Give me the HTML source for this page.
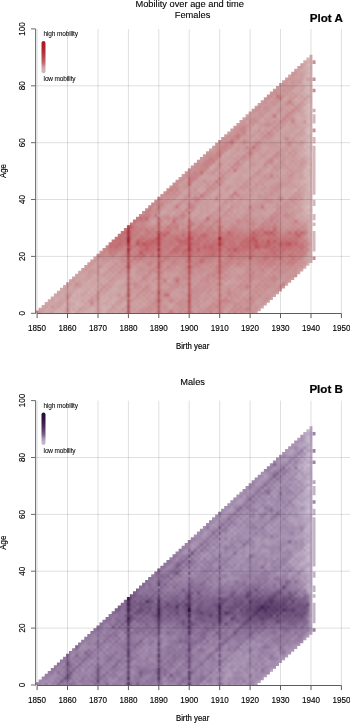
<!DOCTYPE html><html><head><meta charset="utf-8"><style>html,body{margin:0;padding:0;background:#fff;width:350px;height:723px;overflow:hidden}svg{display:block;will-change:transform}text{stroke:#000;stroke-width:0.22px;paint-order:stroke}text.tt{stroke-width:0.1px}text.lt{stroke-width:0.06px}text.tk{stroke-width:0.13px}text.ax{stroke-width:0.16px}</style></head><body><svg width="350" height="723" viewBox="0 0 350 723" font-family="Liberation Sans, sans-serif">
<defs><filter id="blr" x="-5%" y="-5%" width="110%" height="110%"><feGaussianBlur stdDeviation="0.8"/></filter></defs>
<rect width="350" height="723" fill="#fff"/>
<defs><clipPath id="clip313"><rect x="35.65" y="13.3" width="300" height="300.0"/></clipPath></defs>
<defs><clipPath id="st313"><path d="M35.65 310.60 L38.62 310.60 L38.62 307.75 L41.66 307.75 L41.66 304.91 L44.71 304.91 L44.71 302.07 L47.75 302.07 L47.75 299.22 L50.79 299.22 L50.79 296.38 L53.84 296.38 L53.84 293.53 L56.88 293.53 L56.88 290.69 L59.92 290.69 L59.92 287.85 L62.97 287.85 L62.97 285.00 L66.01 285.00 L66.01 282.16 L69.05 282.16 L69.05 279.31 L72.09 279.31 L72.09 276.47 L75.14 276.47 L75.14 273.63 L78.18 273.63 L78.18 270.78 L81.22 270.78 L81.22 267.94 L84.27 267.94 L84.27 265.09 L87.31 265.09 L87.31 262.25 L90.35 262.25 L90.35 259.41 L93.40 259.41 L93.40 256.56 L96.44 256.56 L96.44 253.72 L99.48 253.72 L99.48 250.87 L102.52 250.87 L102.52 248.03 L105.57 248.03 L105.57 245.19 L108.61 245.19 L108.61 242.34 L111.65 242.34 L111.65 239.50 L114.70 239.50 L114.70 236.65 L117.74 236.65 L117.74 233.81 L120.78 233.81 L120.78 230.97 L123.83 230.97 L123.83 228.12 L126.87 228.12 L126.87 225.28 L129.91 225.28 L129.91 222.43 L132.95 222.43 L132.95 219.59 L136.00 219.59 L136.00 216.75 L139.04 216.75 L139.04 213.90 L142.08 213.90 L142.08 211.06 L145.13 211.06 L145.13 208.21 L148.17 208.21 L148.17 205.37 L151.21 205.37 L151.21 202.53 L154.26 202.53 L154.26 199.68 L157.30 199.68 L157.30 196.84 L160.34 196.84 L160.34 193.99 L163.38 193.99 L163.38 191.15 L166.43 191.15 L166.43 188.31 L169.47 188.31 L169.47 185.46 L172.51 185.46 L172.51 182.62 L175.56 182.62 L175.56 179.77 L178.60 179.77 L178.60 176.93 L181.64 176.93 L181.64 174.09 L184.69 174.09 L184.69 171.24 L187.73 171.24 L187.73 168.40 L190.77 168.40 L190.77 165.55 L193.81 165.55 L193.81 162.71 L196.86 162.71 L196.86 159.87 L199.90 159.87 L199.90 157.02 L202.94 157.02 L202.94 154.18 L205.99 154.18 L205.99 151.33 L209.03 151.33 L209.03 148.49 L212.07 148.49 L212.07 145.65 L215.12 145.65 L215.12 142.80 L218.16 142.80 L218.16 139.96 L221.20 139.96 L221.20 137.11 L224.24 137.11 L224.24 134.27 L227.29 134.27 L227.29 131.43 L230.33 131.43 L230.33 128.58 L233.37 128.58 L233.37 125.74 L236.42 125.74 L236.42 122.89 L239.46 122.89 L239.46 120.05 L242.50 120.05 L242.50 117.21 L245.55 117.21 L245.55 114.36 L248.59 114.36 L248.59 111.52 L251.63 111.52 L251.63 108.67 L254.67 108.67 L254.67 105.83 L257.72 105.83 L257.72 102.99 L260.76 102.99 L260.76 100.14 L263.80 100.14 L263.80 97.30 L266.85 97.30 L266.85 94.45 L269.89 94.45 L269.89 91.61 L272.93 91.61 L272.93 88.77 L275.98 88.77 L275.98 85.92 L279.02 85.92 L279.02 83.08 L282.06 83.08 L282.06 80.23 L285.10 80.23 L285.10 77.39 L288.15 77.39 L288.15 74.55 L291.19 74.55 L291.19 71.70 L294.23 71.70 L294.23 68.86 L297.28 68.86 L297.28 66.01 L300.32 66.01 L300.32 63.17 L303.36 63.17 L303.36 60.33 L306.41 60.33 L306.41 57.48 L309.45 57.48 L309.45 54.64 L312.49 54.64 L312.49 262.96 L309.45 262.96 L309.45 265.81 L306.41 265.81 L306.41 268.65 L303.36 268.65 L303.36 271.49 L300.32 271.49 L300.32 274.34 L297.28 274.34 L297.28 277.18 L294.23 277.18 L294.23 280.03 L291.19 280.03 L291.19 282.87 L288.15 282.87 L288.15 285.71 L285.10 285.71 L285.10 288.56 L282.06 288.56 L282.06 291.40 L279.02 291.40 L279.02 294.25 L275.98 294.25 L275.98 297.09 L272.93 297.09 L272.93 299.93 L269.89 299.93 L269.89 302.78 L266.85 302.78 L266.85 305.62 L263.80 305.62 L263.80 308.47 L260.76 308.47 L260.76 311.31 L257.72 311.31 L257.72 313.30 L254.67 313.30 L254.67 313.30 L251.63 313.30 L251.63 313.30 L248.59 313.30 L248.59 313.30 L245.55 313.30 L245.55 313.30 L242.50 313.30 L242.50 313.30 L239.46 313.30 L239.46 313.30 L236.42 313.30 L236.42 313.30 L233.37 313.30 L233.37 313.30 L230.33 313.30 L230.33 313.30 L227.29 313.30 L227.29 313.30 L224.24 313.30 L224.24 313.30 L221.20 313.30 L221.20 313.30 L218.16 313.30 L218.16 313.30 L215.12 313.30 L215.12 313.30 L212.07 313.30 L212.07 313.30 L209.03 313.30 L209.03 313.30 L205.99 313.30 L205.99 313.30 L202.94 313.30 L202.94 313.30 L199.90 313.30 L199.90 313.30 L196.86 313.30 L196.86 313.30 L193.81 313.30 L193.81 313.30 L190.77 313.30 L190.77 313.30 L187.73 313.30 L187.73 313.30 L184.69 313.30 L184.69 313.30 L181.64 313.30 L181.64 313.30 L178.60 313.30 L178.60 313.30 L175.56 313.30 L175.56 313.30 L172.51 313.30 L172.51 313.30 L169.47 313.30 L169.47 313.30 L166.43 313.30 L166.43 313.30 L163.38 313.30 L163.38 313.30 L160.34 313.30 L160.34 313.30 L157.30 313.30 L157.30 313.30 L154.26 313.30 L154.26 313.30 L151.21 313.30 L151.21 313.30 L148.17 313.30 L148.17 313.30 L145.13 313.30 L145.13 313.30 L142.08 313.30 L142.08 313.30 L139.04 313.30 L139.04 313.30 L136.00 313.30 L136.00 313.30 L132.95 313.30 L132.95 313.30 L129.91 313.30 L129.91 313.30 L126.87 313.30 L126.87 313.30 L123.83 313.30 L123.83 313.30 L120.78 313.30 L120.78 313.30 L117.74 313.30 L117.74 313.30 L114.70 313.30 L114.70 313.30 L111.65 313.30 L111.65 313.30 L108.61 313.30 L108.61 313.30 L105.57 313.30 L105.57 313.30 L102.52 313.30 L102.52 313.30 L99.48 313.30 L99.48 313.30 L96.44 313.30 L96.44 313.30 L93.40 313.30 L93.40 313.30 L90.35 313.30 L90.35 313.30 L87.31 313.30 L87.31 313.30 L84.27 313.30 L84.27 313.30 L81.22 313.30 L81.22 313.30 L78.18 313.30 L78.18 313.30 L75.14 313.30 L75.14 313.30 L72.09 313.30 L72.09 313.30 L69.05 313.30 L69.05 313.30 L66.01 313.30 L66.01 313.30 L62.97 313.30 L62.97 313.30 L59.92 313.30 L59.92 313.30 L56.88 313.30 L56.88 313.30 L53.84 313.30 L53.84 313.30 L50.79 313.30 L50.79 313.30 L47.75 313.30 L47.75 313.30 L44.71 313.30 L44.71 313.30 L41.66 313.30 L41.66 313.30 L38.62 313.30 L38.62 313.30 L35.65 313.30Z"/></clipPath></defs><g clip-path="url(#st313)"><g filter="url(#blr)"><path fill="#dcc8c9" d="M306.41 205.37h3.34v3.56h-3.34zM306.41 131.43h3.34v3.55h-3.34zM306.41 120.05h3.34v3.56h-3.34zM306.41 102.99h3.34v3.55h-3.34z"/>
<path fill="#dac2c3" d="M306.41 165.55h3.34v3.56h-3.34zM306.41 148.49h3.34v3.56h-3.34zM306.41 85.92h3.34v3.56h-3.34zM306.41 63.17h3.34v3.56h-3.34z"/>
<path fill="#d8bdbe" d="M62.97 302.07h3.34v3.55h-3.34zM69.05 307.75h3.34v3.56h-3.34zM72.09 316.29h3.34v0.01h-3.34zM72.09 313.44h3.34v2.86h-3.34zM72.09 310.60h3.34v3.56h-3.34zM72.09 293.53h3.34v3.56h-3.34zM75.14 307.75h3.34v3.56h-3.34zM75.14 302.07h3.34v3.55h-3.34zM84.27 299.22h3.34v3.56h-3.34zM87.31 290.69h3.34v3.56h-3.34zM93.40 290.69h3.34v3.56h-3.34zM303.36 196.84h3.34v3.55h-3.34zM303.36 179.77h3.34v3.56h-3.34zM303.36 151.33h3.34v3.56h-3.34zM303.36 145.65h3.34v3.55h-3.34zM303.36 105.83h3.34v3.56h-3.34zM303.36 94.45h3.34v3.56h-3.34zM303.36 88.77h3.34v3.55h-3.34zM306.41 211.06h3.34v3.56h-3.34zM306.41 176.93h3.34v3.56h-3.34zM306.41 142.80h3.34v3.56h-3.34zM306.41 125.74h3.34v3.56h-3.34zM306.41 108.67h3.34v3.56h-3.34zM306.41 91.61h3.34v3.56h-3.34zM306.41 74.55h3.34v3.55h-3.34z"/>
<path fill="#d5b7b9" d="M50.79 302.07h3.34v3.55h-3.34zM53.84 316.29h3.34v0.01h-3.34zM53.84 313.44h3.34v2.86h-3.34zM53.84 310.60h3.34v3.56h-3.34zM53.84 299.22h3.34v3.56h-3.34zM56.88 307.75h3.34v3.56h-3.34zM75.14 290.69h3.34v3.56h-3.34zM78.18 304.91h3.34v3.56h-3.34zM78.18 287.85h3.34v3.56h-3.34zM81.22 302.07h3.34v3.55h-3.34zM87.31 296.38h3.34v3.56h-3.34zM90.35 287.85h3.34v3.56h-3.34zM108.61 304.91h3.34v3.56h-3.34zM120.78 304.91h3.34v3.56h-3.34zM123.83 302.07h3.34v3.55h-3.34zM294.23 188.31h3.34v3.56h-3.34zM300.32 182.62h3.34v3.56h-3.34zM300.32 154.18h3.34v3.56h-3.34zM300.32 137.11h3.34v3.56h-3.34zM303.36 208.21h3.34v3.56h-3.34zM303.36 202.53h3.34v3.56h-3.34zM303.36 174.09h3.34v3.55h-3.34zM303.36 168.40h3.34v3.56h-3.34zM303.36 111.52h3.34v3.56h-3.34zM303.36 80.23h3.34v3.56h-3.34zM303.36 77.39h3.34v3.56h-3.34zM306.41 267.94h3.34v3.56h-3.34zM306.41 265.09h3.34v3.56h-3.34zM306.41 262.25h3.34v3.56h-3.34zM306.41 216.75h3.34v3.56h-3.34zM306.41 199.68h3.34v3.56h-3.34zM306.41 193.99h3.34v3.56h-3.34zM306.41 188.31h3.34v3.56h-3.34zM306.41 171.24h3.34v3.56h-3.34zM306.41 159.87h3.34v3.55h-3.34zM306.41 154.18h3.34v3.56h-3.34zM306.41 137.11h3.34v3.56h-3.34zM306.41 128.58h3.34v3.56h-3.34zM306.41 114.36h3.34v3.56h-3.34zM306.41 111.52h3.34v3.56h-3.34zM306.41 97.30h3.34v3.56h-3.34zM306.41 68.86h3.34v3.56h-3.34zM306.41 57.48h3.34v3.56h-3.34zM306.41 54.64h3.34v3.55h-3.34zM306.41 51.79h3.34v3.56h-3.34zM309.45 236.65h3.34v3.56h-3.34zM309.45 230.97h3.34v3.56h-3.34zM309.45 222.43h3.34v3.55h-3.34zM309.45 219.59h3.34v3.56h-3.34zM309.45 211.06h3.34v3.56h-3.34zM309.45 196.84h3.34v3.55h-3.34zM309.45 165.55h3.34v3.56h-3.34zM309.45 154.18h3.34v3.56h-3.34zM309.45 151.33h3.34v3.56h-3.34zM309.45 142.80h3.34v3.56h-3.34zM309.45 131.43h3.34v3.55h-3.34zM309.45 128.58h3.34v3.56h-3.34zM309.45 125.74h3.34v3.56h-3.34zM309.45 108.67h3.34v3.56h-3.34zM309.45 105.83h3.34v3.56h-3.34zM309.45 80.23h3.34v3.56h-3.34zM309.45 74.55h3.34v3.55h-3.34zM309.45 68.86h3.34v3.56h-3.34zM309.45 63.17h3.34v3.56h-3.34zM312.49 236.65h3.34v3.56h-3.34zM312.49 230.97h3.34v3.56h-3.34zM312.49 222.43h3.34v3.55h-3.34zM312.49 219.59h3.34v3.56h-3.34zM312.49 211.06h3.34v3.56h-3.34zM312.49 196.84h3.34v3.55h-3.34zM312.49 165.55h3.34v3.56h-3.34zM312.49 154.18h3.34v3.56h-3.34zM312.49 151.33h3.34v3.56h-3.34zM312.49 142.80h3.34v3.56h-3.34zM312.49 131.43h3.34v3.55h-3.34zM312.49 128.58h3.34v3.56h-3.34zM312.49 125.74h3.34v3.56h-3.34zM312.49 108.67h3.34v3.56h-3.34zM312.49 105.83h3.34v3.56h-3.34zM312.49 80.23h3.34v3.56h-3.34zM312.49 74.55h3.34v3.55h-3.34zM312.49 68.86h3.34v3.56h-3.34zM312.49 63.17h3.34v3.56h-3.34zM315.53 236.65h3.34v3.56h-3.34zM315.53 230.97h3.34v3.56h-3.34zM315.53 222.43h3.34v3.55h-3.34zM315.53 219.59h3.34v3.56h-3.34zM315.53 211.06h3.34v3.56h-3.34zM315.53 196.84h3.34v3.55h-3.34zM315.53 165.55h3.34v3.56h-3.34zM315.53 154.18h3.34v3.56h-3.34zM315.53 151.33h3.34v3.56h-3.34zM315.53 142.80h3.34v3.56h-3.34zM315.53 131.43h3.34v3.55h-3.34zM315.53 128.58h3.34v3.56h-3.34zM315.53 125.74h3.34v3.56h-3.34zM315.53 108.67h3.34v3.56h-3.34zM315.53 105.83h3.34v3.56h-3.34zM315.53 80.23h3.34v3.56h-3.34zM315.53 74.55h3.34v3.55h-3.34zM315.53 68.86h3.34v3.56h-3.34zM315.53 63.17h3.34v3.56h-3.34z"/>
<path fill="#d3b2b4" d="M44.71 307.75h3.34v3.56h-3.34zM47.75 304.91h3.34v3.56h-3.34zM50.79 307.75h3.34v3.56h-3.34zM59.92 316.29h3.34v0.01h-3.34zM59.92 313.44h3.34v2.86h-3.34zM59.92 310.60h3.34v3.56h-3.34zM59.92 304.91h3.34v3.56h-3.34zM59.92 293.53h3.34v3.56h-3.34zM69.05 299.22h3.34v3.56h-3.34zM69.05 296.38h3.34v3.56h-3.34zM69.05 285.00h3.34v3.56h-3.34zM72.09 304.91h3.34v3.56h-3.34zM72.09 299.22h3.34v3.56h-3.34zM78.18 299.22h3.34v3.56h-3.34zM81.22 296.38h3.34v3.56h-3.34zM84.27 293.53h3.34v3.56h-3.34zM87.31 302.07h3.34v3.55h-3.34zM87.31 279.31h3.34v3.56h-3.34zM90.35 293.53h3.34v3.56h-3.34zM93.40 307.75h3.34v3.56h-3.34zM93.40 285.00h3.34v3.56h-3.34zM93.40 273.63h3.34v3.55h-3.34zM96.44 287.85h3.34v3.56h-3.34zM99.48 296.38h3.34v3.56h-3.34zM99.48 279.31h3.34v3.56h-3.34zM99.48 267.94h3.34v3.56h-3.34zM102.52 316.29h3.34v0.01h-3.34zM102.52 313.44h3.34v2.86h-3.34zM102.52 310.60h3.34v3.56h-3.34zM102.52 304.91h3.34v3.56h-3.34zM102.52 299.22h3.34v3.56h-3.34zM102.52 282.16h3.34v3.56h-3.34zM102.52 276.47h3.34v3.56h-3.34zM105.57 307.75h3.34v3.56h-3.34zM105.57 296.38h3.34v3.56h-3.34zM105.57 290.69h3.34v3.56h-3.34zM105.57 279.31h3.34v3.56h-3.34zM108.61 287.85h3.34v3.56h-3.34zM111.65 285.00h3.34v3.56h-3.34zM111.65 273.63h3.34v3.55h-3.34zM114.70 287.85h3.34v3.56h-3.34zM114.70 282.16h3.34v3.56h-3.34zM114.70 270.78h3.34v3.56h-3.34zM117.74 307.75h3.34v3.56h-3.34zM117.74 279.31h3.34v3.56h-3.34zM117.74 267.94h3.34v3.56h-3.34zM120.78 293.53h3.34v3.56h-3.34zM129.91 285.00h3.34v3.56h-3.34zM172.51 211.06h3.34v3.56h-3.34zM190.77 193.99h3.34v3.56h-3.34zM196.86 193.99h3.34v3.56h-3.34zM196.86 188.31h3.34v3.56h-3.34zM199.90 191.15h3.34v3.55h-3.34zM202.94 188.31h3.34v3.56h-3.34zM209.03 165.55h3.34v3.56h-3.34zM215.12 176.93h3.34v3.56h-3.34zM215.12 171.24h3.34v3.56h-3.34zM227.29 165.55h3.34v3.56h-3.34zM230.33 162.71h3.34v3.56h-3.34zM245.55 142.80h3.34v3.56h-3.34zM251.63 137.11h3.34v3.56h-3.34zM254.67 168.40h3.34v3.56h-3.34zM254.67 134.27h3.34v3.56h-3.34zM260.76 128.58h3.34v3.56h-3.34zM266.85 168.40h3.34v3.56h-3.34zM266.85 128.58h3.34v3.56h-3.34zM269.89 125.74h3.34v3.56h-3.34zM272.93 208.21h3.34v3.56h-3.34zM275.98 114.36h3.34v3.56h-3.34zM285.10 196.84h3.34v3.55h-3.34zM288.15 193.99h3.34v3.56h-3.34zM288.15 148.49h3.34v3.56h-3.34zM288.15 108.67h3.34v3.56h-3.34zM291.19 105.83h3.34v3.56h-3.34zM294.23 102.99h3.34v3.55h-3.34zM294.23 97.30h3.34v3.56h-3.34zM297.28 213.90h3.34v3.56h-3.34zM297.28 157.02h3.34v3.56h-3.34zM297.28 128.58h3.34v3.56h-3.34zM297.28 117.21h3.34v3.55h-3.34zM297.28 100.14h3.34v3.56h-3.34zM300.32 205.37h3.34v3.56h-3.34zM300.32 199.68h3.34v3.56h-3.34zM300.32 148.49h3.34v3.56h-3.34zM300.32 91.61h3.34v3.56h-3.34zM300.32 68.86h3.34v3.56h-3.34zM303.36 270.78h3.34v3.56h-3.34zM303.36 267.94h3.34v3.56h-3.34zM303.36 265.09h3.34v3.56h-3.34zM303.36 219.59h3.34v3.56h-3.34zM303.36 213.90h3.34v3.56h-3.34zM303.36 185.46h3.34v3.56h-3.34zM303.36 134.27h3.34v3.56h-3.34zM303.36 128.58h3.34v3.56h-3.34zM303.36 122.89h3.34v3.56h-3.34zM303.36 117.21h3.34v3.55h-3.34zM303.36 100.14h3.34v3.56h-3.34zM303.36 66.01h3.34v3.56h-3.34zM306.41 185.46h3.34v3.56h-3.34zM306.41 182.62h3.34v3.56h-3.34zM306.41 179.77h3.34v3.56h-3.34zM306.41 151.33h3.34v3.56h-3.34zM306.41 139.96h3.34v3.56h-3.34zM306.41 117.21h3.34v3.55h-3.34zM306.41 105.83h3.34v3.56h-3.34zM306.41 83.08h3.34v3.56h-3.34zM306.41 80.23h3.34v3.56h-3.34zM309.45 265.09h3.34v3.56h-3.34zM309.45 262.25h3.34v3.56h-3.34zM309.45 259.41h3.34v3.56h-3.34zM309.45 256.56h3.34v3.56h-3.34zM309.45 253.72h3.34v3.56h-3.34zM309.45 250.87h3.34v3.55h-3.34zM309.45 248.03h3.34v3.55h-3.34zM309.45 245.19h3.34v3.56h-3.34zM309.45 228.12h3.34v3.56h-3.34zM309.45 225.28h3.34v3.56h-3.34zM309.45 213.90h3.34v3.56h-3.34zM309.45 205.37h3.34v3.56h-3.34zM309.45 202.53h3.34v3.56h-3.34zM309.45 191.15h3.34v3.55h-3.34zM309.45 188.31h3.34v3.56h-3.34zM309.45 185.46h3.34v3.56h-3.34zM309.45 182.62h3.34v3.56h-3.34zM309.45 179.77h3.34v3.56h-3.34zM309.45 176.93h3.34v3.56h-3.34zM309.45 174.09h3.34v3.55h-3.34zM309.45 159.87h3.34v3.55h-3.34zM309.45 157.02h3.34v3.56h-3.34zM309.45 148.49h3.34v3.56h-3.34zM309.45 139.96h3.34v3.56h-3.34zM309.45 137.11h3.34v3.56h-3.34zM309.45 122.89h3.34v3.56h-3.34zM309.45 120.05h3.34v3.56h-3.34zM309.45 117.21h3.34v3.55h-3.34zM309.45 114.36h3.34v3.56h-3.34zM309.45 111.52h3.34v3.56h-3.34zM309.45 102.99h3.34v3.55h-3.34zM309.45 100.14h3.34v3.56h-3.34zM309.45 94.45h3.34v3.56h-3.34zM309.45 91.61h3.34v3.56h-3.34zM309.45 88.77h3.34v3.55h-3.34zM309.45 83.08h3.34v3.56h-3.34zM309.45 71.70h3.34v3.56h-3.34zM309.45 60.33h3.34v3.55h-3.34zM309.45 57.48h3.34v3.56h-3.34zM309.45 54.64h3.34v3.55h-3.34zM309.45 51.79h3.34v3.56h-3.34zM309.45 48.95h3.34v3.56h-3.34zM312.49 265.09h3.34v3.56h-3.34zM312.49 262.25h3.34v3.56h-3.34zM312.49 259.41h3.34v3.56h-3.34zM312.49 256.56h3.34v3.56h-3.34zM312.49 253.72h3.34v3.56h-3.34zM312.49 250.87h3.34v3.55h-3.34zM312.49 248.03h3.34v3.55h-3.34zM312.49 245.19h3.34v3.56h-3.34zM312.49 228.12h3.34v3.56h-3.34zM312.49 225.28h3.34v3.56h-3.34zM312.49 213.90h3.34v3.56h-3.34zM312.49 205.37h3.34v3.56h-3.34zM312.49 202.53h3.34v3.56h-3.34zM312.49 191.15h3.34v3.55h-3.34zM312.49 188.31h3.34v3.56h-3.34zM312.49 185.46h3.34v3.56h-3.34zM312.49 182.62h3.34v3.56h-3.34zM312.49 179.77h3.34v3.56h-3.34zM312.49 176.93h3.34v3.56h-3.34zM312.49 174.09h3.34v3.55h-3.34zM312.49 159.87h3.34v3.55h-3.34zM312.49 157.02h3.34v3.56h-3.34zM312.49 148.49h3.34v3.56h-3.34zM312.49 139.96h3.34v3.56h-3.34zM312.49 137.11h3.34v3.56h-3.34zM312.49 122.89h3.34v3.56h-3.34zM312.49 120.05h3.34v3.56h-3.34zM312.49 117.21h3.34v3.55h-3.34zM312.49 114.36h3.34v3.56h-3.34zM312.49 111.52h3.34v3.56h-3.34zM312.49 102.99h3.34v3.55h-3.34zM312.49 100.14h3.34v3.56h-3.34zM312.49 94.45h3.34v3.56h-3.34zM312.49 91.61h3.34v3.56h-3.34zM312.49 88.77h3.34v3.55h-3.34zM312.49 83.08h3.34v3.56h-3.34zM312.49 71.70h3.34v3.56h-3.34zM312.49 60.33h3.34v3.55h-3.34zM312.49 57.48h3.34v3.56h-3.34zM312.49 54.64h3.34v3.55h-3.34zM312.49 51.79h3.34v3.56h-3.34zM312.49 48.95h3.34v3.56h-3.34zM315.53 265.09h3.34v3.56h-3.34zM315.53 262.25h3.34v3.56h-3.34zM315.53 259.41h3.34v3.56h-3.34zM315.53 256.56h3.34v3.56h-3.34zM315.53 253.72h3.34v3.56h-3.34zM315.53 250.87h3.34v3.55h-3.34zM315.53 248.03h3.34v3.55h-3.34zM315.53 245.19h3.34v3.56h-3.34zM315.53 228.12h3.34v3.56h-3.34zM315.53 225.28h3.34v3.56h-3.34zM315.53 213.90h3.34v3.56h-3.34zM315.53 205.37h3.34v3.56h-3.34zM315.53 202.53h3.34v3.56h-3.34zM315.53 191.15h3.34v3.55h-3.34zM315.53 188.31h3.34v3.56h-3.34zM315.53 185.46h3.34v3.56h-3.34zM315.53 182.62h3.34v3.56h-3.34zM315.53 179.77h3.34v3.56h-3.34zM315.53 176.93h3.34v3.56h-3.34zM315.53 174.09h3.34v3.55h-3.34zM315.53 159.87h3.34v3.55h-3.34zM315.53 157.02h3.34v3.56h-3.34zM315.53 148.49h3.34v3.56h-3.34zM315.53 139.96h3.34v3.56h-3.34zM315.53 137.11h3.34v3.56h-3.34zM315.53 122.89h3.34v3.56h-3.34zM315.53 120.05h3.34v3.56h-3.34zM315.53 117.21h3.34v3.55h-3.34zM315.53 114.36h3.34v3.56h-3.34zM315.53 111.52h3.34v3.56h-3.34zM315.53 102.99h3.34v3.55h-3.34zM315.53 100.14h3.34v3.56h-3.34zM315.53 94.45h3.34v3.56h-3.34zM315.53 91.61h3.34v3.56h-3.34zM315.53 88.77h3.34v3.55h-3.34zM315.53 83.08h3.34v3.56h-3.34zM315.53 71.70h3.34v3.56h-3.34zM315.53 60.33h3.34v3.55h-3.34zM315.53 57.48h3.34v3.56h-3.34zM315.53 54.64h3.34v3.55h-3.34zM315.53 51.79h3.34v3.56h-3.34zM315.53 48.95h3.34v3.56h-3.34z"/>
<path fill="#d1adae" d="M47.75 299.22h3.34v3.56h-3.34zM47.75 296.38h3.34v3.56h-3.34zM47.75 293.53h3.34v3.56h-3.34zM53.84 304.91h3.34v3.56h-3.34zM56.88 316.29h3.34v0.01h-3.34zM56.88 313.44h3.34v2.86h-3.34zM56.88 310.60h3.34v3.56h-3.34zM56.88 296.38h3.34v3.56h-3.34zM59.92 287.85h3.34v3.56h-3.34zM59.92 285.00h3.34v3.56h-3.34zM59.92 282.16h3.34v3.56h-3.34zM62.97 307.75h3.34v3.56h-3.34zM62.97 304.91h3.34v3.56h-3.34zM62.97 296.38h3.34v3.56h-3.34zM62.97 290.69h3.34v3.56h-3.34zM62.97 285.00h3.34v3.56h-3.34zM62.97 282.16h3.34v3.56h-3.34zM62.97 279.31h3.34v3.56h-3.34zM72.09 282.16h3.34v3.56h-3.34zM75.14 279.31h3.34v3.56h-3.34zM78.18 293.53h3.34v3.56h-3.34zM81.22 290.69h3.34v3.56h-3.34zM81.22 285.00h3.34v3.56h-3.34zM81.22 273.63h3.34v3.55h-3.34zM84.27 316.29h3.34v0.01h-3.34zM84.27 313.44h3.34v2.86h-3.34zM84.27 310.60h3.34v3.56h-3.34zM84.27 304.91h3.34v3.56h-3.34zM84.27 287.85h3.34v3.56h-3.34zM84.27 282.16h3.34v3.56h-3.34zM84.27 270.78h3.34v3.56h-3.34zM87.31 307.75h3.34v3.56h-3.34zM87.31 285.00h3.34v3.56h-3.34zM87.31 267.94h3.34v3.56h-3.34zM90.35 316.29h3.34v0.01h-3.34zM90.35 313.44h3.34v2.86h-3.34zM90.35 310.60h3.34v3.56h-3.34zM90.35 307.75h3.34v3.56h-3.34zM90.35 304.91h3.34v3.56h-3.34zM90.35 276.47h3.34v3.56h-3.34zM90.35 265.09h3.34v3.56h-3.34zM93.40 302.07h3.34v3.55h-3.34zM93.40 262.25h3.34v3.56h-3.34zM96.44 282.16h3.34v3.56h-3.34zM99.48 302.07h3.34v3.55h-3.34zM99.48 285.00h3.34v3.56h-3.34zM102.52 307.75h3.34v3.56h-3.34zM102.52 287.85h3.34v3.56h-3.34zM105.57 285.00h3.34v3.56h-3.34zM105.57 273.63h3.34v3.55h-3.34zM105.57 262.25h3.34v3.56h-3.34zM108.61 299.22h3.34v3.56h-3.34zM108.61 276.47h3.34v3.56h-3.34zM108.61 270.78h3.34v3.56h-3.34zM111.65 302.07h3.34v3.55h-3.34zM111.65 299.22h3.34v3.56h-3.34zM111.65 296.38h3.34v3.56h-3.34zM111.65 290.69h3.34v3.56h-3.34zM114.70 316.29h3.34v0.01h-3.34zM114.70 313.44h3.34v2.86h-3.34zM114.70 310.60h3.34v3.56h-3.34zM114.70 304.91h3.34v3.56h-3.34zM117.74 296.38h3.34v3.56h-3.34zM120.78 316.29h3.34v0.01h-3.34zM120.78 313.44h3.34v2.86h-3.34zM120.78 310.60h3.34v3.56h-3.34zM123.83 307.75h3.34v3.56h-3.34zM129.91 302.07h3.34v3.55h-3.34zM129.91 273.63h3.34v3.55h-3.34zM129.91 267.94h3.34v3.56h-3.34zM132.95 293.53h3.34v3.56h-3.34zM136.00 307.75h3.34v3.56h-3.34zM139.04 304.91h3.34v3.56h-3.34zM139.04 276.47h3.34v3.56h-3.34zM142.08 302.07h3.34v3.55h-3.34zM142.08 285.00h3.34v3.56h-3.34zM160.34 211.06h3.34v3.56h-3.34zM166.43 279.31h3.34v3.56h-3.34zM169.47 304.91h3.34v3.56h-3.34zM169.47 213.90h3.34v3.56h-3.34zM172.51 199.68h3.34v3.56h-3.34zM175.56 208.21h3.34v3.56h-3.34zM178.60 205.37h3.34v3.56h-3.34zM178.60 193.99h3.34v3.56h-3.34zM181.64 208.21h3.34v3.56h-3.34zM184.69 205.37h3.34v3.56h-3.34zM190.77 285.00h3.34v3.56h-3.34zM190.77 199.68h3.34v3.56h-3.34zM193.81 316.29h3.34v0.01h-3.34zM193.81 313.44h3.34v2.86h-3.34zM193.81 310.60h3.34v3.56h-3.34zM193.81 179.77h3.34v3.56h-3.34zM196.86 205.37h3.34v3.56h-3.34zM196.86 176.93h3.34v3.56h-3.34zM199.90 304.91h3.34v3.56h-3.34zM199.90 185.46h3.34v3.56h-3.34zM202.94 199.68h3.34v3.56h-3.34zM202.94 182.62h3.34v3.56h-3.34zM205.99 213.90h3.34v3.56h-3.34zM205.99 196.84h3.34v3.55h-3.34zM209.03 199.68h3.34v3.56h-3.34zM209.03 193.99h3.34v3.56h-3.34zM212.07 208.21h3.34v3.56h-3.34zM212.07 191.15h3.34v3.55h-3.34zM221.20 165.55h3.34v3.56h-3.34zM221.20 154.18h3.34v3.56h-3.34zM224.24 316.29h3.34v0.01h-3.34zM224.24 313.44h3.34v2.86h-3.34zM224.24 310.60h3.34v3.56h-3.34zM224.24 282.16h3.34v3.56h-3.34zM224.24 179.77h3.34v3.56h-3.34zM224.24 168.40h3.34v3.56h-3.34zM224.24 162.71h3.34v3.56h-3.34zM224.24 151.33h3.34v3.56h-3.34zM227.29 307.75h3.34v3.56h-3.34zM227.29 279.31h3.34v3.56h-3.34zM227.29 205.37h3.34v3.56h-3.34zM227.29 159.87h3.34v3.55h-3.34zM227.29 148.49h3.34v3.56h-3.34zM230.33 191.15h3.34v3.55h-3.34zM233.37 199.68h3.34v3.56h-3.34zM233.37 159.87h3.34v3.55h-3.34zM233.37 154.18h3.34v3.56h-3.34zM233.37 142.80h3.34v3.56h-3.34zM236.42 213.90h3.34v3.56h-3.34zM236.42 196.84h3.34v3.55h-3.34zM236.42 157.02h3.34v3.56h-3.34zM236.42 151.33h3.34v3.56h-3.34zM236.42 139.96h3.34v3.56h-3.34zM239.46 205.37h3.34v3.56h-3.34zM239.46 182.62h3.34v3.56h-3.34zM239.46 148.49h3.34v3.56h-3.34zM239.46 137.11h3.34v3.56h-3.34zM242.50 293.53h3.34v3.56h-3.34zM242.50 202.53h3.34v3.56h-3.34zM242.50 162.71h3.34v3.56h-3.34zM242.50 151.33h3.34v3.56h-3.34zM245.55 290.69h3.34v3.56h-3.34zM245.55 159.87h3.34v3.55h-3.34zM245.55 148.49h3.34v3.56h-3.34zM245.55 120.05h3.34v3.56h-3.34zM248.59 185.46h3.34v3.56h-3.34zM248.59 145.65h3.34v3.55h-3.34zM251.63 285.00h3.34v3.56h-3.34zM251.63 199.68h3.34v3.56h-3.34zM251.63 182.62h3.34v3.56h-3.34zM251.63 171.24h3.34v3.56h-3.34zM251.63 125.74h3.34v3.56h-3.34zM254.67 196.84h3.34v3.55h-3.34zM254.67 179.77h3.34v3.56h-3.34zM254.67 122.89h3.34v3.56h-3.34zM254.67 111.52h3.34v3.56h-3.34zM257.72 165.55h3.34v3.56h-3.34zM257.72 137.11h3.34v3.56h-3.34zM260.76 191.15h3.34v3.55h-3.34zM260.76 185.46h3.34v3.56h-3.34zM260.76 162.71h3.34v3.56h-3.34zM260.76 117.21h3.34v3.55h-3.34zM263.80 182.62h3.34v3.56h-3.34zM263.80 171.24h3.34v3.56h-3.34zM263.80 131.43h3.34v3.55h-3.34zM263.80 114.36h3.34v3.56h-3.34zM266.85 270.78h3.34v3.56h-3.34zM266.85 208.21h3.34v3.56h-3.34zM266.85 202.53h3.34v3.56h-3.34zM266.85 139.96h3.34v3.56h-3.34zM266.85 111.52h3.34v3.56h-3.34zM269.89 267.94h3.34v3.56h-3.34zM269.89 165.55h3.34v3.56h-3.34zM269.89 154.18h3.34v3.56h-3.34zM272.93 196.84h3.34v3.55h-3.34zM272.93 122.89h3.34v3.56h-3.34zM272.93 117.21h3.34v3.55h-3.34zM272.93 94.45h3.34v3.56h-3.34zM275.98 171.24h3.34v3.56h-3.34zM275.98 159.87h3.34v3.55h-3.34zM275.98 148.49h3.34v3.56h-3.34zM275.98 131.43h3.34v3.55h-3.34zM275.98 120.05h3.34v3.56h-3.34zM279.02 202.53h3.34v3.56h-3.34zM279.02 174.09h3.34v3.55h-3.34zM279.02 168.40h3.34v3.56h-3.34zM279.02 157.02h3.34v3.56h-3.34zM279.02 128.58h3.34v3.56h-3.34zM279.02 117.21h3.34v3.55h-3.34zM282.06 188.31h3.34v3.56h-3.34zM282.06 171.24h3.34v3.56h-3.34zM282.06 142.80h3.34v3.56h-3.34zM282.06 97.30h3.34v3.56h-3.34zM285.10 287.85h3.34v3.56h-3.34zM285.10 285.00h3.34v3.56h-3.34zM285.10 282.16h3.34v3.56h-3.34zM285.10 151.33h3.34v3.56h-3.34zM285.10 122.89h3.34v3.56h-3.34zM285.10 105.83h3.34v3.56h-3.34zM288.15 120.05h3.34v3.56h-3.34zM288.15 80.23h3.34v3.56h-3.34zM291.19 191.15h3.34v3.55h-3.34zM291.19 162.71h3.34v3.56h-3.34zM291.19 134.27h3.34v3.56h-3.34zM291.19 88.77h3.34v3.55h-3.34zM294.23 216.75h3.34v3.56h-3.34zM294.23 205.37h3.34v3.56h-3.34zM294.23 114.36h3.34v3.56h-3.34zM297.28 185.46h3.34v3.56h-3.34zM297.28 179.77h3.34v3.56h-3.34zM297.28 151.33h3.34v3.56h-3.34zM297.28 145.65h3.34v3.55h-3.34zM297.28 139.96h3.34v3.56h-3.34zM297.28 94.45h3.34v3.56h-3.34zM300.32 211.06h3.34v3.56h-3.34zM300.32 188.31h3.34v3.56h-3.34zM300.32 171.24h3.34v3.56h-3.34zM300.32 125.74h3.34v3.56h-3.34zM300.32 97.30h3.34v3.56h-3.34zM303.36 205.37h3.34v3.56h-3.34zM303.36 191.15h3.34v3.55h-3.34zM303.36 171.24h3.34v3.56h-3.34zM303.36 157.02h3.34v3.56h-3.34zM303.36 142.80h3.34v3.56h-3.34zM303.36 83.08h3.34v3.56h-3.34zM303.36 71.70h3.34v3.56h-3.34zM303.36 60.33h3.34v3.55h-3.34zM303.36 57.48h3.34v3.56h-3.34zM303.36 54.64h3.34v3.55h-3.34zM306.41 233.81h3.34v3.56h-3.34zM306.41 222.43h3.34v3.55h-3.34zM306.41 208.21h3.34v3.56h-3.34zM306.41 202.53h3.34v3.56h-3.34zM306.41 174.09h3.34v3.55h-3.34zM306.41 168.40h3.34v3.56h-3.34zM306.41 162.71h3.34v3.56h-3.34zM306.41 145.65h3.34v3.55h-3.34zM306.41 88.77h3.34v3.55h-3.34zM306.41 71.70h3.34v3.56h-3.34zM306.41 66.01h3.34v3.56h-3.34zM309.45 242.34h3.34v3.55h-3.34zM309.45 239.50h3.34v3.56h-3.34zM309.45 233.81h3.34v3.56h-3.34zM309.45 216.75h3.34v3.56h-3.34zM309.45 208.21h3.34v3.56h-3.34zM309.45 199.68h3.34v3.56h-3.34zM309.45 193.99h3.34v3.56h-3.34zM309.45 171.24h3.34v3.56h-3.34zM309.45 168.40h3.34v3.56h-3.34zM309.45 162.71h3.34v3.56h-3.34zM309.45 145.65h3.34v3.55h-3.34zM309.45 134.27h3.34v3.56h-3.34zM309.45 97.30h3.34v3.56h-3.34zM309.45 85.92h3.34v3.56h-3.34zM309.45 77.39h3.34v3.56h-3.34zM309.45 66.01h3.34v3.56h-3.34zM312.49 242.34h3.34v3.55h-3.34zM312.49 239.50h3.34v3.56h-3.34zM312.49 233.81h3.34v3.56h-3.34zM312.49 216.75h3.34v3.56h-3.34zM312.49 208.21h3.34v3.56h-3.34zM312.49 199.68h3.34v3.56h-3.34zM312.49 193.99h3.34v3.56h-3.34zM312.49 171.24h3.34v3.56h-3.34zM312.49 168.40h3.34v3.56h-3.34zM312.49 162.71h3.34v3.56h-3.34zM312.49 145.65h3.34v3.55h-3.34zM312.49 134.27h3.34v3.56h-3.34zM312.49 97.30h3.34v3.56h-3.34zM312.49 85.92h3.34v3.56h-3.34zM312.49 77.39h3.34v3.56h-3.34zM312.49 66.01h3.34v3.56h-3.34zM315.53 242.34h3.34v3.55h-3.34zM315.53 239.50h3.34v3.56h-3.34zM315.53 233.81h3.34v3.56h-3.34zM315.53 216.75h3.34v3.56h-3.34zM315.53 208.21h3.34v3.56h-3.34zM315.53 199.68h3.34v3.56h-3.34zM315.53 193.99h3.34v3.56h-3.34zM315.53 171.24h3.34v3.56h-3.34zM315.53 168.40h3.34v3.56h-3.34zM315.53 162.71h3.34v3.56h-3.34zM315.53 145.65h3.34v3.55h-3.34zM315.53 134.27h3.34v3.56h-3.34zM315.53 97.30h3.34v3.56h-3.34zM315.53 85.92h3.34v3.56h-3.34zM315.53 77.39h3.34v3.56h-3.34zM315.53 66.01h3.34v3.56h-3.34z"/>
<path fill="#cfa7a9" d="M38.62 307.75h3.34v3.56h-3.34zM38.62 304.91h3.34v3.56h-3.34zM38.62 302.07h3.34v3.55h-3.34zM41.66 316.29h3.34v0.01h-3.34zM41.66 313.44h3.34v2.86h-3.34zM41.66 310.60h3.34v3.56h-3.34zM41.66 304.91h3.34v3.56h-3.34zM41.66 302.07h3.34v3.55h-3.34zM41.66 299.22h3.34v3.56h-3.34zM44.71 316.29h3.34v0.01h-3.34zM44.71 313.44h3.34v2.86h-3.34zM44.71 310.60h3.34v3.56h-3.34zM44.71 302.07h3.34v3.55h-3.34zM44.71 299.22h3.34v3.56h-3.34zM44.71 296.38h3.34v3.56h-3.34zM47.75 307.75h3.34v3.56h-3.34zM50.79 296.38h3.34v3.56h-3.34zM50.79 293.53h3.34v3.56h-3.34zM50.79 290.69h3.34v3.56h-3.34zM53.84 296.38h3.34v3.56h-3.34zM53.84 293.53h3.34v3.56h-3.34zM53.84 290.69h3.34v3.56h-3.34zM53.84 287.85h3.34v3.56h-3.34zM56.88 290.69h3.34v3.56h-3.34zM56.88 287.85h3.34v3.56h-3.34zM56.88 285.00h3.34v3.56h-3.34zM59.92 307.75h3.34v3.56h-3.34zM62.97 316.29h3.34v0.01h-3.34zM62.97 313.44h3.34v2.86h-3.34zM62.97 310.60h3.34v3.56h-3.34zM69.05 316.29h3.34v0.01h-3.34zM69.05 313.44h3.34v2.86h-3.34zM69.05 310.60h3.34v3.56h-3.34zM69.05 304.91h3.34v3.56h-3.34zM69.05 302.07h3.34v3.55h-3.34zM75.14 304.91h3.34v3.56h-3.34zM75.14 299.22h3.34v3.56h-3.34zM75.14 296.38h3.34v3.56h-3.34zM78.18 316.29h3.34v0.01h-3.34zM78.18 313.44h3.34v2.86h-3.34zM78.18 310.60h3.34v3.56h-3.34zM78.18 302.07h3.34v3.55h-3.34zM78.18 296.38h3.34v3.56h-3.34zM78.18 290.69h3.34v3.56h-3.34zM78.18 276.47h3.34v3.56h-3.34zM81.22 307.75h3.34v3.56h-3.34zM81.22 287.85h3.34v3.56h-3.34zM81.22 279.31h3.34v3.56h-3.34zM87.31 316.29h3.34v0.01h-3.34zM87.31 313.44h3.34v2.86h-3.34zM87.31 310.60h3.34v3.56h-3.34zM93.40 304.91h3.34v3.56h-3.34zM93.40 296.38h3.34v3.56h-3.34zM99.48 307.75h3.34v3.56h-3.34zM99.48 304.91h3.34v3.56h-3.34zM99.48 299.22h3.34v3.56h-3.34zM99.48 290.69h3.34v3.56h-3.34zM99.48 270.78h3.34v3.56h-3.34zM102.52 293.53h3.34v3.56h-3.34zM102.52 265.09h3.34v3.56h-3.34zM105.57 304.91h3.34v3.56h-3.34zM105.57 302.07h3.34v3.55h-3.34zM105.57 293.53h3.34v3.56h-3.34zM105.57 267.94h3.34v3.56h-3.34zM108.61 302.07h3.34v3.55h-3.34zM108.61 293.53h3.34v3.56h-3.34zM108.61 282.16h3.34v3.56h-3.34zM111.65 307.75h3.34v3.56h-3.34zM111.65 287.85h3.34v3.56h-3.34zM111.65 267.94h3.34v3.56h-3.34zM114.70 299.22h3.34v3.56h-3.34zM114.70 296.38h3.34v3.56h-3.34zM114.70 293.53h3.34v3.56h-3.34zM114.70 276.47h3.34v3.56h-3.34zM114.70 265.09h3.34v3.56h-3.34zM117.74 290.69h3.34v3.56h-3.34zM117.74 285.00h3.34v3.56h-3.34zM117.74 273.63h3.34v3.55h-3.34zM117.74 262.25h3.34v3.56h-3.34zM120.78 290.69h3.34v3.56h-3.34zM120.78 282.16h3.34v3.56h-3.34zM120.78 279.31h3.34v3.56h-3.34zM120.78 276.47h3.34v3.56h-3.34zM120.78 270.78h3.34v3.56h-3.34zM120.78 265.09h3.34v3.56h-3.34zM123.83 299.22h3.34v3.56h-3.34zM123.83 290.69h3.34v3.56h-3.34zM123.83 287.85h3.34v3.56h-3.34zM123.83 285.00h3.34v3.56h-3.34zM123.83 279.31h3.34v3.56h-3.34zM123.83 273.63h3.34v3.55h-3.34zM123.83 267.94h3.34v3.56h-3.34zM123.83 262.25h3.34v3.56h-3.34zM129.91 307.75h3.34v3.56h-3.34zM129.91 296.38h3.34v3.56h-3.34zM132.95 299.22h3.34v3.56h-3.34zM132.95 276.47h3.34v3.56h-3.34zM132.95 265.09h3.34v3.56h-3.34zM136.00 302.07h3.34v3.55h-3.34zM136.00 279.31h3.34v3.56h-3.34zM139.04 299.22h3.34v3.56h-3.34zM139.04 293.53h3.34v3.56h-3.34zM142.08 296.38h3.34v3.56h-3.34zM145.13 299.22h3.34v3.56h-3.34zM148.17 279.31h3.34v3.56h-3.34zM151.21 287.85h3.34v3.56h-3.34zM151.21 219.59h3.34v3.56h-3.34zM154.26 285.00h3.34v3.56h-3.34zM154.26 273.63h3.34v3.55h-3.34zM154.26 216.75h3.34v3.56h-3.34zM160.34 285.00h3.34v3.56h-3.34zM160.34 222.43h3.34v3.55h-3.34zM163.38 219.59h3.34v3.56h-3.34zM163.38 208.21h3.34v3.56h-3.34zM166.43 222.43h3.34v3.55h-3.34zM166.43 205.37h3.34v3.56h-3.34zM169.47 293.53h3.34v3.56h-3.34zM172.51 302.07h3.34v3.55h-3.34zM172.51 290.69h3.34v3.56h-3.34zM172.51 273.63h3.34v3.55h-3.34zM175.56 299.22h3.34v3.56h-3.34zM175.56 293.53h3.34v3.56h-3.34zM175.56 287.85h3.34v3.56h-3.34zM175.56 196.84h3.34v3.55h-3.34zM178.60 296.38h3.34v3.56h-3.34zM178.60 211.06h3.34v3.56h-3.34zM178.60 182.62h3.34v3.56h-3.34zM181.64 202.53h3.34v3.56h-3.34zM181.64 191.15h3.34v3.55h-3.34zM184.69 307.75h3.34v3.56h-3.34zM184.69 216.75h3.34v3.56h-3.34zM184.69 199.68h3.34v3.56h-3.34zM184.69 188.31h3.34v3.56h-3.34zM184.69 176.93h3.34v3.56h-3.34zM190.77 307.75h3.34v3.56h-3.34zM190.77 211.06h3.34v3.56h-3.34zM190.77 182.62h3.34v3.56h-3.34zM193.81 304.91h3.34v3.56h-3.34zM193.81 282.16h3.34v3.56h-3.34zM193.81 213.90h3.34v3.56h-3.34zM193.81 208.21h3.34v3.56h-3.34zM193.81 191.15h3.34v3.55h-3.34zM196.86 307.75h3.34v3.56h-3.34zM196.86 216.75h3.34v3.56h-3.34zM196.86 211.06h3.34v3.56h-3.34zM199.90 299.22h3.34v3.56h-3.34zM199.90 293.53h3.34v3.56h-3.34zM199.90 202.53h3.34v3.56h-3.34zM199.90 196.84h3.34v3.55h-3.34zM199.90 174.09h3.34v3.55h-3.34zM202.94 290.69h3.34v3.56h-3.34zM202.94 273.63h3.34v3.55h-3.34zM202.94 216.75h3.34v3.56h-3.34zM202.94 205.37h3.34v3.56h-3.34zM202.94 171.24h3.34v3.56h-3.34zM205.99 299.22h3.34v3.56h-3.34zM205.99 287.85h3.34v3.56h-3.34zM205.99 185.46h3.34v3.56h-3.34zM205.99 179.77h3.34v3.56h-3.34zM209.03 296.38h3.34v3.56h-3.34zM209.03 290.69h3.34v3.56h-3.34zM209.03 285.00h3.34v3.56h-3.34zM209.03 267.94h3.34v3.56h-3.34zM209.03 211.06h3.34v3.56h-3.34zM209.03 182.62h3.34v3.56h-3.34zM209.03 176.93h3.34v3.56h-3.34zM209.03 148.49h3.34v3.56h-3.34zM209.03 145.65h3.34v3.55h-3.34zM209.03 142.80h3.34v3.56h-3.34zM212.07 299.22h3.34v3.56h-3.34zM212.07 293.53h3.34v3.56h-3.34zM212.07 287.85h3.34v3.56h-3.34zM212.07 202.53h3.34v3.56h-3.34zM212.07 196.84h3.34v3.55h-3.34zM212.07 179.77h3.34v3.56h-3.34zM212.07 174.09h3.34v3.55h-3.34zM212.07 165.55h3.34v3.56h-3.34zM212.07 162.71h3.34v3.56h-3.34zM215.12 279.31h3.34v3.56h-3.34zM215.12 216.75h3.34v3.56h-3.34zM215.12 199.68h3.34v3.56h-3.34zM215.12 188.31h3.34v3.56h-3.34zM215.12 159.87h3.34v3.55h-3.34zM221.20 279.31h3.34v3.56h-3.34zM221.20 211.06h3.34v3.56h-3.34zM221.20 199.68h3.34v3.56h-3.34zM221.20 188.31h3.34v3.56h-3.34zM221.20 171.24h3.34v3.56h-3.34zM224.24 293.53h3.34v3.56h-3.34zM224.24 208.21h3.34v3.56h-3.34zM224.24 196.84h3.34v3.55h-3.34zM224.24 174.09h3.34v3.55h-3.34zM227.29 296.38h3.34v3.56h-3.34zM227.29 211.06h3.34v3.56h-3.34zM227.29 176.93h3.34v3.56h-3.34zM230.33 213.90h3.34v3.56h-3.34zM230.33 179.77h3.34v3.56h-3.34zM230.33 174.09h3.34v3.55h-3.34zM230.33 168.40h3.34v3.56h-3.34zM230.33 157.02h3.34v3.56h-3.34zM233.37 285.00h3.34v3.56h-3.34zM233.37 211.06h3.34v3.56h-3.34zM233.37 171.24h3.34v3.56h-3.34zM233.37 165.55h3.34v3.56h-3.34zM236.42 299.22h3.34v3.56h-3.34zM236.42 282.16h3.34v3.56h-3.34zM236.42 179.77h3.34v3.56h-3.34zM239.46 296.38h3.34v3.56h-3.34zM239.46 279.31h3.34v3.56h-3.34zM239.46 211.06h3.34v3.56h-3.34zM239.46 159.87h3.34v3.55h-3.34zM239.46 154.18h3.34v3.56h-3.34zM242.50 276.47h3.34v3.56h-3.34zM242.50 208.21h3.34v3.56h-3.34zM242.50 191.15h3.34v3.55h-3.34zM242.50 179.77h3.34v3.56h-3.34zM242.50 174.09h3.34v3.55h-3.34zM242.50 145.65h3.34v3.55h-3.34zM245.55 205.37h3.34v3.56h-3.34zM245.55 188.31h3.34v3.56h-3.34zM245.55 176.93h3.34v3.56h-3.34zM245.55 165.55h3.34v3.56h-3.34zM245.55 137.11h3.34v3.56h-3.34zM245.55 131.43h3.34v3.55h-3.34zM245.55 114.36h3.34v3.56h-3.34zM245.55 111.52h3.34v3.56h-3.34zM245.55 108.67h3.34v3.56h-3.34zM248.59 202.53h3.34v3.56h-3.34zM248.59 196.84h3.34v3.55h-3.34zM248.59 174.09h3.34v3.55h-3.34zM248.59 168.40h3.34v3.56h-3.34zM251.63 290.69h3.34v3.56h-3.34zM251.63 205.37h3.34v3.56h-3.34zM251.63 142.80h3.34v3.56h-3.34zM254.67 316.29h3.34v0.01h-3.34zM254.67 313.44h3.34v2.86h-3.34zM254.67 310.60h3.34v3.56h-3.34zM254.67 293.53h3.34v3.56h-3.34zM254.67 225.28h3.34v3.56h-3.34zM254.67 213.90h3.34v3.56h-3.34zM254.67 191.15h3.34v3.55h-3.34zM254.67 157.02h3.34v3.56h-3.34zM254.67 151.33h3.34v3.56h-3.34zM254.67 125.74h3.34v3.56h-3.34zM257.72 313.44h3.34v2.86h-3.34zM257.72 310.60h3.34v3.56h-3.34zM257.72 307.75h3.34v3.56h-3.34zM257.72 290.69h3.34v3.56h-3.34zM257.72 285.00h3.34v3.56h-3.34zM257.72 182.62h3.34v3.56h-3.34zM257.72 176.93h3.34v3.56h-3.34zM257.72 159.87h3.34v3.55h-3.34zM257.72 131.43h3.34v3.55h-3.34zM257.72 120.05h3.34v3.56h-3.34zM260.76 310.60h3.34v3.56h-3.34zM260.76 307.75h3.34v3.56h-3.34zM260.76 304.91h3.34v3.56h-3.34zM260.76 219.59h3.34v3.56h-3.34zM260.76 208.21h3.34v3.56h-3.34zM260.76 157.02h3.34v3.56h-3.34zM260.76 151.33h3.34v3.56h-3.34zM260.76 145.65h3.34v3.55h-3.34zM260.76 139.96h3.34v3.56h-3.34zM260.76 134.27h3.34v3.56h-3.34zM263.80 307.75h3.34v3.56h-3.34zM263.80 304.91h3.34v3.56h-3.34zM263.80 302.07h3.34v3.55h-3.34zM263.80 273.63h3.34v3.55h-3.34zM263.80 211.06h3.34v3.56h-3.34zM263.80 205.37h3.34v3.56h-3.34zM263.80 188.31h3.34v3.56h-3.34zM263.80 148.49h3.34v3.56h-3.34zM263.80 125.74h3.34v3.56h-3.34zM266.85 304.91h3.34v3.56h-3.34zM266.85 302.07h3.34v3.55h-3.34zM266.85 299.22h3.34v3.56h-3.34zM266.85 213.90h3.34v3.56h-3.34zM266.85 185.46h3.34v3.56h-3.34zM266.85 179.77h3.34v3.56h-3.34zM266.85 174.09h3.34v3.55h-3.34zM266.85 162.71h3.34v3.56h-3.34zM266.85 145.65h3.34v3.55h-3.34zM269.89 302.07h3.34v3.55h-3.34zM269.89 299.22h3.34v3.56h-3.34zM269.89 296.38h3.34v3.56h-3.34zM269.89 211.06h3.34v3.56h-3.34zM269.89 205.37h3.34v3.56h-3.34zM269.89 176.93h3.34v3.56h-3.34zM269.89 148.49h3.34v3.56h-3.34zM269.89 137.11h3.34v3.56h-3.34zM269.89 108.67h3.34v3.56h-3.34zM269.89 97.30h3.34v3.56h-3.34zM272.93 299.22h3.34v3.56h-3.34zM272.93 296.38h3.34v3.56h-3.34zM272.93 293.53h3.34v3.56h-3.34zM272.93 270.78h3.34v3.56h-3.34zM272.93 265.09h3.34v3.56h-3.34zM272.93 202.53h3.34v3.56h-3.34zM272.93 179.77h3.34v3.56h-3.34zM272.93 174.09h3.34v3.55h-3.34zM272.93 162.71h3.34v3.56h-3.34zM272.93 151.33h3.34v3.56h-3.34zM272.93 128.58h3.34v3.56h-3.34zM272.93 105.83h3.34v3.56h-3.34zM275.98 296.38h3.34v3.56h-3.34zM275.98 293.53h3.34v3.56h-3.34zM275.98 290.69h3.34v3.56h-3.34zM275.98 176.93h3.34v3.56h-3.34zM275.98 137.11h3.34v3.56h-3.34zM275.98 125.74h3.34v3.56h-3.34zM275.98 102.99h3.34v3.55h-3.34zM279.02 145.65h3.34v3.55h-3.34zM279.02 122.89h3.34v3.56h-3.34zM279.02 111.52h3.34v3.56h-3.34zM279.02 100.14h3.34v3.56h-3.34zM282.06 216.75h3.34v3.56h-3.34zM282.06 199.68h3.34v3.56h-3.34zM282.06 193.99h3.34v3.56h-3.34zM282.06 131.43h3.34v3.55h-3.34zM282.06 125.74h3.34v3.56h-3.34zM282.06 114.36h3.34v3.56h-3.34zM282.06 108.67h3.34v3.56h-3.34zM282.06 85.92h3.34v3.56h-3.34zM285.10 219.59h3.34v3.56h-3.34zM285.10 168.40h3.34v3.56h-3.34zM285.10 162.71h3.34v3.56h-3.34zM285.10 139.96h3.34v3.56h-3.34zM285.10 134.27h3.34v3.56h-3.34zM285.10 94.45h3.34v3.56h-3.34zM288.15 211.06h3.34v3.56h-3.34zM288.15 171.24h3.34v3.56h-3.34zM288.15 165.55h3.34v3.56h-3.34zM288.15 154.18h3.34v3.56h-3.34zM288.15 137.11h3.34v3.56h-3.34zM288.15 125.74h3.34v3.56h-3.34zM288.15 102.99h3.34v3.55h-3.34zM288.15 91.61h3.34v3.56h-3.34zM288.15 74.55h3.34v3.55h-3.34zM288.15 71.70h3.34v3.56h-3.34zM288.15 68.86h3.34v3.56h-3.34zM291.19 208.21h3.34v3.56h-3.34zM291.19 202.53h3.34v3.56h-3.34zM291.19 179.77h3.34v3.56h-3.34zM291.19 157.02h3.34v3.56h-3.34zM291.19 151.33h3.34v3.56h-3.34zM291.19 122.89h3.34v3.56h-3.34zM291.19 100.14h3.34v3.56h-3.34zM294.23 176.93h3.34v3.56h-3.34zM294.23 165.55h3.34v3.56h-3.34zM294.23 159.87h3.34v3.55h-3.34zM294.23 154.18h3.34v3.56h-3.34zM294.23 142.80h3.34v3.56h-3.34zM294.23 137.11h3.34v3.56h-3.34zM294.23 131.43h3.34v3.55h-3.34zM294.23 120.05h3.34v3.56h-3.34zM294.23 88.77h3.34v3.55h-3.34zM294.23 85.92h3.34v3.56h-3.34zM294.23 74.55h3.34v3.55h-3.34zM297.28 202.53h3.34v3.56h-3.34zM297.28 174.09h3.34v3.55h-3.34zM297.28 162.71h3.34v3.56h-3.34zM297.28 122.89h3.34v3.56h-3.34zM297.28 114.36h3.34v3.56h-3.34zM297.28 111.52h3.34v3.56h-3.34zM297.28 88.77h3.34v3.55h-3.34zM297.28 85.92h3.34v3.56h-3.34zM297.28 83.08h3.34v3.56h-3.34zM300.32 273.63h3.34v3.55h-3.34zM300.32 270.78h3.34v3.56h-3.34zM300.32 267.94h3.34v3.56h-3.34zM300.32 216.75h3.34v3.56h-3.34zM300.32 193.99h3.34v3.56h-3.34zM300.32 179.77h3.34v3.56h-3.34zM300.32 176.93h3.34v3.56h-3.34zM300.32 120.05h3.34v3.56h-3.34zM300.32 117.21h3.34v3.55h-3.34zM300.32 114.36h3.34v3.56h-3.34zM300.32 108.67h3.34v3.56h-3.34zM300.32 80.23h3.34v3.56h-3.34zM303.36 211.06h3.34v3.56h-3.34zM303.36 199.68h3.34v3.56h-3.34zM303.36 193.99h3.34v3.56h-3.34zM303.36 162.71h3.34v3.56h-3.34zM303.36 139.96h3.34v3.56h-3.34zM303.36 137.11h3.34v3.56h-3.34zM303.36 108.67h3.34v3.56h-3.34zM303.36 91.61h3.34v3.56h-3.34zM303.36 85.92h3.34v3.56h-3.34zM303.36 74.55h3.34v3.55h-3.34zM306.41 196.84h3.34v3.55h-3.34zM306.41 191.15h3.34v3.55h-3.34zM306.41 157.02h3.34v3.56h-3.34zM306.41 134.27h3.34v3.56h-3.34zM306.41 122.89h3.34v3.56h-3.34zM306.41 100.14h3.34v3.56h-3.34zM306.41 60.33h3.34v3.55h-3.34z"/>
<path fill="#cda2a4" d="M47.75 316.29h3.34v0.01h-3.34zM47.75 313.44h3.34v2.86h-3.34zM47.75 310.60h3.34v3.56h-3.34zM47.75 302.07h3.34v3.55h-3.34zM56.88 302.07h3.34v3.55h-3.34zM56.88 299.22h3.34v3.56h-3.34zM59.92 299.22h3.34v3.56h-3.34zM59.92 296.38h3.34v3.56h-3.34zM59.92 290.69h3.34v3.56h-3.34zM62.97 293.53h3.34v3.56h-3.34zM66.01 299.22h3.34v3.56h-3.34zM66.01 287.85h3.34v3.56h-3.34zM69.05 290.69h3.34v3.56h-3.34zM69.05 287.85h3.34v3.56h-3.34zM69.05 279.31h3.34v3.56h-3.34zM69.05 276.47h3.34v3.56h-3.34zM69.05 273.63h3.34v3.55h-3.34zM72.09 296.38h3.34v3.56h-3.34zM72.09 290.69h3.34v3.56h-3.34zM72.09 287.85h3.34v3.56h-3.34zM72.09 276.47h3.34v3.56h-3.34zM72.09 273.63h3.34v3.55h-3.34zM72.09 270.78h3.34v3.56h-3.34zM75.14 293.53h3.34v3.56h-3.34zM75.14 287.85h3.34v3.56h-3.34zM75.14 273.63h3.34v3.55h-3.34zM75.14 270.78h3.34v3.56h-3.34zM75.14 267.94h3.34v3.56h-3.34zM78.18 270.78h3.34v3.56h-3.34zM78.18 267.94h3.34v3.56h-3.34zM78.18 265.09h3.34v3.56h-3.34zM81.22 316.29h3.34v0.01h-3.34zM81.22 313.44h3.34v2.86h-3.34zM81.22 310.60h3.34v3.56h-3.34zM84.27 296.38h3.34v3.56h-3.34zM84.27 285.00h3.34v3.56h-3.34zM84.27 276.47h3.34v3.56h-3.34zM84.27 265.09h3.34v3.56h-3.34zM84.27 262.25h3.34v3.56h-3.34zM84.27 259.41h3.34v3.56h-3.34zM87.31 282.16h3.34v3.56h-3.34zM90.35 285.00h3.34v3.56h-3.34zM90.35 282.16h3.34v3.56h-3.34zM93.40 316.29h3.34v0.01h-3.34zM93.40 313.44h3.34v2.86h-3.34zM93.40 310.60h3.34v3.56h-3.34zM93.40 282.16h3.34v3.56h-3.34zM93.40 279.31h3.34v3.56h-3.34zM93.40 276.47h3.34v3.56h-3.34zM93.40 267.94h3.34v3.56h-3.34zM93.40 256.56h3.34v3.56h-3.34zM93.40 253.72h3.34v3.56h-3.34zM93.40 250.87h3.34v3.55h-3.34zM96.44 276.47h3.34v3.56h-3.34zM99.48 316.29h3.34v0.01h-3.34zM99.48 313.44h3.34v2.86h-3.34zM99.48 310.60h3.34v3.56h-3.34zM99.48 293.53h3.34v3.56h-3.34zM102.52 296.38h3.34v3.56h-3.34zM102.52 270.78h3.34v3.56h-3.34zM102.52 267.94h3.34v3.56h-3.34zM105.57 299.22h3.34v3.56h-3.34zM108.61 316.29h3.34v0.01h-3.34zM108.61 313.44h3.34v2.86h-3.34zM108.61 310.60h3.34v3.56h-3.34zM108.61 290.69h3.34v3.56h-3.34zM108.61 265.09h3.34v3.56h-3.34zM108.61 259.41h3.34v3.56h-3.34zM111.65 316.29h3.34v0.01h-3.34zM111.65 313.44h3.34v2.86h-3.34zM111.65 310.60h3.34v3.56h-3.34zM111.65 293.53h3.34v3.56h-3.34zM111.65 279.31h3.34v3.56h-3.34zM111.65 262.25h3.34v3.56h-3.34zM114.70 290.69h3.34v3.56h-3.34zM114.70 285.00h3.34v3.56h-3.34zM114.70 259.41h3.34v3.56h-3.34zM117.74 304.91h3.34v3.56h-3.34zM117.74 287.85h3.34v3.56h-3.34zM117.74 282.16h3.34v3.56h-3.34zM120.78 302.07h3.34v3.55h-3.34zM120.78 287.85h3.34v3.56h-3.34zM123.83 276.47h3.34v3.56h-3.34zM129.91 316.29h3.34v0.01h-3.34zM129.91 313.44h3.34v2.86h-3.34zM129.91 310.60h3.34v3.56h-3.34zM129.91 290.69h3.34v3.56h-3.34zM129.91 279.31h3.34v3.56h-3.34zM129.91 270.78h3.34v3.56h-3.34zM129.91 262.25h3.34v3.56h-3.34zM129.91 256.56h3.34v3.56h-3.34zM132.95 316.29h3.34v0.01h-3.34zM132.95 313.44h3.34v2.86h-3.34zM132.95 310.60h3.34v3.56h-3.34zM132.95 304.91h3.34v3.56h-3.34zM132.95 287.85h3.34v3.56h-3.34zM136.00 290.69h3.34v3.56h-3.34zM136.00 262.25h3.34v3.56h-3.34zM139.04 287.85h3.34v3.56h-3.34zM139.04 282.16h3.34v3.56h-3.34zM142.08 290.69h3.34v3.56h-3.34zM145.13 293.53h3.34v3.56h-3.34zM145.13 282.16h3.34v3.56h-3.34zM145.13 270.78h3.34v3.56h-3.34zM151.21 316.29h3.34v0.01h-3.34zM151.21 313.44h3.34v2.86h-3.34zM151.21 310.60h3.34v3.56h-3.34zM151.21 293.53h3.34v3.56h-3.34zM151.21 282.16h3.34v3.56h-3.34zM151.21 276.47h3.34v3.56h-3.34zM154.26 279.31h3.34v3.56h-3.34zM160.34 307.75h3.34v3.56h-3.34zM160.34 290.69h3.34v3.56h-3.34zM163.38 316.29h3.34v0.01h-3.34zM163.38 313.44h3.34v2.86h-3.34zM163.38 310.60h3.34v3.56h-3.34zM163.38 299.22h3.34v3.56h-3.34zM163.38 282.16h3.34v3.56h-3.34zM163.38 270.78h3.34v3.56h-3.34zM163.38 265.09h3.34v3.56h-3.34zM163.38 211.06h3.34v3.56h-3.34zM163.38 196.84h3.34v3.55h-3.34zM166.43 307.75h3.34v3.56h-3.34zM166.43 302.07h3.34v3.55h-3.34zM166.43 285.00h3.34v3.56h-3.34zM166.43 262.25h3.34v3.56h-3.34zM166.43 211.06h3.34v3.56h-3.34zM169.47 276.47h3.34v3.56h-3.34zM169.47 219.59h3.34v3.56h-3.34zM169.47 202.53h3.34v3.56h-3.34zM169.47 196.84h3.34v3.55h-3.34zM175.56 304.91h3.34v3.56h-3.34zM175.56 270.78h3.34v3.56h-3.34zM175.56 265.09h3.34v3.56h-3.34zM175.56 213.90h3.34v3.56h-3.34zM175.56 199.68h3.34v3.56h-3.34zM178.60 285.00h3.34v3.56h-3.34zM178.60 196.84h3.34v3.55h-3.34zM178.60 188.31h3.34v3.56h-3.34zM178.60 176.93h3.34v3.56h-3.34zM178.60 174.09h3.34v3.55h-3.34zM178.60 171.24h3.34v3.56h-3.34zM181.64 316.29h3.34v0.01h-3.34zM181.64 313.44h3.34v2.86h-3.34zM181.64 310.60h3.34v3.56h-3.34zM181.64 293.53h3.34v3.56h-3.34zM181.64 287.85h3.34v3.56h-3.34zM181.64 179.77h3.34v3.56h-3.34zM181.64 174.09h3.34v3.55h-3.34zM181.64 171.24h3.34v3.56h-3.34zM181.64 168.40h3.34v3.56h-3.34zM184.69 296.38h3.34v3.56h-3.34zM184.69 290.69h3.34v3.56h-3.34zM184.69 285.00h3.34v3.56h-3.34zM184.69 222.43h3.34v3.55h-3.34zM184.69 211.06h3.34v3.56h-3.34zM184.69 191.15h3.34v3.55h-3.34zM190.77 279.31h3.34v3.56h-3.34zM190.77 216.75h3.34v3.56h-3.34zM190.77 213.90h3.34v3.56h-3.34zM190.77 188.31h3.34v3.56h-3.34zM193.81 225.28h3.34v3.56h-3.34zM193.81 185.46h3.34v3.56h-3.34zM196.86 279.31h3.34v3.56h-3.34zM196.86 273.63h3.34v3.55h-3.34zM196.86 222.43h3.34v3.55h-3.34zM196.86 182.62h3.34v3.56h-3.34zM199.90 276.47h3.34v3.56h-3.34zM199.90 219.59h3.34v3.56h-3.34zM199.90 213.90h3.34v3.56h-3.34zM199.90 179.77h3.34v3.56h-3.34zM202.94 302.07h3.34v3.55h-3.34zM202.94 213.90h3.34v3.56h-3.34zM202.94 211.06h3.34v3.56h-3.34zM202.94 176.93h3.34v3.56h-3.34zM202.94 174.09h3.34v3.55h-3.34zM205.99 293.53h3.34v3.56h-3.34zM205.99 270.78h3.34v3.56h-3.34zM205.99 202.53h3.34v3.56h-3.34zM205.99 174.09h3.34v3.55h-3.34zM205.99 168.40h3.34v3.56h-3.34zM209.03 302.07h3.34v3.55h-3.34zM209.03 279.31h3.34v3.56h-3.34zM209.03 222.43h3.34v3.55h-3.34zM209.03 208.21h3.34v3.56h-3.34zM209.03 205.37h3.34v3.56h-3.34zM209.03 168.40h3.34v3.56h-3.34zM212.07 316.29h3.34v0.01h-3.34zM212.07 313.44h3.34v2.86h-3.34zM212.07 310.60h3.34v3.56h-3.34zM212.07 282.16h3.34v3.56h-3.34zM212.07 193.99h3.34v3.56h-3.34zM215.12 307.75h3.34v3.56h-3.34zM215.12 290.69h3.34v3.56h-3.34zM215.12 285.00h3.34v3.56h-3.34zM215.12 205.37h3.34v3.56h-3.34zM215.12 202.53h3.34v3.56h-3.34zM215.12 193.99h3.34v3.56h-3.34zM215.12 182.62h3.34v3.56h-3.34zM215.12 162.71h3.34v3.56h-3.34zM218.16 185.46h3.34v3.56h-3.34zM218.16 168.40h3.34v3.56h-3.34zM221.20 296.38h3.34v3.56h-3.34zM221.20 290.69h3.34v3.56h-3.34zM221.20 285.00h3.34v3.56h-3.34zM221.20 273.63h3.34v3.55h-3.34zM221.20 216.75h3.34v3.56h-3.34zM221.20 193.99h3.34v3.56h-3.34zM221.20 182.62h3.34v3.56h-3.34zM221.20 157.02h3.34v3.56h-3.34zM224.24 276.47h3.34v3.56h-3.34zM224.24 270.78h3.34v3.56h-3.34zM224.24 225.28h3.34v3.56h-3.34zM224.24 193.99h3.34v3.56h-3.34zM224.24 191.15h3.34v3.55h-3.34zM224.24 185.46h3.34v3.56h-3.34zM224.24 182.62h3.34v3.56h-3.34zM227.29 267.94h3.34v3.56h-3.34zM227.29 222.43h3.34v3.55h-3.34zM227.29 216.75h3.34v3.56h-3.34zM227.29 199.68h3.34v3.56h-3.34zM227.29 193.99h3.34v3.56h-3.34zM227.29 191.15h3.34v3.55h-3.34zM227.29 182.62h3.34v3.56h-3.34zM227.29 179.77h3.34v3.56h-3.34zM227.29 171.24h3.34v3.56h-3.34zM227.29 154.18h3.34v3.56h-3.34zM227.29 151.33h3.34v3.56h-3.34zM227.29 131.43h3.34v3.55h-3.34zM227.29 128.58h3.34v3.56h-3.34zM227.29 125.74h3.34v3.56h-3.34zM230.33 304.91h3.34v3.56h-3.34zM230.33 287.85h3.34v3.56h-3.34zM230.33 276.47h3.34v3.56h-3.34zM230.33 270.78h3.34v3.56h-3.34zM230.33 265.09h3.34v3.56h-3.34zM230.33 219.59h3.34v3.56h-3.34zM230.33 208.21h3.34v3.56h-3.34zM230.33 202.53h3.34v3.56h-3.34zM230.33 188.31h3.34v3.56h-3.34zM230.33 176.93h3.34v3.56h-3.34zM230.33 145.65h3.34v3.55h-3.34zM230.33 128.58h3.34v3.56h-3.34zM230.33 125.74h3.34v3.56h-3.34zM230.33 122.89h3.34v3.56h-3.34zM233.37 307.75h3.34v3.56h-3.34zM233.37 279.31h3.34v3.56h-3.34zM233.37 267.94h3.34v3.56h-3.34zM233.37 216.75h3.34v3.56h-3.34zM233.37 193.99h3.34v3.56h-3.34zM233.37 188.31h3.34v3.56h-3.34zM233.37 182.62h3.34v3.56h-3.34zM233.37 176.93h3.34v3.56h-3.34zM233.37 174.09h3.34v3.55h-3.34zM233.37 148.49h3.34v3.56h-3.34zM236.42 316.29h3.34v0.01h-3.34zM236.42 313.44h3.34v2.86h-3.34zM236.42 310.60h3.34v3.56h-3.34zM236.42 304.91h3.34v3.56h-3.34zM236.42 287.85h3.34v3.56h-3.34zM236.42 270.78h3.34v3.56h-3.34zM236.42 208.21h3.34v3.56h-3.34zM236.42 202.53h3.34v3.56h-3.34zM236.42 191.15h3.34v3.55h-3.34zM236.42 185.46h3.34v3.56h-3.34zM236.42 174.09h3.34v3.55h-3.34zM236.42 171.24h3.34v3.56h-3.34zM236.42 168.40h3.34v3.56h-3.34zM236.42 122.89h3.34v3.56h-3.34zM236.42 120.05h3.34v3.56h-3.34zM236.42 117.21h3.34v3.55h-3.34zM239.46 267.94h3.34v3.56h-3.34zM239.46 216.75h3.34v3.56h-3.34zM239.46 199.68h3.34v3.56h-3.34zM239.46 193.99h3.34v3.56h-3.34zM239.46 188.31h3.34v3.56h-3.34zM239.46 176.93h3.34v3.56h-3.34zM239.46 171.24h3.34v3.56h-3.34zM239.46 165.55h3.34v3.56h-3.34zM239.46 142.80h3.34v3.56h-3.34zM242.50 304.91h3.34v3.56h-3.34zM242.50 270.78h3.34v3.56h-3.34zM242.50 134.27h3.34v3.56h-3.34zM242.50 117.21h3.34v3.55h-3.34zM242.50 114.36h3.34v3.56h-3.34zM242.50 111.52h3.34v3.56h-3.34zM245.55 296.38h3.34v3.56h-3.34zM245.55 199.68h3.34v3.56h-3.34zM245.55 193.99h3.34v3.56h-3.34zM245.55 174.09h3.34v3.55h-3.34zM245.55 171.24h3.34v3.56h-3.34zM245.55 162.71h3.34v3.56h-3.34zM245.55 154.18h3.34v3.56h-3.34zM248.59 287.85h3.34v3.56h-3.34zM248.59 191.15h3.34v3.55h-3.34zM248.59 179.77h3.34v3.56h-3.34zM248.59 171.24h3.34v3.56h-3.34zM248.59 139.96h3.34v3.56h-3.34zM248.59 131.43h3.34v3.55h-3.34zM251.63 211.06h3.34v3.56h-3.34zM251.63 193.99h3.34v3.56h-3.34zM251.63 165.55h3.34v3.56h-3.34zM251.63 159.87h3.34v3.55h-3.34zM251.63 154.18h3.34v3.56h-3.34zM251.63 148.49h3.34v3.56h-3.34zM251.63 131.43h3.34v3.55h-3.34zM251.63 128.58h3.34v3.56h-3.34zM251.63 114.36h3.34v3.56h-3.34zM254.67 299.22h3.34v3.56h-3.34zM254.67 287.85h3.34v3.56h-3.34zM254.67 282.16h3.34v3.56h-3.34zM254.67 270.78h3.34v3.56h-3.34zM254.67 208.21h3.34v3.56h-3.34zM254.67 185.46h3.34v3.56h-3.34zM254.67 176.93h3.34v3.56h-3.34zM254.67 165.55h3.34v3.56h-3.34zM254.67 154.18h3.34v3.56h-3.34zM254.67 139.96h3.34v3.56h-3.34zM254.67 128.58h3.34v3.56h-3.34zM254.67 105.83h3.34v3.56h-3.34zM254.67 102.99h3.34v3.55h-3.34zM254.67 100.14h3.34v3.56h-3.34zM257.72 302.07h3.34v3.55h-3.34zM257.72 279.31h3.34v3.56h-3.34zM257.72 222.43h3.34v3.55h-3.34zM257.72 216.75h3.34v3.56h-3.34zM257.72 211.06h3.34v3.56h-3.34zM257.72 199.68h3.34v3.56h-3.34zM257.72 188.31h3.34v3.56h-3.34zM257.72 154.18h3.34v3.56h-3.34zM257.72 148.49h3.34v3.56h-3.34zM257.72 125.74h3.34v3.56h-3.34zM257.72 108.67h3.34v3.56h-3.34zM257.72 102.99h3.34v3.55h-3.34zM257.72 100.14h3.34v3.56h-3.34zM257.72 97.30h3.34v3.56h-3.34zM260.76 299.22h3.34v3.56h-3.34zM260.76 287.85h3.34v3.56h-3.34zM260.76 282.16h3.34v3.56h-3.34zM260.76 276.47h3.34v3.56h-3.34zM260.76 179.77h3.34v3.56h-3.34zM260.76 174.09h3.34v3.55h-3.34zM260.76 168.40h3.34v3.56h-3.34zM260.76 159.87h3.34v3.55h-3.34zM260.76 120.05h3.34v3.56h-3.34zM260.76 105.83h3.34v3.56h-3.34zM263.80 216.75h3.34v3.56h-3.34zM263.80 193.99h3.34v3.56h-3.34zM263.80 159.87h3.34v3.55h-3.34zM263.80 145.65h3.34v3.55h-3.34zM263.80 142.80h3.34v3.56h-3.34zM263.80 137.11h3.34v3.56h-3.34zM263.80 120.05h3.34v3.56h-3.34zM263.80 102.99h3.34v3.55h-3.34zM266.85 287.85h3.34v3.56h-3.34zM266.85 196.84h3.34v3.55h-3.34zM266.85 191.15h3.34v3.55h-3.34zM266.85 157.02h3.34v3.56h-3.34zM266.85 154.18h3.34v3.56h-3.34zM266.85 100.14h3.34v3.56h-3.34zM269.89 273.63h3.34v3.55h-3.34zM269.89 182.62h3.34v3.56h-3.34zM269.89 120.05h3.34v3.56h-3.34zM272.93 191.15h3.34v3.55h-3.34zM272.93 168.40h3.34v3.56h-3.34zM272.93 157.02h3.34v3.56h-3.34zM272.93 145.65h3.34v3.55h-3.34zM272.93 139.96h3.34v3.56h-3.34zM272.93 137.11h3.34v3.56h-3.34zM272.93 134.27h3.34v3.56h-3.34zM272.93 111.52h3.34v3.56h-3.34zM272.93 108.67h3.34v3.56h-3.34zM275.98 285.00h3.34v3.56h-3.34zM275.98 273.63h3.34v3.55h-3.34zM275.98 222.43h3.34v3.55h-3.34zM275.98 199.68h3.34v3.56h-3.34zM275.98 193.99h3.34v3.56h-3.34zM275.98 142.80h3.34v3.56h-3.34zM275.98 134.27h3.34v3.56h-3.34zM275.98 105.83h3.34v3.56h-3.34zM279.02 213.90h3.34v3.56h-3.34zM279.02 162.71h3.34v3.56h-3.34zM279.02 142.80h3.34v3.56h-3.34zM279.02 137.11h3.34v3.56h-3.34zM279.02 134.27h3.34v3.56h-3.34zM279.02 88.77h3.34v3.55h-3.34zM279.02 83.08h3.34v3.56h-3.34zM279.02 80.23h3.34v3.56h-3.34zM279.02 77.39h3.34v3.56h-3.34zM282.06 290.69h3.34v3.56h-3.34zM282.06 287.85h3.34v3.56h-3.34zM282.06 285.00h3.34v3.56h-3.34zM282.06 273.63h3.34v3.55h-3.34zM282.06 222.43h3.34v3.55h-3.34zM282.06 191.15h3.34v3.55h-3.34zM282.06 176.93h3.34v3.56h-3.34zM282.06 165.55h3.34v3.56h-3.34zM282.06 154.18h3.34v3.56h-3.34zM282.06 148.49h3.34v3.56h-3.34zM282.06 139.96h3.34v3.56h-3.34zM282.06 137.11h3.34v3.56h-3.34zM282.06 128.58h3.34v3.56h-3.34zM282.06 91.61h3.34v3.56h-3.34zM282.06 80.23h3.34v3.56h-3.34zM282.06 77.39h3.34v3.56h-3.34zM282.06 74.55h3.34v3.55h-3.34zM285.10 225.28h3.34v3.56h-3.34zM285.10 208.21h3.34v3.56h-3.34zM285.10 191.15h3.34v3.55h-3.34zM285.10 185.46h3.34v3.56h-3.34zM285.10 179.77h3.34v3.56h-3.34zM285.10 174.09h3.34v3.55h-3.34zM285.10 159.87h3.34v3.55h-3.34zM285.10 157.02h3.34v3.56h-3.34zM285.10 145.65h3.34v3.55h-3.34zM285.10 128.58h3.34v3.56h-3.34zM285.10 125.74h3.34v3.56h-3.34zM285.10 117.21h3.34v3.55h-3.34zM285.10 111.52h3.34v3.56h-3.34zM285.10 97.30h3.34v3.56h-3.34zM285.10 88.77h3.34v3.55h-3.34zM285.10 83.08h3.34v3.56h-3.34zM288.15 188.31h3.34v3.56h-3.34zM288.15 182.62h3.34v3.56h-3.34zM288.15 159.87h3.34v3.55h-3.34zM288.15 131.43h3.34v3.55h-3.34zM291.19 282.16h3.34v3.56h-3.34zM291.19 279.31h3.34v3.56h-3.34zM291.19 276.47h3.34v3.56h-3.34zM291.19 188.31h3.34v3.56h-3.34zM291.19 168.40h3.34v3.56h-3.34zM291.19 145.65h3.34v3.55h-3.34zM291.19 142.80h3.34v3.56h-3.34zM291.19 131.43h3.34v3.55h-3.34zM291.19 94.45h3.34v3.56h-3.34zM291.19 77.39h3.34v3.56h-3.34zM294.23 222.43h3.34v3.55h-3.34zM294.23 211.06h3.34v3.56h-3.34zM294.23 199.68h3.34v3.56h-3.34zM294.23 182.62h3.34v3.56h-3.34zM294.23 179.77h3.34v3.56h-3.34zM294.23 171.24h3.34v3.56h-3.34zM294.23 148.49h3.34v3.56h-3.34zM294.23 128.58h3.34v3.56h-3.34zM294.23 91.61h3.34v3.56h-3.34zM294.23 80.23h3.34v3.56h-3.34zM294.23 68.86h3.34v3.56h-3.34zM294.23 66.01h3.34v3.56h-3.34zM294.23 63.17h3.34v3.56h-3.34zM297.28 276.47h3.34v3.56h-3.34zM297.28 273.63h3.34v3.55h-3.34zM297.28 270.78h3.34v3.56h-3.34zM297.28 225.28h3.34v3.56h-3.34zM297.28 208.21h3.34v3.56h-3.34zM297.28 196.84h3.34v3.55h-3.34zM297.28 137.11h3.34v3.56h-3.34zM297.28 134.27h3.34v3.56h-3.34zM297.28 120.05h3.34v3.56h-3.34zM297.28 77.39h3.34v3.56h-3.34zM297.28 71.70h3.34v3.56h-3.34zM300.32 222.43h3.34v3.55h-3.34zM300.32 151.33h3.34v3.56h-3.34zM300.32 142.80h3.34v3.56h-3.34zM300.32 134.27h3.34v3.56h-3.34zM300.32 122.89h3.34v3.56h-3.34zM300.32 102.99h3.34v3.55h-3.34zM300.32 85.92h3.34v3.56h-3.34zM300.32 83.08h3.34v3.56h-3.34zM303.36 216.75h3.34v3.56h-3.34zM303.36 176.93h3.34v3.56h-3.34zM303.36 165.55h3.34v3.56h-3.34zM303.36 154.18h3.34v3.56h-3.34zM303.36 148.49h3.34v3.56h-3.34zM303.36 131.43h3.34v3.55h-3.34zM303.36 125.74h3.34v3.56h-3.34zM303.36 114.36h3.34v3.56h-3.34zM303.36 68.86h3.34v3.56h-3.34zM303.36 63.17h3.34v3.56h-3.34zM306.41 256.56h3.34v3.56h-3.34zM306.41 250.87h3.34v3.55h-3.34zM306.41 228.12h3.34v3.56h-3.34zM306.41 213.90h3.34v3.56h-3.34z"/>
<path fill="#cb9d9f" d="M41.66 307.75h3.34v3.56h-3.34zM50.79 316.29h3.34v0.01h-3.34zM50.79 313.44h3.34v2.86h-3.34zM50.79 310.60h3.34v3.56h-3.34zM53.84 307.75h3.34v3.56h-3.34zM53.84 302.07h3.34v3.55h-3.34zM56.88 293.53h3.34v3.56h-3.34zM62.97 299.22h3.34v3.56h-3.34zM62.97 287.85h3.34v3.56h-3.34zM66.01 316.29h3.34v0.01h-3.34zM66.01 313.44h3.34v2.86h-3.34zM66.01 310.60h3.34v3.56h-3.34zM66.01 304.91h3.34v3.56h-3.34zM66.01 290.69h3.34v3.56h-3.34zM66.01 282.16h3.34v3.56h-3.34zM66.01 279.31h3.34v3.56h-3.34zM66.01 276.47h3.34v3.56h-3.34zM72.09 307.75h3.34v3.56h-3.34zM72.09 302.07h3.34v3.55h-3.34zM75.14 285.00h3.34v3.56h-3.34zM75.14 276.47h3.34v3.56h-3.34zM78.18 282.16h3.34v3.56h-3.34zM78.18 273.63h3.34v3.55h-3.34zM81.22 282.16h3.34v3.56h-3.34zM81.22 276.47h3.34v3.56h-3.34zM81.22 267.94h3.34v3.56h-3.34zM81.22 265.09h3.34v3.56h-3.34zM81.22 262.25h3.34v3.56h-3.34zM84.27 307.75h3.34v3.56h-3.34zM87.31 304.91h3.34v3.56h-3.34zM87.31 293.53h3.34v3.56h-3.34zM87.31 287.85h3.34v3.56h-3.34zM87.31 273.63h3.34v3.55h-3.34zM87.31 262.25h3.34v3.56h-3.34zM87.31 259.41h3.34v3.56h-3.34zM87.31 256.56h3.34v3.56h-3.34zM90.35 290.69h3.34v3.56h-3.34zM90.35 279.31h3.34v3.56h-3.34zM90.35 270.78h3.34v3.56h-3.34zM90.35 259.41h3.34v3.56h-3.34zM90.35 256.56h3.34v3.56h-3.34zM90.35 253.72h3.34v3.56h-3.34zM93.40 299.22h3.34v3.56h-3.34zM93.40 287.85h3.34v3.56h-3.34zM93.40 265.09h3.34v3.56h-3.34zM96.44 259.41h3.34v3.56h-3.34zM99.48 276.47h3.34v3.56h-3.34zM99.48 273.63h3.34v3.55h-3.34zM99.48 262.25h3.34v3.56h-3.34zM99.48 256.56h3.34v3.56h-3.34zM102.52 302.07h3.34v3.55h-3.34zM102.52 279.31h3.34v3.56h-3.34zM102.52 253.72h3.34v3.56h-3.34zM105.57 316.29h3.34v0.01h-3.34zM105.57 313.44h3.34v2.86h-3.34zM105.57 310.60h3.34v3.56h-3.34zM105.57 265.09h3.34v3.56h-3.34zM108.61 296.38h3.34v3.56h-3.34zM108.61 262.25h3.34v3.56h-3.34zM114.70 307.75h3.34v3.56h-3.34zM114.70 279.31h3.34v3.56h-3.34zM114.70 253.72h3.34v3.56h-3.34zM117.74 316.29h3.34v0.01h-3.34zM117.74 313.44h3.34v2.86h-3.34zM117.74 310.60h3.34v3.56h-3.34zM117.74 302.07h3.34v3.55h-3.34zM117.74 250.87h3.34v3.55h-3.34zM120.78 299.22h3.34v3.56h-3.34zM120.78 285.00h3.34v3.56h-3.34zM123.83 316.29h3.34v0.01h-3.34zM123.83 313.44h3.34v2.86h-3.34zM123.83 310.60h3.34v3.56h-3.34zM123.83 304.91h3.34v3.56h-3.34zM123.83 296.38h3.34v3.56h-3.34zM123.83 256.56h3.34v3.56h-3.34zM129.91 304.91h3.34v3.56h-3.34zM129.91 293.53h3.34v3.56h-3.34zM129.91 250.87h3.34v3.55h-3.34zM132.95 302.07h3.34v3.55h-3.34zM132.95 273.63h3.34v3.55h-3.34zM132.95 270.78h3.34v3.56h-3.34zM132.95 267.94h3.34v3.56h-3.34zM132.95 259.41h3.34v3.56h-3.34zM136.00 304.91h3.34v3.56h-3.34zM136.00 299.22h3.34v3.56h-3.34zM136.00 296.38h3.34v3.56h-3.34zM136.00 273.63h3.34v3.55h-3.34zM136.00 267.94h3.34v3.56h-3.34zM139.04 270.78h3.34v3.56h-3.34zM142.08 279.31h3.34v3.56h-3.34zM142.08 273.63h3.34v3.55h-3.34zM142.08 262.25h3.34v3.56h-3.34zM145.13 316.29h3.34v0.01h-3.34zM145.13 313.44h3.34v2.86h-3.34zM145.13 310.60h3.34v3.56h-3.34zM145.13 304.91h3.34v3.56h-3.34zM145.13 287.85h3.34v3.56h-3.34zM148.17 302.07h3.34v3.55h-3.34zM148.17 296.38h3.34v3.56h-3.34zM148.17 290.69h3.34v3.56h-3.34zM148.17 285.00h3.34v3.56h-3.34zM148.17 222.43h3.34v3.55h-3.34zM148.17 216.75h3.34v3.56h-3.34zM151.21 299.22h3.34v3.56h-3.34zM151.21 285.00h3.34v3.56h-3.34zM151.21 270.78h3.34v3.56h-3.34zM151.21 265.09h3.34v3.56h-3.34zM151.21 222.43h3.34v3.55h-3.34zM151.21 213.90h3.34v3.56h-3.34zM154.26 307.75h3.34v3.56h-3.34zM154.26 290.69h3.34v3.56h-3.34zM154.26 262.25h3.34v3.56h-3.34zM154.26 222.43h3.34v3.55h-3.34zM154.26 205.37h3.34v3.56h-3.34zM157.30 213.90h3.34v3.56h-3.34zM160.34 302.07h3.34v3.55h-3.34zM160.34 279.31h3.34v3.56h-3.34zM160.34 273.63h3.34v3.55h-3.34zM160.34 267.94h3.34v3.56h-3.34zM160.34 228.12h3.34v3.56h-3.34zM163.38 276.47h3.34v3.56h-3.34zM163.38 225.28h3.34v3.56h-3.34zM163.38 202.53h3.34v3.56h-3.34zM166.43 296.38h3.34v3.56h-3.34zM166.43 273.63h3.34v3.55h-3.34zM166.43 193.99h3.34v3.56h-3.34zM169.47 302.07h3.34v3.55h-3.34zM169.47 270.78h3.34v3.56h-3.34zM169.47 208.21h3.34v3.56h-3.34zM169.47 205.37h3.34v3.56h-3.34zM169.47 191.15h3.34v3.55h-3.34zM172.51 307.75h3.34v3.56h-3.34zM172.51 296.38h3.34v3.56h-3.34zM172.51 267.94h3.34v3.56h-3.34zM172.51 202.53h3.34v3.56h-3.34zM172.51 193.99h3.34v3.56h-3.34zM175.56 316.29h3.34v0.01h-3.34zM175.56 313.44h3.34v2.86h-3.34zM175.56 310.60h3.34v3.56h-3.34zM175.56 219.59h3.34v3.56h-3.34zM175.56 191.15h3.34v3.55h-3.34zM178.60 307.75h3.34v3.56h-3.34zM178.60 290.69h3.34v3.56h-3.34zM178.60 273.63h3.34v3.55h-3.34zM178.60 267.94h3.34v3.56h-3.34zM181.64 282.16h3.34v3.56h-3.34zM181.64 225.28h3.34v3.56h-3.34zM181.64 219.59h3.34v3.56h-3.34zM181.64 205.37h3.34v3.56h-3.34zM181.64 196.84h3.34v3.55h-3.34zM181.64 193.99h3.34v3.56h-3.34zM184.69 287.85h3.34v3.56h-3.34zM184.69 279.31h3.34v3.56h-3.34zM184.69 219.59h3.34v3.56h-3.34zM184.69 193.99h3.34v3.56h-3.34zM184.69 182.62h3.34v3.56h-3.34zM184.69 179.77h3.34v3.56h-3.34zM184.69 171.24h3.34v3.56h-3.34zM184.69 168.40h3.34v3.56h-3.34zM184.69 165.55h3.34v3.56h-3.34zM187.73 196.84h3.34v3.55h-3.34zM190.77 302.07h3.34v3.55h-3.34zM190.77 185.46h3.34v3.56h-3.34zM193.81 299.22h3.34v3.56h-3.34zM193.81 293.53h3.34v3.56h-3.34zM193.81 276.47h3.34v3.56h-3.34zM193.81 270.78h3.34v3.56h-3.34zM193.81 219.59h3.34v3.56h-3.34zM193.81 211.06h3.34v3.56h-3.34zM193.81 202.53h3.34v3.56h-3.34zM193.81 182.62h3.34v3.56h-3.34zM196.86 302.07h3.34v3.55h-3.34zM196.86 296.38h3.34v3.56h-3.34zM196.86 290.69h3.34v3.56h-3.34zM196.86 285.00h3.34v3.56h-3.34zM196.86 267.94h3.34v3.56h-3.34zM196.86 208.21h3.34v3.56h-3.34zM199.90 316.29h3.34v0.01h-3.34zM199.90 313.44h3.34v2.86h-3.34zM199.90 310.60h3.34v3.56h-3.34zM199.90 287.85h3.34v3.56h-3.34zM199.90 282.16h3.34v3.56h-3.34zM199.90 270.78h3.34v3.56h-3.34zM199.90 216.75h3.34v3.56h-3.34zM199.90 208.21h3.34v3.56h-3.34zM199.90 188.31h3.34v3.56h-3.34zM199.90 176.93h3.34v3.56h-3.34zM199.90 157.02h3.34v3.56h-3.34zM199.90 154.18h3.34v3.56h-3.34zM199.90 151.33h3.34v3.56h-3.34zM202.94 307.75h3.34v3.56h-3.34zM202.94 296.38h3.34v3.56h-3.34zM202.94 228.12h3.34v3.56h-3.34zM202.94 222.43h3.34v3.55h-3.34zM202.94 208.21h3.34v3.56h-3.34zM202.94 193.99h3.34v3.56h-3.34zM202.94 154.18h3.34v3.56h-3.34zM202.94 151.33h3.34v3.56h-3.34zM202.94 148.49h3.34v3.56h-3.34zM205.99 316.29h3.34v0.01h-3.34zM205.99 313.44h3.34v2.86h-3.34zM205.99 310.60h3.34v3.56h-3.34zM205.99 304.91h3.34v3.56h-3.34zM205.99 302.07h3.34v3.55h-3.34zM205.99 265.09h3.34v3.56h-3.34zM205.99 208.21h3.34v3.56h-3.34zM205.99 191.15h3.34v3.55h-3.34zM205.99 176.93h3.34v3.56h-3.34zM205.99 151.33h3.34v3.56h-3.34zM205.99 148.49h3.34v3.56h-3.34zM205.99 145.65h3.34v3.55h-3.34zM209.03 307.75h3.34v3.56h-3.34zM209.03 262.25h3.34v3.56h-3.34zM209.03 216.75h3.34v3.56h-3.34zM209.03 202.53h3.34v3.56h-3.34zM209.03 188.31h3.34v3.56h-3.34zM209.03 174.09h3.34v3.55h-3.34zM212.07 304.91h3.34v3.56h-3.34zM212.07 276.47h3.34v3.56h-3.34zM212.07 265.09h3.34v3.56h-3.34zM212.07 213.90h3.34v3.56h-3.34zM212.07 205.37h3.34v3.56h-3.34zM212.07 185.46h3.34v3.56h-3.34zM212.07 176.93h3.34v3.56h-3.34zM212.07 168.40h3.34v3.56h-3.34zM212.07 151.33h3.34v3.56h-3.34zM212.07 145.65h3.34v3.55h-3.34zM212.07 142.80h3.34v3.56h-3.34zM212.07 139.96h3.34v3.56h-3.34zM215.12 302.07h3.34v3.55h-3.34zM215.12 296.38h3.34v3.56h-3.34zM215.12 293.53h3.34v3.56h-3.34zM215.12 273.63h3.34v3.55h-3.34zM215.12 262.25h3.34v3.56h-3.34zM215.12 191.15h3.34v3.55h-3.34zM215.12 148.49h3.34v3.56h-3.34zM218.16 202.53h3.34v3.56h-3.34zM218.16 196.84h3.34v3.55h-3.34zM218.16 174.09h3.34v3.55h-3.34zM218.16 157.02h3.34v3.56h-3.34zM221.20 302.07h3.34v3.55h-3.34zM221.20 256.56h3.34v3.56h-3.34zM221.20 228.12h3.34v3.56h-3.34zM221.20 222.43h3.34v3.55h-3.34zM221.20 196.84h3.34v3.55h-3.34zM221.20 191.15h3.34v3.55h-3.34zM221.20 185.46h3.34v3.56h-3.34zM221.20 176.93h3.34v3.56h-3.34zM221.20 159.87h3.34v3.55h-3.34zM224.24 287.85h3.34v3.56h-3.34zM224.24 205.37h3.34v3.56h-3.34zM224.24 202.53h3.34v3.56h-3.34zM224.24 159.87h3.34v3.55h-3.34zM224.24 157.02h3.34v3.56h-3.34zM224.24 154.18h3.34v3.56h-3.34zM224.24 134.27h3.34v3.56h-3.34zM224.24 131.43h3.34v3.55h-3.34zM224.24 128.58h3.34v3.56h-3.34zM227.29 285.00h3.34v3.56h-3.34zM227.29 273.63h3.34v3.55h-3.34zM227.29 202.53h3.34v3.56h-3.34zM227.29 188.31h3.34v3.56h-3.34zM227.29 137.11h3.34v3.56h-3.34zM230.33 316.29h3.34v0.01h-3.34zM230.33 313.44h3.34v2.86h-3.34zM230.33 310.60h3.34v3.56h-3.34zM230.33 282.16h3.34v3.56h-3.34zM230.33 185.46h3.34v3.56h-3.34zM230.33 182.62h3.34v3.56h-3.34zM230.33 151.33h3.34v3.56h-3.34zM230.33 148.49h3.34v3.56h-3.34zM233.37 296.38h3.34v3.56h-3.34zM233.37 290.69h3.34v3.56h-3.34zM233.37 273.63h3.34v3.55h-3.34zM233.37 222.43h3.34v3.55h-3.34zM233.37 208.21h3.34v3.56h-3.34zM233.37 205.37h3.34v3.56h-3.34zM233.37 185.46h3.34v3.56h-3.34zM233.37 131.43h3.34v3.55h-3.34zM236.42 145.65h3.34v3.55h-3.34zM239.46 307.75h3.34v3.56h-3.34zM239.46 302.07h3.34v3.55h-3.34zM239.46 290.69h3.34v3.56h-3.34zM239.46 273.63h3.34v3.55h-3.34zM239.46 208.21h3.34v3.56h-3.34zM239.46 168.40h3.34v3.56h-3.34zM239.46 151.33h3.34v3.56h-3.34zM239.46 120.05h3.34v3.56h-3.34zM239.46 117.21h3.34v3.55h-3.34zM239.46 114.36h3.34v3.56h-3.34zM242.50 316.29h3.34v0.01h-3.34zM242.50 313.44h3.34v2.86h-3.34zM242.50 310.60h3.34v3.56h-3.34zM242.50 299.22h3.34v3.56h-3.34zM242.50 282.16h3.34v3.56h-3.34zM242.50 265.09h3.34v3.56h-3.34zM242.50 199.68h3.34v3.56h-3.34zM242.50 196.84h3.34v3.55h-3.34zM242.50 185.46h3.34v3.56h-3.34zM242.50 176.93h3.34v3.56h-3.34zM242.50 171.24h3.34v3.56h-3.34zM242.50 168.40h3.34v3.56h-3.34zM242.50 165.55h3.34v3.56h-3.34zM242.50 122.89h3.34v3.56h-3.34zM245.55 316.29h3.34v0.01h-3.34zM245.55 313.44h3.34v2.86h-3.34zM245.55 310.60h3.34v3.56h-3.34zM245.55 279.31h3.34v3.56h-3.34zM245.55 273.63h3.34v3.55h-3.34zM245.55 262.25h3.34v3.56h-3.34zM245.55 216.75h3.34v3.56h-3.34zM245.55 211.06h3.34v3.56h-3.34zM245.55 202.53h3.34v3.56h-3.34zM245.55 182.62h3.34v3.56h-3.34zM245.55 168.40h3.34v3.56h-3.34zM245.55 125.74h3.34v3.56h-3.34zM248.59 293.53h3.34v3.56h-3.34zM248.59 270.78h3.34v3.56h-3.34zM248.59 162.71h3.34v3.56h-3.34zM248.59 157.02h3.34v3.56h-3.34zM248.59 134.27h3.34v3.56h-3.34zM248.59 128.58h3.34v3.56h-3.34zM248.59 122.89h3.34v3.56h-3.34zM248.59 117.21h3.34v3.55h-3.34zM248.59 111.52h3.34v3.56h-3.34zM248.59 108.67h3.34v3.56h-3.34zM248.59 105.83h3.34v3.56h-3.34zM251.63 307.75h3.34v3.56h-3.34zM251.63 279.31h3.34v3.56h-3.34zM251.63 267.94h3.34v3.56h-3.34zM251.63 216.75h3.34v3.56h-3.34zM251.63 196.84h3.34v3.55h-3.34zM251.63 188.31h3.34v3.56h-3.34zM251.63 176.93h3.34v3.56h-3.34zM251.63 168.40h3.34v3.56h-3.34zM254.67 302.07h3.34v3.55h-3.34zM254.67 276.47h3.34v3.56h-3.34zM254.67 265.09h3.34v3.56h-3.34zM254.67 219.59h3.34v3.56h-3.34zM254.67 202.53h3.34v3.56h-3.34zM254.67 193.99h3.34v3.56h-3.34zM254.67 174.09h3.34v3.55h-3.34zM254.67 162.71h3.34v3.56h-3.34zM254.67 159.87h3.34v3.55h-3.34zM254.67 145.65h3.34v3.55h-3.34zM257.72 299.22h3.34v3.56h-3.34zM257.72 296.38h3.34v3.56h-3.34zM257.72 205.37h3.34v3.56h-3.34zM257.72 191.15h3.34v3.55h-3.34zM257.72 185.46h3.34v3.56h-3.34zM257.72 162.71h3.34v3.56h-3.34zM257.72 142.80h3.34v3.56h-3.34zM260.76 293.53h3.34v3.56h-3.34zM260.76 265.09h3.34v3.56h-3.34zM260.76 213.90h3.34v3.56h-3.34zM260.76 211.06h3.34v3.56h-3.34zM260.76 196.84h3.34v3.55h-3.34zM260.76 171.24h3.34v3.56h-3.34zM260.76 148.49h3.34v3.56h-3.34zM260.76 125.74h3.34v3.56h-3.34zM260.76 122.89h3.34v3.56h-3.34zM260.76 100.14h3.34v3.56h-3.34zM260.76 97.30h3.34v3.56h-3.34zM260.76 94.45h3.34v3.56h-3.34zM263.80 290.69h3.34v3.56h-3.34zM263.80 285.00h3.34v3.56h-3.34zM263.80 279.31h3.34v3.56h-3.34zM263.80 267.94h3.34v3.56h-3.34zM263.80 213.90h3.34v3.56h-3.34zM263.80 202.53h3.34v3.56h-3.34zM263.80 176.93h3.34v3.56h-3.34zM263.80 168.40h3.34v3.56h-3.34zM263.80 157.02h3.34v3.56h-3.34zM263.80 154.18h3.34v3.56h-3.34zM266.85 290.69h3.34v3.56h-3.34zM266.85 282.16h3.34v3.56h-3.34zM266.85 276.47h3.34v3.56h-3.34zM266.85 211.06h3.34v3.56h-3.34zM266.85 182.62h3.34v3.56h-3.34zM266.85 165.55h3.34v3.56h-3.34zM266.85 151.33h3.34v3.56h-3.34zM266.85 134.27h3.34v3.56h-3.34zM266.85 117.21h3.34v3.55h-3.34zM266.85 114.36h3.34v3.56h-3.34zM269.89 290.69h3.34v3.56h-3.34zM269.89 285.00h3.34v3.56h-3.34zM269.89 222.43h3.34v3.55h-3.34zM269.89 208.21h3.34v3.56h-3.34zM269.89 202.53h3.34v3.56h-3.34zM269.89 193.99h3.34v3.56h-3.34zM269.89 188.31h3.34v3.56h-3.34zM269.89 179.77h3.34v3.56h-3.34zM269.89 171.24h3.34v3.56h-3.34zM269.89 151.33h3.34v3.56h-3.34zM269.89 142.80h3.34v3.56h-3.34zM269.89 117.21h3.34v3.55h-3.34zM269.89 114.36h3.34v3.56h-3.34zM269.89 111.52h3.34v3.56h-3.34zM269.89 102.99h3.34v3.55h-3.34zM269.89 91.61h3.34v3.56h-3.34zM269.89 88.77h3.34v3.55h-3.34zM269.89 85.92h3.34v3.56h-3.34zM272.93 287.85h3.34v3.56h-3.34zM272.93 219.59h3.34v3.56h-3.34zM272.93 185.46h3.34v3.56h-3.34zM272.93 171.24h3.34v3.56h-3.34zM272.93 159.87h3.34v3.55h-3.34zM272.93 148.49h3.34v3.56h-3.34zM272.93 88.77h3.34v3.55h-3.34zM272.93 85.92h3.34v3.56h-3.34zM272.93 83.08h3.34v3.56h-3.34zM275.98 279.31h3.34v3.56h-3.34zM275.98 267.94h3.34v3.56h-3.34zM275.98 216.75h3.34v3.56h-3.34zM275.98 179.77h3.34v3.56h-3.34zM275.98 165.55h3.34v3.56h-3.34zM275.98 139.96h3.34v3.56h-3.34zM275.98 91.61h3.34v3.56h-3.34zM275.98 85.92h3.34v3.56h-3.34zM275.98 83.08h3.34v3.56h-3.34zM275.98 80.23h3.34v3.56h-3.34zM279.02 293.53h3.34v3.56h-3.34zM279.02 290.69h3.34v3.56h-3.34zM279.02 287.85h3.34v3.56h-3.34zM279.02 282.16h3.34v3.56h-3.34zM279.02 279.31h3.34v3.56h-3.34zM279.02 265.09h3.34v3.56h-3.34zM279.02 219.59h3.34v3.56h-3.34zM279.02 208.21h3.34v3.56h-3.34zM279.02 191.15h3.34v3.55h-3.34zM279.02 179.77h3.34v3.56h-3.34zM279.02 171.24h3.34v3.56h-3.34zM279.02 151.33h3.34v3.56h-3.34zM279.02 139.96h3.34v3.56h-3.34zM279.02 131.43h3.34v3.55h-3.34zM279.02 102.99h3.34v3.55h-3.34zM282.06 279.31h3.34v3.56h-3.34zM282.06 267.94h3.34v3.56h-3.34zM282.06 262.25h3.34v3.56h-3.34zM282.06 228.12h3.34v3.56h-3.34zM282.06 211.06h3.34v3.56h-3.34zM282.06 205.37h3.34v3.56h-3.34zM282.06 185.46h3.34v3.56h-3.34zM282.06 168.40h3.34v3.56h-3.34zM282.06 159.87h3.34v3.55h-3.34zM282.06 120.05h3.34v3.56h-3.34zM282.06 102.99h3.34v3.55h-3.34zM282.06 100.14h3.34v3.56h-3.34zM285.10 270.78h3.34v3.56h-3.34zM285.10 265.09h3.34v3.56h-3.34zM285.10 193.99h3.34v3.56h-3.34zM285.10 188.31h3.34v3.56h-3.34zM285.10 77.39h3.34v3.56h-3.34zM285.10 74.55h3.34v3.55h-3.34zM285.10 71.70h3.34v3.56h-3.34zM288.15 285.00h3.34v3.56h-3.34zM288.15 282.16h3.34v3.56h-3.34zM288.15 279.31h3.34v3.56h-3.34zM288.15 222.43h3.34v3.55h-3.34zM288.15 216.75h3.34v3.56h-3.34zM288.15 199.68h3.34v3.56h-3.34zM288.15 191.15h3.34v3.55h-3.34zM288.15 185.46h3.34v3.56h-3.34zM288.15 176.93h3.34v3.56h-3.34zM288.15 134.27h3.34v3.56h-3.34zM288.15 128.58h3.34v3.56h-3.34zM288.15 114.36h3.34v3.56h-3.34zM288.15 97.30h3.34v3.56h-3.34zM291.19 270.78h3.34v3.56h-3.34zM291.19 219.59h3.34v3.56h-3.34zM291.19 213.90h3.34v3.56h-3.34zM291.19 185.46h3.34v3.56h-3.34zM291.19 139.96h3.34v3.56h-3.34zM291.19 128.58h3.34v3.56h-3.34zM291.19 125.74h3.34v3.56h-3.34zM291.19 111.52h3.34v3.56h-3.34zM291.19 83.08h3.34v3.56h-3.34zM294.23 262.25h3.34v3.56h-3.34zM294.23 193.99h3.34v3.56h-3.34zM294.23 174.09h3.34v3.55h-3.34zM294.23 125.74h3.34v3.56h-3.34zM294.23 117.21h3.34v3.55h-3.34zM294.23 111.52h3.34v3.56h-3.34zM294.23 108.67h3.34v3.56h-3.34zM294.23 100.14h3.34v3.56h-3.34zM297.28 265.09h3.34v3.56h-3.34zM297.28 219.59h3.34v3.56h-3.34zM297.28 216.75h3.34v3.56h-3.34zM297.28 191.15h3.34v3.55h-3.34zM297.28 182.62h3.34v3.56h-3.34zM297.28 168.40h3.34v3.56h-3.34zM297.28 154.18h3.34v3.56h-3.34zM297.28 148.49h3.34v3.56h-3.34zM297.28 125.74h3.34v3.56h-3.34zM297.28 105.83h3.34v3.56h-3.34zM297.28 97.30h3.34v3.56h-3.34zM297.28 91.61h3.34v3.56h-3.34zM297.28 74.55h3.34v3.55h-3.34zM297.28 68.86h3.34v3.56h-3.34zM297.28 66.01h3.34v3.56h-3.34zM297.28 63.17h3.34v3.56h-3.34zM297.28 60.33h3.34v3.55h-3.34zM300.32 262.25h3.34v3.56h-3.34zM300.32 228.12h3.34v3.56h-3.34zM300.32 213.90h3.34v3.56h-3.34zM300.32 202.53h3.34v3.56h-3.34zM300.32 168.40h3.34v3.56h-3.34zM300.32 165.55h3.34v3.56h-3.34zM300.32 159.87h3.34v3.55h-3.34zM300.32 145.65h3.34v3.55h-3.34zM300.32 131.43h3.34v3.55h-3.34zM300.32 111.52h3.34v3.56h-3.34zM300.32 105.83h3.34v3.56h-3.34zM300.32 74.55h3.34v3.55h-3.34zM300.32 66.01h3.34v3.56h-3.34zM300.32 63.17h3.34v3.56h-3.34zM300.32 60.33h3.34v3.55h-3.34zM300.32 57.48h3.34v3.56h-3.34zM303.36 259.41h3.34v3.56h-3.34zM303.36 256.56h3.34v3.56h-3.34zM303.36 236.65h3.34v3.56h-3.34zM303.36 225.28h3.34v3.56h-3.34zM303.36 188.31h3.34v3.56h-3.34zM303.36 182.62h3.34v3.56h-3.34zM303.36 102.99h3.34v3.55h-3.34zM306.41 259.41h3.34v3.56h-3.34zM306.41 253.72h3.34v3.56h-3.34zM306.41 245.19h3.34v3.56h-3.34zM306.41 239.50h3.34v3.56h-3.34zM306.41 225.28h3.34v3.56h-3.34z"/>
<path fill="#c99799" d="M38.62 316.29h3.34v0.01h-3.34zM38.62 313.44h3.34v2.86h-3.34zM38.62 310.60h3.34v3.56h-3.34zM44.71 304.91h3.34v3.56h-3.34zM50.79 299.22h3.34v3.56h-3.34zM56.88 304.91h3.34v3.56h-3.34zM59.92 302.07h3.34v3.55h-3.34zM69.05 293.53h3.34v3.56h-3.34zM69.05 282.16h3.34v3.56h-3.34zM72.09 285.00h3.34v3.56h-3.34zM75.14 316.29h3.34v0.01h-3.34zM75.14 313.44h3.34v2.86h-3.34zM75.14 310.60h3.34v3.56h-3.34zM78.18 285.00h3.34v3.56h-3.34zM78.18 279.31h3.34v3.56h-3.34zM81.22 304.91h3.34v3.56h-3.34zM81.22 299.22h3.34v3.56h-3.34zM81.22 293.53h3.34v3.56h-3.34zM81.22 270.78h3.34v3.56h-3.34zM84.27 302.07h3.34v3.55h-3.34zM84.27 290.69h3.34v3.56h-3.34zM84.27 279.31h3.34v3.56h-3.34zM84.27 273.63h3.34v3.55h-3.34zM87.31 276.47h3.34v3.56h-3.34zM90.35 273.63h3.34v3.55h-3.34zM93.40 293.53h3.34v3.56h-3.34zM93.40 270.78h3.34v3.56h-3.34zM96.44 316.29h3.34v0.01h-3.34zM96.44 313.44h3.34v2.86h-3.34zM96.44 310.60h3.34v3.56h-3.34zM96.44 304.91h3.34v3.56h-3.34zM96.44 299.22h3.34v3.56h-3.34zM96.44 293.53h3.34v3.56h-3.34zM96.44 285.00h3.34v3.56h-3.34zM96.44 273.63h3.34v3.55h-3.34zM96.44 267.94h3.34v3.56h-3.34zM99.48 259.41h3.34v3.56h-3.34zM99.48 250.87h3.34v3.55h-3.34zM99.48 248.03h3.34v3.55h-3.34zM99.48 245.19h3.34v3.56h-3.34zM102.52 290.69h3.34v3.56h-3.34zM102.52 262.25h3.34v3.56h-3.34zM102.52 259.41h3.34v3.56h-3.34zM105.57 276.47h3.34v3.56h-3.34zM105.57 256.56h3.34v3.56h-3.34zM105.57 250.87h3.34v3.55h-3.34zM108.61 307.75h3.34v3.56h-3.34zM108.61 273.63h3.34v3.55h-3.34zM111.65 282.16h3.34v3.56h-3.34zM111.65 259.41h3.34v3.56h-3.34zM111.65 256.56h3.34v3.56h-3.34zM114.70 302.07h3.34v3.55h-3.34zM114.70 256.56h3.34v3.56h-3.34zM117.74 299.22h3.34v3.56h-3.34zM117.74 276.47h3.34v3.56h-3.34zM117.74 259.41h3.34v3.56h-3.34zM117.74 253.72h3.34v3.56h-3.34zM120.78 273.63h3.34v3.55h-3.34zM123.83 293.53h3.34v3.56h-3.34zM123.83 282.16h3.34v3.56h-3.34zM123.83 270.78h3.34v3.56h-3.34zM129.91 287.85h3.34v3.56h-3.34zM129.91 282.16h3.34v3.56h-3.34zM129.91 276.47h3.34v3.56h-3.34zM132.95 307.75h3.34v3.56h-3.34zM132.95 290.69h3.34v3.56h-3.34zM132.95 279.31h3.34v3.56h-3.34zM132.95 248.03h3.34v3.55h-3.34zM136.00 316.29h3.34v0.01h-3.34zM136.00 313.44h3.34v2.86h-3.34zM136.00 310.60h3.34v3.56h-3.34zM136.00 287.85h3.34v3.56h-3.34zM136.00 285.00h3.34v3.56h-3.34zM136.00 276.47h3.34v3.56h-3.34zM136.00 250.87h3.34v3.55h-3.34zM136.00 222.43h3.34v3.55h-3.34zM139.04 316.29h3.34v0.01h-3.34zM139.04 313.44h3.34v2.86h-3.34zM139.04 310.60h3.34v3.56h-3.34zM139.04 302.07h3.34v3.55h-3.34zM139.04 296.38h3.34v3.56h-3.34zM139.04 273.63h3.34v3.55h-3.34zM139.04 265.09h3.34v3.56h-3.34zM139.04 262.25h3.34v3.56h-3.34zM139.04 259.41h3.34v3.56h-3.34zM139.04 230.97h3.34v3.56h-3.34zM142.08 307.75h3.34v3.56h-3.34zM142.08 304.91h3.34v3.56h-3.34zM142.08 299.22h3.34v3.56h-3.34zM142.08 282.16h3.34v3.56h-3.34zM142.08 267.94h3.34v3.56h-3.34zM145.13 302.07h3.34v3.55h-3.34zM145.13 276.47h3.34v3.56h-3.34zM145.13 265.09h3.34v3.56h-3.34zM145.13 225.28h3.34v3.56h-3.34zM148.17 293.53h3.34v3.56h-3.34zM148.17 276.47h3.34v3.56h-3.34zM148.17 273.63h3.34v3.55h-3.34zM148.17 267.94h3.34v3.56h-3.34zM151.21 304.91h3.34v3.56h-3.34zM151.21 296.38h3.34v3.56h-3.34zM151.21 273.63h3.34v3.55h-3.34zM151.21 208.21h3.34v3.56h-3.34zM154.26 287.85h3.34v3.56h-3.34zM154.26 282.16h3.34v3.56h-3.34zM154.26 233.81h3.34v3.56h-3.34zM154.26 228.12h3.34v3.56h-3.34zM154.26 219.59h3.34v3.56h-3.34zM160.34 296.38h3.34v3.56h-3.34zM160.34 216.75h3.34v3.56h-3.34zM160.34 213.90h3.34v3.56h-3.34zM160.34 208.21h3.34v3.56h-3.34zM160.34 205.37h3.34v3.56h-3.34zM160.34 199.68h3.34v3.56h-3.34zM160.34 193.99h3.34v3.56h-3.34zM160.34 191.15h3.34v3.55h-3.34zM160.34 188.31h3.34v3.56h-3.34zM163.38 302.07h3.34v3.55h-3.34zM163.38 287.85h3.34v3.56h-3.34zM163.38 285.00h3.34v3.56h-3.34zM163.38 273.63h3.34v3.55h-3.34zM163.38 213.90h3.34v3.56h-3.34zM163.38 205.37h3.34v3.56h-3.34zM166.43 304.91h3.34v3.56h-3.34zM166.43 267.94h3.34v3.56h-3.34zM166.43 208.21h3.34v3.56h-3.34zM166.43 202.53h3.34v3.56h-3.34zM166.43 199.68h3.34v3.56h-3.34zM169.47 290.69h3.34v3.56h-3.34zM169.47 282.16h3.34v3.56h-3.34zM169.47 279.31h3.34v3.56h-3.34zM169.47 273.63h3.34v3.55h-3.34zM169.47 230.97h3.34v3.56h-3.34zM169.47 211.06h3.34v3.56h-3.34zM169.47 185.46h3.34v3.56h-3.34zM169.47 182.62h3.34v3.56h-3.34zM169.47 179.77h3.34v3.56h-3.34zM172.51 293.53h3.34v3.56h-3.34zM172.51 279.31h3.34v3.56h-3.34zM172.51 205.37h3.34v3.56h-3.34zM172.51 188.31h3.34v3.56h-3.34zM175.56 290.69h3.34v3.56h-3.34zM175.56 273.63h3.34v3.55h-3.34zM175.56 202.53h3.34v3.56h-3.34zM175.56 185.46h3.34v3.56h-3.34zM175.56 179.77h3.34v3.56h-3.34zM175.56 176.93h3.34v3.56h-3.34zM175.56 174.09h3.34v3.55h-3.34zM178.60 293.53h3.34v3.56h-3.34zM178.60 287.85h3.34v3.56h-3.34zM178.60 279.31h3.34v3.56h-3.34zM178.60 228.12h3.34v3.56h-3.34zM178.60 225.28h3.34v3.56h-3.34zM178.60 222.43h3.34v3.55h-3.34zM178.60 216.75h3.34v3.56h-3.34zM178.60 199.68h3.34v3.56h-3.34zM178.60 185.46h3.34v3.56h-3.34zM181.64 304.91h3.34v3.56h-3.34zM181.64 270.78h3.34v3.56h-3.34zM181.64 265.09h3.34v3.56h-3.34zM181.64 259.41h3.34v3.56h-3.34zM181.64 188.31h3.34v3.56h-3.34zM181.64 185.46h3.34v3.56h-3.34zM181.64 182.62h3.34v3.56h-3.34zM184.69 302.07h3.34v3.55h-3.34zM184.69 273.63h3.34v3.55h-3.34zM184.69 262.25h3.34v3.56h-3.34zM184.69 228.12h3.34v3.56h-3.34zM184.69 202.53h3.34v3.56h-3.34zM187.73 213.90h3.34v3.56h-3.34zM187.73 208.21h3.34v3.56h-3.34zM187.73 185.46h3.34v3.56h-3.34zM190.77 299.22h3.34v3.56h-3.34zM190.77 296.38h3.34v3.56h-3.34zM190.77 290.69h3.34v3.56h-3.34zM190.77 276.47h3.34v3.56h-3.34zM190.77 273.63h3.34v3.55h-3.34zM190.77 267.94h3.34v3.56h-3.34zM190.77 262.25h3.34v3.56h-3.34zM190.77 256.56h3.34v3.56h-3.34zM190.77 228.12h3.34v3.56h-3.34zM190.77 225.28h3.34v3.56h-3.34zM190.77 219.59h3.34v3.56h-3.34zM190.77 191.15h3.34v3.55h-3.34zM190.77 165.55h3.34v3.56h-3.34zM190.77 162.71h3.34v3.56h-3.34zM190.77 159.87h3.34v3.55h-3.34zM193.81 307.75h3.34v3.56h-3.34zM193.81 287.85h3.34v3.56h-3.34zM193.81 168.40h3.34v3.56h-3.34zM193.81 162.71h3.34v3.56h-3.34zM193.81 159.87h3.34v3.55h-3.34zM193.81 157.02h3.34v3.56h-3.34zM196.86 276.47h3.34v3.56h-3.34zM196.86 213.90h3.34v3.56h-3.34zM196.86 202.53h3.34v3.56h-3.34zM196.86 199.68h3.34v3.56h-3.34zM196.86 185.46h3.34v3.56h-3.34zM196.86 179.77h3.34v3.56h-3.34zM196.86 171.24h3.34v3.56h-3.34zM196.86 159.87h3.34v3.55h-3.34zM196.86 157.02h3.34v3.56h-3.34zM196.86 154.18h3.34v3.56h-3.34zM199.90 302.07h3.34v3.55h-3.34zM199.90 296.38h3.34v3.56h-3.34zM199.90 265.09h3.34v3.56h-3.34zM199.90 211.06h3.34v3.56h-3.34zM199.90 205.37h3.34v3.56h-3.34zM199.90 199.68h3.34v3.56h-3.34zM199.90 182.62h3.34v3.56h-3.34zM199.90 159.87h3.34v3.55h-3.34zM202.94 304.91h3.34v3.56h-3.34zM202.94 293.53h3.34v3.56h-3.34zM202.94 285.00h3.34v3.56h-3.34zM202.94 279.31h3.34v3.56h-3.34zM202.94 267.94h3.34v3.56h-3.34zM202.94 262.25h3.34v3.56h-3.34zM202.94 202.53h3.34v3.56h-3.34zM202.94 185.46h3.34v3.56h-3.34zM205.99 282.16h3.34v3.56h-3.34zM205.99 225.28h3.34v3.56h-3.34zM205.99 211.06h3.34v3.56h-3.34zM205.99 205.37h3.34v3.56h-3.34zM205.99 199.68h3.34v3.56h-3.34zM205.99 171.24h3.34v3.56h-3.34zM205.99 157.02h3.34v3.56h-3.34zM209.03 299.22h3.34v3.56h-3.34zM209.03 219.59h3.34v3.56h-3.34zM209.03 196.84h3.34v3.55h-3.34zM209.03 179.77h3.34v3.56h-3.34zM209.03 171.24h3.34v3.56h-3.34zM212.07 290.69h3.34v3.56h-3.34zM212.07 270.78h3.34v3.56h-3.34zM212.07 225.28h3.34v3.56h-3.34zM212.07 199.68h3.34v3.56h-3.34zM212.07 148.49h3.34v3.56h-3.34zM215.12 228.12h3.34v3.56h-3.34zM215.12 222.43h3.34v3.55h-3.34zM215.12 211.06h3.34v3.56h-3.34zM215.12 208.21h3.34v3.56h-3.34zM215.12 174.09h3.34v3.55h-3.34zM215.12 165.55h3.34v3.56h-3.34zM215.12 142.80h3.34v3.56h-3.34zM215.12 139.96h3.34v3.56h-3.34zM215.12 137.11h3.34v3.56h-3.34zM218.16 213.90h3.34v3.56h-3.34zM218.16 211.06h3.34v3.56h-3.34zM218.16 199.68h3.34v3.56h-3.34zM218.16 191.15h3.34v3.55h-3.34zM218.16 188.31h3.34v3.56h-3.34zM218.16 179.77h3.34v3.56h-3.34zM218.16 159.87h3.34v3.55h-3.34zM221.20 287.85h3.34v3.56h-3.34zM221.20 267.94h3.34v3.56h-3.34zM221.20 219.59h3.34v3.56h-3.34zM221.20 208.21h3.34v3.56h-3.34zM221.20 205.37h3.34v3.56h-3.34zM221.20 162.71h3.34v3.56h-3.34zM221.20 142.80h3.34v3.56h-3.34zM221.20 137.11h3.34v3.56h-3.34zM221.20 134.27h3.34v3.56h-3.34zM221.20 131.43h3.34v3.55h-3.34zM224.24 307.75h3.34v3.56h-3.34zM224.24 304.91h3.34v3.56h-3.34zM224.24 253.72h3.34v3.56h-3.34zM224.24 219.59h3.34v3.56h-3.34zM224.24 216.75h3.34v3.56h-3.34zM224.24 213.90h3.34v3.56h-3.34zM224.24 165.55h3.34v3.56h-3.34zM224.24 139.96h3.34v3.56h-3.34zM227.29 304.91h3.34v3.56h-3.34zM227.29 302.07h3.34v3.55h-3.34zM227.29 282.16h3.34v3.56h-3.34zM227.29 174.09h3.34v3.55h-3.34zM227.29 157.02h3.34v3.56h-3.34zM227.29 142.80h3.34v3.56h-3.34zM230.33 302.07h3.34v3.55h-3.34zM230.33 293.53h3.34v3.56h-3.34zM230.33 279.31h3.34v3.56h-3.34zM230.33 196.84h3.34v3.55h-3.34zM230.33 171.24h3.34v3.56h-3.34zM230.33 159.87h3.34v3.55h-3.34zM230.33 154.18h3.34v3.56h-3.34zM230.33 134.27h3.34v3.56h-3.34zM233.37 299.22h3.34v3.56h-3.34zM233.37 276.47h3.34v3.56h-3.34zM233.37 262.25h3.34v3.56h-3.34zM233.37 196.84h3.34v3.55h-3.34zM233.37 179.77h3.34v3.56h-3.34zM233.37 151.33h3.34v3.56h-3.34zM233.37 145.65h3.34v3.55h-3.34zM233.37 125.74h3.34v3.56h-3.34zM233.37 122.89h3.34v3.56h-3.34zM233.37 120.05h3.34v3.56h-3.34zM236.42 293.53h3.34v3.56h-3.34zM236.42 276.47h3.34v3.56h-3.34zM236.42 267.94h3.34v3.56h-3.34zM236.42 265.09h3.34v3.56h-3.34zM236.42 225.28h3.34v3.56h-3.34zM236.42 182.62h3.34v3.56h-3.34zM236.42 176.93h3.34v3.56h-3.34zM236.42 142.80h3.34v3.56h-3.34zM239.46 285.00h3.34v3.56h-3.34zM239.46 270.78h3.34v3.56h-3.34zM239.46 222.43h3.34v3.55h-3.34zM239.46 213.90h3.34v3.56h-3.34zM239.46 202.53h3.34v3.56h-3.34zM239.46 191.15h3.34v3.55h-3.34zM239.46 179.77h3.34v3.56h-3.34zM239.46 174.09h3.34v3.55h-3.34zM239.46 145.65h3.34v3.55h-3.34zM239.46 139.96h3.34v3.56h-3.34zM239.46 131.43h3.34v3.55h-3.34zM242.50 290.69h3.34v3.56h-3.34zM242.50 287.85h3.34v3.56h-3.34zM242.50 267.94h3.34v3.56h-3.34zM242.50 259.41h3.34v3.56h-3.34zM242.50 225.28h3.34v3.56h-3.34zM242.50 213.90h3.34v3.56h-3.34zM242.50 211.06h3.34v3.56h-3.34zM242.50 157.02h3.34v3.56h-3.34zM242.50 137.11h3.34v3.56h-3.34zM245.55 302.07h3.34v3.55h-3.34zM245.55 267.94h3.34v3.56h-3.34zM245.55 222.43h3.34v3.55h-3.34zM245.55 208.21h3.34v3.56h-3.34zM245.55 196.84h3.34v3.55h-3.34zM245.55 191.15h3.34v3.55h-3.34zM245.55 134.27h3.34v3.56h-3.34zM245.55 128.58h3.34v3.56h-3.34zM248.59 316.29h3.34v0.01h-3.34zM248.59 313.44h3.34v2.86h-3.34zM248.59 310.60h3.34v3.56h-3.34zM248.59 299.22h3.34v3.56h-3.34zM248.59 282.16h3.34v3.56h-3.34zM248.59 225.28h3.34v3.56h-3.34zM248.59 213.90h3.34v3.56h-3.34zM248.59 208.21h3.34v3.56h-3.34zM248.59 165.55h3.34v3.56h-3.34zM248.59 159.87h3.34v3.55h-3.34zM248.59 142.80h3.34v3.56h-3.34zM248.59 137.11h3.34v3.56h-3.34zM248.59 125.74h3.34v3.56h-3.34zM248.59 114.36h3.34v3.56h-3.34zM251.63 304.91h3.34v3.56h-3.34zM251.63 302.07h3.34v3.55h-3.34zM251.63 296.38h3.34v3.56h-3.34zM251.63 273.63h3.34v3.55h-3.34zM251.63 256.56h3.34v3.56h-3.34zM251.63 228.12h3.34v3.56h-3.34zM251.63 213.90h3.34v3.56h-3.34zM251.63 202.53h3.34v3.56h-3.34zM251.63 191.15h3.34v3.55h-3.34zM251.63 185.46h3.34v3.56h-3.34zM251.63 179.77h3.34v3.56h-3.34zM251.63 157.02h3.34v3.56h-3.34zM251.63 139.96h3.34v3.56h-3.34zM251.63 120.05h3.34v3.56h-3.34zM251.63 108.67h3.34v3.56h-3.34zM251.63 105.83h3.34v3.56h-3.34zM251.63 102.99h3.34v3.55h-3.34zM254.67 304.91h3.34v3.56h-3.34zM254.67 279.31h3.34v3.56h-3.34zM254.67 211.06h3.34v3.56h-3.34zM254.67 199.68h3.34v3.56h-3.34zM254.67 188.31h3.34v3.56h-3.34zM254.67 137.11h3.34v3.56h-3.34zM254.67 131.43h3.34v3.55h-3.34zM254.67 117.21h3.34v3.55h-3.34zM254.67 114.36h3.34v3.56h-3.34zM257.72 304.91h3.34v3.56h-3.34zM257.72 273.63h3.34v3.55h-3.34zM257.72 267.94h3.34v3.56h-3.34zM257.72 219.59h3.34v3.56h-3.34zM257.72 213.90h3.34v3.56h-3.34zM257.72 208.21h3.34v3.56h-3.34zM257.72 202.53h3.34v3.56h-3.34zM257.72 196.84h3.34v3.55h-3.34zM257.72 174.09h3.34v3.55h-3.34zM257.72 171.24h3.34v3.56h-3.34zM257.72 157.02h3.34v3.56h-3.34zM257.72 151.33h3.34v3.56h-3.34zM257.72 134.27h3.34v3.56h-3.34zM257.72 122.89h3.34v3.56h-3.34zM257.72 117.21h3.34v3.55h-3.34zM257.72 114.36h3.34v3.56h-3.34zM260.76 296.38h3.34v3.56h-3.34zM260.76 270.78h3.34v3.56h-3.34zM260.76 202.53h3.34v3.56h-3.34zM260.76 199.68h3.34v3.56h-3.34zM260.76 193.99h3.34v3.56h-3.34zM260.76 176.93h3.34v3.56h-3.34zM260.76 165.55h3.34v3.56h-3.34zM260.76 142.80h3.34v3.56h-3.34zM260.76 111.52h3.34v3.56h-3.34zM260.76 108.67h3.34v3.56h-3.34zM260.76 102.99h3.34v3.55h-3.34zM263.80 296.38h3.34v3.56h-3.34zM263.80 293.53h3.34v3.56h-3.34zM263.80 262.25h3.34v3.56h-3.34zM263.80 222.43h3.34v3.55h-3.34zM263.80 199.68h3.34v3.56h-3.34zM263.80 179.77h3.34v3.56h-3.34zM263.80 165.55h3.34v3.56h-3.34zM263.80 151.33h3.34v3.56h-3.34zM263.80 139.96h3.34v3.56h-3.34zM263.80 117.21h3.34v3.55h-3.34zM263.80 111.52h3.34v3.56h-3.34zM263.80 108.67h3.34v3.56h-3.34zM263.80 97.30h3.34v3.56h-3.34zM263.80 94.45h3.34v3.56h-3.34zM263.80 91.61h3.34v3.56h-3.34zM266.85 293.53h3.34v3.56h-3.34zM266.85 219.59h3.34v3.56h-3.34zM266.85 205.37h3.34v3.56h-3.34zM266.85 188.31h3.34v3.56h-3.34zM266.85 171.24h3.34v3.56h-3.34zM266.85 148.49h3.34v3.56h-3.34zM266.85 142.80h3.34v3.56h-3.34zM266.85 125.74h3.34v3.56h-3.34zM266.85 120.05h3.34v3.56h-3.34zM266.85 105.83h3.34v3.56h-3.34zM266.85 102.99h3.34v3.55h-3.34zM266.85 94.45h3.34v3.56h-3.34zM266.85 91.61h3.34v3.56h-3.34zM266.85 88.77h3.34v3.55h-3.34zM269.89 293.53h3.34v3.56h-3.34zM269.89 287.85h3.34v3.56h-3.34zM269.89 279.31h3.34v3.56h-3.34zM269.89 228.12h3.34v3.56h-3.34zM269.89 196.84h3.34v3.55h-3.34zM269.89 168.40h3.34v3.56h-3.34zM269.89 162.71h3.34v3.56h-3.34zM269.89 145.65h3.34v3.55h-3.34zM269.89 139.96h3.34v3.56h-3.34zM269.89 131.43h3.34v3.55h-3.34zM269.89 105.83h3.34v3.56h-3.34zM272.93 282.16h3.34v3.56h-3.34zM272.93 213.90h3.34v3.56h-3.34zM272.93 205.37h3.34v3.56h-3.34zM272.93 199.68h3.34v3.56h-3.34zM272.93 193.99h3.34v3.56h-3.34zM272.93 182.62h3.34v3.56h-3.34zM272.93 176.93h3.34v3.56h-3.34zM272.93 142.80h3.34v3.56h-3.34zM272.93 131.43h3.34v3.55h-3.34zM272.93 100.14h3.34v3.56h-3.34zM275.98 282.16h3.34v3.56h-3.34zM275.98 262.25h3.34v3.56h-3.34zM275.98 228.12h3.34v3.56h-3.34zM275.98 211.06h3.34v3.56h-3.34zM275.98 205.37h3.34v3.56h-3.34zM275.98 196.84h3.34v3.55h-3.34zM275.98 191.15h3.34v3.55h-3.34zM275.98 188.31h3.34v3.56h-3.34zM275.98 182.62h3.34v3.56h-3.34zM275.98 162.71h3.34v3.56h-3.34zM275.98 157.02h3.34v3.56h-3.34zM275.98 154.18h3.34v3.56h-3.34zM275.98 145.65h3.34v3.55h-3.34zM275.98 117.21h3.34v3.55h-3.34zM275.98 111.52h3.34v3.56h-3.34zM275.98 108.67h3.34v3.56h-3.34zM275.98 97.30h3.34v3.56h-3.34zM279.02 276.47h3.34v3.56h-3.34zM279.02 259.41h3.34v3.56h-3.34zM279.02 225.28h3.34v3.56h-3.34zM279.02 199.68h3.34v3.56h-3.34zM279.02 193.99h3.34v3.56h-3.34zM279.02 188.31h3.34v3.56h-3.34zM279.02 185.46h3.34v3.56h-3.34zM279.02 176.93h3.34v3.56h-3.34zM279.02 114.36h3.34v3.56h-3.34zM279.02 105.83h3.34v3.56h-3.34zM279.02 91.61h3.34v3.56h-3.34zM279.02 85.92h3.34v3.56h-3.34zM282.06 276.47h3.34v3.56h-3.34zM282.06 196.84h3.34v3.55h-3.34zM282.06 182.62h3.34v3.56h-3.34zM282.06 179.77h3.34v3.56h-3.34zM282.06 174.09h3.34v3.55h-3.34zM282.06 151.33h3.34v3.56h-3.34zM282.06 145.65h3.34v3.55h-3.34zM282.06 134.27h3.34v3.56h-3.34zM282.06 111.52h3.34v3.56h-3.34zM282.06 105.83h3.34v3.56h-3.34zM285.10 276.47h3.34v3.56h-3.34zM285.10 259.41h3.34v3.56h-3.34zM285.10 202.53h3.34v3.56h-3.34zM285.10 176.93h3.34v3.56h-3.34zM285.10 171.24h3.34v3.56h-3.34zM285.10 154.18h3.34v3.56h-3.34zM285.10 131.43h3.34v3.55h-3.34zM285.10 100.14h3.34v3.56h-3.34zM288.15 273.63h3.34v3.55h-3.34zM288.15 267.94h3.34v3.56h-3.34zM288.15 256.56h3.34v3.56h-3.34zM288.15 228.12h3.34v3.56h-3.34zM288.15 208.21h3.34v3.56h-3.34zM288.15 205.37h3.34v3.56h-3.34zM288.15 202.53h3.34v3.56h-3.34zM288.15 162.71h3.34v3.56h-3.34zM288.15 157.02h3.34v3.56h-3.34zM288.15 145.65h3.34v3.55h-3.34zM288.15 122.89h3.34v3.56h-3.34zM288.15 105.83h3.34v3.56h-3.34zM288.15 94.45h3.34v3.56h-3.34zM288.15 85.92h3.34v3.56h-3.34zM288.15 83.08h3.34v3.56h-3.34zM291.19 265.09h3.34v3.56h-3.34zM291.19 230.97h3.34v3.56h-3.34zM291.19 225.28h3.34v3.56h-3.34zM291.19 196.84h3.34v3.55h-3.34zM291.19 182.62h3.34v3.56h-3.34zM291.19 176.93h3.34v3.56h-3.34zM291.19 174.09h3.34v3.55h-3.34zM291.19 165.55h3.34v3.56h-3.34zM291.19 114.36h3.34v3.56h-3.34zM291.19 91.61h3.34v3.56h-3.34zM291.19 71.70h3.34v3.56h-3.34zM291.19 68.86h3.34v3.56h-3.34zM291.19 66.01h3.34v3.56h-3.34zM294.23 213.90h3.34v3.56h-3.34zM294.23 208.21h3.34v3.56h-3.34zM294.23 185.46h3.34v3.56h-3.34zM294.23 168.40h3.34v3.56h-3.34zM294.23 162.71h3.34v3.56h-3.34zM294.23 157.02h3.34v3.56h-3.34zM294.23 145.65h3.34v3.55h-3.34zM294.23 139.96h3.34v3.56h-3.34zM294.23 134.27h3.34v3.56h-3.34zM294.23 122.89h3.34v3.56h-3.34zM294.23 83.08h3.34v3.56h-3.34zM294.23 77.39h3.34v3.56h-3.34zM297.28 267.94h3.34v3.56h-3.34zM297.28 259.41h3.34v3.56h-3.34zM297.28 230.97h3.34v3.56h-3.34zM297.28 211.06h3.34v3.56h-3.34zM297.28 205.37h3.34v3.56h-3.34zM297.28 199.68h3.34v3.56h-3.34zM297.28 176.93h3.34v3.56h-3.34zM297.28 171.24h3.34v3.56h-3.34zM297.28 165.55h3.34v3.56h-3.34zM297.28 159.87h3.34v3.55h-3.34zM297.28 142.80h3.34v3.56h-3.34zM297.28 131.43h3.34v3.55h-3.34zM300.32 219.59h3.34v3.56h-3.34zM300.32 208.21h3.34v3.56h-3.34zM300.32 191.15h3.34v3.55h-3.34zM300.32 185.46h3.34v3.56h-3.34zM300.32 174.09h3.34v3.55h-3.34zM300.32 157.02h3.34v3.56h-3.34zM300.32 128.58h3.34v3.56h-3.34zM300.32 94.45h3.34v3.56h-3.34zM300.32 88.77h3.34v3.55h-3.34zM300.32 77.39h3.34v3.56h-3.34zM300.32 71.70h3.34v3.56h-3.34zM303.36 248.03h3.34v3.55h-3.34zM303.36 159.87h3.34v3.55h-3.34zM306.41 219.59h3.34v3.56h-3.34zM306.41 94.45h3.34v3.56h-3.34zM306.41 77.39h3.34v3.56h-3.34z"/>
<path fill="#c89093" d="M66.01 285.00h3.34v3.56h-3.34zM72.09 279.31h3.34v3.56h-3.34zM78.18 307.75h3.34v3.56h-3.34zM84.27 267.94h3.34v3.56h-3.34zM87.31 270.78h3.34v3.56h-3.34zM87.31 265.09h3.34v3.56h-3.34zM90.35 299.22h3.34v3.56h-3.34zM90.35 267.94h3.34v3.56h-3.34zM93.40 259.41h3.34v3.56h-3.34zM96.44 307.75h3.34v3.56h-3.34zM96.44 302.07h3.34v3.55h-3.34zM96.44 279.31h3.34v3.56h-3.34zM96.44 265.09h3.34v3.56h-3.34zM96.44 262.25h3.34v3.56h-3.34zM99.48 282.16h3.34v3.56h-3.34zM99.48 265.09h3.34v3.56h-3.34zM102.52 273.63h3.34v3.55h-3.34zM105.57 287.85h3.34v3.56h-3.34zM105.57 270.78h3.34v3.56h-3.34zM105.57 259.41h3.34v3.56h-3.34zM105.57 245.19h3.34v3.56h-3.34zM105.57 242.34h3.34v3.55h-3.34zM105.57 239.50h3.34v3.56h-3.34zM108.61 285.00h3.34v3.56h-3.34zM108.61 256.56h3.34v3.56h-3.34zM108.61 253.72h3.34v3.56h-3.34zM111.65 304.91h3.34v3.56h-3.34zM111.65 276.47h3.34v3.56h-3.34zM111.65 270.78h3.34v3.56h-3.34zM111.65 265.09h3.34v3.56h-3.34zM114.70 273.63h3.34v3.55h-3.34zM114.70 267.94h3.34v3.56h-3.34zM117.74 265.09h3.34v3.56h-3.34zM117.74 256.56h3.34v3.56h-3.34zM120.78 307.75h3.34v3.56h-3.34zM120.78 296.38h3.34v3.56h-3.34zM120.78 262.25h3.34v3.56h-3.34zM123.83 250.87h3.34v3.55h-3.34zM123.83 245.19h3.34v3.56h-3.34zM129.91 299.22h3.34v3.56h-3.34zM129.91 265.09h3.34v3.56h-3.34zM132.95 296.38h3.34v3.56h-3.34zM132.95 253.72h3.34v3.56h-3.34zM136.00 270.78h3.34v3.56h-3.34zM136.00 265.09h3.34v3.56h-3.34zM136.00 256.56h3.34v3.56h-3.34zM136.00 245.19h3.34v3.56h-3.34zM136.00 228.12h3.34v3.56h-3.34zM139.04 307.75h3.34v3.56h-3.34zM139.04 285.00h3.34v3.56h-3.34zM139.04 225.28h3.34v3.56h-3.34zM139.04 213.90h3.34v3.56h-3.34zM139.04 211.06h3.34v3.56h-3.34zM139.04 208.21h3.34v3.56h-3.34zM142.08 293.53h3.34v3.56h-3.34zM142.08 270.78h3.34v3.56h-3.34zM142.08 265.09h3.34v3.56h-3.34zM142.08 256.56h3.34v3.56h-3.34zM142.08 228.12h3.34v3.56h-3.34zM142.08 211.06h3.34v3.56h-3.34zM142.08 208.21h3.34v3.56h-3.34zM142.08 205.37h3.34v3.56h-3.34zM145.13 296.38h3.34v3.56h-3.34zM145.13 290.69h3.34v3.56h-3.34zM145.13 267.94h3.34v3.56h-3.34zM145.13 259.41h3.34v3.56h-3.34zM145.13 222.43h3.34v3.55h-3.34zM145.13 219.59h3.34v3.56h-3.34zM145.13 208.21h3.34v3.56h-3.34zM145.13 205.37h3.34v3.56h-3.34zM145.13 202.53h3.34v3.56h-3.34zM148.17 307.75h3.34v3.56h-3.34zM148.17 299.22h3.34v3.56h-3.34zM148.17 287.85h3.34v3.56h-3.34zM148.17 282.16h3.34v3.56h-3.34zM148.17 265.09h3.34v3.56h-3.34zM148.17 228.12h3.34v3.56h-3.34zM148.17 219.59h3.34v3.56h-3.34zM148.17 211.06h3.34v3.56h-3.34zM151.21 307.75h3.34v3.56h-3.34zM151.21 230.97h3.34v3.56h-3.34zM151.21 225.28h3.34v3.56h-3.34zM151.21 216.75h3.34v3.56h-3.34zM154.26 316.29h3.34v0.01h-3.34zM154.26 313.44h3.34v2.86h-3.34zM154.26 310.60h3.34v3.56h-3.34zM154.26 302.07h3.34v3.55h-3.34zM154.26 296.38h3.34v3.56h-3.34zM154.26 293.53h3.34v3.56h-3.34zM154.26 267.94h3.34v3.56h-3.34zM154.26 211.06h3.34v3.56h-3.34zM154.26 199.68h3.34v3.56h-3.34zM154.26 196.84h3.34v3.55h-3.34zM154.26 193.99h3.34v3.56h-3.34zM160.34 316.29h3.34v0.01h-3.34zM160.34 313.44h3.34v2.86h-3.34zM160.34 310.60h3.34v3.56h-3.34zM160.34 304.91h3.34v3.56h-3.34zM160.34 293.53h3.34v3.56h-3.34zM160.34 262.25h3.34v3.56h-3.34zM160.34 256.56h3.34v3.56h-3.34zM163.38 296.38h3.34v3.56h-3.34zM163.38 191.15h3.34v3.55h-3.34zM163.38 188.31h3.34v3.56h-3.34zM163.38 185.46h3.34v3.56h-3.34zM166.43 299.22h3.34v3.56h-3.34zM166.43 290.69h3.34v3.56h-3.34zM166.43 287.85h3.34v3.56h-3.34zM166.43 276.47h3.34v3.56h-3.34zM166.43 270.78h3.34v3.56h-3.34zM166.43 233.81h3.34v3.56h-3.34zM166.43 228.12h3.34v3.56h-3.34zM166.43 219.59h3.34v3.56h-3.34zM166.43 188.31h3.34v3.56h-3.34zM166.43 185.46h3.34v3.56h-3.34zM166.43 182.62h3.34v3.56h-3.34zM169.47 307.75h3.34v3.56h-3.34zM169.47 296.38h3.34v3.56h-3.34zM169.47 287.85h3.34v3.56h-3.34zM169.47 265.09h3.34v3.56h-3.34zM169.47 259.41h3.34v3.56h-3.34zM169.47 216.75h3.34v3.56h-3.34zM169.47 199.68h3.34v3.56h-3.34zM172.51 316.29h3.34v0.01h-3.34zM172.51 313.44h3.34v2.86h-3.34zM172.51 310.60h3.34v3.56h-3.34zM172.51 304.91h3.34v3.56h-3.34zM172.51 299.22h3.34v3.56h-3.34zM172.51 287.85h3.34v3.56h-3.34zM172.51 285.00h3.34v3.56h-3.34zM172.51 270.78h3.34v3.56h-3.34zM172.51 256.56h3.34v3.56h-3.34zM172.51 228.12h3.34v3.56h-3.34zM172.51 222.43h3.34v3.55h-3.34zM172.51 213.90h3.34v3.56h-3.34zM172.51 208.21h3.34v3.56h-3.34zM172.51 182.62h3.34v3.56h-3.34zM172.51 179.77h3.34v3.56h-3.34zM172.51 176.93h3.34v3.56h-3.34zM175.56 307.75h3.34v3.56h-3.34zM175.56 296.38h3.34v3.56h-3.34zM175.56 282.16h3.34v3.56h-3.34zM175.56 267.94h3.34v3.56h-3.34zM175.56 259.41h3.34v3.56h-3.34zM175.56 253.72h3.34v3.56h-3.34zM175.56 230.97h3.34v3.56h-3.34zM175.56 211.06h3.34v3.56h-3.34zM178.60 302.07h3.34v3.55h-3.34zM178.60 276.47h3.34v3.56h-3.34zM178.60 265.09h3.34v3.56h-3.34zM178.60 262.25h3.34v3.56h-3.34zM178.60 256.56h3.34v3.56h-3.34zM178.60 219.59h3.34v3.56h-3.34zM178.60 208.21h3.34v3.56h-3.34zM181.64 302.07h3.34v3.55h-3.34zM181.64 299.22h3.34v3.56h-3.34zM181.64 296.38h3.34v3.56h-3.34zM181.64 290.69h3.34v3.56h-3.34zM181.64 279.31h3.34v3.56h-3.34zM181.64 276.47h3.34v3.56h-3.34zM181.64 199.68h3.34v3.56h-3.34zM184.69 304.91h3.34v3.56h-3.34zM184.69 299.22h3.34v3.56h-3.34zM184.69 293.53h3.34v3.56h-3.34zM184.69 282.16h3.34v3.56h-3.34zM184.69 270.78h3.34v3.56h-3.34zM184.69 267.94h3.34v3.56h-3.34zM184.69 256.56h3.34v3.56h-3.34zM184.69 233.81h3.34v3.56h-3.34zM184.69 213.90h3.34v3.56h-3.34zM184.69 185.46h3.34v3.56h-3.34zM187.73 199.68h3.34v3.56h-3.34zM187.73 191.15h3.34v3.55h-3.34zM187.73 188.31h3.34v3.56h-3.34zM187.73 168.40h3.34v3.56h-3.34zM187.73 165.55h3.34v3.56h-3.34zM187.73 162.71h3.34v3.56h-3.34zM190.77 304.91h3.34v3.56h-3.34zM190.77 293.53h3.34v3.56h-3.34zM190.77 282.16h3.34v3.56h-3.34zM190.77 171.24h3.34v3.56h-3.34zM190.77 168.40h3.34v3.56h-3.34zM193.81 302.07h3.34v3.55h-3.34zM193.81 279.31h3.34v3.56h-3.34zM193.81 273.63h3.34v3.55h-3.34zM193.81 267.94h3.34v3.56h-3.34zM193.81 265.09h3.34v3.56h-3.34zM193.81 259.41h3.34v3.56h-3.34zM193.81 236.65h3.34v3.56h-3.34zM193.81 222.43h3.34v3.55h-3.34zM193.81 216.75h3.34v3.56h-3.34zM193.81 205.37h3.34v3.56h-3.34zM193.81 174.09h3.34v3.55h-3.34zM196.86 299.22h3.34v3.56h-3.34zM196.86 256.56h3.34v3.56h-3.34zM196.86 219.59h3.34v3.56h-3.34zM196.86 191.15h3.34v3.55h-3.34zM196.86 165.55h3.34v3.56h-3.34zM199.90 307.75h3.34v3.56h-3.34zM199.90 285.00h3.34v3.56h-3.34zM199.90 273.63h3.34v3.55h-3.34zM199.90 230.97h3.34v3.56h-3.34zM199.90 162.71h3.34v3.56h-3.34zM202.94 299.22h3.34v3.56h-3.34zM202.94 282.16h3.34v3.56h-3.34zM202.94 270.78h3.34v3.56h-3.34zM202.94 265.09h3.34v3.56h-3.34zM202.94 196.84h3.34v3.55h-3.34zM202.94 165.55h3.34v3.56h-3.34zM202.94 159.87h3.34v3.55h-3.34zM202.94 157.02h3.34v3.56h-3.34zM205.99 296.38h3.34v3.56h-3.34zM205.99 276.47h3.34v3.56h-3.34zM205.99 259.41h3.34v3.56h-3.34zM205.99 222.43h3.34v3.55h-3.34zM205.99 219.59h3.34v3.56h-3.34zM205.99 193.99h3.34v3.56h-3.34zM205.99 162.71h3.34v3.56h-3.34zM209.03 293.53h3.34v3.56h-3.34zM209.03 276.47h3.34v3.56h-3.34zM209.03 273.63h3.34v3.55h-3.34zM209.03 233.81h3.34v3.56h-3.34zM209.03 191.15h3.34v3.55h-3.34zM209.03 154.18h3.34v3.56h-3.34zM212.07 285.00h3.34v3.56h-3.34zM212.07 259.41h3.34v3.56h-3.34zM212.07 219.59h3.34v3.56h-3.34zM212.07 216.75h3.34v3.56h-3.34zM212.07 211.06h3.34v3.56h-3.34zM215.12 316.29h3.34v0.01h-3.34zM215.12 313.44h3.34v2.86h-3.34zM215.12 310.60h3.34v3.56h-3.34zM215.12 267.94h3.34v3.56h-3.34zM215.12 256.56h3.34v3.56h-3.34zM215.12 233.81h3.34v3.56h-3.34zM215.12 213.90h3.34v3.56h-3.34zM218.16 205.37h3.34v3.56h-3.34zM218.16 193.99h3.34v3.56h-3.34zM218.16 171.24h3.34v3.56h-3.34zM218.16 165.55h3.34v3.56h-3.34zM218.16 145.65h3.34v3.55h-3.34zM218.16 142.80h3.34v3.56h-3.34zM218.16 139.96h3.34v3.56h-3.34zM218.16 137.11h3.34v3.56h-3.34zM218.16 134.27h3.34v3.56h-3.34zM221.20 316.29h3.34v0.01h-3.34zM221.20 313.44h3.34v2.86h-3.34zM221.20 310.60h3.34v3.56h-3.34zM221.20 307.75h3.34v3.56h-3.34zM221.20 293.53h3.34v3.56h-3.34zM221.20 282.16h3.34v3.56h-3.34zM221.20 202.53h3.34v3.56h-3.34zM221.20 168.40h3.34v3.56h-3.34zM221.20 148.49h3.34v3.56h-3.34zM221.20 139.96h3.34v3.56h-3.34zM224.24 285.00h3.34v3.56h-3.34zM224.24 265.09h3.34v3.56h-3.34zM224.24 222.43h3.34v3.55h-3.34zM224.24 188.31h3.34v3.56h-3.34zM224.24 176.93h3.34v3.56h-3.34zM227.29 219.59h3.34v3.56h-3.34zM227.29 213.90h3.34v3.56h-3.34zM227.29 196.84h3.34v3.55h-3.34zM227.29 185.46h3.34v3.56h-3.34zM227.29 162.71h3.34v3.56h-3.34zM230.33 299.22h3.34v3.56h-3.34zM230.33 285.00h3.34v3.56h-3.34zM230.33 273.63h3.34v3.55h-3.34zM230.33 267.94h3.34v3.56h-3.34zM230.33 225.28h3.34v3.56h-3.34zM230.33 216.75h3.34v3.56h-3.34zM230.33 211.06h3.34v3.56h-3.34zM230.33 199.68h3.34v3.56h-3.34zM230.33 131.43h3.34v3.55h-3.34zM233.37 282.16h3.34v3.56h-3.34zM233.37 270.78h3.34v3.56h-3.34zM233.37 219.59h3.34v3.56h-3.34zM233.37 213.90h3.34v3.56h-3.34zM233.37 202.53h3.34v3.56h-3.34zM233.37 157.02h3.34v3.56h-3.34zM236.42 290.69h3.34v3.56h-3.34zM236.42 279.31h3.34v3.56h-3.34zM236.42 259.41h3.34v3.56h-3.34zM236.42 216.75h3.34v3.56h-3.34zM236.42 211.06h3.34v3.56h-3.34zM236.42 205.37h3.34v3.56h-3.34zM236.42 199.68h3.34v3.56h-3.34zM236.42 188.31h3.34v3.56h-3.34zM236.42 154.18h3.34v3.56h-3.34zM236.42 128.58h3.34v3.56h-3.34zM236.42 125.74h3.34v3.56h-3.34zM239.46 293.53h3.34v3.56h-3.34zM239.46 262.25h3.34v3.56h-3.34zM239.46 162.71h3.34v3.56h-3.34zM239.46 125.74h3.34v3.56h-3.34zM239.46 122.89h3.34v3.56h-3.34zM242.50 302.07h3.34v3.55h-3.34zM242.50 230.97h3.34v3.56h-3.34zM242.50 222.43h3.34v3.55h-3.34zM242.50 219.59h3.34v3.56h-3.34zM242.50 205.37h3.34v3.56h-3.34zM242.50 193.99h3.34v3.56h-3.34zM242.50 188.31h3.34v3.56h-3.34zM242.50 159.87h3.34v3.55h-3.34zM242.50 148.49h3.34v3.56h-3.34zM242.50 142.80h3.34v3.56h-3.34zM242.50 120.05h3.34v3.56h-3.34zM245.55 304.91h3.34v3.56h-3.34zM245.55 293.53h3.34v3.56h-3.34zM245.55 287.85h3.34v3.56h-3.34zM245.55 256.56h3.34v3.56h-3.34zM245.55 250.87h3.34v3.55h-3.34zM245.55 228.12h3.34v3.56h-3.34zM245.55 185.46h3.34v3.56h-3.34zM245.55 179.77h3.34v3.56h-3.34zM245.55 157.02h3.34v3.56h-3.34zM245.55 122.89h3.34v3.56h-3.34zM245.55 117.21h3.34v3.55h-3.34zM248.59 304.91h3.34v3.56h-3.34zM248.59 276.47h3.34v3.56h-3.34zM248.59 265.09h3.34v3.56h-3.34zM248.59 259.41h3.34v3.56h-3.34zM248.59 219.59h3.34v3.56h-3.34zM248.59 199.68h3.34v3.56h-3.34zM248.59 193.99h3.34v3.56h-3.34zM248.59 182.62h3.34v3.56h-3.34zM251.63 316.29h3.34v0.01h-3.34zM251.63 313.44h3.34v2.86h-3.34zM251.63 310.60h3.34v3.56h-3.34zM251.63 282.16h3.34v3.56h-3.34zM251.63 262.25h3.34v3.56h-3.34zM251.63 208.21h3.34v3.56h-3.34zM251.63 174.09h3.34v3.55h-3.34zM251.63 162.71h3.34v3.56h-3.34zM251.63 151.33h3.34v3.56h-3.34zM251.63 134.27h3.34v3.56h-3.34zM251.63 122.89h3.34v3.56h-3.34zM251.63 111.52h3.34v3.56h-3.34zM254.67 307.75h3.34v3.56h-3.34zM254.67 296.38h3.34v3.56h-3.34zM254.67 259.41h3.34v3.56h-3.34zM254.67 222.43h3.34v3.55h-3.34zM254.67 216.75h3.34v3.56h-3.34zM254.67 205.37h3.34v3.56h-3.34zM254.67 148.49h3.34v3.56h-3.34zM257.72 270.78h3.34v3.56h-3.34zM257.72 262.25h3.34v3.56h-3.34zM257.72 193.99h3.34v3.56h-3.34zM257.72 179.77h3.34v3.56h-3.34zM257.72 145.65h3.34v3.55h-3.34zM257.72 128.58h3.34v3.56h-3.34zM257.72 111.52h3.34v3.56h-3.34zM260.76 302.07h3.34v3.55h-3.34zM260.76 290.69h3.34v3.56h-3.34zM260.76 248.03h3.34v3.55h-3.34zM260.76 216.75h3.34v3.56h-3.34zM260.76 188.31h3.34v3.56h-3.34zM260.76 182.62h3.34v3.56h-3.34zM260.76 154.18h3.34v3.56h-3.34zM260.76 131.43h3.34v3.55h-3.34zM260.76 114.36h3.34v3.56h-3.34zM263.80 228.12h3.34v3.56h-3.34zM263.80 208.21h3.34v3.56h-3.34zM263.80 191.15h3.34v3.55h-3.34zM263.80 185.46h3.34v3.56h-3.34zM263.80 128.58h3.34v3.56h-3.34zM266.85 296.38h3.34v3.56h-3.34zM266.85 267.94h3.34v3.56h-3.34zM266.85 265.09h3.34v3.56h-3.34zM266.85 259.41h3.34v3.56h-3.34zM266.85 216.75h3.34v3.56h-3.34zM266.85 193.99h3.34v3.56h-3.34zM266.85 176.93h3.34v3.56h-3.34zM266.85 137.11h3.34v3.56h-3.34zM266.85 108.67h3.34v3.56h-3.34zM266.85 97.30h3.34v3.56h-3.34zM269.89 282.16h3.34v3.56h-3.34zM269.89 199.68h3.34v3.56h-3.34zM269.89 185.46h3.34v3.56h-3.34zM269.89 122.89h3.34v3.56h-3.34zM269.89 100.14h3.34v3.56h-3.34zM272.93 290.69h3.34v3.56h-3.34zM272.93 285.00h3.34v3.56h-3.34zM272.93 236.65h3.34v3.56h-3.34zM272.93 102.99h3.34v3.55h-3.34zM272.93 97.30h3.34v3.56h-3.34zM275.98 233.81h3.34v3.56h-3.34zM275.98 202.53h3.34v3.56h-3.34zM275.98 174.09h3.34v3.55h-3.34zM275.98 168.40h3.34v3.56h-3.34zM275.98 128.58h3.34v3.56h-3.34zM275.98 100.14h3.34v3.56h-3.34zM279.02 270.78h3.34v3.56h-3.34zM279.02 216.75h3.34v3.56h-3.34zM279.02 211.06h3.34v3.56h-3.34zM279.02 165.55h3.34v3.56h-3.34zM279.02 154.18h3.34v3.56h-3.34zM279.02 148.49h3.34v3.56h-3.34zM279.02 94.45h3.34v3.56h-3.34zM282.06 256.56h3.34v3.56h-3.34zM282.06 225.28h3.34v3.56h-3.34zM282.06 219.59h3.34v3.56h-3.34zM282.06 208.21h3.34v3.56h-3.34zM282.06 202.53h3.34v3.56h-3.34zM282.06 162.71h3.34v3.56h-3.34zM282.06 157.02h3.34v3.56h-3.34zM282.06 122.89h3.34v3.56h-3.34zM282.06 94.45h3.34v3.56h-3.34zM285.10 279.31h3.34v3.56h-3.34zM285.10 273.63h3.34v3.55h-3.34zM285.10 222.43h3.34v3.55h-3.34zM285.10 216.75h3.34v3.56h-3.34zM285.10 199.68h3.34v3.56h-3.34zM285.10 182.62h3.34v3.56h-3.34zM285.10 165.55h3.34v3.56h-3.34zM285.10 148.49h3.34v3.56h-3.34zM285.10 142.80h3.34v3.56h-3.34zM285.10 120.05h3.34v3.56h-3.34zM285.10 108.67h3.34v3.56h-3.34zM285.10 91.61h3.34v3.56h-3.34zM285.10 85.92h3.34v3.56h-3.34zM285.10 80.23h3.34v3.56h-3.34zM288.15 276.47h3.34v3.56h-3.34zM288.15 270.78h3.34v3.56h-3.34zM288.15 250.87h3.34v3.55h-3.34zM288.15 233.81h3.34v3.56h-3.34zM288.15 225.28h3.34v3.56h-3.34zM288.15 219.59h3.34v3.56h-3.34zM288.15 179.77h3.34v3.56h-3.34zM288.15 168.40h3.34v3.56h-3.34zM288.15 139.96h3.34v3.56h-3.34zM288.15 117.21h3.34v3.55h-3.34zM288.15 88.77h3.34v3.55h-3.34zM288.15 77.39h3.34v3.56h-3.34zM291.19 273.63h3.34v3.55h-3.34zM291.19 267.94h3.34v3.56h-3.34zM291.19 216.75h3.34v3.56h-3.34zM291.19 205.37h3.34v3.56h-3.34zM291.19 193.99h3.34v3.56h-3.34zM291.19 159.87h3.34v3.55h-3.34zM291.19 154.18h3.34v3.56h-3.34zM291.19 148.49h3.34v3.56h-3.34zM291.19 137.11h3.34v3.56h-3.34zM291.19 117.21h3.34v3.55h-3.34zM291.19 97.30h3.34v3.56h-3.34zM291.19 74.55h3.34v3.55h-3.34zM294.23 270.78h3.34v3.56h-3.34zM294.23 267.94h3.34v3.56h-3.34zM294.23 228.12h3.34v3.56h-3.34zM294.23 202.53h3.34v3.56h-3.34zM294.23 191.15h3.34v3.55h-3.34zM294.23 151.33h3.34v3.56h-3.34zM294.23 94.45h3.34v3.56h-3.34zM294.23 71.70h3.34v3.56h-3.34zM297.28 193.99h3.34v3.56h-3.34zM297.28 188.31h3.34v3.56h-3.34zM297.28 108.67h3.34v3.56h-3.34zM297.28 80.23h3.34v3.56h-3.34zM300.32 239.50h3.34v3.56h-3.34zM300.32 233.81h3.34v3.56h-3.34zM300.32 196.84h3.34v3.55h-3.34zM300.32 162.71h3.34v3.56h-3.34zM300.32 139.96h3.34v3.56h-3.34zM300.32 100.14h3.34v3.56h-3.34zM303.36 262.25h3.34v3.56h-3.34zM303.36 253.72h3.34v3.56h-3.34zM303.36 242.34h3.34v3.55h-3.34zM303.36 97.30h3.34v3.56h-3.34zM306.41 236.65h3.34v3.56h-3.34zM306.41 230.97h3.34v3.56h-3.34z"/>
<path fill="#c78a8d" d="M29.49 316.29h3.34v0.01h-3.34zM29.49 313.44h3.34v2.86h-3.34zM29.49 310.60h3.34v3.56h-3.34zM29.49 307.75h3.34v3.56h-3.34zM29.49 304.91h3.34v3.56h-3.34zM32.54 316.29h3.34v0.01h-3.34zM32.54 313.44h3.34v2.86h-3.34zM32.54 310.60h3.34v3.56h-3.34zM32.54 307.75h3.34v3.56h-3.34zM32.54 304.91h3.34v3.56h-3.34zM35.58 316.29h3.34v0.01h-3.34zM35.58 313.44h3.34v2.86h-3.34zM35.58 310.60h3.34v3.56h-3.34zM35.58 307.75h3.34v3.56h-3.34zM35.58 304.91h3.34v3.56h-3.34zM50.79 304.91h3.34v3.56h-3.34zM66.01 302.07h3.34v3.55h-3.34zM66.01 293.53h3.34v3.56h-3.34zM87.31 299.22h3.34v3.56h-3.34zM90.35 296.38h3.34v3.56h-3.34zM90.35 262.25h3.34v3.56h-3.34zM96.44 270.78h3.34v3.56h-3.34zM96.44 253.72h3.34v3.56h-3.34zM96.44 250.87h3.34v3.55h-3.34zM96.44 248.03h3.34v3.55h-3.34zM99.48 287.85h3.34v3.56h-3.34zM102.52 256.56h3.34v3.56h-3.34zM102.52 248.03h3.34v3.55h-3.34zM102.52 245.19h3.34v3.56h-3.34zM102.52 242.34h3.34v3.55h-3.34zM105.57 282.16h3.34v3.56h-3.34zM105.57 253.72h3.34v3.56h-3.34zM108.61 279.31h3.34v3.56h-3.34zM108.61 267.94h3.34v3.56h-3.34zM108.61 248.03h3.34v3.55h-3.34zM111.65 250.87h3.34v3.55h-3.34zM114.70 262.25h3.34v3.56h-3.34zM117.74 293.53h3.34v3.56h-3.34zM120.78 259.41h3.34v3.56h-3.34zM120.78 256.56h3.34v3.56h-3.34zM120.78 253.72h3.34v3.56h-3.34zM120.78 250.87h3.34v3.55h-3.34zM120.78 248.03h3.34v3.55h-3.34zM123.83 259.41h3.34v3.56h-3.34zM123.83 248.03h3.34v3.55h-3.34zM123.83 233.81h3.34v3.56h-3.34zM129.91 239.50h3.34v3.56h-3.34zM129.91 228.12h3.34v3.56h-3.34zM129.91 222.43h3.34v3.55h-3.34zM129.91 219.59h3.34v3.56h-3.34zM129.91 216.75h3.34v3.56h-3.34zM132.95 285.00h3.34v3.56h-3.34zM132.95 282.16h3.34v3.56h-3.34zM132.95 262.25h3.34v3.56h-3.34zM132.95 236.65h3.34v3.56h-3.34zM132.95 230.97h3.34v3.56h-3.34zM132.95 225.28h3.34v3.56h-3.34zM136.00 293.53h3.34v3.56h-3.34zM136.00 282.16h3.34v3.56h-3.34zM136.00 233.81h3.34v3.56h-3.34zM139.04 290.69h3.34v3.56h-3.34zM139.04 279.31h3.34v3.56h-3.34zM139.04 267.94h3.34v3.56h-3.34zM139.04 248.03h3.34v3.55h-3.34zM139.04 219.59h3.34v3.56h-3.34zM142.08 316.29h3.34v0.01h-3.34zM142.08 313.44h3.34v2.86h-3.34zM142.08 310.60h3.34v3.56h-3.34zM142.08 239.50h3.34v3.56h-3.34zM142.08 222.43h3.34v3.55h-3.34zM145.13 307.75h3.34v3.56h-3.34zM145.13 279.31h3.34v3.56h-3.34zM145.13 262.25h3.34v3.56h-3.34zM145.13 253.72h3.34v3.56h-3.34zM145.13 213.90h3.34v3.56h-3.34zM148.17 316.29h3.34v0.01h-3.34zM148.17 313.44h3.34v2.86h-3.34zM148.17 310.60h3.34v3.56h-3.34zM148.17 304.91h3.34v3.56h-3.34zM148.17 259.41h3.34v3.56h-3.34zM148.17 256.56h3.34v3.56h-3.34zM148.17 233.81h3.34v3.56h-3.34zM148.17 225.28h3.34v3.56h-3.34zM148.17 205.37h3.34v3.56h-3.34zM148.17 202.53h3.34v3.56h-3.34zM148.17 199.68h3.34v3.56h-3.34zM151.21 290.69h3.34v3.56h-3.34zM151.21 279.31h3.34v3.56h-3.34zM151.21 262.25h3.34v3.56h-3.34zM151.21 259.41h3.34v3.56h-3.34zM151.21 256.56h3.34v3.56h-3.34zM151.21 211.06h3.34v3.56h-3.34zM151.21 205.37h3.34v3.56h-3.34zM151.21 202.53h3.34v3.56h-3.34zM151.21 199.68h3.34v3.56h-3.34zM151.21 196.84h3.34v3.55h-3.34zM154.26 304.91h3.34v3.56h-3.34zM154.26 276.47h3.34v3.56h-3.34zM154.26 270.78h3.34v3.56h-3.34zM154.26 259.41h3.34v3.56h-3.34zM154.26 256.56h3.34v3.56h-3.34zM157.30 211.06h3.34v3.56h-3.34zM160.34 299.22h3.34v3.56h-3.34zM160.34 287.85h3.34v3.56h-3.34zM160.34 282.16h3.34v3.56h-3.34zM160.34 276.47h3.34v3.56h-3.34zM160.34 219.59h3.34v3.56h-3.34zM160.34 196.84h3.34v3.55h-3.34zM163.38 307.75h3.34v3.56h-3.34zM163.38 304.91h3.34v3.56h-3.34zM163.38 290.69h3.34v3.56h-3.34zM163.38 262.25h3.34v3.56h-3.34zM163.38 259.41h3.34v3.56h-3.34zM163.38 236.65h3.34v3.56h-3.34zM163.38 222.43h3.34v3.55h-3.34zM163.38 216.75h3.34v3.56h-3.34zM163.38 199.68h3.34v3.56h-3.34zM166.43 316.29h3.34v0.01h-3.34zM166.43 313.44h3.34v2.86h-3.34zM166.43 310.60h3.34v3.56h-3.34zM166.43 282.16h3.34v3.56h-3.34zM166.43 250.87h3.34v3.55h-3.34zM166.43 213.90h3.34v3.56h-3.34zM166.43 196.84h3.34v3.55h-3.34zM169.47 285.00h3.34v3.56h-3.34zM169.47 267.94h3.34v3.56h-3.34zM169.47 248.03h3.34v3.55h-3.34zM169.47 225.28h3.34v3.56h-3.34zM169.47 193.99h3.34v3.56h-3.34zM172.51 282.16h3.34v3.56h-3.34zM172.51 276.47h3.34v3.56h-3.34zM172.51 265.09h3.34v3.56h-3.34zM172.51 262.25h3.34v3.56h-3.34zM172.51 196.84h3.34v3.55h-3.34zM175.56 242.34h3.34v3.55h-3.34zM175.56 193.99h3.34v3.56h-3.34zM175.56 182.62h3.34v3.56h-3.34zM178.60 304.91h3.34v3.56h-3.34zM178.60 299.22h3.34v3.56h-3.34zM178.60 282.16h3.34v3.56h-3.34zM178.60 270.78h3.34v3.56h-3.34zM178.60 259.41h3.34v3.56h-3.34zM178.60 250.87h3.34v3.55h-3.34zM178.60 202.53h3.34v3.56h-3.34zM178.60 191.15h3.34v3.55h-3.34zM178.60 179.77h3.34v3.56h-3.34zM181.64 307.75h3.34v3.56h-3.34zM181.64 285.00h3.34v3.56h-3.34zM181.64 273.63h3.34v3.55h-3.34zM181.64 267.94h3.34v3.56h-3.34zM181.64 262.25h3.34v3.56h-3.34zM181.64 236.65h3.34v3.56h-3.34zM181.64 222.43h3.34v3.55h-3.34zM181.64 216.75h3.34v3.56h-3.34zM181.64 176.93h3.34v3.56h-3.34zM184.69 316.29h3.34v0.01h-3.34zM184.69 313.44h3.34v2.86h-3.34zM184.69 310.60h3.34v3.56h-3.34zM184.69 276.47h3.34v3.56h-3.34zM184.69 245.19h3.34v3.56h-3.34zM184.69 225.28h3.34v3.56h-3.34zM184.69 196.84h3.34v3.55h-3.34zM184.69 174.09h3.34v3.55h-3.34zM187.73 174.09h3.34v3.55h-3.34zM187.73 171.24h3.34v3.56h-3.34zM190.77 316.29h3.34v0.01h-3.34zM190.77 313.44h3.34v2.86h-3.34zM190.77 310.60h3.34v3.56h-3.34zM190.77 287.85h3.34v3.56h-3.34zM190.77 208.21h3.34v3.56h-3.34zM190.77 202.53h3.34v3.56h-3.34zM190.77 196.84h3.34v3.55h-3.34zM190.77 179.77h3.34v3.56h-3.34zM193.81 296.38h3.34v3.56h-3.34zM193.81 290.69h3.34v3.56h-3.34zM193.81 285.00h3.34v3.56h-3.34zM193.81 253.72h3.34v3.56h-3.34zM193.81 248.03h3.34v3.55h-3.34zM193.81 196.84h3.34v3.55h-3.34zM193.81 193.99h3.34v3.56h-3.34zM193.81 188.31h3.34v3.56h-3.34zM193.81 165.55h3.34v3.56h-3.34zM196.86 316.29h3.34v0.01h-3.34zM196.86 313.44h3.34v2.86h-3.34zM196.86 310.60h3.34v3.56h-3.34zM196.86 304.91h3.34v3.56h-3.34zM196.86 293.53h3.34v3.56h-3.34zM196.86 287.85h3.34v3.56h-3.34zM196.86 282.16h3.34v3.56h-3.34zM196.86 270.78h3.34v3.56h-3.34zM196.86 262.25h3.34v3.56h-3.34zM196.86 233.81h3.34v3.56h-3.34zM196.86 228.12h3.34v3.56h-3.34zM196.86 168.40h3.34v3.56h-3.34zM196.86 162.71h3.34v3.56h-3.34zM199.90 290.69h3.34v3.56h-3.34zM199.90 253.72h3.34v3.56h-3.34zM199.90 242.34h3.34v3.55h-3.34zM199.90 225.28h3.34v3.56h-3.34zM199.90 168.40h3.34v3.56h-3.34zM199.90 165.55h3.34v3.56h-3.34zM202.94 316.29h3.34v0.01h-3.34zM202.94 313.44h3.34v2.86h-3.34zM202.94 310.60h3.34v3.56h-3.34zM202.94 287.85h3.34v3.56h-3.34zM202.94 276.47h3.34v3.56h-3.34zM202.94 239.50h3.34v3.56h-3.34zM202.94 179.77h3.34v3.56h-3.34zM205.99 290.69h3.34v3.56h-3.34zM205.99 285.00h3.34v3.56h-3.34zM205.99 267.94h3.34v3.56h-3.34zM205.99 230.97h3.34v3.56h-3.34zM205.99 182.62h3.34v3.56h-3.34zM205.99 154.18h3.34v3.56h-3.34zM209.03 282.16h3.34v3.56h-3.34zM209.03 270.78h3.34v3.56h-3.34zM209.03 256.56h3.34v3.56h-3.34zM209.03 239.50h3.34v3.56h-3.34zM209.03 228.12h3.34v3.56h-3.34zM209.03 213.90h3.34v3.56h-3.34zM209.03 151.33h3.34v3.56h-3.34zM212.07 307.75h3.34v3.56h-3.34zM212.07 296.38h3.34v3.56h-3.34zM212.07 279.31h3.34v3.56h-3.34zM212.07 267.94h3.34v3.56h-3.34zM212.07 262.25h3.34v3.56h-3.34zM212.07 228.12h3.34v3.56h-3.34zM212.07 188.31h3.34v3.56h-3.34zM212.07 171.24h3.34v3.56h-3.34zM212.07 157.02h3.34v3.56h-3.34zM212.07 154.18h3.34v3.56h-3.34zM215.12 299.22h3.34v3.56h-3.34zM215.12 287.85h3.34v3.56h-3.34zM215.12 259.41h3.34v3.56h-3.34zM215.12 225.28h3.34v3.56h-3.34zM215.12 185.46h3.34v3.56h-3.34zM215.12 168.40h3.34v3.56h-3.34zM215.12 154.18h3.34v3.56h-3.34zM215.12 145.65h3.34v3.55h-3.34zM218.16 290.69h3.34v3.56h-3.34zM218.16 285.00h3.34v3.56h-3.34zM218.16 208.21h3.34v3.56h-3.34zM218.16 162.71h3.34v3.56h-3.34zM221.20 304.91h3.34v3.56h-3.34zM221.20 262.25h3.34v3.56h-3.34zM221.20 213.90h3.34v3.56h-3.34zM221.20 179.77h3.34v3.56h-3.34zM221.20 151.33h3.34v3.56h-3.34zM224.24 302.07h3.34v3.55h-3.34zM224.24 290.69h3.34v3.56h-3.34zM224.24 279.31h3.34v3.56h-3.34zM224.24 259.41h3.34v3.56h-3.34zM224.24 171.24h3.34v3.56h-3.34zM224.24 145.65h3.34v3.55h-3.34zM224.24 137.11h3.34v3.56h-3.34zM227.29 276.47h3.34v3.56h-3.34zM227.29 270.78h3.34v3.56h-3.34zM227.29 262.25h3.34v3.56h-3.34zM227.29 256.56h3.34v3.56h-3.34zM227.29 228.12h3.34v3.56h-3.34zM227.29 225.28h3.34v3.56h-3.34zM227.29 134.27h3.34v3.56h-3.34zM230.33 296.38h3.34v3.56h-3.34zM230.33 290.69h3.34v3.56h-3.34zM230.33 259.41h3.34v3.56h-3.34zM233.37 302.07h3.34v3.55h-3.34zM233.37 293.53h3.34v3.56h-3.34zM233.37 287.85h3.34v3.56h-3.34zM233.37 265.09h3.34v3.56h-3.34zM233.37 256.56h3.34v3.56h-3.34zM233.37 139.96h3.34v3.56h-3.34zM233.37 137.11h3.34v3.56h-3.34zM233.37 128.58h3.34v3.56h-3.34zM236.42 296.38h3.34v3.56h-3.34zM236.42 273.63h3.34v3.55h-3.34zM236.42 242.34h3.34v3.55h-3.34zM236.42 165.55h3.34v3.56h-3.34zM236.42 162.71h3.34v3.56h-3.34zM236.42 148.49h3.34v3.56h-3.34zM236.42 131.43h3.34v3.55h-3.34zM239.46 299.22h3.34v3.56h-3.34zM239.46 287.85h3.34v3.56h-3.34zM239.46 276.47h3.34v3.56h-3.34zM239.46 265.09h3.34v3.56h-3.34zM239.46 256.56h3.34v3.56h-3.34zM239.46 233.81h3.34v3.56h-3.34zM239.46 228.12h3.34v3.56h-3.34zM239.46 225.28h3.34v3.56h-3.34zM239.46 219.59h3.34v3.56h-3.34zM239.46 196.84h3.34v3.55h-3.34zM239.46 185.46h3.34v3.56h-3.34zM239.46 134.27h3.34v3.56h-3.34zM242.50 307.75h3.34v3.56h-3.34zM242.50 285.00h3.34v3.56h-3.34zM242.50 228.12h3.34v3.56h-3.34zM242.50 216.75h3.34v3.56h-3.34zM242.50 182.62h3.34v3.56h-3.34zM242.50 128.58h3.34v3.56h-3.34zM245.55 282.16h3.34v3.56h-3.34zM245.55 276.47h3.34v3.56h-3.34zM245.55 265.09h3.34v3.56h-3.34zM245.55 259.41h3.34v3.56h-3.34zM245.55 233.81h3.34v3.56h-3.34zM245.55 225.28h3.34v3.56h-3.34zM245.55 213.90h3.34v3.56h-3.34zM245.55 151.33h3.34v3.56h-3.34zM245.55 139.96h3.34v3.56h-3.34zM248.59 307.75h3.34v3.56h-3.34zM248.59 230.97h3.34v3.56h-3.34zM248.59 216.75h3.34v3.56h-3.34zM248.59 211.06h3.34v3.56h-3.34zM248.59 188.31h3.34v3.56h-3.34zM248.59 176.93h3.34v3.56h-3.34zM248.59 154.18h3.34v3.56h-3.34zM248.59 120.05h3.34v3.56h-3.34zM251.63 293.53h3.34v3.56h-3.34zM251.63 287.85h3.34v3.56h-3.34zM251.63 265.09h3.34v3.56h-3.34zM251.63 225.28h3.34v3.56h-3.34zM251.63 219.59h3.34v3.56h-3.34zM251.63 117.21h3.34v3.55h-3.34zM254.67 273.63h3.34v3.55h-3.34zM254.67 267.94h3.34v3.56h-3.34zM254.67 248.03h3.34v3.55h-3.34zM254.67 182.62h3.34v3.56h-3.34zM254.67 171.24h3.34v3.56h-3.34zM254.67 120.05h3.34v3.56h-3.34zM254.67 108.67h3.34v3.56h-3.34zM257.72 287.85h3.34v3.56h-3.34zM257.72 276.47h3.34v3.56h-3.34zM257.72 168.40h3.34v3.56h-3.34zM257.72 105.83h3.34v3.56h-3.34zM260.76 285.00h3.34v3.56h-3.34zM260.76 273.63h3.34v3.55h-3.34zM260.76 259.41h3.34v3.56h-3.34zM260.76 230.97h3.34v3.56h-3.34zM260.76 225.28h3.34v3.56h-3.34zM260.76 137.11h3.34v3.56h-3.34zM263.80 299.22h3.34v3.56h-3.34zM263.80 287.85h3.34v3.56h-3.34zM263.80 276.47h3.34v3.56h-3.34zM263.80 270.78h3.34v3.56h-3.34zM263.80 233.81h3.34v3.56h-3.34zM263.80 196.84h3.34v3.55h-3.34zM263.80 174.09h3.34v3.55h-3.34zM263.80 122.89h3.34v3.56h-3.34zM263.80 105.83h3.34v3.56h-3.34zM263.80 100.14h3.34v3.56h-3.34zM266.85 279.31h3.34v3.56h-3.34zM266.85 273.63h3.34v3.55h-3.34zM266.85 225.28h3.34v3.56h-3.34zM266.85 199.68h3.34v3.56h-3.34zM266.85 122.89h3.34v3.56h-3.34zM269.89 262.25h3.34v3.56h-3.34zM269.89 256.56h3.34v3.56h-3.34zM269.89 213.90h3.34v3.56h-3.34zM269.89 191.15h3.34v3.55h-3.34zM269.89 134.27h3.34v3.56h-3.34zM269.89 128.58h3.34v3.56h-3.34zM269.89 94.45h3.34v3.56h-3.34zM272.93 259.41h3.34v3.56h-3.34zM272.93 230.97h3.34v3.56h-3.34zM272.93 211.06h3.34v3.56h-3.34zM272.93 188.31h3.34v3.56h-3.34zM272.93 165.55h3.34v3.56h-3.34zM272.93 120.05h3.34v3.56h-3.34zM272.93 91.61h3.34v3.56h-3.34zM275.98 287.85h3.34v3.56h-3.34zM275.98 276.47h3.34v3.56h-3.34zM275.98 270.78h3.34v3.56h-3.34zM275.98 259.41h3.34v3.56h-3.34zM275.98 250.87h3.34v3.55h-3.34zM275.98 208.21h3.34v3.56h-3.34zM275.98 185.46h3.34v3.56h-3.34zM275.98 122.89h3.34v3.56h-3.34zM275.98 88.77h3.34v3.55h-3.34zM279.02 273.63h3.34v3.55h-3.34zM279.02 253.72h3.34v3.56h-3.34zM279.02 230.97h3.34v3.56h-3.34zM279.02 222.43h3.34v3.55h-3.34zM279.02 205.37h3.34v3.56h-3.34zM279.02 182.62h3.34v3.56h-3.34zM279.02 159.87h3.34v3.55h-3.34zM279.02 125.74h3.34v3.56h-3.34zM279.02 108.67h3.34v3.56h-3.34zM282.06 230.97h3.34v3.56h-3.34zM282.06 213.90h3.34v3.56h-3.34zM282.06 88.77h3.34v3.55h-3.34zM282.06 83.08h3.34v3.56h-3.34zM285.10 253.72h3.34v3.56h-3.34zM285.10 211.06h3.34v3.56h-3.34zM285.10 205.37h3.34v3.56h-3.34zM285.10 102.99h3.34v3.55h-3.34zM288.15 262.25h3.34v3.56h-3.34zM288.15 213.90h3.34v3.56h-3.34zM288.15 196.84h3.34v3.55h-3.34zM288.15 174.09h3.34v3.55h-3.34zM288.15 151.33h3.34v3.56h-3.34zM291.19 259.41h3.34v3.56h-3.34zM291.19 248.03h3.34v3.55h-3.34zM291.19 222.43h3.34v3.55h-3.34zM291.19 211.06h3.34v3.56h-3.34zM291.19 199.68h3.34v3.56h-3.34zM291.19 171.24h3.34v3.56h-3.34zM291.19 102.99h3.34v3.55h-3.34zM291.19 85.92h3.34v3.56h-3.34zM291.19 80.23h3.34v3.56h-3.34zM294.23 279.31h3.34v3.56h-3.34zM294.23 276.47h3.34v3.56h-3.34zM294.23 273.63h3.34v3.55h-3.34zM294.23 265.09h3.34v3.56h-3.34zM294.23 256.56h3.34v3.56h-3.34zM294.23 250.87h3.34v3.55h-3.34zM294.23 225.28h3.34v3.56h-3.34zM294.23 196.84h3.34v3.55h-3.34zM297.28 262.25h3.34v3.56h-3.34zM297.28 253.72h3.34v3.56h-3.34zM297.28 248.03h3.34v3.55h-3.34zM297.28 222.43h3.34v3.55h-3.34zM297.28 102.99h3.34v3.55h-3.34zM300.32 265.09h3.34v3.56h-3.34zM300.32 259.41h3.34v3.56h-3.34zM300.32 256.56h3.34v3.56h-3.34zM300.32 250.87h3.34v3.55h-3.34zM303.36 222.43h3.34v3.55h-3.34zM303.36 120.05h3.34v3.56h-3.34z"/>
<path fill="#c68487" d="M96.44 256.56h3.34v3.56h-3.34zM102.52 285.00h3.34v3.56h-3.34zM114.70 248.03h3.34v3.55h-3.34zM117.74 270.78h3.34v3.56h-3.34zM117.74 245.19h3.34v3.56h-3.34zM120.78 267.94h3.34v3.56h-3.34zM123.83 265.09h3.34v3.56h-3.34zM123.83 253.72h3.34v3.56h-3.34zM123.83 239.50h3.34v3.56h-3.34zM123.83 228.12h3.34v3.56h-3.34zM123.83 225.28h3.34v3.56h-3.34zM123.83 222.43h3.34v3.55h-3.34zM129.91 242.34h3.34v3.55h-3.34zM129.91 233.81h3.34v3.56h-3.34zM132.95 239.50h3.34v3.56h-3.34zM136.00 236.65h3.34v3.56h-3.34zM136.00 216.75h3.34v3.56h-3.34zM136.00 213.90h3.34v3.56h-3.34zM136.00 211.06h3.34v3.56h-3.34zM139.04 253.72h3.34v3.56h-3.34zM139.04 222.43h3.34v3.55h-3.34zM142.08 287.85h3.34v3.56h-3.34zM142.08 259.41h3.34v3.56h-3.34zM142.08 250.87h3.34v3.55h-3.34zM142.08 245.19h3.34v3.56h-3.34zM142.08 233.81h3.34v3.56h-3.34zM142.08 230.97h3.34v3.56h-3.34zM145.13 273.63h3.34v3.55h-3.34zM145.13 256.56h3.34v3.56h-3.34zM145.13 236.65h3.34v3.56h-3.34zM151.21 302.07h3.34v3.55h-3.34zM151.21 236.65h3.34v3.56h-3.34zM154.26 299.22h3.34v3.56h-3.34zM154.26 265.09h3.34v3.56h-3.34zM154.26 253.72h3.34v3.56h-3.34zM154.26 250.87h3.34v3.55h-3.34zM154.26 225.28h3.34v3.56h-3.34zM154.26 208.21h3.34v3.56h-3.34zM154.26 202.53h3.34v3.56h-3.34zM157.30 208.21h3.34v3.56h-3.34zM157.30 202.53h3.34v3.56h-3.34zM157.30 199.68h3.34v3.56h-3.34zM157.30 196.84h3.34v3.55h-3.34zM157.30 193.99h3.34v3.56h-3.34zM157.30 191.15h3.34v3.55h-3.34zM160.34 265.09h3.34v3.56h-3.34zM160.34 225.28h3.34v3.56h-3.34zM163.38 267.94h3.34v3.56h-3.34zM163.38 253.72h3.34v3.56h-3.34zM163.38 230.97h3.34v3.56h-3.34zM163.38 193.99h3.34v3.56h-3.34zM166.43 259.41h3.34v3.56h-3.34zM166.43 216.75h3.34v3.56h-3.34zM169.47 262.25h3.34v3.56h-3.34zM169.47 256.56h3.34v3.56h-3.34zM169.47 253.72h3.34v3.56h-3.34zM172.51 245.19h3.34v3.56h-3.34zM172.51 230.97h3.34v3.56h-3.34zM172.51 216.75h3.34v3.56h-3.34zM172.51 191.15h3.34v3.55h-3.34zM172.51 185.46h3.34v3.56h-3.34zM175.56 302.07h3.34v3.55h-3.34zM175.56 285.00h3.34v3.56h-3.34zM175.56 262.25h3.34v3.56h-3.34zM175.56 222.43h3.34v3.55h-3.34zM178.60 316.29h3.34v0.01h-3.34zM178.60 313.44h3.34v2.86h-3.34zM178.60 310.60h3.34v3.56h-3.34zM178.60 233.81h3.34v3.56h-3.34zM178.60 230.97h3.34v3.56h-3.34zM178.60 213.90h3.34v3.56h-3.34zM181.64 256.56h3.34v3.56h-3.34zM181.64 211.06h3.34v3.56h-3.34zM184.69 265.09h3.34v3.56h-3.34zM184.69 230.97h3.34v3.56h-3.34zM187.73 216.75h3.34v3.56h-3.34zM187.73 202.53h3.34v3.56h-3.34zM187.73 193.99h3.34v3.56h-3.34zM190.77 270.78h3.34v3.56h-3.34zM190.77 239.50h3.34v3.56h-3.34zM190.77 233.81h3.34v3.56h-3.34zM190.77 205.37h3.34v3.56h-3.34zM190.77 176.93h3.34v3.56h-3.34zM190.77 174.09h3.34v3.55h-3.34zM193.81 199.68h3.34v3.56h-3.34zM196.86 265.09h3.34v3.56h-3.34zM196.86 250.87h3.34v3.55h-3.34zM196.86 230.97h3.34v3.56h-3.34zM196.86 174.09h3.34v3.55h-3.34zM199.90 279.31h3.34v3.56h-3.34zM199.90 267.94h3.34v3.56h-3.34zM199.90 262.25h3.34v3.56h-3.34zM199.90 248.03h3.34v3.55h-3.34zM202.94 225.28h3.34v3.56h-3.34zM202.94 219.59h3.34v3.56h-3.34zM202.94 168.40h3.34v3.56h-3.34zM205.99 307.75h3.34v3.56h-3.34zM205.99 279.31h3.34v3.56h-3.34zM205.99 273.63h3.34v3.55h-3.34zM205.99 262.25h3.34v3.56h-3.34zM205.99 236.65h3.34v3.56h-3.34zM209.03 304.91h3.34v3.56h-3.34zM209.03 287.85h3.34v3.56h-3.34zM209.03 265.09h3.34v3.56h-3.34zM209.03 185.46h3.34v3.56h-3.34zM209.03 162.71h3.34v3.56h-3.34zM209.03 159.87h3.34v3.55h-3.34zM212.07 302.07h3.34v3.55h-3.34zM212.07 256.56h3.34v3.56h-3.34zM212.07 236.65h3.34v3.56h-3.34zM212.07 222.43h3.34v3.55h-3.34zM212.07 182.62h3.34v3.56h-3.34zM215.12 282.16h3.34v3.56h-3.34zM215.12 276.47h3.34v3.56h-3.34zM215.12 157.02h3.34v3.56h-3.34zM215.12 151.33h3.34v3.56h-3.34zM218.16 296.38h3.34v3.56h-3.34zM218.16 287.85h3.34v3.56h-3.34zM218.16 279.31h3.34v3.56h-3.34zM218.16 222.43h3.34v3.55h-3.34zM218.16 182.62h3.34v3.56h-3.34zM218.16 148.49h3.34v3.56h-3.34zM221.20 276.47h3.34v3.56h-3.34zM221.20 270.78h3.34v3.56h-3.34zM221.20 259.41h3.34v3.56h-3.34zM221.20 250.87h3.34v3.55h-3.34zM221.20 233.81h3.34v3.56h-3.34zM221.20 225.28h3.34v3.56h-3.34zM221.20 174.09h3.34v3.55h-3.34zM224.24 299.22h3.34v3.56h-3.34zM224.24 273.63h3.34v3.55h-3.34zM224.24 267.94h3.34v3.56h-3.34zM224.24 248.03h3.34v3.55h-3.34zM224.24 242.34h3.34v3.55h-3.34zM224.24 230.97h3.34v3.56h-3.34zM224.24 228.12h3.34v3.56h-3.34zM224.24 211.06h3.34v3.56h-3.34zM224.24 199.68h3.34v3.56h-3.34zM224.24 148.49h3.34v3.56h-3.34zM227.29 316.29h3.34v0.01h-3.34zM227.29 313.44h3.34v2.86h-3.34zM227.29 310.60h3.34v3.56h-3.34zM227.29 299.22h3.34v3.56h-3.34zM227.29 290.69h3.34v3.56h-3.34zM227.29 287.85h3.34v3.56h-3.34zM227.29 265.09h3.34v3.56h-3.34zM227.29 250.87h3.34v3.55h-3.34zM227.29 245.19h3.34v3.56h-3.34zM227.29 208.21h3.34v3.56h-3.34zM227.29 168.40h3.34v3.56h-3.34zM227.29 145.65h3.34v3.55h-3.34zM227.29 139.96h3.34v3.56h-3.34zM230.33 307.75h3.34v3.56h-3.34zM230.33 262.25h3.34v3.56h-3.34zM230.33 222.43h3.34v3.55h-3.34zM230.33 205.37h3.34v3.56h-3.34zM230.33 137.11h3.34v3.56h-3.34zM233.37 304.91h3.34v3.56h-3.34zM233.37 259.41h3.34v3.56h-3.34zM233.37 233.81h3.34v3.56h-3.34zM233.37 228.12h3.34v3.56h-3.34zM233.37 134.27h3.34v3.56h-3.34zM236.42 307.75h3.34v3.56h-3.34zM236.42 302.07h3.34v3.55h-3.34zM236.42 285.00h3.34v3.56h-3.34zM236.42 253.72h3.34v3.56h-3.34zM236.42 230.97h3.34v3.56h-3.34zM236.42 228.12h3.34v3.56h-3.34zM236.42 222.43h3.34v3.55h-3.34zM239.46 316.29h3.34v0.01h-3.34zM239.46 313.44h3.34v2.86h-3.34zM239.46 310.60h3.34v3.56h-3.34zM239.46 304.91h3.34v3.56h-3.34zM239.46 282.16h3.34v3.56h-3.34zM239.46 250.87h3.34v3.55h-3.34zM239.46 157.02h3.34v3.56h-3.34zM239.46 128.58h3.34v3.56h-3.34zM242.50 296.38h3.34v3.56h-3.34zM242.50 279.31h3.34v3.56h-3.34zM242.50 273.63h3.34v3.55h-3.34zM242.50 262.25h3.34v3.56h-3.34zM242.50 253.72h3.34v3.56h-3.34zM242.50 236.65h3.34v3.56h-3.34zM242.50 139.96h3.34v3.56h-3.34zM245.55 299.22h3.34v3.56h-3.34zM245.55 270.78h3.34v3.56h-3.34zM245.55 219.59h3.34v3.56h-3.34zM248.59 302.07h3.34v3.55h-3.34zM248.59 290.69h3.34v3.56h-3.34zM248.59 285.00h3.34v3.56h-3.34zM248.59 222.43h3.34v3.55h-3.34zM248.59 148.49h3.34v3.56h-3.34zM251.63 299.22h3.34v3.56h-3.34zM251.63 276.47h3.34v3.56h-3.34zM251.63 259.41h3.34v3.56h-3.34zM251.63 250.87h3.34v3.55h-3.34zM251.63 245.19h3.34v3.56h-3.34zM251.63 222.43h3.34v3.55h-3.34zM254.67 290.69h3.34v3.56h-3.34zM254.67 285.00h3.34v3.56h-3.34zM254.67 262.25h3.34v3.56h-3.34zM254.67 253.72h3.34v3.56h-3.34zM257.72 293.53h3.34v3.56h-3.34zM257.72 282.16h3.34v3.56h-3.34zM257.72 265.09h3.34v3.56h-3.34zM257.72 256.56h3.34v3.56h-3.34zM257.72 250.87h3.34v3.55h-3.34zM257.72 239.50h3.34v3.56h-3.34zM257.72 228.12h3.34v3.56h-3.34zM257.72 225.28h3.34v3.56h-3.34zM257.72 139.96h3.34v3.56h-3.34zM260.76 279.31h3.34v3.56h-3.34zM260.76 253.72h3.34v3.56h-3.34zM260.76 236.65h3.34v3.56h-3.34zM263.80 282.16h3.34v3.56h-3.34zM263.80 265.09h3.34v3.56h-3.34zM263.80 225.28h3.34v3.56h-3.34zM263.80 219.59h3.34v3.56h-3.34zM263.80 162.71h3.34v3.56h-3.34zM263.80 134.27h3.34v3.56h-3.34zM266.85 285.00h3.34v3.56h-3.34zM266.85 248.03h3.34v3.55h-3.34zM266.85 236.65h3.34v3.56h-3.34zM266.85 222.43h3.34v3.55h-3.34zM266.85 159.87h3.34v3.55h-3.34zM269.89 276.47h3.34v3.56h-3.34zM269.89 270.78h3.34v3.56h-3.34zM269.89 265.09h3.34v3.56h-3.34zM269.89 239.50h3.34v3.56h-3.34zM269.89 233.81h3.34v3.56h-3.34zM269.89 225.28h3.34v3.56h-3.34zM269.89 216.75h3.34v3.56h-3.34zM269.89 159.87h3.34v3.55h-3.34zM269.89 157.02h3.34v3.56h-3.34zM272.93 279.31h3.34v3.56h-3.34zM272.93 276.47h3.34v3.56h-3.34zM272.93 273.63h3.34v3.55h-3.34zM272.93 216.75h3.34v3.56h-3.34zM272.93 154.18h3.34v3.56h-3.34zM272.93 125.74h3.34v3.56h-3.34zM275.98 265.09h3.34v3.56h-3.34zM275.98 256.56h3.34v3.56h-3.34zM275.98 245.19h3.34v3.56h-3.34zM275.98 239.50h3.34v3.56h-3.34zM275.98 225.28h3.34v3.56h-3.34zM275.98 219.59h3.34v3.56h-3.34zM275.98 213.90h3.34v3.56h-3.34zM275.98 151.33h3.34v3.56h-3.34zM279.02 267.94h3.34v3.56h-3.34zM279.02 248.03h3.34v3.55h-3.34zM279.02 236.65h3.34v3.56h-3.34zM279.02 228.12h3.34v3.56h-3.34zM282.06 270.78h3.34v3.56h-3.34zM282.06 265.09h3.34v3.56h-3.34zM282.06 250.87h3.34v3.55h-3.34zM282.06 233.81h3.34v3.56h-3.34zM285.10 267.94h3.34v3.56h-3.34zM285.10 236.65h3.34v3.56h-3.34zM285.10 230.97h3.34v3.56h-3.34zM285.10 228.12h3.34v3.56h-3.34zM285.10 213.90h3.34v3.56h-3.34zM288.15 265.09h3.34v3.56h-3.34zM288.15 142.80h3.34v3.56h-3.34zM291.19 253.72h3.34v3.56h-3.34zM291.19 228.12h3.34v3.56h-3.34zM294.23 245.19h3.34v3.56h-3.34zM294.23 105.83h3.34v3.56h-3.34zM297.28 242.34h3.34v3.55h-3.34zM297.28 236.65h3.34v3.56h-3.34zM300.32 225.28h3.34v3.56h-3.34zM303.36 233.81h3.34v3.56h-3.34zM303.36 228.12h3.34v3.56h-3.34z"/>
<path fill="#c57d81" d="M66.01 307.75h3.34v3.56h-3.34zM66.01 296.38h3.34v3.56h-3.34zM75.14 282.16h3.34v3.56h-3.34zM96.44 296.38h3.34v3.56h-3.34zM96.44 290.69h3.34v3.56h-3.34zM99.48 253.72h3.34v3.56h-3.34zM102.52 250.87h3.34v3.55h-3.34zM105.57 248.03h3.34v3.55h-3.34zM111.65 253.72h3.34v3.56h-3.34zM111.65 245.19h3.34v3.56h-3.34zM114.70 250.87h3.34v3.55h-3.34zM114.70 242.34h3.34v3.55h-3.34zM117.74 239.50h3.34v3.56h-3.34zM120.78 236.65h3.34v3.56h-3.34zM120.78 230.97h3.34v3.56h-3.34zM120.78 228.12h3.34v3.56h-3.34zM120.78 225.28h3.34v3.56h-3.34zM126.87 296.38h3.34v3.56h-3.34zM126.87 279.31h3.34v3.56h-3.34zM126.87 273.63h3.34v3.55h-3.34zM129.91 259.41h3.34v3.56h-3.34zM129.91 253.72h3.34v3.56h-3.34zM129.91 248.03h3.34v3.55h-3.34zM132.95 242.34h3.34v3.55h-3.34zM132.95 222.43h3.34v3.55h-3.34zM136.00 259.41h3.34v3.56h-3.34zM136.00 225.28h3.34v3.56h-3.34zM136.00 219.59h3.34v3.56h-3.34zM139.04 242.34h3.34v3.55h-3.34zM139.04 233.81h3.34v3.56h-3.34zM142.08 276.47h3.34v3.56h-3.34zM142.08 225.28h3.34v3.56h-3.34zM142.08 219.59h3.34v3.56h-3.34zM142.08 216.75h3.34v3.56h-3.34zM142.08 213.90h3.34v3.56h-3.34zM145.13 285.00h3.34v3.56h-3.34zM145.13 230.97h3.34v3.56h-3.34zM148.17 270.78h3.34v3.56h-3.34zM148.17 253.72h3.34v3.56h-3.34zM148.17 250.87h3.34v3.55h-3.34zM148.17 213.90h3.34v3.56h-3.34zM151.21 267.94h3.34v3.56h-3.34zM157.30 279.31h3.34v3.56h-3.34zM160.34 270.78h3.34v3.56h-3.34zM160.34 245.19h3.34v3.56h-3.34zM160.34 239.50h3.34v3.56h-3.34zM160.34 233.81h3.34v3.56h-3.34zM160.34 202.53h3.34v3.56h-3.34zM163.38 250.87h3.34v3.55h-3.34zM163.38 248.03h3.34v3.55h-3.34zM163.38 242.34h3.34v3.55h-3.34zM166.43 256.56h3.34v3.56h-3.34zM166.43 239.50h3.34v3.56h-3.34zM166.43 236.65h3.34v3.56h-3.34zM166.43 191.15h3.34v3.55h-3.34zM169.47 299.22h3.34v3.56h-3.34zM169.47 245.19h3.34v3.56h-3.34zM169.47 236.65h3.34v3.56h-3.34zM169.47 222.43h3.34v3.55h-3.34zM172.51 239.50h3.34v3.56h-3.34zM172.51 233.81h3.34v3.56h-3.34zM172.51 225.28h3.34v3.56h-3.34zM175.56 276.47h3.34v3.56h-3.34zM175.56 256.56h3.34v3.56h-3.34zM175.56 228.12h3.34v3.56h-3.34zM175.56 216.75h3.34v3.56h-3.34zM175.56 188.31h3.34v3.56h-3.34zM178.60 236.65h3.34v3.56h-3.34zM181.64 253.72h3.34v3.56h-3.34zM181.64 248.03h3.34v3.55h-3.34zM181.64 230.97h3.34v3.56h-3.34zM181.64 228.12h3.34v3.56h-3.34zM181.64 213.90h3.34v3.56h-3.34zM184.69 259.41h3.34v3.56h-3.34zM184.69 208.21h3.34v3.56h-3.34zM187.73 211.06h3.34v3.56h-3.34zM187.73 205.37h3.34v3.56h-3.34zM190.77 265.09h3.34v3.56h-3.34zM190.77 259.41h3.34v3.56h-3.34zM190.77 250.87h3.34v3.55h-3.34zM190.77 245.19h3.34v3.56h-3.34zM193.81 256.56h3.34v3.56h-3.34zM193.81 230.97h3.34v3.56h-3.34zM193.81 228.12h3.34v3.56h-3.34zM193.81 176.93h3.34v3.56h-3.34zM193.81 171.24h3.34v3.56h-3.34zM196.86 259.41h3.34v3.56h-3.34zM196.86 245.19h3.34v3.56h-3.34zM196.86 225.28h3.34v3.56h-3.34zM196.86 196.84h3.34v3.55h-3.34zM199.90 236.65h3.34v3.56h-3.34zM199.90 228.12h3.34v3.56h-3.34zM199.90 222.43h3.34v3.55h-3.34zM202.94 259.41h3.34v3.56h-3.34zM202.94 256.56h3.34v3.56h-3.34zM202.94 250.87h3.34v3.55h-3.34zM202.94 191.15h3.34v3.55h-3.34zM202.94 162.71h3.34v3.56h-3.34zM205.99 256.56h3.34v3.56h-3.34zM205.99 242.34h3.34v3.55h-3.34zM205.99 188.31h3.34v3.56h-3.34zM205.99 165.55h3.34v3.56h-3.34zM205.99 159.87h3.34v3.55h-3.34zM209.03 316.29h3.34v0.01h-3.34zM209.03 313.44h3.34v2.86h-3.34zM209.03 310.60h3.34v3.56h-3.34zM209.03 259.41h3.34v3.56h-3.34zM209.03 230.97h3.34v3.56h-3.34zM209.03 157.02h3.34v3.56h-3.34zM212.07 273.63h3.34v3.55h-3.34zM212.07 159.87h3.34v3.55h-3.34zM215.12 304.91h3.34v3.56h-3.34zM215.12 270.78h3.34v3.56h-3.34zM215.12 265.09h3.34v3.56h-3.34zM215.12 250.87h3.34v3.55h-3.34zM215.12 245.19h3.34v3.56h-3.34zM215.12 239.50h3.34v3.56h-3.34zM215.12 230.97h3.34v3.56h-3.34zM215.12 219.59h3.34v3.56h-3.34zM218.16 316.29h3.34v0.01h-3.34zM218.16 313.44h3.34v2.86h-3.34zM218.16 310.60h3.34v3.56h-3.34zM218.16 307.75h3.34v3.56h-3.34zM218.16 304.91h3.34v3.56h-3.34zM218.16 299.22h3.34v3.56h-3.34zM218.16 293.53h3.34v3.56h-3.34zM218.16 273.63h3.34v3.55h-3.34zM218.16 219.59h3.34v3.56h-3.34zM218.16 216.75h3.34v3.56h-3.34zM218.16 176.93h3.34v3.56h-3.34zM218.16 154.18h3.34v3.56h-3.34zM218.16 151.33h3.34v3.56h-3.34zM221.20 299.22h3.34v3.56h-3.34zM221.20 265.09h3.34v3.56h-3.34zM221.20 145.65h3.34v3.55h-3.34zM224.24 296.38h3.34v3.56h-3.34zM224.24 142.80h3.34v3.56h-3.34zM227.29 293.53h3.34v3.56h-3.34zM227.29 239.50h3.34v3.56h-3.34zM230.33 248.03h3.34v3.55h-3.34zM230.33 236.65h3.34v3.56h-3.34zM230.33 230.97h3.34v3.56h-3.34zM230.33 228.12h3.34v3.56h-3.34zM230.33 165.55h3.34v3.56h-3.34zM230.33 142.80h3.34v3.56h-3.34zM233.37 316.29h3.34v0.01h-3.34zM233.37 313.44h3.34v2.86h-3.34zM233.37 310.60h3.34v3.56h-3.34zM233.37 245.19h3.34v3.56h-3.34zM233.37 239.50h3.34v3.56h-3.34zM233.37 230.97h3.34v3.56h-3.34zM233.37 225.28h3.34v3.56h-3.34zM233.37 162.71h3.34v3.56h-3.34zM236.42 219.59h3.34v3.56h-3.34zM236.42 193.99h3.34v3.56h-3.34zM236.42 159.87h3.34v3.55h-3.34zM236.42 137.11h3.34v3.56h-3.34zM239.46 259.41h3.34v3.56h-3.34zM239.46 245.19h3.34v3.56h-3.34zM239.46 239.50h3.34v3.56h-3.34zM242.50 242.34h3.34v3.55h-3.34zM242.50 154.18h3.34v3.56h-3.34zM242.50 131.43h3.34v3.55h-3.34zM242.50 125.74h3.34v3.56h-3.34zM245.55 230.97h3.34v3.56h-3.34zM248.59 279.31h3.34v3.56h-3.34zM248.59 267.94h3.34v3.56h-3.34zM248.59 262.25h3.34v3.56h-3.34zM248.59 253.72h3.34v3.56h-3.34zM248.59 228.12h3.34v3.56h-3.34zM251.63 270.78h3.34v3.56h-3.34zM254.67 256.56h3.34v3.56h-3.34zM254.67 250.87h3.34v3.55h-3.34zM254.67 236.65h3.34v3.56h-3.34zM254.67 230.97h3.34v3.56h-3.34zM254.67 142.80h3.34v3.56h-3.34zM257.72 259.41h3.34v3.56h-3.34zM257.72 253.72h3.34v3.56h-3.34zM257.72 233.81h3.34v3.56h-3.34zM260.76 267.94h3.34v3.56h-3.34zM260.76 262.25h3.34v3.56h-3.34zM260.76 256.56h3.34v3.56h-3.34zM260.76 222.43h3.34v3.55h-3.34zM263.80 259.41h3.34v3.56h-3.34zM263.80 250.87h3.34v3.55h-3.34zM263.80 248.03h3.34v3.55h-3.34zM263.80 239.50h3.34v3.56h-3.34zM266.85 262.25h3.34v3.56h-3.34zM266.85 253.72h3.34v3.56h-3.34zM266.85 228.12h3.34v3.56h-3.34zM266.85 131.43h3.34v3.55h-3.34zM269.89 259.41h3.34v3.56h-3.34zM269.89 250.87h3.34v3.55h-3.34zM269.89 245.19h3.34v3.56h-3.34zM269.89 219.59h3.34v3.56h-3.34zM272.93 267.94h3.34v3.56h-3.34zM272.93 262.25h3.34v3.56h-3.34zM272.93 253.72h3.34v3.56h-3.34zM272.93 248.03h3.34v3.55h-3.34zM272.93 242.34h3.34v3.55h-3.34zM272.93 225.28h3.34v3.56h-3.34zM272.93 222.43h3.34v3.55h-3.34zM279.02 233.81h3.34v3.56h-3.34zM279.02 196.84h3.34v3.55h-3.34zM279.02 120.05h3.34v3.56h-3.34zM282.06 117.21h3.34v3.55h-3.34zM285.10 256.56h3.34v3.56h-3.34zM285.10 250.87h3.34v3.55h-3.34zM285.10 248.03h3.34v3.55h-3.34zM285.10 114.36h3.34v3.56h-3.34zM288.15 239.50h3.34v3.56h-3.34zM288.15 111.52h3.34v3.56h-3.34zM291.19 242.34h3.34v3.55h-3.34zM291.19 236.65h3.34v3.56h-3.34zM291.19 108.67h3.34v3.56h-3.34zM294.23 233.81h3.34v3.56h-3.34zM303.36 230.97h3.34v3.56h-3.34zM306.41 248.03h3.34v3.55h-3.34zM306.41 242.34h3.34v3.55h-3.34z"/>
<path fill="#c4777b" d="M90.35 302.07h3.34v3.55h-3.34zM108.61 242.34h3.34v3.55h-3.34zM108.61 239.50h3.34v3.56h-3.34zM108.61 236.65h3.34v3.56h-3.34zM111.65 248.03h3.34v3.55h-3.34zM111.65 239.50h3.34v3.56h-3.34zM111.65 236.65h3.34v3.56h-3.34zM111.65 233.81h3.34v3.56h-3.34zM114.70 236.65h3.34v3.56h-3.34zM114.70 233.81h3.34v3.56h-3.34zM114.70 230.97h3.34v3.56h-3.34zM117.74 248.03h3.34v3.55h-3.34zM117.74 233.81h3.34v3.56h-3.34zM117.74 230.97h3.34v3.56h-3.34zM117.74 228.12h3.34v3.56h-3.34zM120.78 245.19h3.34v3.56h-3.34zM120.78 242.34h3.34v3.55h-3.34zM123.83 242.34h3.34v3.55h-3.34zM126.87 285.00h3.34v3.56h-3.34zM129.91 245.19h3.34v3.56h-3.34zM129.91 236.65h3.34v3.56h-3.34zM129.91 230.97h3.34v3.56h-3.34zM132.95 250.87h3.34v3.55h-3.34zM132.95 245.19h3.34v3.56h-3.34zM132.95 233.81h3.34v3.56h-3.34zM132.95 228.12h3.34v3.56h-3.34zM136.00 248.03h3.34v3.55h-3.34zM136.00 230.97h3.34v3.56h-3.34zM139.04 236.65h3.34v3.56h-3.34zM139.04 228.12h3.34v3.56h-3.34zM145.13 233.81h3.34v3.56h-3.34zM145.13 211.06h3.34v3.56h-3.34zM148.17 262.25h3.34v3.56h-3.34zM148.17 208.21h3.34v3.56h-3.34zM151.21 248.03h3.34v3.55h-3.34zM151.21 233.81h3.34v3.56h-3.34zM151.21 228.12h3.34v3.56h-3.34zM154.26 248.03h3.34v3.55h-3.34zM154.26 245.19h3.34v3.56h-3.34zM157.30 307.75h3.34v3.56h-3.34zM157.30 302.07h3.34v3.55h-3.34zM157.30 287.85h3.34v3.56h-3.34zM157.30 285.00h3.34v3.56h-3.34zM157.30 282.16h3.34v3.56h-3.34zM157.30 267.94h3.34v3.56h-3.34zM157.30 219.59h3.34v3.56h-3.34zM157.30 205.37h3.34v3.56h-3.34zM160.34 253.72h3.34v3.56h-3.34zM160.34 250.87h3.34v3.55h-3.34zM160.34 248.03h3.34v3.55h-3.34zM160.34 242.34h3.34v3.55h-3.34zM163.38 245.19h3.34v3.56h-3.34zM163.38 228.12h3.34v3.56h-3.34zM166.43 265.09h3.34v3.56h-3.34zM166.43 248.03h3.34v3.55h-3.34zM166.43 245.19h3.34v3.56h-3.34zM166.43 242.34h3.34v3.55h-3.34zM169.47 242.34h3.34v3.55h-3.34zM169.47 233.81h3.34v3.56h-3.34zM169.47 228.12h3.34v3.56h-3.34zM169.47 188.31h3.34v3.56h-3.34zM172.51 259.41h3.34v3.56h-3.34zM172.51 253.72h3.34v3.56h-3.34zM172.51 250.87h3.34v3.55h-3.34zM172.51 242.34h3.34v3.55h-3.34zM172.51 236.65h3.34v3.56h-3.34zM175.56 233.81h3.34v3.56h-3.34zM175.56 225.28h3.34v3.56h-3.34zM178.60 253.72h3.34v3.56h-3.34zM181.64 245.19h3.34v3.56h-3.34zM184.69 253.72h3.34v3.56h-3.34zM184.69 250.87h3.34v3.55h-3.34zM187.73 279.31h3.34v3.56h-3.34zM187.73 273.63h3.34v3.55h-3.34zM187.73 222.43h3.34v3.55h-3.34zM187.73 179.77h3.34v3.56h-3.34zM187.73 176.93h3.34v3.56h-3.34zM190.77 230.97h3.34v3.56h-3.34zM190.77 222.43h3.34v3.55h-3.34zM193.81 262.25h3.34v3.56h-3.34zM196.86 239.50h3.34v3.56h-3.34zM199.90 256.56h3.34v3.56h-3.34zM199.90 250.87h3.34v3.55h-3.34zM202.94 230.97h3.34v3.56h-3.34zM205.99 253.72h3.34v3.56h-3.34zM205.99 248.03h3.34v3.55h-3.34zM205.99 228.12h3.34v3.56h-3.34zM209.03 250.87h3.34v3.55h-3.34zM209.03 236.65h3.34v3.56h-3.34zM209.03 225.28h3.34v3.56h-3.34zM212.07 233.81h3.34v3.56h-3.34zM212.07 230.97h3.34v3.56h-3.34zM215.12 253.72h3.34v3.56h-3.34zM215.12 236.65h3.34v3.56h-3.34zM215.12 196.84h3.34v3.55h-3.34zM218.16 302.07h3.34v3.55h-3.34zM218.16 282.16h3.34v3.56h-3.34zM218.16 276.47h3.34v3.56h-3.34zM221.20 253.72h3.34v3.56h-3.34zM221.20 248.03h3.34v3.55h-3.34zM221.20 245.19h3.34v3.56h-3.34zM221.20 230.97h3.34v3.56h-3.34zM224.24 262.25h3.34v3.56h-3.34zM224.24 256.56h3.34v3.56h-3.34zM227.29 259.41h3.34v3.56h-3.34zM227.29 233.81h3.34v3.56h-3.34zM230.33 242.34h3.34v3.55h-3.34zM230.33 193.99h3.34v3.56h-3.34zM233.37 253.72h3.34v3.56h-3.34zM233.37 250.87h3.34v3.55h-3.34zM236.42 262.25h3.34v3.56h-3.34zM236.42 239.50h3.34v3.56h-3.34zM236.42 236.65h3.34v3.56h-3.34zM239.46 253.72h3.34v3.56h-3.34zM239.46 236.65h3.34v3.56h-3.34zM239.46 230.97h3.34v3.56h-3.34zM242.50 256.56h3.34v3.56h-3.34zM242.50 248.03h3.34v3.55h-3.34zM245.55 307.75h3.34v3.56h-3.34zM245.55 285.00h3.34v3.56h-3.34zM245.55 253.72h3.34v3.56h-3.34zM245.55 239.50h3.34v3.56h-3.34zM245.55 145.65h3.34v3.55h-3.34zM248.59 296.38h3.34v3.56h-3.34zM248.59 273.63h3.34v3.55h-3.34zM248.59 236.65h3.34v3.56h-3.34zM248.59 151.33h3.34v3.56h-3.34zM251.63 239.50h3.34v3.56h-3.34zM251.63 233.81h3.34v3.56h-3.34zM254.67 228.12h3.34v3.56h-3.34zM260.76 250.87h3.34v3.55h-3.34zM260.76 242.34h3.34v3.55h-3.34zM263.80 253.72h3.34v3.56h-3.34zM263.80 236.65h3.34v3.56h-3.34zM266.85 256.56h3.34v3.56h-3.34zM266.85 250.87h3.34v3.55h-3.34zM269.89 253.72h3.34v3.56h-3.34zM269.89 174.09h3.34v3.55h-3.34zM275.98 230.97h3.34v3.56h-3.34zM279.02 285.00h3.34v3.56h-3.34zM279.02 262.25h3.34v3.56h-3.34zM279.02 97.30h3.34v3.56h-3.34zM282.06 259.41h3.34v3.56h-3.34zM282.06 253.72h3.34v3.56h-3.34zM282.06 245.19h3.34v3.56h-3.34zM282.06 239.50h3.34v3.56h-3.34zM285.10 262.25h3.34v3.56h-3.34zM285.10 233.81h3.34v3.56h-3.34zM285.10 137.11h3.34v3.56h-3.34zM288.15 245.19h3.34v3.56h-3.34zM291.19 262.25h3.34v3.56h-3.34zM291.19 120.05h3.34v3.56h-3.34zM294.23 259.41h3.34v3.56h-3.34zM294.23 253.72h3.34v3.56h-3.34zM294.23 239.50h3.34v3.56h-3.34zM297.28 256.56h3.34v3.56h-3.34zM297.28 239.50h3.34v3.56h-3.34zM297.28 228.12h3.34v3.56h-3.34zM300.32 253.72h3.34v3.56h-3.34zM300.32 236.65h3.34v3.56h-3.34zM303.36 250.87h3.34v3.55h-3.34zM303.36 245.19h3.34v3.56h-3.34zM303.36 239.50h3.34v3.56h-3.34z"/>
<path fill="#c37175" d="M108.61 250.87h3.34v3.55h-3.34zM111.65 242.34h3.34v3.55h-3.34zM114.70 239.50h3.34v3.56h-3.34zM126.87 307.75h3.34v3.56h-3.34zM126.87 302.07h3.34v3.55h-3.34zM126.87 290.69h3.34v3.56h-3.34zM126.87 276.47h3.34v3.56h-3.34zM126.87 270.78h3.34v3.56h-3.34zM132.95 219.59h3.34v3.56h-3.34zM132.95 216.75h3.34v3.56h-3.34zM132.95 213.90h3.34v3.56h-3.34zM136.00 253.72h3.34v3.56h-3.34zM139.04 256.56h3.34v3.56h-3.34zM145.13 250.87h3.34v3.55h-3.34zM145.13 228.12h3.34v3.56h-3.34zM148.17 245.19h3.34v3.56h-3.34zM148.17 236.65h3.34v3.56h-3.34zM148.17 230.97h3.34v3.56h-3.34zM151.21 250.87h3.34v3.55h-3.34zM151.21 242.34h3.34v3.55h-3.34zM154.26 239.50h3.34v3.56h-3.34zM154.26 230.97h3.34v3.56h-3.34zM157.30 304.91h3.34v3.56h-3.34zM157.30 296.38h3.34v3.56h-3.34zM157.30 293.53h3.34v3.56h-3.34zM157.30 276.47h3.34v3.56h-3.34zM157.30 273.63h3.34v3.55h-3.34zM157.30 225.28h3.34v3.56h-3.34zM157.30 216.75h3.34v3.56h-3.34zM160.34 259.41h3.34v3.56h-3.34zM160.34 236.65h3.34v3.56h-3.34zM163.38 293.53h3.34v3.56h-3.34zM163.38 256.56h3.34v3.56h-3.34zM163.38 239.50h3.34v3.56h-3.34zM166.43 253.72h3.34v3.56h-3.34zM169.47 316.29h3.34v0.01h-3.34zM169.47 313.44h3.34v2.86h-3.34zM169.47 310.60h3.34v3.56h-3.34zM169.47 239.50h3.34v3.56h-3.34zM175.56 248.03h3.34v3.55h-3.34zM175.56 239.50h3.34v3.56h-3.34zM175.56 205.37h3.34v3.56h-3.34zM178.60 248.03h3.34v3.55h-3.34zM178.60 245.19h3.34v3.56h-3.34zM181.64 242.34h3.34v3.55h-3.34zM187.73 307.75h3.34v3.56h-3.34zM187.73 290.69h3.34v3.56h-3.34zM187.73 287.85h3.34v3.56h-3.34zM187.73 285.00h3.34v3.56h-3.34zM187.73 276.47h3.34v3.56h-3.34zM187.73 262.25h3.34v3.56h-3.34zM187.73 228.12h3.34v3.56h-3.34zM187.73 219.59h3.34v3.56h-3.34zM187.73 182.62h3.34v3.56h-3.34zM190.77 253.72h3.34v3.56h-3.34zM193.81 250.87h3.34v3.55h-3.34zM193.81 245.19h3.34v3.56h-3.34zM193.81 242.34h3.34v3.55h-3.34zM193.81 239.50h3.34v3.56h-3.34zM193.81 233.81h3.34v3.56h-3.34zM196.86 253.72h3.34v3.56h-3.34zM199.90 245.19h3.34v3.56h-3.34zM199.90 239.50h3.34v3.56h-3.34zM202.94 253.72h3.34v3.56h-3.34zM202.94 248.03h3.34v3.55h-3.34zM202.94 236.65h3.34v3.56h-3.34zM205.99 250.87h3.34v3.55h-3.34zM205.99 233.81h3.34v3.56h-3.34zM209.03 242.34h3.34v3.55h-3.34zM212.07 248.03h3.34v3.55h-3.34zM212.07 242.34h3.34v3.55h-3.34zM218.16 267.94h3.34v3.56h-3.34zM218.16 262.25h3.34v3.56h-3.34zM218.16 256.56h3.34v3.56h-3.34zM218.16 225.28h3.34v3.56h-3.34zM221.20 239.50h3.34v3.56h-3.34zM224.24 250.87h3.34v3.55h-3.34zM224.24 239.50h3.34v3.56h-3.34zM224.24 236.65h3.34v3.56h-3.34zM224.24 233.81h3.34v3.56h-3.34zM227.29 236.65h3.34v3.56h-3.34zM230.33 256.56h3.34v3.56h-3.34zM233.37 236.65h3.34v3.56h-3.34zM236.42 256.56h3.34v3.56h-3.34zM236.42 248.03h3.34v3.55h-3.34zM236.42 233.81h3.34v3.56h-3.34zM236.42 134.27h3.34v3.56h-3.34zM242.50 250.87h3.34v3.55h-3.34zM242.50 233.81h3.34v3.56h-3.34zM245.55 248.03h3.34v3.55h-3.34zM245.55 245.19h3.34v3.56h-3.34zM248.59 248.03h3.34v3.55h-3.34zM248.59 242.34h3.34v3.55h-3.34zM248.59 205.37h3.34v3.56h-3.34zM251.63 253.72h3.34v3.56h-3.34zM257.72 248.03h3.34v3.55h-3.34zM257.72 236.65h3.34v3.56h-3.34zM257.72 230.97h3.34v3.56h-3.34zM260.76 228.12h3.34v3.56h-3.34zM260.76 205.37h3.34v3.56h-3.34zM263.80 242.34h3.34v3.55h-3.34zM272.93 256.56h3.34v3.56h-3.34zM275.98 253.72h3.34v3.56h-3.34zM275.98 242.34h3.34v3.55h-3.34zM282.06 282.16h3.34v3.56h-3.34zM282.06 236.65h3.34v3.56h-3.34zM288.15 259.41h3.34v3.56h-3.34zM288.15 100.14h3.34v3.56h-3.34zM291.19 250.87h3.34v3.55h-3.34zM291.19 233.81h3.34v3.56h-3.34zM294.23 248.03h3.34v3.55h-3.34zM294.23 219.59h3.34v3.56h-3.34zM297.28 250.87h3.34v3.55h-3.34zM300.32 245.19h3.34v3.56h-3.34z"/>
<path fill="#c26b70" d="M117.74 236.65h3.34v3.56h-3.34zM120.78 239.50h3.34v3.56h-3.34zM120.78 233.81h3.34v3.56h-3.34zM123.83 236.65h3.34v3.56h-3.34zM126.87 299.22h3.34v3.56h-3.34zM126.87 287.85h3.34v3.56h-3.34zM126.87 282.16h3.34v3.56h-3.34zM126.87 267.94h3.34v3.56h-3.34zM132.95 256.56h3.34v3.56h-3.34zM139.04 239.50h3.34v3.56h-3.34zM142.08 236.65h3.34v3.56h-3.34zM148.17 248.03h3.34v3.55h-3.34zM148.17 239.50h3.34v3.56h-3.34zM151.21 253.72h3.34v3.56h-3.34zM151.21 245.19h3.34v3.56h-3.34zM154.26 213.90h3.34v3.56h-3.34zM157.30 316.29h3.34v0.01h-3.34zM157.30 313.44h3.34v2.86h-3.34zM157.30 310.60h3.34v3.56h-3.34zM157.30 270.78h3.34v3.56h-3.34zM157.30 259.41h3.34v3.56h-3.34zM157.30 256.56h3.34v3.56h-3.34zM157.30 228.12h3.34v3.56h-3.34zM157.30 222.43h3.34v3.55h-3.34zM160.34 230.97h3.34v3.56h-3.34zM163.38 279.31h3.34v3.56h-3.34zM166.43 225.28h3.34v3.56h-3.34zM175.56 250.87h3.34v3.55h-3.34zM178.60 242.34h3.34v3.55h-3.34zM184.69 242.34h3.34v3.55h-3.34zM184.69 239.50h3.34v3.56h-3.34zM184.69 236.65h3.34v3.56h-3.34zM187.73 316.29h3.34v0.01h-3.34zM187.73 313.44h3.34v2.86h-3.34zM187.73 310.60h3.34v3.56h-3.34zM187.73 304.91h3.34v3.56h-3.34zM187.73 302.07h3.34v3.55h-3.34zM187.73 296.38h3.34v3.56h-3.34zM187.73 282.16h3.34v3.56h-3.34zM187.73 267.94h3.34v3.56h-3.34zM190.77 248.03h3.34v3.55h-3.34zM196.86 242.34h3.34v3.55h-3.34zM202.94 242.34h3.34v3.55h-3.34zM205.99 245.19h3.34v3.56h-3.34zM205.99 239.50h3.34v3.56h-3.34zM209.03 253.72h3.34v3.56h-3.34zM209.03 248.03h3.34v3.55h-3.34zM212.07 253.72h3.34v3.56h-3.34zM212.07 239.50h3.34v3.56h-3.34zM215.12 248.03h3.34v3.55h-3.34zM215.12 242.34h3.34v3.55h-3.34zM215.12 179.77h3.34v3.56h-3.34zM218.16 270.78h3.34v3.56h-3.34zM218.16 265.09h3.34v3.56h-3.34zM218.16 259.41h3.34v3.56h-3.34zM218.16 233.81h3.34v3.56h-3.34zM218.16 230.97h3.34v3.56h-3.34zM218.16 228.12h3.34v3.56h-3.34zM221.20 236.65h3.34v3.56h-3.34zM224.24 245.19h3.34v3.56h-3.34zM227.29 242.34h3.34v3.55h-3.34zM230.33 253.72h3.34v3.56h-3.34zM230.33 250.87h3.34v3.55h-3.34zM230.33 245.19h3.34v3.56h-3.34zM230.33 239.50h3.34v3.56h-3.34zM230.33 233.81h3.34v3.56h-3.34zM230.33 139.96h3.34v3.56h-3.34zM233.37 242.34h3.34v3.55h-3.34zM233.37 191.15h3.34v3.55h-3.34zM233.37 168.40h3.34v3.56h-3.34zM236.42 250.87h3.34v3.55h-3.34zM239.46 248.03h3.34v3.55h-3.34zM248.59 233.81h3.34v3.56h-3.34zM251.63 248.03h3.34v3.55h-3.34zM257.72 242.34h3.34v3.55h-3.34zM260.76 245.19h3.34v3.56h-3.34zM260.76 233.81h3.34v3.56h-3.34zM263.80 256.56h3.34v3.56h-3.34zM266.85 245.19h3.34v3.56h-3.34zM266.85 233.81h3.34v3.56h-3.34zM266.85 230.97h3.34v3.56h-3.34zM269.89 242.34h3.34v3.55h-3.34zM269.89 236.65h3.34v3.56h-3.34zM272.93 114.36h3.34v3.56h-3.34zM275.98 248.03h3.34v3.55h-3.34zM275.98 236.65h3.34v3.56h-3.34zM275.98 94.45h3.34v3.56h-3.34zM279.02 239.50h3.34v3.56h-3.34zM285.10 245.19h3.34v3.56h-3.34zM288.15 248.03h3.34v3.55h-3.34zM288.15 236.65h3.34v3.56h-3.34zM291.19 256.56h3.34v3.56h-3.34zM291.19 245.19h3.34v3.56h-3.34zM291.19 239.50h3.34v3.56h-3.34zM294.23 236.65h3.34v3.56h-3.34zM297.28 245.19h3.34v3.56h-3.34zM300.32 248.03h3.34v3.55h-3.34zM300.32 242.34h3.34v3.55h-3.34z"/>
<path fill="#c1656a" d="M108.61 245.19h3.34v3.56h-3.34zM114.70 245.19h3.34v3.56h-3.34zM117.74 242.34h3.34v3.55h-3.34zM123.83 230.97h3.34v3.56h-3.34zM126.87 316.29h3.34v0.01h-3.34zM126.87 313.44h3.34v2.86h-3.34zM126.87 310.60h3.34v3.56h-3.34zM126.87 304.91h3.34v3.56h-3.34zM126.87 259.41h3.34v3.56h-3.34zM139.04 245.19h3.34v3.56h-3.34zM139.04 216.75h3.34v3.56h-3.34zM142.08 248.03h3.34v3.55h-3.34zM145.13 248.03h3.34v3.55h-3.34zM145.13 242.34h3.34v3.55h-3.34zM145.13 239.50h3.34v3.56h-3.34zM154.26 242.34h3.34v3.55h-3.34zM157.30 250.87h3.34v3.55h-3.34zM166.43 293.53h3.34v3.56h-3.34zM169.47 250.87h3.34v3.55h-3.34zM172.51 219.59h3.34v3.56h-3.34zM175.56 279.31h3.34v3.56h-3.34zM175.56 245.19h3.34v3.56h-3.34zM175.56 236.65h3.34v3.56h-3.34zM181.64 250.87h3.34v3.55h-3.34zM181.64 239.50h3.34v3.56h-3.34zM181.64 233.81h3.34v3.56h-3.34zM184.69 248.03h3.34v3.55h-3.34zM187.73 293.53h3.34v3.56h-3.34zM187.73 270.78h3.34v3.56h-3.34zM187.73 225.28h3.34v3.56h-3.34zM190.77 242.34h3.34v3.55h-3.34zM196.86 236.65h3.34v3.56h-3.34zM199.90 259.41h3.34v3.56h-3.34zM199.90 233.81h3.34v3.56h-3.34zM199.90 193.99h3.34v3.56h-3.34zM199.90 171.24h3.34v3.56h-3.34zM202.94 245.19h3.34v3.56h-3.34zM202.94 233.81h3.34v3.56h-3.34zM212.07 250.87h3.34v3.55h-3.34zM212.07 245.19h3.34v3.56h-3.34zM218.16 253.72h3.34v3.56h-3.34zM218.16 250.87h3.34v3.55h-3.34zM221.20 242.34h3.34v3.55h-3.34zM227.29 253.72h3.34v3.56h-3.34zM236.42 245.19h3.34v3.56h-3.34zM245.55 242.34h3.34v3.55h-3.34zM245.55 236.65h3.34v3.56h-3.34zM248.59 250.87h3.34v3.55h-3.34zM251.63 242.34h3.34v3.55h-3.34zM254.67 242.34h3.34v3.55h-3.34zM254.67 233.81h3.34v3.56h-3.34zM257.72 245.19h3.34v3.56h-3.34zM260.76 239.50h3.34v3.56h-3.34zM269.89 248.03h3.34v3.55h-3.34zM272.93 250.87h3.34v3.55h-3.34zM272.93 245.19h3.34v3.56h-3.34zM279.02 256.56h3.34v3.56h-3.34zM279.02 250.87h3.34v3.55h-3.34zM279.02 245.19h3.34v3.56h-3.34zM282.06 248.03h3.34v3.55h-3.34zM282.06 242.34h3.34v3.55h-3.34zM285.10 239.50h3.34v3.56h-3.34zM288.15 253.72h3.34v3.56h-3.34z"/>
<path fill="#bf5f65" d="M126.87 293.53h3.34v3.56h-3.34zM126.87 256.56h3.34v3.56h-3.34zM129.91 225.28h3.34v3.56h-3.34zM136.00 239.50h3.34v3.56h-3.34zM142.08 253.72h3.34v3.56h-3.34zM145.13 216.75h3.34v3.56h-3.34zM148.17 242.34h3.34v3.55h-3.34zM157.30 299.22h3.34v3.56h-3.34zM157.30 290.69h3.34v3.56h-3.34zM157.30 265.09h3.34v3.56h-3.34zM157.30 262.25h3.34v3.56h-3.34zM172.51 248.03h3.34v3.55h-3.34zM178.60 239.50h3.34v3.56h-3.34zM187.73 299.22h3.34v3.56h-3.34zM187.73 259.41h3.34v3.56h-3.34zM187.73 250.87h3.34v3.55h-3.34zM205.99 216.75h3.34v3.56h-3.34zM209.03 245.19h3.34v3.56h-3.34zM218.16 245.19h3.34v3.56h-3.34zM239.46 242.34h3.34v3.55h-3.34zM242.50 245.19h3.34v3.56h-3.34zM242.50 239.50h3.34v3.56h-3.34zM248.59 245.19h3.34v3.56h-3.34zM251.63 145.65h3.34v3.55h-3.34zM263.80 245.19h3.34v3.56h-3.34zM266.85 242.34h3.34v3.55h-3.34zM272.93 233.81h3.34v3.56h-3.34zM272.93 228.12h3.34v3.56h-3.34zM285.10 242.34h3.34v3.55h-3.34zM288.15 230.97h3.34v3.56h-3.34z"/>
<path fill="#be5960" d="M126.87 262.25h3.34v3.56h-3.34zM126.87 253.72h3.34v3.56h-3.34zM126.87 245.19h3.34v3.56h-3.34zM145.13 245.19h3.34v3.56h-3.34zM151.21 239.50h3.34v3.56h-3.34zM154.26 236.65h3.34v3.56h-3.34zM157.30 245.19h3.34v3.56h-3.34zM157.30 230.97h3.34v3.56h-3.34zM166.43 230.97h3.34v3.56h-3.34zM187.73 265.09h3.34v3.56h-3.34zM187.73 256.56h3.34v3.56h-3.34zM187.73 253.72h3.34v3.56h-3.34zM187.73 230.97h3.34v3.56h-3.34zM190.77 236.65h3.34v3.56h-3.34zM218.16 248.03h3.34v3.55h-3.34zM227.29 248.03h3.34v3.55h-3.34zM227.29 230.97h3.34v3.56h-3.34zM248.59 239.50h3.34v3.56h-3.34zM251.63 230.97h3.34v3.56h-3.34zM279.02 242.34h3.34v3.55h-3.34zM294.23 242.34h3.34v3.55h-3.34zM294.23 230.97h3.34v3.56h-3.34zM300.32 230.97h3.34v3.56h-3.34z"/>
<path fill="#bd535a" d="M126.87 265.09h3.34v3.56h-3.34zM163.38 233.81h3.34v3.56h-3.34zM187.73 239.50h3.34v3.56h-3.34zM187.73 233.81h3.34v3.56h-3.34zM196.86 248.03h3.34v3.55h-3.34zM218.16 239.50h3.34v3.56h-3.34zM263.80 230.97h3.34v3.56h-3.34zM269.89 230.97h3.34v3.56h-3.34zM272.93 239.50h3.34v3.56h-3.34z"/>
<path fill="#bc4d55" d="M126.87 250.87h3.34v3.55h-3.34zM126.87 225.28h3.34v3.56h-3.34zM126.87 222.43h3.34v3.55h-3.34zM126.87 219.59h3.34v3.56h-3.34zM136.00 242.34h3.34v3.55h-3.34zM157.30 253.72h3.34v3.56h-3.34zM157.30 239.50h3.34v3.56h-3.34zM187.73 242.34h3.34v3.55h-3.34zM248.59 256.56h3.34v3.56h-3.34zM254.67 239.50h3.34v3.56h-3.34zM266.85 239.50h3.34v3.56h-3.34zM297.28 233.81h3.34v3.56h-3.34z"/>
<path fill="#ba474f" d="M139.04 250.87h3.34v3.55h-3.34zM142.08 242.34h3.34v3.55h-3.34zM157.30 242.34h3.34v3.55h-3.34zM157.30 233.81h3.34v3.56h-3.34zM187.73 245.19h3.34v3.56h-3.34zM187.73 236.65h3.34v3.56h-3.34zM233.37 248.03h3.34v3.55h-3.34zM251.63 236.65h3.34v3.56h-3.34zM254.67 245.19h3.34v3.56h-3.34zM288.15 242.34h3.34v3.55h-3.34z"/>
<path fill="#b9424a" d="M126.87 242.34h3.34v3.55h-3.34zM126.87 228.12h3.34v3.56h-3.34zM157.30 248.03h3.34v3.55h-3.34zM157.30 236.65h3.34v3.56h-3.34zM187.73 248.03h3.34v3.55h-3.34zM218.16 242.34h3.34v3.55h-3.34z"/>
<path fill="#b73c45" d="M126.87 248.03h3.34v3.55h-3.34zM126.87 233.81h3.34v3.56h-3.34zM126.87 230.97h3.34v3.56h-3.34z"/>
<path fill="#b3313b" d="M126.87 236.65h3.34v3.56h-3.34zM218.16 236.65h3.34v3.56h-3.34z"/>
<path fill="#b02530" d="M126.87 239.50h3.34v3.56h-3.34z"/></g><path fill="#cda2a4" fill-opacity="0.8" d="M218.53 185.46h2.30v3.56h-2.30zM218.53 168.40h2.30v3.56h-2.30z"/><path fill="#cb9d9f" fill-opacity="0.8" d="M157.67 213.90h2.30v3.56h-2.30zM188.10 196.84h2.30v3.55h-2.30zM218.53 202.53h2.30v3.56h-2.30zM218.53 196.84h2.30v3.55h-2.30zM218.53 174.09h2.30v3.55h-2.30zM218.53 157.02h2.30v3.56h-2.30z"/><path fill="#c99799" fill-opacity="0.8" d="M188.10 213.90h2.30v3.56h-2.30zM188.10 208.21h2.30v3.56h-2.30zM188.10 185.46h2.30v3.56h-2.30zM218.53 213.90h2.30v3.56h-2.30zM218.53 211.06h2.30v3.56h-2.30zM218.53 199.68h2.30v3.56h-2.30zM218.53 191.15h2.30v3.55h-2.30zM218.53 188.31h2.30v3.56h-2.30zM218.53 179.77h2.30v3.56h-2.30zM218.53 159.87h2.30v3.55h-2.30z"/><path fill="#c89093" fill-opacity="0.8" d="M188.10 199.68h2.30v3.56h-2.30zM188.10 191.15h2.30v3.55h-2.30zM188.10 188.31h2.30v3.56h-2.30zM188.10 168.40h2.30v3.56h-2.30zM218.53 205.37h2.30v3.56h-2.30zM218.53 193.99h2.30v3.56h-2.30zM218.53 171.24h2.30v3.56h-2.30zM218.53 165.55h2.30v3.56h-2.30zM218.53 145.65h2.30v3.55h-2.30zM218.53 142.80h2.30v3.56h-2.30zM218.53 139.96h2.30v3.56h-2.30z"/><path fill="#c78a8d" fill-opacity="0.8" d="M157.67 211.06h2.30v3.56h-2.30zM188.10 174.09h2.30v3.55h-2.30zM188.10 171.24h2.30v3.56h-2.30zM218.53 290.69h2.30v3.56h-2.30zM218.53 285.00h2.30v3.56h-2.30zM218.53 208.21h2.30v3.56h-2.30zM218.53 162.71h2.30v3.56h-2.30z"/><path fill="#c68487" fill-opacity="0.8" d="M157.67 208.21h2.30v3.56h-2.30zM157.67 202.53h2.30v3.56h-2.30zM157.67 199.68h2.30v3.56h-2.30zM157.67 196.84h2.30v3.55h-2.30zM188.10 216.75h2.30v3.56h-2.30zM188.10 202.53h2.30v3.56h-2.30zM188.10 193.99h2.30v3.56h-2.30zM218.53 296.38h2.30v3.56h-2.30zM218.53 287.85h2.30v3.56h-2.30zM218.53 279.31h2.30v3.56h-2.30zM218.53 222.43h2.30v3.55h-2.30zM218.53 182.62h2.30v3.56h-2.30zM218.53 148.49h2.30v3.56h-2.30z"/><path fill="#c57d81" fill-opacity="0.8" d="M127.24 296.38h2.30v3.56h-2.30zM127.24 279.31h2.30v3.56h-2.30zM127.24 273.63h2.30v3.55h-2.30zM157.67 279.31h2.30v3.56h-2.30zM188.10 211.06h2.30v3.56h-2.30zM188.10 205.37h2.30v3.56h-2.30zM218.53 310.60h2.30v2.70h-2.30zM218.53 307.75h2.30v3.56h-2.30zM218.53 304.91h2.30v3.56h-2.30zM218.53 299.22h2.30v3.56h-2.30zM218.53 293.53h2.30v3.56h-2.30zM218.53 273.63h2.30v3.55h-2.30zM218.53 219.59h2.30v3.56h-2.30zM218.53 216.75h2.30v3.56h-2.30zM218.53 176.93h2.30v3.56h-2.30zM218.53 154.18h2.30v3.56h-2.30zM218.53 151.33h2.30v3.56h-2.30z"/><path fill="#c4777b" fill-opacity="0.8" d="M127.24 285.00h2.30v3.56h-2.30zM157.67 307.75h2.30v3.56h-2.30zM157.67 302.07h2.30v3.55h-2.30zM157.67 287.85h2.30v3.56h-2.30zM157.67 285.00h2.30v3.56h-2.30zM157.67 282.16h2.30v3.56h-2.30zM157.67 267.94h2.30v3.56h-2.30zM157.67 219.59h2.30v3.56h-2.30zM157.67 205.37h2.30v3.56h-2.30zM188.10 279.31h2.30v3.56h-2.30zM188.10 273.63h2.30v3.55h-2.30zM188.10 222.43h2.30v3.55h-2.30zM188.10 179.77h2.30v3.56h-2.30zM188.10 176.93h2.30v3.56h-2.30zM218.53 302.07h2.30v3.55h-2.30zM218.53 282.16h2.30v3.56h-2.30zM218.53 276.47h2.30v3.56h-2.30z"/><path fill="#c37175" fill-opacity="0.8" d="M127.24 307.75h2.30v3.56h-2.30zM127.24 302.07h2.30v3.55h-2.30zM127.24 290.69h2.30v3.56h-2.30zM127.24 276.47h2.30v3.56h-2.30zM127.24 270.78h2.30v3.56h-2.30zM157.67 304.91h2.30v3.56h-2.30zM157.67 296.38h2.30v3.56h-2.30zM157.67 293.53h2.30v3.56h-2.30zM157.67 276.47h2.30v3.56h-2.30zM157.67 273.63h2.30v3.55h-2.30zM157.67 225.28h2.30v3.56h-2.30zM157.67 216.75h2.30v3.56h-2.30zM188.10 307.75h2.30v3.56h-2.30zM188.10 290.69h2.30v3.56h-2.30zM188.10 287.85h2.30v3.56h-2.30zM188.10 285.00h2.30v3.56h-2.30zM188.10 276.47h2.30v3.56h-2.30zM188.10 262.25h2.30v3.56h-2.30zM188.10 228.12h2.30v3.56h-2.30zM188.10 219.59h2.30v3.56h-2.30zM188.10 182.62h2.30v3.56h-2.30zM218.53 267.94h2.30v3.56h-2.30zM218.53 262.25h2.30v3.56h-2.30zM218.53 256.56h2.30v3.56h-2.30zM218.53 225.28h2.30v3.56h-2.30z"/><path fill="#c26b70" fill-opacity="0.8" d="M127.24 299.22h2.30v3.56h-2.30zM127.24 287.85h2.30v3.56h-2.30zM127.24 282.16h2.30v3.56h-2.30zM127.24 267.94h2.30v3.56h-2.30zM157.67 310.60h2.30v2.70h-2.30zM157.67 270.78h2.30v3.56h-2.30zM157.67 259.41h2.30v3.56h-2.30zM157.67 256.56h2.30v3.56h-2.30zM157.67 228.12h2.30v3.56h-2.30zM157.67 222.43h2.30v3.55h-2.30zM188.10 310.60h2.30v2.70h-2.30zM188.10 304.91h2.30v3.56h-2.30zM188.10 302.07h2.30v3.55h-2.30zM188.10 296.38h2.30v3.56h-2.30zM188.10 282.16h2.30v3.56h-2.30zM188.10 267.94h2.30v3.56h-2.30zM218.53 270.78h2.30v3.56h-2.30zM218.53 265.09h2.30v3.56h-2.30zM218.53 259.41h2.30v3.56h-2.30zM218.53 233.81h2.30v3.56h-2.30zM218.53 230.97h2.30v3.56h-2.30zM218.53 228.12h2.30v3.56h-2.30z"/><path fill="#c1656a" fill-opacity="0.8" d="M127.24 310.60h2.30v2.70h-2.30zM127.24 304.91h2.30v3.56h-2.30zM127.24 259.41h2.30v3.56h-2.30zM157.67 250.87h2.30v3.55h-2.30zM188.10 293.53h2.30v3.56h-2.30zM188.10 270.78h2.30v3.56h-2.30zM188.10 225.28h2.30v3.56h-2.30zM218.53 253.72h2.30v3.56h-2.30zM218.53 250.87h2.30v3.55h-2.30z"/><path fill="#bf5f65" fill-opacity="0.8" d="M127.24 293.53h2.30v3.56h-2.30zM127.24 256.56h2.30v3.56h-2.30zM157.67 299.22h2.30v3.56h-2.30zM157.67 290.69h2.30v3.56h-2.30zM157.67 265.09h2.30v3.56h-2.30zM157.67 262.25h2.30v3.56h-2.30zM188.10 299.22h2.30v3.56h-2.30zM188.10 259.41h2.30v3.56h-2.30zM188.10 250.87h2.30v3.55h-2.30zM218.53 245.19h2.30v3.56h-2.30z"/><path fill="#be5960" fill-opacity="0.8" d="M127.24 262.25h2.30v3.56h-2.30zM127.24 253.72h2.30v3.56h-2.30zM127.24 245.19h2.30v3.56h-2.30zM157.67 245.19h2.30v3.56h-2.30zM157.67 230.97h2.30v3.56h-2.30zM188.10 265.09h2.30v3.56h-2.30zM188.10 256.56h2.30v3.56h-2.30zM188.10 253.72h2.30v3.56h-2.30zM188.10 230.97h2.30v3.56h-2.30zM218.53 248.03h2.30v3.55h-2.30z"/><path fill="#bd535a" fill-opacity="0.8" d="M127.24 265.09h2.30v3.56h-2.30zM188.10 239.50h2.30v3.56h-2.30zM188.10 233.81h2.30v3.56h-2.30zM218.53 239.50h2.30v3.56h-2.30z"/><path fill="#bc4d55" fill-opacity="0.8" d="M127.24 250.87h2.30v3.55h-2.30zM127.24 225.28h2.30v3.56h-2.30zM157.67 253.72h2.30v3.56h-2.30zM157.67 239.50h2.30v3.56h-2.30zM188.10 242.34h2.30v3.55h-2.30z"/><path fill="#ba474f" fill-opacity="0.8" d="M157.67 242.34h2.30v3.55h-2.30zM157.67 233.81h2.30v3.56h-2.30zM188.10 245.19h2.30v3.56h-2.30zM188.10 236.65h2.30v3.56h-2.30z"/><path fill="#b9424a" fill-opacity="0.8" d="M127.24 242.34h2.30v3.55h-2.30zM127.24 228.12h2.30v3.56h-2.30zM157.67 248.03h2.30v3.55h-2.30zM157.67 236.65h2.30v3.56h-2.30zM188.10 248.03h2.30v3.55h-2.30zM218.53 242.34h2.30v3.55h-2.30z"/><path fill="#b73c45" fill-opacity="0.8" d="M127.24 248.03h2.30v3.55h-2.30zM127.24 233.81h2.30v3.56h-2.30zM127.24 230.97h2.30v3.56h-2.30z"/><path fill="#b3313b" fill-opacity="0.8" d="M127.24 236.65h2.30v3.56h-2.30zM218.53 236.65h2.30v3.56h-2.30z"/><path fill="#b02530" fill-opacity="0.8" d="M127.24 239.50h2.30v3.56h-2.30z"/></g><g clip-path="url(#clip313)"><path fill="#d5b7b9" d="M312.49 120.05h3.04v3.56h-3.04zM312.49 117.21h3.04v3.55h-3.04zM312.49 114.36h3.04v3.56h-3.04zM312.49 139.96h3.04v3.56h-3.04zM312.49 137.11h3.04v3.56h-3.04zM312.49 154.18h3.04v3.56h-3.04zM312.49 151.33h3.04v3.56h-3.04zM312.49 148.49h3.04v3.56h-3.04zM312.49 145.65h3.04v3.55h-3.04zM312.49 171.24h3.04v3.56h-3.04zM312.49 168.40h3.04v3.56h-3.04zM312.49 165.55h3.04v3.56h-3.04zM312.49 162.71h3.04v3.56h-3.04zM312.49 159.87h3.04v3.55h-3.04zM312.49 157.02h3.04v3.56h-3.04zM312.49 191.15h3.04v3.55h-3.04zM312.49 188.31h3.04v3.56h-3.04zM312.49 185.46h3.04v3.56h-3.04zM312.49 182.62h3.04v3.56h-3.04zM312.49 179.77h3.04v3.56h-3.04zM312.49 176.93h3.04v3.56h-3.04zM312.49 174.09h3.04v3.55h-3.04zM312.49 202.53h3.04v3.56h-3.04zM312.49 199.68h3.04v3.56h-3.04zM312.49 216.75h3.04v3.56h-3.04zM312.49 213.90h3.04v3.56h-3.04zM312.49 222.43h3.04v3.55h-3.04zM312.49 236.65h3.04v3.56h-3.04zM312.49 233.81h3.04v3.56h-3.04zM312.49 230.97h3.04v3.56h-3.04zM312.49 248.03h3.04v3.55h-3.04zM312.49 245.19h3.04v3.56h-3.04zM312.49 242.34h3.04v3.55h-3.04zM312.49 239.50h3.04v3.56h-3.04z"/><path fill="#d1adae" d="M312.49 108.67h3.04v3.56h-3.04z"/><path fill="#c89093" d="M312.49 60.33h3.04v3.55h-3.04zM312.49 77.39h3.04v3.56h-3.04zM312.49 88.77h3.04v3.55h-3.04zM312.49 128.58h3.04v3.56h-3.04z"/><path fill="#c78a8d" d="M312.49 256.56h3.04v3.56h-3.04z"/></g>
<g stroke="#000" stroke-opacity="0.125" stroke-width="1"><line x1="37.1" y1="28.9" x2="37.1" y2="313.3"/><line x1="67.5" y1="28.9" x2="67.5" y2="313.3"/><line x1="98.0" y1="28.9" x2="98.0" y2="313.3"/><line x1="128.4" y1="28.9" x2="128.4" y2="313.3"/><line x1="158.8" y1="28.9" x2="158.8" y2="313.3"/><line x1="189.2" y1="28.9" x2="189.2" y2="313.3"/><line x1="219.7" y1="28.9" x2="219.7" y2="313.3"/><line x1="250.1" y1="28.9" x2="250.1" y2="313.3"/><line x1="280.5" y1="28.9" x2="280.5" y2="313.3"/><line x1="311.0" y1="28.9" x2="311.0" y2="313.3"/><line x1="341.4" y1="28.9" x2="341.4" y2="313.3"/><line x1="36.0" y1="256.4" x2="350.0" y2="256.4"/><line x1="36.0" y1="199.5" x2="350.0" y2="199.5"/><line x1="36.0" y1="142.7" x2="350.0" y2="142.7"/><line x1="36.0" y1="85.8" x2="350.0" y2="85.8"/></g>
<g stroke="#6a6a6a" stroke-width="1"><line x1="35.6" y1="28.9" x2="35.6" y2="313.8"/><line x1="31.0" y1="313.3" x2="35.6" y2="313.3"/><line x1="31.0" y1="256.4" x2="35.6" y2="256.4"/><line x1="31.0" y1="199.5" x2="35.6" y2="199.5"/><line x1="31.0" y1="142.7" x2="35.6" y2="142.7"/><line x1="31.0" y1="85.8" x2="35.6" y2="85.8"/><line x1="31.0" y1="28.9" x2="35.6" y2="28.9"/></g><g stroke="#5c5c5c" stroke-width="1"><line x1="37.1" y1="313.5" x2="341.4" y2="313.5"/><line x1="37.1" y1="313.5" x2="37.1" y2="318.1"/><line x1="67.5" y1="313.5" x2="67.5" y2="318.1"/><line x1="98.0" y1="313.5" x2="98.0" y2="318.1"/><line x1="128.4" y1="313.5" x2="128.4" y2="318.1"/><line x1="158.8" y1="313.5" x2="158.8" y2="318.1"/><line x1="189.2" y1="313.5" x2="189.2" y2="318.1"/><line x1="219.7" y1="313.5" x2="219.7" y2="318.1"/><line x1="250.1" y1="313.5" x2="250.1" y2="318.1"/><line x1="280.5" y1="313.5" x2="280.5" y2="318.1"/><line x1="311.0" y1="313.5" x2="311.0" y2="318.1"/><line x1="341.4" y1="313.5" x2="341.4" y2="318.1"/></g><g font-size="8.1" fill="#000"><text class="tk" transform="translate(37.1 330.8) scale(1 1.08)" text-anchor="middle">1850</text><text class="tk" transform="translate(67.5 330.8) scale(1 1.08)" text-anchor="middle">1860</text><text class="tk" transform="translate(98.0 330.8) scale(1 1.08)" text-anchor="middle">1870</text><text class="tk" transform="translate(128.4 330.8) scale(1 1.08)" text-anchor="middle">1880</text><text class="tk" transform="translate(158.8 330.8) scale(1 1.08)" text-anchor="middle">1890</text><text class="tk" transform="translate(189.2 330.8) scale(1 1.08)" text-anchor="middle">1900</text><text class="tk" transform="translate(219.7 330.8) scale(1 1.08)" text-anchor="middle">1910</text><text class="tk" transform="translate(250.1 330.8) scale(1 1.08)" text-anchor="middle">1920</text><text class="tk" transform="translate(280.5 330.8) scale(1 1.08)" text-anchor="middle">1930</text><text class="tk" transform="translate(311.0 330.8) scale(1 1.08)" text-anchor="middle">1940</text><text class="tk" transform="translate(341.4 330.8) scale(1 1.08)" text-anchor="middle">1950</text><text class="tk" transform="translate(24.6 313.3) rotate(-90) scale(1 1.08)" text-anchor="middle">0</text><text class="tk" transform="translate(24.6 256.4) rotate(-90) scale(1 1.08)" text-anchor="middle">20</text><text class="tk" transform="translate(24.6 199.5) rotate(-90) scale(1 1.08)" text-anchor="middle">40</text><text class="tk" transform="translate(24.6 142.7) rotate(-90) scale(1 1.08)" text-anchor="middle">60</text><text class="tk" transform="translate(24.6 85.8) rotate(-90) scale(1 1.08)" text-anchor="middle">80</text><text class="tk" transform="translate(24.6 28.9) rotate(-90) scale(1 1.08)" text-anchor="middle">100</text></g>
<defs><linearGradient id="lga" x1="0" y1="0" x2="0" y2="1"><stop offset="0.00" stop-color="#ac1a26"/><stop offset="0.10" stop-color="#ad1c28"/><stop offset="0.20" stop-color="#ae212c"/><stop offset="0.30" stop-color="#b12a34"/><stop offset="0.40" stop-color="#b53640"/><stop offset="0.50" stop-color="#ba464e"/><stop offset="0.60" stop-color="#be5a60"/><stop offset="0.70" stop-color="#c47276"/><stop offset="0.80" stop-color="#c89ea1"/><stop offset="0.90" stop-color="#cbb6b9"/><stop offset="1.00" stop-color="#c8babe"/></linearGradient></defs><rect x="41.5" y="40.9" width="4" height="32.3" rx="2" fill="url(#lga)"/><text class="lt" transform="translate(43.6 36.0)" font-size="6.5" letter-spacing="-0.15">high mobility</text><text class="lt" transform="translate(43.6 81.4)" font-size="6.5" letter-spacing="-0.15">low mobility</text>
<text class="ax" transform="translate(6.3 171.0) rotate(-90) scale(1 1.08)" text-anchor="middle" font-size="7.8">Age</text>
<text class="ax" transform="translate(192.6 349.4) scale(1 1.08)" text-anchor="middle" font-size="7.8">Birth year</text>
<text class="tt" x="189.7" y="6.9" text-anchor="middle" font-size="9.3">Mobility over age and time</text>
<text class="tt" x="192.6" y="18.1" text-anchor="middle" font-size="9.3">Females</text>
<text x="342.9" y="21.6" text-anchor="end" font-size="11.6" font-weight="bold">Plot A</text>
<defs><clipPath id="clip685"><rect x="35.65" y="385.0" width="300" height="300.0"/></clipPath></defs>
<defs><clipPath id="st685"><path d="M35.65 682.30 L38.62 682.30 L38.62 679.45 L41.66 679.45 L41.66 676.61 L44.71 676.61 L44.71 673.77 L47.75 673.77 L47.75 670.92 L50.79 670.92 L50.79 668.08 L53.84 668.08 L53.84 665.23 L56.88 665.23 L56.88 662.39 L59.92 662.39 L59.92 659.55 L62.97 659.55 L62.97 656.70 L66.01 656.70 L66.01 653.86 L69.05 653.86 L69.05 651.01 L72.09 651.01 L72.09 648.17 L75.14 648.17 L75.14 645.33 L78.18 645.33 L78.18 642.48 L81.22 642.48 L81.22 639.64 L84.27 639.64 L84.27 636.79 L87.31 636.79 L87.31 633.95 L90.35 633.95 L90.35 631.11 L93.40 631.11 L93.40 628.26 L96.44 628.26 L96.44 625.42 L99.48 625.42 L99.48 622.57 L102.52 622.57 L102.52 619.73 L105.57 619.73 L105.57 616.89 L108.61 616.89 L108.61 614.04 L111.65 614.04 L111.65 611.20 L114.70 611.20 L114.70 608.35 L117.74 608.35 L117.74 605.51 L120.78 605.51 L120.78 602.67 L123.83 602.67 L123.83 599.82 L126.87 599.82 L126.87 596.98 L129.91 596.98 L129.91 594.13 L132.95 594.13 L132.95 591.29 L136.00 591.29 L136.00 588.45 L139.04 588.45 L139.04 585.60 L142.08 585.60 L142.08 582.76 L145.13 582.76 L145.13 579.91 L148.17 579.91 L148.17 577.07 L151.21 577.07 L151.21 574.23 L154.26 574.23 L154.26 571.38 L157.30 571.38 L157.30 568.54 L160.34 568.54 L160.34 565.69 L163.38 565.69 L163.38 562.85 L166.43 562.85 L166.43 560.01 L169.47 560.01 L169.47 557.16 L172.51 557.16 L172.51 554.32 L175.56 554.32 L175.56 551.47 L178.60 551.47 L178.60 548.63 L181.64 548.63 L181.64 545.79 L184.69 545.79 L184.69 542.94 L187.73 542.94 L187.73 540.10 L190.77 540.10 L190.77 537.25 L193.81 537.25 L193.81 534.41 L196.86 534.41 L196.86 531.57 L199.90 531.57 L199.90 528.72 L202.94 528.72 L202.94 525.88 L205.99 525.88 L205.99 523.03 L209.03 523.03 L209.03 520.19 L212.07 520.19 L212.07 517.35 L215.12 517.35 L215.12 514.50 L218.16 514.50 L218.16 511.66 L221.20 511.66 L221.20 508.81 L224.24 508.81 L224.24 505.97 L227.29 505.97 L227.29 503.13 L230.33 503.13 L230.33 500.28 L233.37 500.28 L233.37 497.44 L236.42 497.44 L236.42 494.59 L239.46 494.59 L239.46 491.75 L242.50 491.75 L242.50 488.91 L245.55 488.91 L245.55 486.06 L248.59 486.06 L248.59 483.22 L251.63 483.22 L251.63 480.37 L254.67 480.37 L254.67 477.53 L257.72 477.53 L257.72 474.69 L260.76 474.69 L260.76 471.84 L263.80 471.84 L263.80 469.00 L266.85 469.00 L266.85 466.15 L269.89 466.15 L269.89 463.31 L272.93 463.31 L272.93 460.47 L275.98 460.47 L275.98 457.62 L279.02 457.62 L279.02 454.78 L282.06 454.78 L282.06 451.93 L285.10 451.93 L285.10 449.09 L288.15 449.09 L288.15 446.25 L291.19 446.25 L291.19 443.40 L294.23 443.40 L294.23 440.56 L297.28 440.56 L297.28 437.71 L300.32 437.71 L300.32 434.87 L303.36 434.87 L303.36 432.03 L306.41 432.03 L306.41 429.18 L309.45 429.18 L309.45 426.34 L312.49 426.34 L312.49 634.66 L309.45 634.66 L309.45 637.51 L306.41 637.51 L306.41 640.35 L303.36 640.35 L303.36 643.19 L300.32 643.19 L300.32 646.04 L297.28 646.04 L297.28 648.88 L294.23 648.88 L294.23 651.73 L291.19 651.73 L291.19 654.57 L288.15 654.57 L288.15 657.41 L285.10 657.41 L285.10 660.26 L282.06 660.26 L282.06 663.10 L279.02 663.10 L279.02 665.95 L275.98 665.95 L275.98 668.79 L272.93 668.79 L272.93 671.63 L269.89 671.63 L269.89 674.48 L266.85 674.48 L266.85 677.32 L263.80 677.32 L263.80 680.17 L260.76 680.17 L260.76 683.01 L257.72 683.01 L257.72 685.00 L254.67 685.00 L254.67 685.00 L251.63 685.00 L251.63 685.00 L248.59 685.00 L248.59 685.00 L245.55 685.00 L245.55 685.00 L242.50 685.00 L242.50 685.00 L239.46 685.00 L239.46 685.00 L236.42 685.00 L236.42 685.00 L233.37 685.00 L233.37 685.00 L230.33 685.00 L230.33 685.00 L227.29 685.00 L227.29 685.00 L224.24 685.00 L224.24 685.00 L221.20 685.00 L221.20 685.00 L218.16 685.00 L218.16 685.00 L215.12 685.00 L215.12 685.00 L212.07 685.00 L212.07 685.00 L209.03 685.00 L209.03 685.00 L205.99 685.00 L205.99 685.00 L202.94 685.00 L202.94 685.00 L199.90 685.00 L199.90 685.00 L196.86 685.00 L196.86 685.00 L193.81 685.00 L193.81 685.00 L190.77 685.00 L190.77 685.00 L187.73 685.00 L187.73 685.00 L184.69 685.00 L184.69 685.00 L181.64 685.00 L181.64 685.00 L178.60 685.00 L178.60 685.00 L175.56 685.00 L175.56 685.00 L172.51 685.00 L172.51 685.00 L169.47 685.00 L169.47 685.00 L166.43 685.00 L166.43 685.00 L163.38 685.00 L163.38 685.00 L160.34 685.00 L160.34 685.00 L157.30 685.00 L157.30 685.00 L154.26 685.00 L154.26 685.00 L151.21 685.00 L151.21 685.00 L148.17 685.00 L148.17 685.00 L145.13 685.00 L145.13 685.00 L142.08 685.00 L142.08 685.00 L139.04 685.00 L139.04 685.00 L136.00 685.00 L136.00 685.00 L132.95 685.00 L132.95 685.00 L129.91 685.00 L129.91 685.00 L126.87 685.00 L126.87 685.00 L123.83 685.00 L123.83 685.00 L120.78 685.00 L120.78 685.00 L117.74 685.00 L117.74 685.00 L114.70 685.00 L114.70 685.00 L111.65 685.00 L111.65 685.00 L108.61 685.00 L108.61 685.00 L105.57 685.00 L105.57 685.00 L102.52 685.00 L102.52 685.00 L99.48 685.00 L99.48 685.00 L96.44 685.00 L96.44 685.00 L93.40 685.00 L93.40 685.00 L90.35 685.00 L90.35 685.00 L87.31 685.00 L87.31 685.00 L84.27 685.00 L84.27 685.00 L81.22 685.00 L81.22 685.00 L78.18 685.00 L78.18 685.00 L75.14 685.00 L75.14 685.00 L72.09 685.00 L72.09 685.00 L69.05 685.00 L69.05 685.00 L66.01 685.00 L66.01 685.00 L62.97 685.00 L62.97 685.00 L59.92 685.00 L59.92 685.00 L56.88 685.00 L56.88 685.00 L53.84 685.00 L53.84 685.00 L50.79 685.00 L50.79 685.00 L47.75 685.00 L47.75 685.00 L44.71 685.00 L44.71 685.00 L41.66 685.00 L41.66 685.00 L38.62 685.00 L38.62 685.00 L35.65 685.00Z"/></clipPath></defs><g clip-path="url(#st685)"><g filter="url(#blr)"><path fill="#d7cddc" d="M306.41 542.94h3.34v3.56h-3.34zM306.41 486.06h3.34v3.56h-3.34zM306.41 463.31h3.34v3.56h-3.34zM306.41 451.93h3.34v3.55h-3.34z"/>
<path fill="#d2c6d7" d="M303.36 545.79h3.34v3.55h-3.34zM303.36 466.15h3.34v3.56h-3.34zM303.36 449.09h3.34v3.56h-3.34zM306.41 548.63h3.34v3.55h-3.34zM306.41 480.37h3.34v3.56h-3.34z"/>
<path fill="#ccc0d3" d="M297.28 466.15h3.34v3.56h-3.34zM303.36 460.47h3.34v3.56h-3.34zM306.41 582.76h3.34v3.56h-3.34zM306.41 508.81h3.34v3.55h-3.34zM306.41 457.62h3.34v3.55h-3.34zM306.41 434.87h3.34v3.56h-3.34z"/>
<path fill="#c7b9ce" d="M288.15 560.01h3.34v3.55h-3.34zM297.28 471.84h3.34v3.56h-3.34zM297.28 454.78h3.34v3.56h-3.34zM300.32 503.13h3.34v3.55h-3.34zM300.32 457.62h3.34v3.55h-3.34zM303.36 551.47h3.34v3.55h-3.34zM303.36 528.72h3.34v3.56h-3.34zM303.36 500.28h3.34v3.56h-3.34zM303.36 454.78h3.34v3.56h-3.34zM306.41 568.54h3.34v3.56h-3.34zM306.41 557.16h3.34v3.56h-3.34zM306.41 554.32h3.34v3.56h-3.34zM306.41 537.25h3.34v3.56h-3.34zM306.41 511.66h3.34v3.56h-3.34zM306.41 503.13h3.34v3.55h-3.34zM306.41 497.44h3.34v3.56h-3.34zM306.41 491.75h3.34v3.56h-3.34zM306.41 474.69h3.34v3.56h-3.34zM306.41 469.00h3.34v3.56h-3.34zM306.41 446.25h3.34v3.55h-3.34zM306.41 440.56h3.34v3.56h-3.34zM306.41 437.71h3.34v3.56h-3.34zM306.41 429.18h3.34v3.56h-3.34zM306.41 426.34h3.34v3.55h-3.34zM306.41 423.49h3.34v3.56h-3.34z"/>
<path fill="#c2b3c9" d="M212.07 545.79h3.34v3.55h-3.34zM230.33 528.72h3.34v3.56h-3.34zM266.85 494.59h3.34v3.56h-3.34zM269.89 491.75h3.34v3.56h-3.34zM279.02 483.22h3.34v3.55h-3.34zM282.06 565.69h3.34v3.55h-3.34zM288.15 463.31h3.34v3.56h-3.34zM291.19 557.16h3.34v3.56h-3.34zM291.19 466.15h3.34v3.56h-3.34zM291.19 460.47h3.34v3.56h-3.34zM294.23 554.32h3.34v3.56h-3.34zM294.23 474.69h3.34v3.56h-3.34zM294.23 469.00h3.34v3.56h-3.34zM297.28 551.47h3.34v3.55h-3.34zM297.28 500.28h3.34v3.56h-3.34zM297.28 494.59h3.34v3.56h-3.34zM297.28 477.53h3.34v3.55h-3.34zM300.32 491.75h3.34v3.56h-3.34zM300.32 474.69h3.34v3.56h-3.34zM300.32 469.00h3.34v3.56h-3.34zM300.32 463.31h3.34v3.56h-3.34zM303.36 585.60h3.34v3.55h-3.34zM303.36 540.10h3.34v3.55h-3.34zM303.36 534.41h3.34v3.55h-3.34zM303.36 494.59h3.34v3.56h-3.34zM303.36 488.91h3.34v3.55h-3.34zM303.36 471.84h3.34v3.56h-3.34zM303.36 443.40h3.34v3.56h-3.34zM306.41 588.45h3.34v3.56h-3.34zM306.41 577.07h3.34v3.55h-3.34zM306.41 565.69h3.34v3.55h-3.34zM306.41 560.01h3.34v3.55h-3.34zM306.41 525.88h3.34v3.55h-3.34zM306.41 505.97h3.34v3.56h-3.34zM309.45 616.89h3.34v3.55h-3.34zM309.45 588.45h3.34v3.56h-3.34zM309.45 534.41h3.34v3.55h-3.34zM309.45 523.03h3.34v3.55h-3.34zM309.45 486.06h3.34v3.56h-3.34zM309.45 451.93h3.34v3.55h-3.34zM309.45 446.25h3.34v3.55h-3.34zM312.49 616.89h3.34v3.55h-3.34zM312.49 588.45h3.34v3.56h-3.34zM312.49 534.41h3.34v3.55h-3.34zM312.49 523.03h3.34v3.55h-3.34zM312.49 486.06h3.34v3.56h-3.34zM312.49 451.93h3.34v3.55h-3.34zM312.49 446.25h3.34v3.55h-3.34zM315.53 616.89h3.34v3.55h-3.34zM315.53 588.45h3.34v3.56h-3.34zM315.53 534.41h3.34v3.55h-3.34zM315.53 523.03h3.34v3.55h-3.34zM315.53 486.06h3.34v3.56h-3.34zM315.53 451.93h3.34v3.55h-3.34zM315.53 446.25h3.34v3.55h-3.34z"/>
<path fill="#bdacc4" d="M199.90 557.16h3.34v3.56h-3.34zM202.94 679.45h3.34v3.55h-3.34zM202.94 554.32h3.34v3.56h-3.34zM205.99 551.47h3.34v3.55h-3.34zM227.29 662.39h3.34v3.55h-3.34zM227.29 656.70h3.34v3.56h-3.34zM227.29 537.25h3.34v3.56h-3.34zM233.37 531.57h3.34v3.56h-3.34zM233.37 525.88h3.34v3.55h-3.34zM239.46 520.19h3.34v3.56h-3.34zM245.55 554.32h3.34v3.56h-3.34zM245.55 514.50h3.34v3.55h-3.34zM254.67 511.66h3.34v3.56h-3.34zM260.76 505.97h3.34v3.56h-3.34zM260.76 488.91h3.34v3.55h-3.34zM263.80 486.06h3.34v3.56h-3.34zM263.80 474.69h3.34v3.56h-3.34zM266.85 562.85h3.34v3.56h-3.34zM266.85 500.28h3.34v3.56h-3.34zM269.89 673.77h3.34v3.55h-3.34zM269.89 670.92h3.34v3.56h-3.34zM269.89 668.08h3.34v3.55h-3.34zM269.89 531.57h3.34v3.56h-3.34zM272.93 528.72h3.34v3.56h-3.34zM272.93 494.59h3.34v3.56h-3.34zM275.98 486.06h3.34v3.56h-3.34zM285.10 511.66h3.34v3.56h-3.34zM285.10 466.15h3.34v3.56h-3.34zM288.15 451.93h3.34v3.55h-3.34zM291.19 562.85h3.34v3.56h-3.34zM291.19 500.28h3.34v3.56h-3.34zM291.19 449.09h3.34v3.56h-3.34zM294.23 560.01h3.34v3.55h-3.34zM294.23 537.25h3.34v3.56h-3.34zM294.23 497.44h3.34v3.56h-3.34zM294.23 480.37h3.34v3.56h-3.34zM297.28 511.66h3.34v3.56h-3.34zM297.28 505.97h3.34v3.56h-3.34zM297.28 483.22h3.34v3.55h-3.34zM300.32 562.85h3.34v3.56h-3.34zM300.32 560.01h3.34v3.55h-3.34zM300.32 548.63h3.34v3.55h-3.34zM300.32 451.93h3.34v3.55h-3.34zM303.36 579.91h3.34v3.56h-3.34zM303.36 568.54h3.34v3.56h-3.34zM303.36 560.01h3.34v3.55h-3.34zM303.36 514.50h3.34v3.55h-3.34zM303.36 511.66h3.34v3.56h-3.34zM303.36 483.22h3.34v3.55h-3.34zM303.36 437.71h3.34v3.56h-3.34zM303.36 432.03h3.34v3.55h-3.34zM303.36 429.18h3.34v3.56h-3.34zM303.36 426.34h3.34v3.55h-3.34zM306.41 571.38h3.34v3.55h-3.34zM306.41 531.57h3.34v3.56h-3.34zM306.41 528.72h3.34v3.56h-3.34zM306.41 523.03h3.34v3.55h-3.34zM306.41 514.50h3.34v3.55h-3.34zM306.41 500.28h3.34v3.56h-3.34zM306.41 488.91h3.34v3.55h-3.34zM306.41 454.78h3.34v3.56h-3.34zM309.45 636.79h3.34v3.55h-3.34zM309.45 633.95h3.34v3.56h-3.34zM309.45 631.11h3.34v3.56h-3.34zM309.45 622.57h3.34v3.55h-3.34zM309.45 619.73h3.34v3.56h-3.34zM309.45 611.20h3.34v3.55h-3.34zM309.45 608.35h3.34v3.56h-3.34zM309.45 605.51h3.34v3.55h-3.34zM309.45 602.67h3.34v3.55h-3.34zM309.45 599.82h3.34v3.55h-3.34zM309.45 594.13h3.34v3.56h-3.34zM309.45 591.29h3.34v3.55h-3.34zM309.45 585.60h3.34v3.55h-3.34zM309.45 579.91h3.34v3.56h-3.34zM309.45 574.23h3.34v3.56h-3.34zM309.45 571.38h3.34v3.55h-3.34zM309.45 568.54h3.34v3.56h-3.34zM309.45 565.69h3.34v3.55h-3.34zM309.45 560.01h3.34v3.55h-3.34zM309.45 554.32h3.34v3.56h-3.34zM309.45 545.79h3.34v3.55h-3.34zM309.45 542.94h3.34v3.56h-3.34zM309.45 540.10h3.34v3.55h-3.34zM309.45 528.72h3.34v3.56h-3.34zM309.45 525.88h3.34v3.55h-3.34zM309.45 520.19h3.34v3.56h-3.34zM309.45 511.66h3.34v3.56h-3.34zM309.45 508.81h3.34v3.55h-3.34zM309.45 503.13h3.34v3.55h-3.34zM309.45 500.28h3.34v3.56h-3.34zM309.45 497.44h3.34v3.56h-3.34zM309.45 494.59h3.34v3.56h-3.34zM309.45 488.91h3.34v3.55h-3.34zM309.45 483.22h3.34v3.55h-3.34zM309.45 480.37h3.34v3.56h-3.34zM309.45 466.15h3.34v3.56h-3.34zM309.45 463.31h3.34v3.56h-3.34zM309.45 457.62h3.34v3.55h-3.34zM309.45 454.78h3.34v3.56h-3.34zM309.45 443.40h3.34v3.56h-3.34zM309.45 440.56h3.34v3.56h-3.34zM309.45 429.18h3.34v3.56h-3.34zM309.45 426.34h3.34v3.55h-3.34zM309.45 423.49h3.34v3.56h-3.34zM309.45 420.65h3.34v3.56h-3.34zM312.49 636.79h3.34v3.55h-3.34zM312.49 633.95h3.34v3.56h-3.34zM312.49 631.11h3.34v3.56h-3.34zM312.49 622.57h3.34v3.55h-3.34zM312.49 619.73h3.34v3.56h-3.34zM312.49 611.20h3.34v3.55h-3.34zM312.49 608.35h3.34v3.56h-3.34zM312.49 605.51h3.34v3.55h-3.34zM312.49 602.67h3.34v3.55h-3.34zM312.49 599.82h3.34v3.55h-3.34zM312.49 594.13h3.34v3.56h-3.34zM312.49 591.29h3.34v3.55h-3.34zM312.49 585.60h3.34v3.55h-3.34zM312.49 579.91h3.34v3.56h-3.34zM312.49 574.23h3.34v3.56h-3.34zM312.49 571.38h3.34v3.55h-3.34zM312.49 568.54h3.34v3.56h-3.34zM312.49 565.69h3.34v3.55h-3.34zM312.49 560.01h3.34v3.55h-3.34zM312.49 554.32h3.34v3.56h-3.34zM312.49 545.79h3.34v3.55h-3.34zM312.49 542.94h3.34v3.56h-3.34zM312.49 540.10h3.34v3.55h-3.34zM312.49 528.72h3.34v3.56h-3.34zM312.49 525.88h3.34v3.55h-3.34zM312.49 520.19h3.34v3.56h-3.34zM312.49 511.66h3.34v3.56h-3.34zM312.49 508.81h3.34v3.55h-3.34zM312.49 503.13h3.34v3.55h-3.34zM312.49 500.28h3.34v3.56h-3.34zM312.49 497.44h3.34v3.56h-3.34zM312.49 494.59h3.34v3.56h-3.34zM312.49 488.91h3.34v3.55h-3.34zM312.49 483.22h3.34v3.55h-3.34zM312.49 480.37h3.34v3.56h-3.34zM312.49 466.15h3.34v3.56h-3.34zM312.49 463.31h3.34v3.56h-3.34zM312.49 457.62h3.34v3.55h-3.34zM312.49 454.78h3.34v3.56h-3.34zM312.49 443.40h3.34v3.56h-3.34zM312.49 440.56h3.34v3.56h-3.34zM312.49 429.18h3.34v3.56h-3.34zM312.49 426.34h3.34v3.55h-3.34zM312.49 423.49h3.34v3.56h-3.34zM312.49 420.65h3.34v3.56h-3.34zM315.53 636.79h3.34v3.55h-3.34zM315.53 633.95h3.34v3.56h-3.34zM315.53 631.11h3.34v3.56h-3.34zM315.53 622.57h3.34v3.55h-3.34zM315.53 619.73h3.34v3.56h-3.34zM315.53 611.20h3.34v3.55h-3.34zM315.53 608.35h3.34v3.56h-3.34zM315.53 605.51h3.34v3.55h-3.34zM315.53 602.67h3.34v3.55h-3.34zM315.53 599.82h3.34v3.55h-3.34zM315.53 594.13h3.34v3.56h-3.34zM315.53 591.29h3.34v3.55h-3.34zM315.53 585.60h3.34v3.55h-3.34zM315.53 579.91h3.34v3.56h-3.34zM315.53 574.23h3.34v3.56h-3.34zM315.53 571.38h3.34v3.55h-3.34zM315.53 568.54h3.34v3.56h-3.34zM315.53 565.69h3.34v3.55h-3.34zM315.53 560.01h3.34v3.55h-3.34zM315.53 554.32h3.34v3.56h-3.34zM315.53 545.79h3.34v3.55h-3.34zM315.53 542.94h3.34v3.56h-3.34zM315.53 540.10h3.34v3.55h-3.34zM315.53 528.72h3.34v3.56h-3.34zM315.53 525.88h3.34v3.55h-3.34zM315.53 520.19h3.34v3.56h-3.34zM315.53 511.66h3.34v3.56h-3.34zM315.53 508.81h3.34v3.55h-3.34zM315.53 503.13h3.34v3.55h-3.34zM315.53 500.28h3.34v3.56h-3.34zM315.53 497.44h3.34v3.56h-3.34zM315.53 494.59h3.34v3.56h-3.34zM315.53 488.91h3.34v3.55h-3.34zM315.53 483.22h3.34v3.55h-3.34zM315.53 480.37h3.34v3.56h-3.34zM315.53 466.15h3.34v3.56h-3.34zM315.53 463.31h3.34v3.56h-3.34zM315.53 457.62h3.34v3.55h-3.34zM315.53 454.78h3.34v3.56h-3.34zM315.53 443.40h3.34v3.56h-3.34zM315.53 440.56h3.34v3.56h-3.34zM315.53 429.18h3.34v3.56h-3.34zM315.53 426.34h3.34v3.55h-3.34zM315.53 423.49h3.34v3.56h-3.34zM315.53 420.65h3.34v3.56h-3.34z"/>
<path fill="#b7a6c0" d="M81.22 668.08h3.34v3.55h-3.34zM90.35 659.55h3.34v3.55h-3.34zM117.74 633.95h3.34v3.56h-3.34zM184.69 571.38h3.34v3.55h-3.34zM193.81 551.47h3.34v3.55h-3.34zM196.86 560.01h3.34v3.55h-3.34zM196.86 548.63h3.34v3.55h-3.34zM199.90 687.99h3.34v0.01h-3.34zM199.90 685.14h3.34v2.86h-3.34zM199.90 682.30h3.34v3.56h-3.34zM199.90 562.85h3.34v3.56h-3.34zM199.90 551.47h3.34v3.55h-3.34zM202.94 542.94h3.34v3.56h-3.34zM202.94 531.57h3.34v3.56h-3.34zM205.99 557.16h3.34v3.56h-3.34zM209.03 673.77h3.34v3.55h-3.34zM209.03 525.88h3.34v3.55h-3.34zM212.07 534.41h3.34v3.55h-3.34zM212.07 523.03h3.34v3.55h-3.34zM215.12 668.08h3.34v3.55h-3.34zM215.12 531.57h3.34v3.56h-3.34zM221.20 531.57h3.34v3.56h-3.34zM224.24 540.10h3.34v3.55h-3.34zM227.29 673.77h3.34v3.55h-3.34zM227.29 560.01h3.34v3.55h-3.34zM227.29 531.57h3.34v3.56h-3.34zM227.29 508.81h3.34v3.55h-3.34zM230.33 534.41h3.34v3.55h-3.34zM230.33 505.97h3.34v3.56h-3.34zM233.37 668.08h3.34v3.55h-3.34zM236.42 562.85h3.34v3.56h-3.34zM236.42 551.47h3.34v3.55h-3.34zM236.42 528.72h3.34v3.56h-3.34zM236.42 517.35h3.34v3.56h-3.34zM236.42 511.66h3.34v3.56h-3.34zM239.46 651.01h3.34v3.56h-3.34zM239.46 645.33h3.34v3.56h-3.34zM239.46 560.01h3.34v3.55h-3.34zM239.46 548.63h3.34v3.55h-3.34zM239.46 542.94h3.34v3.56h-3.34zM239.46 514.50h3.34v3.55h-3.34zM242.50 523.03h3.34v3.55h-3.34zM242.50 517.35h3.34v3.56h-3.34zM242.50 494.59h3.34v3.56h-3.34zM245.55 673.77h3.34v3.55h-3.34zM245.55 508.81h3.34v3.55h-3.34zM248.59 534.41h3.34v3.55h-3.34zM248.59 511.66h3.34v3.56h-3.34zM251.63 668.08h3.34v3.55h-3.34zM251.63 651.01h3.34v3.56h-3.34zM251.63 537.25h3.34v3.56h-3.34zM251.63 497.44h3.34v3.56h-3.34zM254.67 505.97h3.34v3.56h-3.34zM254.67 494.59h3.34v3.56h-3.34zM254.67 483.22h3.34v3.55h-3.34zM257.72 685.14h3.34v2.86h-3.34zM257.72 682.30h3.34v3.56h-3.34zM257.72 679.45h3.34v3.55h-3.34zM257.72 668.08h3.34v3.55h-3.34zM257.72 542.94h3.34v3.56h-3.34zM257.72 537.25h3.34v3.56h-3.34zM257.72 508.81h3.34v3.55h-3.34zM257.72 497.44h3.34v3.56h-3.34zM260.76 568.54h3.34v3.56h-3.34zM260.76 494.59h3.34v3.56h-3.34zM263.80 679.45h3.34v3.55h-3.34zM263.80 676.61h3.34v3.56h-3.34zM263.80 673.77h3.34v3.55h-3.34zM263.80 656.70h3.34v3.56h-3.34zM263.80 565.69h3.34v3.55h-3.34zM263.80 548.63h3.34v3.55h-3.34zM263.80 525.88h3.34v3.55h-3.34zM266.85 528.72h3.34v3.56h-3.34zM266.85 523.03h3.34v3.55h-3.34zM269.89 525.88h3.34v3.55h-3.34zM269.89 503.13h3.34v3.55h-3.34zM269.89 469.00h3.34v3.56h-3.34zM272.93 648.17h3.34v3.55h-3.34zM272.93 557.16h3.34v3.56h-3.34zM272.93 523.03h3.34v3.55h-3.34zM272.93 488.91h3.34v3.55h-3.34zM272.93 483.22h3.34v3.55h-3.34zM272.93 477.53h3.34v3.55h-3.34zM272.93 466.15h3.34v3.56h-3.34zM275.98 651.01h3.34v3.56h-3.34zM275.98 571.38h3.34v3.55h-3.34zM275.98 520.19h3.34v3.56h-3.34zM275.98 491.75h3.34v3.56h-3.34zM275.98 480.37h3.34v3.56h-3.34zM275.98 474.69h3.34v3.56h-3.34zM279.02 517.35h3.34v3.56h-3.34zM279.02 505.97h3.34v3.56h-3.34zM279.02 471.84h3.34v3.56h-3.34zM282.06 548.63h3.34v3.55h-3.34zM282.06 520.19h3.34v3.56h-3.34zM282.06 491.75h3.34v3.56h-3.34zM282.06 480.37h3.34v3.56h-3.34zM282.06 457.62h3.34v3.55h-3.34zM288.15 542.94h3.34v3.56h-3.34zM288.15 514.50h3.34v3.55h-3.34zM288.15 508.81h3.34v3.55h-3.34zM288.15 486.06h3.34v3.56h-3.34zM291.19 517.35h3.34v3.56h-3.34zM291.19 511.66h3.34v3.56h-3.34zM291.19 494.59h3.34v3.56h-3.34zM291.19 471.84h3.34v3.56h-3.34zM294.23 565.69h3.34v3.55h-3.34zM294.23 503.13h3.34v3.55h-3.34zM294.23 491.75h3.34v3.56h-3.34zM294.23 457.62h3.34v3.55h-3.34zM297.28 568.54h3.34v3.56h-3.34zM297.28 562.85h3.34v3.56h-3.34zM297.28 534.41h3.34v3.55h-3.34zM297.28 488.91h3.34v3.55h-3.34zM297.28 460.47h3.34v3.56h-3.34zM297.28 443.40h3.34v3.56h-3.34zM300.32 577.07h3.34v3.55h-3.34zM300.32 571.38h3.34v3.55h-3.34zM300.32 554.32h3.34v3.56h-3.34zM300.32 531.57h3.34v3.56h-3.34zM300.32 511.66h3.34v3.56h-3.34zM300.32 497.44h3.34v3.56h-3.34zM300.32 486.06h3.34v3.56h-3.34zM300.32 443.40h3.34v3.56h-3.34zM303.36 562.85h3.34v3.56h-3.34zM303.36 557.16h3.34v3.56h-3.34zM303.36 520.19h3.34v3.56h-3.34zM303.36 517.35h3.34v3.56h-3.34zM303.36 508.81h3.34v3.55h-3.34zM303.36 503.13h3.34v3.55h-3.34zM303.36 491.75h3.34v3.56h-3.34zM303.36 480.37h3.34v3.56h-3.34zM303.36 469.00h3.34v3.56h-3.34zM303.36 463.31h3.34v3.56h-3.34zM306.41 551.47h3.34v3.55h-3.34zM306.41 545.79h3.34v3.55h-3.34zM306.41 520.19h3.34v3.56h-3.34zM306.41 517.35h3.34v3.56h-3.34zM306.41 477.53h3.34v3.55h-3.34zM306.41 432.03h3.34v3.55h-3.34zM309.45 628.26h3.34v3.55h-3.34zM309.45 625.42h3.34v3.56h-3.34zM309.45 614.04h3.34v3.56h-3.34zM309.45 596.98h3.34v3.55h-3.34zM309.45 582.76h3.34v3.56h-3.34zM309.45 577.07h3.34v3.55h-3.34zM309.45 562.85h3.34v3.56h-3.34zM309.45 557.16h3.34v3.56h-3.34zM309.45 551.47h3.34v3.55h-3.34zM309.45 548.63h3.34v3.55h-3.34zM309.45 537.25h3.34v3.56h-3.34zM309.45 531.57h3.34v3.56h-3.34zM309.45 517.35h3.34v3.56h-3.34zM309.45 514.50h3.34v3.55h-3.34zM309.45 505.97h3.34v3.56h-3.34zM309.45 491.75h3.34v3.56h-3.34zM309.45 477.53h3.34v3.55h-3.34zM309.45 474.69h3.34v3.56h-3.34zM309.45 471.84h3.34v3.56h-3.34zM309.45 469.00h3.34v3.56h-3.34zM309.45 460.47h3.34v3.56h-3.34zM309.45 449.09h3.34v3.56h-3.34zM309.45 437.71h3.34v3.56h-3.34zM309.45 434.87h3.34v3.56h-3.34zM309.45 432.03h3.34v3.55h-3.34zM312.49 628.26h3.34v3.55h-3.34zM312.49 625.42h3.34v3.56h-3.34zM312.49 614.04h3.34v3.56h-3.34zM312.49 596.98h3.34v3.55h-3.34zM312.49 582.76h3.34v3.56h-3.34zM312.49 577.07h3.34v3.55h-3.34zM312.49 562.85h3.34v3.56h-3.34zM312.49 557.16h3.34v3.56h-3.34zM312.49 551.47h3.34v3.55h-3.34zM312.49 548.63h3.34v3.55h-3.34zM312.49 537.25h3.34v3.56h-3.34zM312.49 531.57h3.34v3.56h-3.34zM312.49 517.35h3.34v3.56h-3.34zM312.49 514.50h3.34v3.55h-3.34zM312.49 505.97h3.34v3.56h-3.34zM312.49 491.75h3.34v3.56h-3.34zM312.49 477.53h3.34v3.55h-3.34zM312.49 474.69h3.34v3.56h-3.34zM312.49 471.84h3.34v3.56h-3.34zM312.49 469.00h3.34v3.56h-3.34zM312.49 460.47h3.34v3.56h-3.34zM312.49 449.09h3.34v3.56h-3.34zM312.49 437.71h3.34v3.56h-3.34zM312.49 434.87h3.34v3.56h-3.34zM312.49 432.03h3.34v3.55h-3.34zM315.53 628.26h3.34v3.55h-3.34zM315.53 625.42h3.34v3.56h-3.34zM315.53 614.04h3.34v3.56h-3.34zM315.53 596.98h3.34v3.55h-3.34zM315.53 582.76h3.34v3.56h-3.34zM315.53 577.07h3.34v3.55h-3.34zM315.53 562.85h3.34v3.56h-3.34zM315.53 557.16h3.34v3.56h-3.34zM315.53 551.47h3.34v3.55h-3.34zM315.53 548.63h3.34v3.55h-3.34zM315.53 537.25h3.34v3.56h-3.34zM315.53 531.57h3.34v3.56h-3.34zM315.53 517.35h3.34v3.56h-3.34zM315.53 514.50h3.34v3.55h-3.34zM315.53 505.97h3.34v3.56h-3.34zM315.53 491.75h3.34v3.56h-3.34zM315.53 477.53h3.34v3.55h-3.34zM315.53 474.69h3.34v3.56h-3.34zM315.53 471.84h3.34v3.56h-3.34zM315.53 469.00h3.34v3.56h-3.34zM315.53 460.47h3.34v3.56h-3.34zM315.53 449.09h3.34v3.56h-3.34zM315.53 437.71h3.34v3.56h-3.34zM315.53 434.87h3.34v3.56h-3.34zM315.53 432.03h3.34v3.55h-3.34z"/>
<path fill="#b29fbb" d="M44.71 679.45h3.34v3.55h-3.34zM47.75 687.99h3.34v0.01h-3.34zM47.75 685.14h3.34v2.86h-3.34zM47.75 682.30h3.34v3.56h-3.34zM56.88 679.45h3.34v3.55h-3.34zM69.05 679.45h3.34v3.55h-3.34zM75.14 662.39h3.34v3.55h-3.34zM87.31 662.39h3.34v3.55h-3.34zM93.40 656.70h3.34v3.56h-3.34zM99.48 651.01h3.34v3.56h-3.34zM99.48 639.64h3.34v3.56h-3.34zM102.52 648.17h3.34v3.55h-3.34zM105.57 651.01h3.34v3.56h-3.34zM105.57 645.33h3.34v3.56h-3.34zM108.61 642.48h3.34v3.55h-3.34zM111.65 679.45h3.34v3.55h-3.34zM117.74 673.77h3.34v3.55h-3.34zM120.78 636.79h3.34v3.55h-3.34zM120.78 631.11h3.34v3.56h-3.34zM123.83 633.95h3.34v3.56h-3.34zM132.95 659.55h3.34v3.55h-3.34zM160.34 633.95h3.34v3.56h-3.34zM163.38 676.61h3.34v3.56h-3.34zM166.43 673.77h3.34v3.55h-3.34zM169.47 574.23h3.34v3.56h-3.34zM178.60 662.39h3.34v3.55h-3.34zM181.64 562.85h3.34v3.56h-3.34zM181.64 551.47h3.34v3.55h-3.34zM184.69 548.63h3.34v3.55h-3.34zM190.77 571.38h3.34v3.55h-3.34zM190.77 565.69h3.34v3.55h-3.34zM190.77 542.94h3.34v3.56h-3.34zM193.81 557.16h3.34v3.56h-3.34zM196.86 645.33h3.34v3.56h-3.34zM196.86 565.69h3.34v3.55h-3.34zM199.90 545.79h3.34v3.55h-3.34zM199.90 534.41h3.34v3.55h-3.34zM202.94 565.69h3.34v3.55h-3.34zM205.99 687.99h3.34v0.01h-3.34zM205.99 685.14h3.34v2.86h-3.34zM205.99 682.30h3.34v3.56h-3.34zM205.99 676.61h3.34v3.56h-3.34zM205.99 545.79h3.34v3.55h-3.34zM205.99 528.72h3.34v3.56h-3.34zM209.03 571.38h3.34v3.55h-3.34zM209.03 554.32h3.34v3.56h-3.34zM209.03 548.63h3.34v3.55h-3.34zM209.03 542.94h3.34v3.56h-3.34zM212.07 670.92h3.34v3.56h-3.34zM212.07 540.10h3.34v3.55h-3.34zM215.12 673.77h3.34v3.55h-3.34zM215.12 571.38h3.34v3.55h-3.34zM215.12 554.32h3.34v3.56h-3.34zM215.12 548.63h3.34v3.55h-3.34zM215.12 542.94h3.34v3.56h-3.34zM215.12 525.88h3.34v3.55h-3.34zM215.12 520.19h3.34v3.56h-3.34zM218.16 534.41h3.34v3.55h-3.34zM221.20 668.08h3.34v3.55h-3.34zM221.20 662.39h3.34v3.55h-3.34zM221.20 571.38h3.34v3.55h-3.34zM221.20 565.69h3.34v3.55h-3.34zM221.20 542.94h3.34v3.56h-3.34zM221.20 537.25h3.34v3.56h-3.34zM221.20 525.88h3.34v3.55h-3.34zM221.20 514.50h3.34v3.55h-3.34zM224.24 676.61h3.34v3.56h-3.34zM224.24 665.23h3.34v3.56h-3.34zM224.24 568.54h3.34v3.56h-3.34zM224.24 534.41h3.34v3.55h-3.34zM227.29 542.94h3.34v3.56h-3.34zM227.29 525.88h3.34v3.55h-3.34zM230.33 653.86h3.34v3.55h-3.34zM230.33 562.85h3.34v3.56h-3.34zM230.33 551.47h3.34v3.55h-3.34zM233.37 656.70h3.34v3.56h-3.34zM233.37 565.69h3.34v3.55h-3.34zM233.37 537.25h3.34v3.56h-3.34zM233.37 514.50h3.34v3.55h-3.34zM236.42 665.23h3.34v3.56h-3.34zM236.42 523.03h3.34v3.55h-3.34zM236.42 500.28h3.34v3.56h-3.34zM239.46 679.45h3.34v3.55h-3.34zM239.46 668.08h3.34v3.55h-3.34zM239.46 554.32h3.34v3.56h-3.34zM239.46 497.44h3.34v3.56h-3.34zM242.50 687.99h3.34v0.01h-3.34zM242.50 685.14h3.34v2.86h-3.34zM242.50 682.30h3.34v3.56h-3.34zM242.50 670.92h3.34v3.56h-3.34zM242.50 642.48h3.34v3.55h-3.34zM242.50 511.66h3.34v3.56h-3.34zM242.50 505.97h3.34v3.56h-3.34zM245.55 639.64h3.34v3.56h-3.34zM245.55 548.63h3.34v3.55h-3.34zM245.55 542.94h3.34v3.56h-3.34zM245.55 537.25h3.34v3.56h-3.34zM245.55 520.19h3.34v3.56h-3.34zM248.59 670.92h3.34v3.56h-3.34zM248.59 642.48h3.34v3.55h-3.34zM248.59 551.47h3.34v3.55h-3.34zM248.59 517.35h3.34v3.56h-3.34zM248.59 500.28h3.34v3.56h-3.34zM248.59 488.91h3.34v3.55h-3.34zM251.63 639.64h3.34v3.56h-3.34zM254.67 687.99h3.34v0.01h-3.34zM254.67 685.14h3.34v2.86h-3.34zM254.67 682.30h3.34v3.56h-3.34zM254.67 545.79h3.34v3.55h-3.34zM254.67 540.10h3.34v3.55h-3.34zM254.67 528.72h3.34v3.56h-3.34zM254.67 517.35h3.34v3.56h-3.34zM257.72 662.39h3.34v3.55h-3.34zM257.72 531.57h3.34v3.56h-3.34zM257.72 525.88h3.34v3.55h-3.34zM257.72 503.13h3.34v3.55h-3.34zM257.72 491.75h3.34v3.56h-3.34zM260.76 665.23h3.34v3.56h-3.34zM260.76 534.41h3.34v3.55h-3.34zM260.76 500.28h3.34v3.56h-3.34zM260.76 477.53h3.34v3.55h-3.34zM263.80 537.25h3.34v3.56h-3.34zM263.80 503.13h3.34v3.55h-3.34zM263.80 497.44h3.34v3.56h-3.34zM266.85 659.55h3.34v3.55h-3.34zM266.85 568.54h3.34v3.56h-3.34zM266.85 540.10h3.34v3.55h-3.34zM266.85 517.35h3.34v3.56h-3.34zM266.85 511.66h3.34v3.56h-3.34zM266.85 483.22h3.34v3.55h-3.34zM272.93 540.10h3.34v3.55h-3.34zM272.93 511.66h3.34v3.56h-3.34zM272.93 505.97h3.34v3.56h-3.34zM275.98 645.33h3.34v3.56h-3.34zM275.98 560.01h3.34v3.55h-3.34zM275.98 537.25h3.34v3.56h-3.34zM279.02 665.23h3.34v3.56h-3.34zM279.02 662.39h3.34v3.55h-3.34zM279.02 659.55h3.34v3.55h-3.34zM279.02 568.54h3.34v3.56h-3.34zM279.02 488.91h3.34v3.55h-3.34zM279.02 460.47h3.34v3.56h-3.34zM282.06 514.50h3.34v3.55h-3.34zM282.06 508.81h3.34v3.55h-3.34zM282.06 474.69h3.34v3.56h-3.34zM285.10 659.55h3.34v3.55h-3.34zM285.10 656.70h3.34v3.56h-3.34zM285.10 653.86h3.34v3.55h-3.34zM285.10 568.54h3.34v3.56h-3.34zM285.10 562.85h3.34v3.56h-3.34zM285.10 517.35h3.34v3.56h-3.34zM285.10 500.28h3.34v3.56h-3.34zM285.10 483.22h3.34v3.55h-3.34zM285.10 477.53h3.34v3.55h-3.34zM285.10 460.47h3.34v3.56h-3.34zM288.15 571.38h3.34v3.55h-3.34zM288.15 565.69h3.34v3.55h-3.34zM288.15 520.19h3.34v3.56h-3.34zM288.15 497.44h3.34v3.56h-3.34zM288.15 480.37h3.34v3.56h-3.34zM288.15 474.69h3.34v3.56h-3.34zM291.19 551.47h3.34v3.55h-3.34zM291.19 545.79h3.34v3.55h-3.34zM291.19 540.10h3.34v3.55h-3.34zM291.19 488.91h3.34v3.55h-3.34zM294.23 531.57h3.34v3.56h-3.34zM294.23 523.03h3.34v3.55h-3.34zM294.23 520.19h3.34v3.56h-3.34zM294.23 508.81h3.34v3.55h-3.34zM294.23 463.31h3.34v3.56h-3.34zM297.28 574.23h3.34v3.56h-3.34zM297.28 565.69h3.34v3.55h-3.34zM297.28 557.16h3.34v3.56h-3.34zM297.28 517.35h3.34v3.56h-3.34zM297.28 474.69h3.34v3.56h-3.34zM297.28 437.71h3.34v3.56h-3.34zM297.28 434.87h3.34v3.56h-3.34zM297.28 432.03h3.34v3.55h-3.34zM300.32 565.69h3.34v3.55h-3.34zM300.32 551.47h3.34v3.55h-3.34zM300.32 520.19h3.34v3.56h-3.34zM300.32 514.50h3.34v3.55h-3.34zM300.32 508.81h3.34v3.55h-3.34zM300.32 480.37h3.34v3.56h-3.34zM300.32 446.25h3.34v3.55h-3.34zM303.36 642.48h3.34v3.55h-3.34zM303.36 639.64h3.34v3.56h-3.34zM303.36 636.79h3.34v3.55h-3.34zM303.36 571.38h3.34v3.55h-3.34zM303.36 554.32h3.34v3.56h-3.34zM303.36 531.57h3.34v3.56h-3.34zM303.36 525.88h3.34v3.55h-3.34zM303.36 505.97h3.34v3.56h-3.34zM303.36 477.53h3.34v3.55h-3.34zM303.36 440.56h3.34v3.56h-3.34zM303.36 434.87h3.34v3.56h-3.34zM306.41 585.60h3.34v3.55h-3.34zM306.41 574.23h3.34v3.56h-3.34zM306.41 494.59h3.34v3.56h-3.34zM306.41 466.15h3.34v3.56h-3.34zM306.41 460.47h3.34v3.56h-3.34z"/>
<path fill="#ad99b6" d="M50.79 679.45h3.34v3.55h-3.34zM53.84 670.92h3.34v3.56h-3.34zM56.88 673.77h3.34v3.55h-3.34zM59.92 676.61h3.34v3.56h-3.34zM59.92 670.92h3.34v3.56h-3.34zM75.14 679.45h3.34v3.55h-3.34zM75.14 673.77h3.34v3.55h-3.34zM75.14 668.08h3.34v3.55h-3.34zM75.14 656.70h3.34v3.56h-3.34zM78.18 676.61h3.34v3.56h-3.34zM78.18 659.55h3.34v3.55h-3.34zM78.18 653.86h3.34v3.55h-3.34zM78.18 648.17h3.34v3.55h-3.34zM81.22 651.01h3.34v3.56h-3.34zM81.22 645.33h3.34v3.56h-3.34zM84.27 648.17h3.34v3.55h-3.34zM87.31 673.77h3.34v3.55h-3.34zM87.31 668.08h3.34v3.55h-3.34zM87.31 645.33h3.34v3.56h-3.34zM93.40 662.39h3.34v3.55h-3.34zM93.40 651.01h3.34v3.56h-3.34zM93.40 645.33h3.34v3.56h-3.34zM96.44 653.86h3.34v3.55h-3.34zM99.48 679.45h3.34v3.55h-3.34zM99.48 662.39h3.34v3.55h-3.34zM102.52 670.92h3.34v3.56h-3.34zM105.57 673.77h3.34v3.55h-3.34zM108.61 676.61h3.34v3.56h-3.34zM108.61 670.92h3.34v3.56h-3.34zM111.65 639.64h3.34v3.56h-3.34zM111.65 628.26h3.34v3.55h-3.34zM114.70 676.61h3.34v3.56h-3.34zM114.70 636.79h3.34v3.55h-3.34zM117.74 662.39h3.34v3.55h-3.34zM117.74 639.64h3.34v3.56h-3.34zM120.78 670.92h3.34v3.56h-3.34zM120.78 665.23h3.34v3.56h-3.34zM123.83 662.39h3.34v3.55h-3.34zM123.83 656.70h3.34v3.56h-3.34zM123.83 651.01h3.34v3.56h-3.34zM129.91 662.39h3.34v3.55h-3.34zM129.91 628.26h3.34v3.55h-3.34zM136.00 651.01h3.34v3.56h-3.34zM139.04 648.17h3.34v3.55h-3.34zM142.08 645.33h3.34v3.56h-3.34zM142.08 639.64h3.34v3.56h-3.34zM145.13 648.17h3.34v3.55h-3.34zM145.13 636.79h3.34v3.55h-3.34zM163.38 687.99h3.34v0.01h-3.34zM163.38 685.14h3.34v2.86h-3.34zM163.38 682.30h3.34v3.56h-3.34zM166.43 565.69h3.34v3.55h-3.34zM169.47 585.60h3.34v3.55h-3.34zM169.47 579.91h3.34v3.56h-3.34zM172.51 668.08h3.34v3.55h-3.34zM175.56 665.23h3.34v3.56h-3.34zM175.56 557.16h3.34v3.56h-3.34zM178.60 577.07h3.34v3.55h-3.34zM178.60 565.69h3.34v3.55h-3.34zM181.64 659.55h3.34v3.55h-3.34zM181.64 568.54h3.34v3.56h-3.34zM184.69 565.69h3.34v3.55h-3.34zM187.73 568.54h3.34v3.56h-3.34zM190.77 554.32h3.34v3.56h-3.34zM190.77 548.63h3.34v3.55h-3.34zM190.77 545.79h3.34v3.55h-3.34zM193.81 574.23h3.34v3.56h-3.34zM193.81 568.54h3.34v3.56h-3.34zM193.81 562.85h3.34v3.56h-3.34zM193.81 540.10h3.34v3.55h-3.34zM193.81 534.41h3.34v3.55h-3.34zM193.81 531.57h3.34v3.56h-3.34zM193.81 528.72h3.34v3.56h-3.34zM196.86 554.32h3.34v3.56h-3.34zM196.86 542.94h3.34v3.56h-3.34zM199.90 540.10h3.34v3.55h-3.34zM202.94 645.33h3.34v3.56h-3.34zM202.94 639.64h3.34v3.56h-3.34zM202.94 560.01h3.34v3.55h-3.34zM202.94 537.25h3.34v3.56h-3.34zM205.99 659.55h3.34v3.55h-3.34zM205.99 579.91h3.34v3.56h-3.34zM209.03 639.64h3.34v3.56h-3.34zM209.03 582.76h3.34v3.56h-3.34zM209.03 537.25h3.34v3.56h-3.34zM212.07 687.99h3.34v0.01h-3.34zM212.07 685.14h3.34v2.86h-3.34zM212.07 682.30h3.34v3.56h-3.34zM212.07 676.61h3.34v3.56h-3.34zM212.07 631.11h3.34v3.56h-3.34zM212.07 574.23h3.34v3.56h-3.34zM212.07 562.85h3.34v3.56h-3.34zM212.07 551.47h3.34v3.55h-3.34zM215.12 582.76h3.34v3.56h-3.34zM215.12 565.69h3.34v3.55h-3.34zM218.16 540.10h3.34v3.55h-3.34zM221.20 679.45h3.34v3.55h-3.34zM221.20 554.32h3.34v3.56h-3.34zM221.20 548.63h3.34v3.55h-3.34zM224.24 687.99h3.34v0.01h-3.34zM224.24 685.14h3.34v2.86h-3.34zM224.24 682.30h3.34v3.56h-3.34zM224.24 673.77h3.34v3.55h-3.34zM224.24 659.55h3.34v3.55h-3.34zM224.24 523.03h3.34v3.55h-3.34zM224.24 511.66h3.34v3.56h-3.34zM227.29 679.45h3.34v3.55h-3.34zM227.29 670.92h3.34v3.56h-3.34zM227.29 668.08h3.34v3.55h-3.34zM227.29 651.01h3.34v3.56h-3.34zM227.29 571.38h3.34v3.55h-3.34zM227.29 554.32h3.34v3.56h-3.34zM227.29 520.19h3.34v3.56h-3.34zM230.33 687.99h3.34v0.01h-3.34zM230.33 685.14h3.34v2.86h-3.34zM230.33 682.30h3.34v3.56h-3.34zM230.33 659.55h3.34v3.55h-3.34zM230.33 568.54h3.34v3.56h-3.34zM230.33 557.16h3.34v3.56h-3.34zM230.33 523.03h3.34v3.55h-3.34zM230.33 517.35h3.34v3.56h-3.34zM230.33 508.81h3.34v3.55h-3.34zM233.37 662.39h3.34v3.55h-3.34zM233.37 651.01h3.34v3.56h-3.34zM233.37 560.01h3.34v3.55h-3.34zM233.37 554.32h3.34v3.56h-3.34zM233.37 542.94h3.34v3.56h-3.34zM233.37 520.19h3.34v3.56h-3.34zM233.37 508.81h3.34v3.55h-3.34zM236.42 653.86h3.34v3.55h-3.34zM236.42 648.17h3.34v3.55h-3.34zM236.42 557.16h3.34v3.56h-3.34zM239.46 662.39h3.34v3.55h-3.34zM239.46 656.70h3.34v3.56h-3.34zM239.46 531.57h3.34v3.56h-3.34zM239.46 525.88h3.34v3.55h-3.34zM239.46 508.81h3.34v3.55h-3.34zM239.46 500.28h3.34v3.56h-3.34zM239.46 491.75h3.34v3.56h-3.34zM239.46 488.91h3.34v3.55h-3.34zM239.46 486.06h3.34v3.56h-3.34zM242.50 665.23h3.34v3.56h-3.34zM242.50 659.55h3.34v3.55h-3.34zM242.50 648.17h3.34v3.55h-3.34zM242.50 568.54h3.34v3.56h-3.34zM242.50 557.16h3.34v3.56h-3.34zM242.50 545.79h3.34v3.55h-3.34zM242.50 540.10h3.34v3.55h-3.34zM242.50 534.41h3.34v3.55h-3.34zM245.55 679.45h3.34v3.55h-3.34zM245.55 656.70h3.34v3.56h-3.34zM245.55 653.86h3.34v3.55h-3.34zM245.55 645.33h3.34v3.56h-3.34zM248.59 653.86h3.34v3.55h-3.34zM248.59 545.79h3.34v3.55h-3.34zM248.59 528.72h3.34v3.56h-3.34zM248.59 494.59h3.34v3.56h-3.34zM251.63 673.77h3.34v3.55h-3.34zM251.63 662.39h3.34v3.55h-3.34zM251.63 656.70h3.34v3.56h-3.34zM251.63 548.63h3.34v3.55h-3.34zM251.63 531.57h3.34v3.56h-3.34zM251.63 520.19h3.34v3.56h-3.34zM251.63 491.75h3.34v3.56h-3.34zM251.63 486.06h3.34v3.56h-3.34zM254.67 670.92h3.34v3.56h-3.34zM254.67 665.23h3.34v3.56h-3.34zM254.67 653.86h3.34v3.55h-3.34zM254.67 548.63h3.34v3.55h-3.34zM254.67 534.41h3.34v3.55h-3.34zM254.67 523.03h3.34v3.55h-3.34zM257.72 633.95h3.34v3.56h-3.34zM257.72 480.37h3.34v3.56h-3.34zM260.76 682.30h3.34v3.56h-3.34zM260.76 679.45h3.34v3.55h-3.34zM260.76 676.61h3.34v3.56h-3.34zM260.76 653.86h3.34v3.55h-3.34zM260.76 642.48h3.34v3.55h-3.34zM260.76 551.47h3.34v3.55h-3.34zM260.76 548.63h3.34v3.55h-3.34zM260.76 540.10h3.34v3.55h-3.34zM260.76 528.72h3.34v3.56h-3.34zM260.76 523.03h3.34v3.55h-3.34zM260.76 471.84h3.34v3.56h-3.34zM260.76 469.00h3.34v3.56h-3.34zM260.76 466.15h3.34v3.56h-3.34zM263.80 662.39h3.34v3.55h-3.34zM263.80 639.64h3.34v3.56h-3.34zM263.80 554.32h3.34v3.56h-3.34zM263.80 540.10h3.34v3.55h-3.34zM263.80 514.50h3.34v3.55h-3.34zM263.80 508.81h3.34v3.55h-3.34zM266.85 636.79h3.34v3.55h-3.34zM266.85 551.47h3.34v3.55h-3.34zM266.85 548.63h3.34v3.55h-3.34zM266.85 542.94h3.34v3.56h-3.34zM266.85 534.41h3.34v3.55h-3.34zM269.89 651.01h3.34v3.56h-3.34zM269.89 577.07h3.34v3.55h-3.34zM269.89 542.94h3.34v3.56h-3.34zM269.89 520.19h3.34v3.56h-3.34zM269.89 497.44h3.34v3.56h-3.34zM269.89 486.06h3.34v3.56h-3.34zM269.89 480.37h3.34v3.56h-3.34zM272.93 653.86h3.34v3.55h-3.34zM272.93 574.23h3.34v3.56h-3.34zM272.93 562.85h3.34v3.56h-3.34zM272.93 500.28h3.34v3.56h-3.34zM275.98 554.32h3.34v3.56h-3.34zM275.98 542.94h3.34v3.56h-3.34zM275.98 525.88h3.34v3.55h-3.34zM275.98 514.50h3.34v3.55h-3.34zM275.98 497.44h3.34v3.56h-3.34zM279.02 656.70h3.34v3.56h-3.34zM279.02 653.86h3.34v3.55h-3.34zM279.02 551.47h3.34v3.55h-3.34zM279.02 534.41h3.34v3.55h-3.34zM279.02 523.03h3.34v3.55h-3.34zM279.02 511.66h3.34v3.56h-3.34zM279.02 500.28h3.34v3.56h-3.34zM279.02 454.78h3.34v3.56h-3.34zM279.02 451.93h3.34v3.55h-3.34zM279.02 449.09h3.34v3.56h-3.34zM282.06 662.39h3.34v3.55h-3.34zM282.06 659.55h3.34v3.55h-3.34zM282.06 656.70h3.34v3.56h-3.34zM282.06 571.38h3.34v3.55h-3.34zM282.06 554.32h3.34v3.56h-3.34zM282.06 534.41h3.34v3.55h-3.34zM282.06 528.72h3.34v3.56h-3.34zM282.06 503.13h3.34v3.55h-3.34zM282.06 497.44h3.34v3.56h-3.34zM282.06 486.06h3.34v3.56h-3.34zM282.06 451.93h3.34v3.55h-3.34zM282.06 449.09h3.34v3.56h-3.34zM282.06 446.25h3.34v3.55h-3.34zM285.10 545.79h3.34v3.55h-3.34zM285.10 523.03h3.34v3.55h-3.34zM285.10 505.97h3.34v3.56h-3.34zM285.10 471.84h3.34v3.56h-3.34zM285.10 457.62h3.34v3.55h-3.34zM285.10 449.09h3.34v3.56h-3.34zM285.10 446.25h3.34v3.55h-3.34zM285.10 443.40h3.34v3.56h-3.34zM288.15 574.23h3.34v3.56h-3.34zM288.15 537.25h3.34v3.56h-3.34zM288.15 517.35h3.34v3.56h-3.34zM288.15 503.13h3.34v3.55h-3.34zM288.15 469.00h3.34v3.56h-3.34zM288.15 449.09h3.34v3.56h-3.34zM291.19 653.86h3.34v3.55h-3.34zM291.19 651.01h3.34v3.56h-3.34zM291.19 648.17h3.34v3.55h-3.34zM291.19 636.79h3.34v3.55h-3.34zM291.19 579.91h3.34v3.56h-3.34zM291.19 534.41h3.34v3.55h-3.34zM291.19 520.19h3.34v3.56h-3.34zM291.19 505.97h3.34v3.56h-3.34zM291.19 483.22h3.34v3.55h-3.34zM291.19 454.78h3.34v3.56h-3.34zM294.23 651.01h3.34v3.56h-3.34zM294.23 648.17h3.34v3.55h-3.34zM294.23 645.33h3.34v3.56h-3.34zM294.23 633.95h3.34v3.56h-3.34zM294.23 577.07h3.34v3.55h-3.34zM294.23 571.38h3.34v3.55h-3.34zM294.23 548.63h3.34v3.55h-3.34zM294.23 517.35h3.34v3.56h-3.34zM294.23 500.28h3.34v3.56h-3.34zM294.23 451.93h3.34v3.55h-3.34zM294.23 443.40h3.34v3.56h-3.34zM297.28 648.17h3.34v3.55h-3.34zM297.28 645.33h3.34v3.56h-3.34zM297.28 642.48h3.34v3.55h-3.34zM297.28 591.29h3.34v3.55h-3.34zM297.28 554.32h3.34v3.56h-3.34zM297.28 545.79h3.34v3.55h-3.34zM297.28 540.10h3.34v3.55h-3.34zM297.28 528.72h3.34v3.56h-3.34zM297.28 508.81h3.34v3.55h-3.34zM297.28 503.13h3.34v3.55h-3.34zM297.28 463.31h3.34v3.56h-3.34zM297.28 449.09h3.34v3.56h-3.34zM297.28 446.25h3.34v3.55h-3.34zM300.32 588.45h3.34v3.56h-3.34zM300.32 537.25h3.34v3.56h-3.34zM300.32 534.41h3.34v3.55h-3.34zM300.32 523.03h3.34v3.55h-3.34zM300.32 517.35h3.34v3.56h-3.34zM300.32 494.59h3.34v3.56h-3.34zM300.32 477.53h3.34v3.55h-3.34zM300.32 440.56h3.34v3.56h-3.34zM303.36 574.23h3.34v3.56h-3.34zM303.36 565.69h3.34v3.55h-3.34zM303.36 548.63h3.34v3.55h-3.34zM303.36 537.25h3.34v3.56h-3.34zM303.36 523.03h3.34v3.55h-3.34zM303.36 497.44h3.34v3.56h-3.34zM303.36 457.62h3.34v3.55h-3.34zM306.41 639.64h3.34v3.56h-3.34zM306.41 636.79h3.34v3.55h-3.34zM306.41 633.95h3.34v3.56h-3.34zM306.41 591.29h3.34v3.55h-3.34zM306.41 562.85h3.34v3.56h-3.34zM306.41 540.10h3.34v3.55h-3.34zM306.41 534.41h3.34v3.55h-3.34zM306.41 471.84h3.34v3.56h-3.34zM306.41 443.40h3.34v3.56h-3.34z"/>
<path fill="#a892b1" d="M41.66 687.99h3.34v0.01h-3.34zM41.66 685.14h3.34v2.86h-3.34zM41.66 682.30h3.34v3.56h-3.34zM47.75 676.61h3.34v3.56h-3.34zM50.79 673.77h3.34v3.55h-3.34zM62.97 673.77h3.34v3.55h-3.34zM62.97 662.39h3.34v3.55h-3.34zM69.05 668.08h3.34v3.55h-3.34zM72.09 676.61h3.34v3.56h-3.34zM72.09 670.92h3.34v3.56h-3.34zM72.09 665.23h3.34v3.56h-3.34zM72.09 659.55h3.34v3.55h-3.34zM72.09 653.86h3.34v3.55h-3.34zM78.18 687.99h3.34v0.01h-3.34zM78.18 685.14h3.34v2.86h-3.34zM78.18 682.30h3.34v3.56h-3.34zM78.18 665.23h3.34v3.56h-3.34zM81.22 673.77h3.34v3.55h-3.34zM81.22 662.39h3.34v3.55h-3.34zM84.27 670.92h3.34v3.56h-3.34zM84.27 665.23h3.34v3.56h-3.34zM84.27 642.48h3.34v3.55h-3.34zM87.31 656.70h3.34v3.56h-3.34zM87.31 651.01h3.34v3.56h-3.34zM90.35 676.61h3.34v3.56h-3.34zM90.35 665.23h3.34v3.56h-3.34zM90.35 653.86h3.34v3.55h-3.34zM90.35 648.17h3.34v3.55h-3.34zM93.40 673.77h3.34v3.55h-3.34zM96.44 659.55h3.34v3.55h-3.34zM96.44 648.17h3.34v3.55h-3.34zM99.48 656.70h3.34v3.56h-3.34zM99.48 633.95h3.34v3.56h-3.34zM102.52 642.48h3.34v3.55h-3.34zM102.52 636.79h3.34v3.55h-3.34zM102.52 631.11h3.34v3.56h-3.34zM105.57 668.08h3.34v3.55h-3.34zM105.57 622.57h3.34v3.55h-3.34zM108.61 687.99h3.34v0.01h-3.34zM108.61 685.14h3.34v2.86h-3.34zM108.61 682.30h3.34v3.56h-3.34zM108.61 665.23h3.34v3.56h-3.34zM108.61 636.79h3.34v3.55h-3.34zM108.61 631.11h3.34v3.56h-3.34zM108.61 625.42h3.34v3.56h-3.34zM111.65 662.39h3.34v3.55h-3.34zM111.65 651.01h3.34v3.56h-3.34zM111.65 645.33h3.34v3.56h-3.34zM114.70 670.92h3.34v3.56h-3.34zM114.70 653.86h3.34v3.55h-3.34zM114.70 642.48h3.34v3.55h-3.34zM114.70 625.42h3.34v3.56h-3.34zM117.74 656.70h3.34v3.56h-3.34zM117.74 628.26h3.34v3.55h-3.34zM117.74 622.57h3.34v3.55h-3.34zM120.78 687.99h3.34v0.01h-3.34zM120.78 685.14h3.34v2.86h-3.34zM120.78 682.30h3.34v3.56h-3.34zM123.83 622.57h3.34v3.55h-3.34zM129.91 668.08h3.34v3.55h-3.34zM132.95 670.92h3.34v3.56h-3.34zM132.95 619.73h3.34v3.56h-3.34zM136.00 656.70h3.34v3.56h-3.34zM136.00 645.33h3.34v3.56h-3.34zM136.00 622.57h3.34v3.55h-3.34zM139.04 653.86h3.34v3.55h-3.34zM139.04 642.48h3.34v3.55h-3.34zM142.08 679.45h3.34v3.55h-3.34zM142.08 656.70h3.34v3.56h-3.34zM142.08 633.95h3.34v3.56h-3.34zM145.13 642.48h3.34v3.55h-3.34zM145.13 631.11h3.34v3.56h-3.34zM148.17 673.77h3.34v3.55h-3.34zM148.17 656.70h3.34v3.56h-3.34zM148.17 645.33h3.34v3.56h-3.34zM148.17 633.95h3.34v3.56h-3.34zM151.21 636.79h3.34v3.55h-3.34zM154.26 651.01h3.34v3.56h-3.34zM154.26 639.64h3.34v3.56h-3.34zM160.34 645.33h3.34v3.56h-3.34zM163.38 659.55h3.34v3.55h-3.34zM163.38 642.48h3.34v3.55h-3.34zM163.38 568.54h3.34v3.56h-3.34zM166.43 656.70h3.34v3.56h-3.34zM166.43 588.45h3.34v3.56h-3.34zM166.43 582.76h3.34v3.56h-3.34zM169.47 676.61h3.34v3.56h-3.34zM169.47 670.92h3.34v3.56h-3.34zM172.51 588.45h3.34v3.56h-3.34zM172.51 577.07h3.34v3.55h-3.34zM175.56 579.91h3.34v3.56h-3.34zM175.56 574.23h3.34v3.56h-3.34zM178.60 645.33h3.34v3.56h-3.34zM178.60 571.38h3.34v3.55h-3.34zM178.60 554.32h3.34v3.56h-3.34zM181.64 687.99h3.34v0.01h-3.34zM181.64 685.14h3.34v2.86h-3.34zM181.64 682.30h3.34v3.56h-3.34zM181.64 574.23h3.34v3.56h-3.34zM184.69 577.07h3.34v3.55h-3.34zM184.69 560.01h3.34v3.55h-3.34zM184.69 551.47h3.34v3.55h-3.34zM187.73 574.23h3.34v3.56h-3.34zM187.73 557.16h3.34v3.56h-3.34zM190.77 673.77h3.34v3.55h-3.34zM190.77 651.01h3.34v3.56h-3.34zM190.77 633.95h3.34v3.56h-3.34zM193.81 648.17h3.34v3.55h-3.34zM193.81 545.79h3.34v3.55h-3.34zM193.81 542.94h3.34v3.56h-3.34zM196.86 668.08h3.34v3.55h-3.34zM196.86 537.25h3.34v3.56h-3.34zM196.86 531.57h3.34v3.56h-3.34zM196.86 528.72h3.34v3.56h-3.34zM196.86 525.88h3.34v3.55h-3.34zM199.90 665.23h3.34v3.56h-3.34zM202.94 662.39h3.34v3.55h-3.34zM202.94 577.07h3.34v3.55h-3.34zM202.94 548.63h3.34v3.55h-3.34zM202.94 534.41h3.34v3.55h-3.34zM202.94 525.88h3.34v3.55h-3.34zM202.94 523.03h3.34v3.55h-3.34zM202.94 520.19h3.34v3.56h-3.34zM205.99 670.92h3.34v3.56h-3.34zM205.99 665.23h3.34v3.56h-3.34zM205.99 651.01h3.34v3.56h-3.34zM205.99 642.48h3.34v3.55h-3.34zM205.99 636.79h3.34v3.55h-3.34zM205.99 574.23h3.34v3.56h-3.34zM205.99 562.85h3.34v3.56h-3.34zM205.99 540.10h3.34v3.55h-3.34zM205.99 534.41h3.34v3.55h-3.34zM209.03 656.70h3.34v3.56h-3.34zM209.03 648.17h3.34v3.55h-3.34zM209.03 531.57h3.34v3.56h-3.34zM212.07 585.60h3.34v3.55h-3.34zM212.07 579.91h3.34v3.56h-3.34zM212.07 568.54h3.34v3.56h-3.34zM212.07 517.35h3.34v3.56h-3.34zM212.07 514.50h3.34v3.55h-3.34zM212.07 511.66h3.34v3.56h-3.34zM215.12 687.99h3.34v0.01h-3.34zM215.12 685.14h3.34v2.86h-3.34zM215.12 682.30h3.34v3.56h-3.34zM215.12 656.70h3.34v3.56h-3.34zM215.12 651.01h3.34v3.56h-3.34zM215.12 633.95h3.34v3.56h-3.34zM215.12 628.26h3.34v3.55h-3.34zM215.12 537.25h3.34v3.56h-3.34zM218.16 528.72h3.34v3.56h-3.34zM218.16 517.35h3.34v3.56h-3.34zM221.20 577.07h3.34v3.55h-3.34zM221.20 560.01h3.34v3.55h-3.34zM221.20 520.19h3.34v3.56h-3.34zM224.24 679.45h3.34v3.55h-3.34zM224.24 668.08h3.34v3.55h-3.34zM224.24 642.48h3.34v3.55h-3.34zM224.24 579.91h3.34v3.56h-3.34zM224.24 514.50h3.34v3.55h-3.34zM227.29 577.07h3.34v3.55h-3.34zM227.29 548.63h3.34v3.55h-3.34zM227.29 503.13h3.34v3.55h-3.34zM227.29 500.28h3.34v3.56h-3.34zM227.29 497.44h3.34v3.56h-3.34zM230.33 676.61h3.34v3.56h-3.34zM230.33 673.77h3.34v3.55h-3.34zM230.33 670.92h3.34v3.56h-3.34zM230.33 574.23h3.34v3.56h-3.34zM230.33 540.10h3.34v3.55h-3.34zM230.33 511.66h3.34v3.56h-3.34zM233.37 679.45h3.34v3.55h-3.34zM233.37 577.07h3.34v3.55h-3.34zM233.37 548.63h3.34v3.55h-3.34zM233.37 503.13h3.34v3.55h-3.34zM236.42 687.99h3.34v0.01h-3.34zM236.42 685.14h3.34v2.86h-3.34zM236.42 682.30h3.34v3.56h-3.34zM236.42 659.55h3.34v3.55h-3.34zM236.42 545.79h3.34v3.55h-3.34zM236.42 497.44h3.34v3.56h-3.34zM236.42 494.59h3.34v3.56h-3.34zM236.42 491.75h3.34v3.56h-3.34zM236.42 488.91h3.34v3.55h-3.34zM239.46 673.77h3.34v3.55h-3.34zM239.46 571.38h3.34v3.55h-3.34zM239.46 537.25h3.34v3.56h-3.34zM239.46 503.13h3.34v3.55h-3.34zM242.50 676.61h3.34v3.56h-3.34zM242.50 662.39h3.34v3.55h-3.34zM242.50 551.47h3.34v3.55h-3.34zM242.50 528.72h3.34v3.56h-3.34zM242.50 497.44h3.34v3.56h-3.34zM245.55 651.01h3.34v3.56h-3.34zM245.55 568.54h3.34v3.56h-3.34zM245.55 551.47h3.34v3.55h-3.34zM245.55 545.79h3.34v3.55h-3.34zM245.55 531.57h3.34v3.56h-3.34zM245.55 491.75h3.34v3.56h-3.34zM245.55 486.06h3.34v3.56h-3.34zM245.55 483.22h3.34v3.55h-3.34zM245.55 480.37h3.34v3.56h-3.34zM248.59 540.10h3.34v3.55h-3.34zM248.59 523.03h3.34v3.55h-3.34zM248.59 505.97h3.34v3.56h-3.34zM251.63 676.61h3.34v3.56h-3.34zM251.63 633.95h3.34v3.56h-3.34zM251.63 560.01h3.34v3.55h-3.34zM251.63 557.16h3.34v3.56h-3.34zM251.63 542.94h3.34v3.56h-3.34zM251.63 503.13h3.34v3.55h-3.34zM254.67 679.45h3.34v3.55h-3.34zM254.67 659.55h3.34v3.55h-3.34zM254.67 648.17h3.34v3.55h-3.34zM254.67 642.48h3.34v3.55h-3.34zM254.67 636.79h3.34v3.55h-3.34zM254.67 542.94h3.34v3.56h-3.34zM254.67 537.25h3.34v3.56h-3.34zM254.67 514.50h3.34v3.55h-3.34zM254.67 500.28h3.34v3.56h-3.34zM257.72 673.77h3.34v3.55h-3.34zM257.72 651.01h3.34v3.56h-3.34zM257.72 645.33h3.34v3.56h-3.34zM257.72 642.48h3.34v3.55h-3.34zM257.72 562.85h3.34v3.56h-3.34zM257.72 560.01h3.34v3.55h-3.34zM257.72 554.32h3.34v3.56h-3.34zM257.72 551.47h3.34v3.55h-3.34zM257.72 540.10h3.34v3.55h-3.34zM257.72 514.50h3.34v3.55h-3.34zM257.72 483.22h3.34v3.55h-3.34zM257.72 477.53h3.34v3.55h-3.34zM260.76 659.55h3.34v3.55h-3.34zM260.76 631.11h3.34v3.56h-3.34zM260.76 585.60h3.34v3.55h-3.34zM260.76 562.85h3.34v3.56h-3.34zM260.76 560.01h3.34v3.55h-3.34zM260.76 557.16h3.34v3.56h-3.34zM260.76 545.79h3.34v3.55h-3.34zM260.76 511.66h3.34v3.56h-3.34zM260.76 508.81h3.34v3.55h-3.34zM260.76 483.22h3.34v3.55h-3.34zM263.80 668.08h3.34v3.55h-3.34zM263.80 542.94h3.34v3.56h-3.34zM263.80 531.57h3.34v3.56h-3.34zM263.80 520.19h3.34v3.56h-3.34zM263.80 491.75h3.34v3.56h-3.34zM263.80 477.53h3.34v3.55h-3.34zM263.80 471.84h3.34v3.56h-3.34zM266.85 662.39h3.34v3.55h-3.34zM266.85 653.86h3.34v3.55h-3.34zM266.85 648.17h3.34v3.55h-3.34zM266.85 642.48h3.34v3.55h-3.34zM266.85 579.91h3.34v3.56h-3.34zM266.85 574.23h3.34v3.56h-3.34zM266.85 557.16h3.34v3.56h-3.34zM266.85 554.32h3.34v3.56h-3.34zM266.85 537.25h3.34v3.56h-3.34zM266.85 525.88h3.34v3.55h-3.34zM266.85 514.50h3.34v3.55h-3.34zM266.85 505.97h3.34v3.56h-3.34zM266.85 471.84h3.34v3.56h-3.34zM269.89 659.55h3.34v3.55h-3.34zM269.89 633.95h3.34v3.56h-3.34zM269.89 571.38h3.34v3.55h-3.34zM269.89 565.69h3.34v3.55h-3.34zM269.89 560.01h3.34v3.55h-3.34zM269.89 554.32h3.34v3.56h-3.34zM269.89 540.10h3.34v3.55h-3.34zM269.89 537.25h3.34v3.56h-3.34zM269.89 514.50h3.34v3.55h-3.34zM269.89 463.31h3.34v3.56h-3.34zM269.89 460.47h3.34v3.56h-3.34zM269.89 457.62h3.34v3.55h-3.34zM272.93 670.92h3.34v3.56h-3.34zM272.93 668.08h3.34v3.55h-3.34zM272.93 665.23h3.34v3.56h-3.34zM272.93 642.48h3.34v3.55h-3.34zM272.93 579.91h3.34v3.56h-3.34zM272.93 554.32h3.34v3.56h-3.34zM272.93 534.41h3.34v3.55h-3.34zM272.93 517.35h3.34v3.56h-3.34zM275.98 668.08h3.34v3.55h-3.34zM275.98 665.23h3.34v3.56h-3.34zM275.98 662.39h3.34v3.55h-3.34zM275.98 659.55h3.34v3.55h-3.34zM275.98 653.86h3.34v3.55h-3.34zM275.98 548.63h3.34v3.55h-3.34zM275.98 531.57h3.34v3.56h-3.34zM275.98 528.72h3.34v3.56h-3.34zM275.98 508.81h3.34v3.55h-3.34zM275.98 503.13h3.34v3.55h-3.34zM275.98 463.31h3.34v3.56h-3.34zM275.98 460.47h3.34v3.56h-3.34zM279.02 642.48h3.34v3.55h-3.34zM279.02 574.23h3.34v3.56h-3.34zM279.02 557.16h3.34v3.56h-3.34zM279.02 537.25h3.34v3.56h-3.34zM279.02 531.57h3.34v3.56h-3.34zM279.02 494.59h3.34v3.56h-3.34zM279.02 477.53h3.34v3.55h-3.34zM279.02 457.62h3.34v3.55h-3.34zM282.06 645.33h3.34v3.56h-3.34zM282.06 639.64h3.34v3.56h-3.34zM282.06 545.79h3.34v3.55h-3.34zM282.06 469.00h3.34v3.56h-3.34zM282.06 463.31h3.34v3.56h-3.34zM285.10 651.01h3.34v3.56h-3.34zM285.10 551.47h3.34v3.55h-3.34zM285.10 537.25h3.34v3.56h-3.34zM285.10 534.41h3.34v3.55h-3.34zM285.10 531.57h3.34v3.56h-3.34zM285.10 494.59h3.34v3.56h-3.34zM285.10 488.91h3.34v3.55h-3.34zM285.10 454.78h3.34v3.56h-3.34zM285.10 451.93h3.34v3.55h-3.34zM288.15 656.70h3.34v3.56h-3.34zM288.15 653.86h3.34v3.55h-3.34zM288.15 651.01h3.34v3.56h-3.34zM288.15 648.17h3.34v3.55h-3.34zM288.15 577.07h3.34v3.55h-3.34zM288.15 548.63h3.34v3.55h-3.34zM288.15 545.79h3.34v3.55h-3.34zM288.15 534.41h3.34v3.55h-3.34zM288.15 525.88h3.34v3.55h-3.34zM288.15 505.97h3.34v3.56h-3.34zM288.15 446.25h3.34v3.55h-3.34zM288.15 443.40h3.34v3.56h-3.34zM288.15 440.56h3.34v3.56h-3.34zM291.19 571.38h3.34v3.55h-3.34zM291.19 568.54h3.34v3.56h-3.34zM291.19 560.01h3.34v3.55h-3.34zM291.19 528.72h3.34v3.56h-3.34zM291.19 523.03h3.34v3.55h-3.34zM291.19 514.50h3.34v3.55h-3.34zM291.19 486.06h3.34v3.56h-3.34zM291.19 477.53h3.34v3.55h-3.34zM291.19 451.93h3.34v3.55h-3.34zM291.19 446.25h3.34v3.55h-3.34zM291.19 443.40h3.34v3.56h-3.34zM291.19 440.56h3.34v3.56h-3.34zM291.19 437.71h3.34v3.56h-3.34zM294.23 568.54h3.34v3.56h-3.34zM294.23 562.85h3.34v3.56h-3.34zM294.23 551.47h3.34v3.55h-3.34zM294.23 542.94h3.34v3.56h-3.34zM294.23 534.41h3.34v3.55h-3.34zM294.23 528.72h3.34v3.56h-3.34zM294.23 525.88h3.34v3.55h-3.34zM294.23 514.50h3.34v3.55h-3.34zM294.23 486.06h3.34v3.56h-3.34zM294.23 440.56h3.34v3.56h-3.34zM294.23 437.71h3.34v3.56h-3.34zM294.23 434.87h3.34v3.56h-3.34zM297.28 585.60h3.34v3.55h-3.34zM297.28 560.01h3.34v3.55h-3.34zM297.28 542.94h3.34v3.56h-3.34zM297.28 537.25h3.34v3.56h-3.34zM297.28 523.03h3.34v3.55h-3.34zM297.28 520.19h3.34v3.56h-3.34zM297.28 514.50h3.34v3.55h-3.34zM297.28 497.44h3.34v3.56h-3.34zM297.28 440.56h3.34v3.56h-3.34zM300.32 594.13h3.34v3.56h-3.34zM300.32 582.76h3.34v3.56h-3.34zM300.32 574.23h3.34v3.56h-3.34zM300.32 557.16h3.34v3.56h-3.34zM300.32 542.94h3.34v3.56h-3.34zM300.32 500.28h3.34v3.56h-3.34zM300.32 466.15h3.34v3.56h-3.34zM300.32 460.47h3.34v3.56h-3.34zM300.32 434.87h3.34v3.56h-3.34zM300.32 432.03h3.34v3.55h-3.34zM300.32 429.18h3.34v3.56h-3.34zM303.36 542.94h3.34v3.56h-3.34zM303.36 486.06h3.34v3.56h-3.34zM303.36 474.69h3.34v3.56h-3.34zM306.41 631.11h3.34v3.56h-3.34zM306.41 579.91h3.34v3.56h-3.34zM306.41 483.22h3.34v3.55h-3.34zM306.41 449.09h3.34v3.56h-3.34z"/>
<path fill="#a28bac" d="M38.62 679.45h3.34v3.55h-3.34zM38.62 676.61h3.34v3.56h-3.34zM38.62 673.77h3.34v3.55h-3.34zM41.66 679.45h3.34v3.55h-3.34zM50.79 676.61h3.34v3.56h-3.34zM53.84 687.99h3.34v0.01h-3.34zM53.84 685.14h3.34v2.86h-3.34zM53.84 682.30h3.34v3.56h-3.34zM53.84 676.61h3.34v3.56h-3.34zM53.84 673.77h3.34v3.55h-3.34zM56.88 668.08h3.34v3.55h-3.34zM62.97 679.45h3.34v3.55h-3.34zM62.97 668.08h3.34v3.55h-3.34zM69.05 656.70h3.34v3.56h-3.34zM75.14 651.01h3.34v3.56h-3.34zM78.18 670.92h3.34v3.56h-3.34zM84.27 676.61h3.34v3.56h-3.34zM84.27 659.55h3.34v3.55h-3.34zM84.27 653.86h3.34v3.55h-3.34zM90.35 687.99h3.34v0.01h-3.34zM90.35 685.14h3.34v2.86h-3.34zM90.35 682.30h3.34v3.56h-3.34zM90.35 670.92h3.34v3.56h-3.34zM90.35 642.48h3.34v3.55h-3.34zM93.40 679.45h3.34v3.55h-3.34zM93.40 668.08h3.34v3.55h-3.34zM93.40 639.64h3.34v3.56h-3.34zM93.40 633.95h3.34v3.56h-3.34zM96.44 636.79h3.34v3.55h-3.34zM99.48 673.77h3.34v3.55h-3.34zM99.48 645.33h3.34v3.56h-3.34zM102.52 665.23h3.34v3.56h-3.34zM102.52 659.55h3.34v3.55h-3.34zM102.52 653.86h3.34v3.55h-3.34zM102.52 625.42h3.34v3.56h-3.34zM105.57 679.45h3.34v3.55h-3.34zM105.57 639.64h3.34v3.56h-3.34zM108.61 648.17h3.34v3.55h-3.34zM111.65 616.89h3.34v3.55h-3.34zM114.70 648.17h3.34v3.55h-3.34zM114.70 614.04h3.34v3.56h-3.34zM117.74 651.01h3.34v3.56h-3.34zM117.74 645.33h3.34v3.56h-3.34zM120.78 659.55h3.34v3.55h-3.34zM120.78 648.17h3.34v3.55h-3.34zM120.78 625.42h3.34v3.56h-3.34zM120.78 619.73h3.34v3.56h-3.34zM123.83 668.08h3.34v3.55h-3.34zM123.83 639.64h3.34v3.56h-3.34zM123.83 628.26h3.34v3.55h-3.34zM129.91 676.61h3.34v3.56h-3.34zM129.91 673.77h3.34v3.55h-3.34zM129.91 670.92h3.34v3.56h-3.34zM129.91 622.57h3.34v3.55h-3.34zM132.95 653.86h3.34v3.55h-3.34zM136.00 662.39h3.34v3.55h-3.34zM136.00 639.64h3.34v3.56h-3.34zM136.00 633.95h3.34v3.56h-3.34zM139.04 631.11h3.34v3.56h-3.34zM142.08 662.39h3.34v3.55h-3.34zM142.08 651.01h3.34v3.56h-3.34zM145.13 676.61h3.34v3.56h-3.34zM145.13 653.86h3.34v3.55h-3.34zM151.21 670.92h3.34v3.56h-3.34zM151.21 659.55h3.34v3.55h-3.34zM151.21 648.17h3.34v3.55h-3.34zM151.21 642.48h3.34v3.55h-3.34zM154.26 645.33h3.34v3.56h-3.34zM154.26 588.45h3.34v3.56h-3.34zM160.34 679.45h3.34v3.55h-3.34zM160.34 628.26h3.34v3.55h-3.34zM160.34 582.76h3.34v3.56h-3.34zM163.38 665.23h3.34v3.56h-3.34zM163.38 636.79h3.34v3.55h-3.34zM163.38 625.42h3.34v3.56h-3.34zM163.38 579.91h3.34v3.56h-3.34zM166.43 577.07h3.34v3.55h-3.34zM169.47 562.85h3.34v3.56h-3.34zM172.51 687.99h3.34v0.01h-3.34zM172.51 685.14h3.34v2.86h-3.34zM172.51 682.30h3.34v3.56h-3.34zM172.51 662.39h3.34v3.55h-3.34zM172.51 633.95h3.34v3.56h-3.34zM172.51 582.76h3.34v3.56h-3.34zM175.56 676.61h3.34v3.56h-3.34zM175.56 659.55h3.34v3.55h-3.34zM175.56 585.60h3.34v3.55h-3.34zM178.60 588.45h3.34v3.56h-3.34zM178.60 582.76h3.34v3.56h-3.34zM181.64 665.23h3.34v3.56h-3.34zM181.64 653.86h3.34v3.55h-3.34zM181.64 579.91h3.34v3.56h-3.34zM181.64 557.16h3.34v3.56h-3.34zM184.69 673.77h3.34v3.55h-3.34zM184.69 656.70h3.34v3.56h-3.34zM184.69 645.33h3.34v3.56h-3.34zM184.69 582.76h3.34v3.56h-3.34zM187.73 551.47h3.34v3.55h-3.34zM187.73 545.79h3.34v3.55h-3.34zM187.73 542.94h3.34v3.56h-3.34zM190.77 588.45h3.34v3.56h-3.34zM193.81 653.86h3.34v3.55h-3.34zM193.81 636.79h3.34v3.55h-3.34zM193.81 579.91h3.34v3.56h-3.34zM196.86 673.77h3.34v3.55h-3.34zM196.86 656.70h3.34v3.56h-3.34zM196.86 628.26h3.34v3.55h-3.34zM196.86 571.38h3.34v3.55h-3.34zM196.86 568.54h3.34v3.56h-3.34zM196.86 540.10h3.34v3.55h-3.34zM199.90 653.86h3.34v3.55h-3.34zM199.90 642.48h3.34v3.55h-3.34zM199.90 579.91h3.34v3.56h-3.34zM199.90 574.23h3.34v3.56h-3.34zM199.90 568.54h3.34v3.56h-3.34zM199.90 528.72h3.34v3.56h-3.34zM199.90 525.88h3.34v3.55h-3.34zM199.90 523.03h3.34v3.55h-3.34zM202.94 670.92h3.34v3.56h-3.34zM202.94 656.70h3.34v3.56h-3.34zM202.94 528.72h3.34v3.56h-3.34zM205.99 648.17h3.34v3.55h-3.34zM205.99 531.57h3.34v3.56h-3.34zM205.99 523.03h3.34v3.55h-3.34zM205.99 520.19h3.34v3.56h-3.34zM205.99 517.35h3.34v3.56h-3.34zM209.03 668.08h3.34v3.55h-3.34zM209.03 633.95h3.34v3.56h-3.34zM209.03 588.45h3.34v3.56h-3.34zM209.03 577.07h3.34v3.55h-3.34zM209.03 565.69h3.34v3.55h-3.34zM209.03 560.01h3.34v3.55h-3.34zM209.03 523.03h3.34v3.55h-3.34zM212.07 679.45h3.34v3.55h-3.34zM212.07 665.23h3.34v3.56h-3.34zM212.07 653.86h3.34v3.55h-3.34zM212.07 648.17h3.34v3.55h-3.34zM212.07 645.33h3.34v3.56h-3.34zM212.07 636.79h3.34v3.55h-3.34zM212.07 557.16h3.34v3.56h-3.34zM212.07 528.72h3.34v3.56h-3.34zM215.12 679.45h3.34v3.55h-3.34zM215.12 662.39h3.34v3.55h-3.34zM215.12 653.86h3.34v3.55h-3.34zM215.12 577.07h3.34v3.55h-3.34zM215.12 562.85h3.34v3.56h-3.34zM215.12 560.01h3.34v3.55h-3.34zM215.12 551.47h3.34v3.55h-3.34zM215.12 523.03h3.34v3.55h-3.34zM215.12 514.50h3.34v3.55h-3.34zM215.12 511.66h3.34v3.56h-3.34zM215.12 508.81h3.34v3.55h-3.34zM218.16 673.77h3.34v3.55h-3.34zM218.16 548.63h3.34v3.55h-3.34zM218.16 545.79h3.34v3.55h-3.34zM221.20 673.77h3.34v3.55h-3.34zM221.20 656.70h3.34v3.56h-3.34zM221.20 653.86h3.34v3.55h-3.34zM221.20 651.01h3.34v3.56h-3.34zM221.20 628.26h3.34v3.55h-3.34zM221.20 582.76h3.34v3.56h-3.34zM221.20 579.91h3.34v3.56h-3.34zM221.20 511.66h3.34v3.56h-3.34zM221.20 508.81h3.34v3.55h-3.34zM221.20 505.97h3.34v3.56h-3.34zM221.20 503.13h3.34v3.55h-3.34zM224.24 670.92h3.34v3.56h-3.34zM224.24 653.86h3.34v3.55h-3.34zM224.24 645.33h3.34v3.56h-3.34zM224.24 562.85h3.34v3.56h-3.34zM224.24 557.16h3.34v3.56h-3.34zM224.24 551.47h3.34v3.55h-3.34zM224.24 542.94h3.34v3.56h-3.34zM224.24 517.35h3.34v3.56h-3.34zM224.24 508.81h3.34v3.55h-3.34zM224.24 505.97h3.34v3.56h-3.34zM224.24 503.13h3.34v3.55h-3.34zM224.24 500.28h3.34v3.56h-3.34zM227.29 665.23h3.34v3.56h-3.34zM227.29 582.76h3.34v3.56h-3.34zM227.29 574.23h3.34v3.56h-3.34zM227.29 568.54h3.34v3.56h-3.34zM227.29 565.69h3.34v3.55h-3.34zM227.29 551.47h3.34v3.55h-3.34zM227.29 534.41h3.34v3.55h-3.34zM227.29 514.50h3.34v3.55h-3.34zM230.33 668.08h3.34v3.55h-3.34zM230.33 662.39h3.34v3.55h-3.34zM230.33 648.17h3.34v3.55h-3.34zM230.33 642.48h3.34v3.55h-3.34zM230.33 579.91h3.34v3.56h-3.34zM230.33 577.07h3.34v3.55h-3.34zM230.33 545.79h3.34v3.55h-3.34zM230.33 500.28h3.34v3.56h-3.34zM230.33 497.44h3.34v3.56h-3.34zM230.33 494.59h3.34v3.56h-3.34zM233.37 673.77h3.34v3.55h-3.34zM233.37 665.23h3.34v3.56h-3.34zM233.37 659.55h3.34v3.55h-3.34zM233.37 500.28h3.34v3.56h-3.34zM236.42 662.39h3.34v3.55h-3.34zM236.42 651.01h3.34v3.56h-3.34zM236.42 642.48h3.34v3.55h-3.34zM236.42 577.07h3.34v3.55h-3.34zM236.42 574.23h3.34v3.56h-3.34zM236.42 568.54h3.34v3.56h-3.34zM236.42 565.69h3.34v3.55h-3.34zM236.42 554.32h3.34v3.56h-3.34zM236.42 542.94h3.34v3.56h-3.34zM236.42 540.10h3.34v3.55h-3.34zM236.42 534.41h3.34v3.55h-3.34zM236.42 503.13h3.34v3.55h-3.34zM239.46 659.55h3.34v3.55h-3.34zM239.46 653.86h3.34v3.55h-3.34zM239.46 588.45h3.34v3.56h-3.34zM239.46 528.72h3.34v3.56h-3.34zM242.50 673.77h3.34v3.55h-3.34zM242.50 656.70h3.34v3.56h-3.34zM242.50 653.86h3.34v3.55h-3.34zM242.50 565.69h3.34v3.55h-3.34zM242.50 562.85h3.34v3.56h-3.34zM242.50 560.01h3.34v3.55h-3.34zM242.50 525.88h3.34v3.55h-3.34zM242.50 500.28h3.34v3.56h-3.34zM245.55 676.61h3.34v3.56h-3.34zM245.55 662.39h3.34v3.55h-3.34zM245.55 659.55h3.34v3.55h-3.34zM245.55 582.76h3.34v3.56h-3.34zM245.55 565.69h3.34v3.55h-3.34zM245.55 562.85h3.34v3.56h-3.34zM245.55 560.01h3.34v3.55h-3.34zM245.55 534.41h3.34v3.55h-3.34zM245.55 528.72h3.34v3.56h-3.34zM245.55 525.88h3.34v3.55h-3.34zM245.55 503.13h3.34v3.55h-3.34zM245.55 488.91h3.34v3.55h-3.34zM248.59 676.61h3.34v3.56h-3.34zM248.59 668.08h3.34v3.55h-3.34zM248.59 665.23h3.34v3.56h-3.34zM248.59 579.91h3.34v3.56h-3.34zM248.59 562.85h3.34v3.56h-3.34zM248.59 548.63h3.34v3.55h-3.34zM248.59 491.75h3.34v3.56h-3.34zM248.59 483.22h3.34v3.55h-3.34zM248.59 480.37h3.34v3.56h-3.34zM248.59 477.53h3.34v3.55h-3.34zM251.63 687.99h3.34v0.01h-3.34zM251.63 685.14h3.34v2.86h-3.34zM251.63 682.30h3.34v3.56h-3.34zM251.63 670.92h3.34v3.56h-3.34zM251.63 659.55h3.34v3.55h-3.34zM251.63 645.33h3.34v3.56h-3.34zM251.63 642.48h3.34v3.55h-3.34zM251.63 577.07h3.34v3.55h-3.34zM251.63 551.47h3.34v3.55h-3.34zM251.63 517.35h3.34v3.56h-3.34zM251.63 488.91h3.34v3.55h-3.34zM254.67 676.61h3.34v3.56h-3.34zM254.67 651.01h3.34v3.56h-3.34zM254.67 579.91h3.34v3.56h-3.34zM254.67 565.69h3.34v3.55h-3.34zM254.67 557.16h3.34v3.56h-3.34zM254.67 554.32h3.34v3.56h-3.34zM254.67 551.47h3.34v3.55h-3.34zM254.67 503.13h3.34v3.55h-3.34zM254.67 488.91h3.34v3.55h-3.34zM254.67 480.37h3.34v3.56h-3.34zM254.67 477.53h3.34v3.55h-3.34zM254.67 474.69h3.34v3.56h-3.34zM254.67 471.84h3.34v3.56h-3.34zM257.72 670.92h3.34v3.56h-3.34zM257.72 571.38h3.34v3.55h-3.34zM257.72 568.54h3.34v3.56h-3.34zM257.72 565.69h3.34v3.55h-3.34zM257.72 548.63h3.34v3.55h-3.34zM257.72 545.79h3.34v3.55h-3.34zM257.72 534.41h3.34v3.55h-3.34zM257.72 523.03h3.34v3.55h-3.34zM257.72 520.19h3.34v3.56h-3.34zM257.72 486.06h3.34v3.56h-3.34zM257.72 474.69h3.34v3.56h-3.34zM257.72 471.84h3.34v3.56h-3.34zM257.72 469.00h3.34v3.56h-3.34zM260.76 673.77h3.34v3.55h-3.34zM260.76 636.79h3.34v3.55h-3.34zM260.76 579.91h3.34v3.56h-3.34zM260.76 520.19h3.34v3.56h-3.34zM260.76 517.35h3.34v3.56h-3.34zM260.76 480.37h3.34v3.56h-3.34zM260.76 474.69h3.34v3.56h-3.34zM263.80 651.01h3.34v3.56h-3.34zM263.80 582.76h3.34v3.56h-3.34zM263.80 560.01h3.34v3.55h-3.34zM263.80 551.47h3.34v3.55h-3.34zM263.80 517.35h3.34v3.56h-3.34zM263.80 480.37h3.34v3.56h-3.34zM266.85 668.08h3.34v3.55h-3.34zM266.85 665.23h3.34v3.56h-3.34zM266.85 565.69h3.34v3.55h-3.34zM266.85 560.01h3.34v3.55h-3.34zM266.85 545.79h3.34v3.55h-3.34zM266.85 531.57h3.34v3.56h-3.34zM266.85 477.53h3.34v3.55h-3.34zM266.85 474.69h3.34v3.56h-3.34zM269.89 665.23h3.34v3.56h-3.34zM269.89 662.39h3.34v3.55h-3.34zM269.89 645.33h3.34v3.56h-3.34zM269.89 639.64h3.34v3.56h-3.34zM269.89 582.76h3.34v3.56h-3.34zM269.89 511.66h3.34v3.56h-3.34zM269.89 474.69h3.34v3.56h-3.34zM272.93 662.39h3.34v3.55h-3.34zM272.93 659.55h3.34v3.55h-3.34zM272.93 568.54h3.34v3.56h-3.34zM272.93 551.47h3.34v3.55h-3.34zM272.93 548.63h3.34v3.55h-3.34zM272.93 545.79h3.34v3.55h-3.34zM272.93 542.94h3.34v3.56h-3.34zM272.93 537.25h3.34v3.56h-3.34zM272.93 531.57h3.34v3.56h-3.34zM272.93 520.19h3.34v3.56h-3.34zM272.93 508.81h3.34v3.55h-3.34zM272.93 491.75h3.34v3.56h-3.34zM272.93 460.47h3.34v3.56h-3.34zM272.93 457.62h3.34v3.55h-3.34zM272.93 454.78h3.34v3.56h-3.34zM275.98 633.95h3.34v3.56h-3.34zM275.98 582.76h3.34v3.56h-3.34zM275.98 565.69h3.34v3.55h-3.34zM275.98 551.47h3.34v3.55h-3.34zM275.98 540.10h3.34v3.55h-3.34zM275.98 523.03h3.34v3.55h-3.34zM275.98 517.35h3.34v3.56h-3.34zM275.98 469.00h3.34v3.56h-3.34zM275.98 466.15h3.34v3.56h-3.34zM275.98 457.62h3.34v3.55h-3.34zM275.98 454.78h3.34v3.56h-3.34zM275.98 451.93h3.34v3.55h-3.34zM279.02 631.11h3.34v3.56h-3.34zM279.02 571.38h3.34v3.55h-3.34zM279.02 562.85h3.34v3.56h-3.34zM279.02 554.32h3.34v3.56h-3.34zM279.02 540.10h3.34v3.55h-3.34zM279.02 528.72h3.34v3.56h-3.34zM279.02 466.15h3.34v3.56h-3.34zM282.06 540.10h3.34v3.55h-3.34zM282.06 537.25h3.34v3.56h-3.34zM282.06 531.57h3.34v3.56h-3.34zM282.06 525.88h3.34v3.55h-3.34zM282.06 460.47h3.34v3.56h-3.34zM285.10 648.17h3.34v3.55h-3.34zM285.10 645.33h3.34v3.56h-3.34zM285.10 642.48h3.34v3.55h-3.34zM285.10 542.94h3.34v3.56h-3.34zM285.10 540.10h3.34v3.55h-3.34zM285.10 528.72h3.34v3.56h-3.34zM285.10 474.69h3.34v3.56h-3.34zM288.15 554.32h3.34v3.56h-3.34zM288.15 528.72h3.34v3.56h-3.34zM288.15 523.03h3.34v3.55h-3.34zM288.15 494.59h3.34v3.56h-3.34zM288.15 491.75h3.34v3.56h-3.34zM288.15 457.62h3.34v3.55h-3.34zM288.15 454.78h3.34v3.56h-3.34zM291.19 645.33h3.34v3.56h-3.34zM291.19 642.48h3.34v3.55h-3.34zM291.19 631.11h3.34v3.56h-3.34zM291.19 574.23h3.34v3.56h-3.34zM291.19 554.32h3.34v3.56h-3.34zM291.19 548.63h3.34v3.55h-3.34zM291.19 542.94h3.34v3.56h-3.34zM291.19 537.25h3.34v3.56h-3.34zM291.19 508.81h3.34v3.55h-3.34zM291.19 480.37h3.34v3.56h-3.34zM291.19 469.00h3.34v3.56h-3.34zM294.23 642.48h3.34v3.55h-3.34zM294.23 594.13h3.34v3.56h-3.34zM294.23 582.76h3.34v3.56h-3.34zM294.23 557.16h3.34v3.56h-3.34zM294.23 511.66h3.34v3.56h-3.34zM294.23 505.97h3.34v3.56h-3.34zM294.23 488.91h3.34v3.55h-3.34zM294.23 483.22h3.34v3.55h-3.34zM294.23 449.09h3.34v3.56h-3.34zM297.28 631.11h3.34v3.56h-3.34zM297.28 579.91h3.34v3.56h-3.34zM297.28 548.63h3.34v3.55h-3.34zM297.28 531.57h3.34v3.56h-3.34zM297.28 525.88h3.34v3.55h-3.34zM297.28 486.06h3.34v3.56h-3.34zM300.32 645.33h3.34v3.56h-3.34zM300.32 642.48h3.34v3.55h-3.34zM300.32 639.64h3.34v3.56h-3.34zM300.32 579.91h3.34v3.56h-3.34zM300.32 483.22h3.34v3.55h-3.34zM300.32 471.84h3.34v3.56h-3.34zM300.32 454.78h3.34v3.56h-3.34zM300.32 437.71h3.34v3.56h-3.34zM303.36 633.95h3.34v3.56h-3.34zM303.36 577.07h3.34v3.55h-3.34zM303.36 451.93h3.34v3.55h-3.34z"/>
<path fill="#9c85a7" d="M29.49 687.99h3.34v0.01h-3.34zM29.49 685.14h3.34v2.86h-3.34zM29.49 682.30h3.34v3.56h-3.34zM29.49 679.45h3.34v3.55h-3.34zM29.49 676.61h3.34v3.56h-3.34zM32.54 687.99h3.34v0.01h-3.34zM32.54 685.14h3.34v2.86h-3.34zM32.54 682.30h3.34v3.56h-3.34zM32.54 679.45h3.34v3.55h-3.34zM32.54 676.61h3.34v3.56h-3.34zM35.58 687.99h3.34v0.01h-3.34zM35.58 685.14h3.34v2.86h-3.34zM35.58 682.30h3.34v3.56h-3.34zM35.58 679.45h3.34v3.55h-3.34zM35.58 676.61h3.34v3.56h-3.34zM38.62 687.99h3.34v0.01h-3.34zM38.62 685.14h3.34v2.86h-3.34zM38.62 682.30h3.34v3.56h-3.34zM41.66 676.61h3.34v3.56h-3.34zM41.66 673.77h3.34v3.55h-3.34zM41.66 670.92h3.34v3.56h-3.34zM47.75 679.45h3.34v3.55h-3.34zM56.88 665.23h3.34v3.56h-3.34zM59.92 687.99h3.34v0.01h-3.34zM59.92 685.14h3.34v2.86h-3.34zM59.92 682.30h3.34v3.56h-3.34zM59.92 665.23h3.34v3.56h-3.34zM59.92 662.39h3.34v3.55h-3.34zM66.01 687.99h3.34v0.01h-3.34zM66.01 685.14h3.34v2.86h-3.34zM66.01 682.30h3.34v3.56h-3.34zM69.05 653.86h3.34v3.55h-3.34zM72.09 651.01h3.34v3.56h-3.34zM78.18 645.33h3.34v3.56h-3.34zM81.22 656.70h3.34v3.56h-3.34zM81.22 642.48h3.34v3.55h-3.34zM84.27 645.33h3.34v3.56h-3.34zM87.31 639.64h3.34v3.56h-3.34zM90.35 636.79h3.34v3.55h-3.34zM93.40 636.79h3.34v3.55h-3.34zM96.44 631.11h3.34v3.56h-3.34zM99.48 668.08h3.34v3.55h-3.34zM102.52 687.99h3.34v0.01h-3.34zM102.52 685.14h3.34v2.86h-3.34zM102.52 682.30h3.34v3.56h-3.34zM102.52 676.61h3.34v3.56h-3.34zM105.57 662.39h3.34v3.55h-3.34zM105.57 656.70h3.34v3.56h-3.34zM105.57 633.95h3.34v3.56h-3.34zM105.57 628.26h3.34v3.55h-3.34zM108.61 679.45h3.34v3.55h-3.34zM108.61 653.86h3.34v3.55h-3.34zM111.65 673.77h3.34v3.55h-3.34zM111.65 668.08h3.34v3.55h-3.34zM111.65 656.70h3.34v3.56h-3.34zM111.65 633.95h3.34v3.56h-3.34zM111.65 622.57h3.34v3.55h-3.34zM114.70 679.45h3.34v3.55h-3.34zM114.70 665.23h3.34v3.56h-3.34zM114.70 659.55h3.34v3.55h-3.34zM117.74 679.45h3.34v3.55h-3.34zM117.74 670.92h3.34v3.56h-3.34zM117.74 668.08h3.34v3.55h-3.34zM123.83 673.77h3.34v3.55h-3.34zM129.91 679.45h3.34v3.55h-3.34zM129.91 651.01h3.34v3.56h-3.34zM129.91 645.33h3.34v3.56h-3.34zM129.91 633.95h3.34v3.56h-3.34zM132.95 687.99h3.34v0.01h-3.34zM132.95 685.14h3.34v2.86h-3.34zM132.95 682.30h3.34v3.56h-3.34zM132.95 665.23h3.34v3.56h-3.34zM132.95 648.17h3.34v3.55h-3.34zM132.95 625.42h3.34v3.56h-3.34zM136.00 673.77h3.34v3.55h-3.34zM139.04 687.99h3.34v0.01h-3.34zM139.04 685.14h3.34v2.86h-3.34zM139.04 682.30h3.34v3.56h-3.34zM139.04 659.55h3.34v3.55h-3.34zM139.04 636.79h3.34v3.55h-3.34zM139.04 625.42h3.34v3.56h-3.34zM139.04 591.29h3.34v3.55h-3.34zM142.08 653.86h3.34v3.55h-3.34zM142.08 622.57h3.34v3.55h-3.34zM142.08 616.89h3.34v3.55h-3.34zM145.13 651.01h3.34v3.56h-3.34zM145.13 645.33h3.34v3.56h-3.34zM145.13 585.60h3.34v3.55h-3.34zM148.17 659.55h3.34v3.55h-3.34zM148.17 639.64h3.34v3.56h-3.34zM148.17 628.26h3.34v3.55h-3.34zM151.21 665.23h3.34v3.56h-3.34zM151.21 656.70h3.34v3.56h-3.34zM151.21 651.01h3.34v3.56h-3.34zM151.21 625.42h3.34v3.56h-3.34zM154.26 679.45h3.34v3.55h-3.34zM154.26 673.77h3.34v3.55h-3.34zM154.26 662.39h3.34v3.55h-3.34zM154.26 659.55h3.34v3.55h-3.34zM154.26 642.48h3.34v3.55h-3.34zM154.26 628.26h3.34v3.55h-3.34zM154.26 599.82h3.34v3.55h-3.34zM154.26 582.76h3.34v3.56h-3.34zM154.26 577.07h3.34v3.55h-3.34zM157.30 585.60h3.34v3.55h-3.34zM160.34 673.77h3.34v3.55h-3.34zM160.34 662.39h3.34v3.55h-3.34zM160.34 651.01h3.34v3.56h-3.34zM160.34 642.48h3.34v3.55h-3.34zM160.34 594.13h3.34v3.56h-3.34zM160.34 588.45h3.34v3.56h-3.34zM160.34 571.38h3.34v3.55h-3.34zM163.38 639.64h3.34v3.56h-3.34zM163.38 631.11h3.34v3.56h-3.34zM163.38 596.98h3.34v3.55h-3.34zM163.38 591.29h3.34v3.55h-3.34zM163.38 585.60h3.34v3.55h-3.34zM166.43 679.45h3.34v3.55h-3.34zM166.43 642.48h3.34v3.55h-3.34zM166.43 633.95h3.34v3.56h-3.34zM166.43 628.26h3.34v3.55h-3.34zM169.47 687.99h3.34v0.01h-3.34zM169.47 685.14h3.34v2.86h-3.34zM169.47 682.30h3.34v3.56h-3.34zM169.47 659.55h3.34v3.55h-3.34zM169.47 653.86h3.34v3.55h-3.34zM169.47 636.79h3.34v3.55h-3.34zM169.47 625.42h3.34v3.56h-3.34zM169.47 557.16h3.34v3.56h-3.34zM169.47 554.32h3.34v3.56h-3.34zM169.47 551.47h3.34v3.55h-3.34zM172.51 673.77h3.34v3.55h-3.34zM172.51 651.01h3.34v3.56h-3.34zM172.51 636.79h3.34v3.55h-3.34zM172.51 628.26h3.34v3.55h-3.34zM172.51 622.57h3.34v3.55h-3.34zM172.51 560.01h3.34v3.55h-3.34zM175.56 679.45h3.34v3.55h-3.34zM175.56 648.17h3.34v3.55h-3.34zM175.56 631.11h3.34v3.56h-3.34zM175.56 568.54h3.34v3.56h-3.34zM175.56 551.47h3.34v3.55h-3.34zM175.56 548.63h3.34v3.55h-3.34zM175.56 545.79h3.34v3.55h-3.34zM178.60 668.08h3.34v3.55h-3.34zM178.60 656.70h3.34v3.56h-3.34zM178.60 651.01h3.34v3.56h-3.34zM181.64 673.77h3.34v3.55h-3.34zM181.64 670.92h3.34v3.56h-3.34zM181.64 648.17h3.34v3.55h-3.34zM181.64 642.48h3.34v3.55h-3.34zM181.64 585.60h3.34v3.55h-3.34zM181.64 548.63h3.34v3.55h-3.34zM181.64 545.79h3.34v3.55h-3.34zM181.64 542.94h3.34v3.56h-3.34zM181.64 540.10h3.34v3.55h-3.34zM184.69 670.92h3.34v3.56h-3.34zM184.69 668.08h3.34v3.55h-3.34zM184.69 662.39h3.34v3.55h-3.34zM184.69 651.01h3.34v3.56h-3.34zM184.69 588.45h3.34v3.56h-3.34zM184.69 554.32h3.34v3.56h-3.34zM184.69 542.94h3.34v3.56h-3.34zM184.69 540.10h3.34v3.55h-3.34zM184.69 537.25h3.34v3.56h-3.34zM190.77 679.45h3.34v3.55h-3.34zM190.77 676.61h3.34v3.56h-3.34zM190.77 665.23h3.34v3.56h-3.34zM190.77 662.39h3.34v3.55h-3.34zM190.77 656.70h3.34v3.56h-3.34zM190.77 577.07h3.34v3.55h-3.34zM190.77 574.23h3.34v3.56h-3.34zM190.77 540.10h3.34v3.55h-3.34zM190.77 537.25h3.34v3.56h-3.34zM190.77 534.41h3.34v3.55h-3.34zM190.77 531.57h3.34v3.56h-3.34zM193.81 687.99h3.34v0.01h-3.34zM193.81 685.14h3.34v2.86h-3.34zM193.81 682.30h3.34v3.56h-3.34zM193.81 670.92h3.34v3.56h-3.34zM193.81 662.39h3.34v3.55h-3.34zM193.81 659.55h3.34v3.55h-3.34zM193.81 591.29h3.34v3.55h-3.34zM196.86 670.92h3.34v3.56h-3.34zM196.86 662.39h3.34v3.55h-3.34zM196.86 651.01h3.34v3.56h-3.34zM196.86 577.07h3.34v3.55h-3.34zM196.86 534.41h3.34v3.55h-3.34zM199.90 659.55h3.34v3.55h-3.34zM199.90 656.70h3.34v3.56h-3.34zM199.90 625.42h3.34v3.56h-3.34zM199.90 591.29h3.34v3.55h-3.34zM199.90 585.60h3.34v3.55h-3.34zM199.90 554.32h3.34v3.56h-3.34zM199.90 537.25h3.34v3.56h-3.34zM202.94 687.99h3.34v0.01h-3.34zM202.94 685.14h3.34v2.86h-3.34zM202.94 682.30h3.34v3.56h-3.34zM202.94 673.77h3.34v3.55h-3.34zM202.94 668.08h3.34v3.55h-3.34zM202.94 653.86h3.34v3.55h-3.34zM202.94 651.01h3.34v3.56h-3.34zM202.94 582.76h3.34v3.56h-3.34zM202.94 571.38h3.34v3.55h-3.34zM202.94 551.47h3.34v3.55h-3.34zM205.99 662.39h3.34v3.55h-3.34zM205.99 585.60h3.34v3.55h-3.34zM205.99 568.54h3.34v3.56h-3.34zM205.99 554.32h3.34v3.56h-3.34zM209.03 687.99h3.34v0.01h-3.34zM209.03 685.14h3.34v2.86h-3.34zM209.03 682.30h3.34v3.56h-3.34zM209.03 662.39h3.34v3.55h-3.34zM209.03 645.33h3.34v3.56h-3.34zM209.03 557.16h3.34v3.56h-3.34zM209.03 528.72h3.34v3.56h-3.34zM209.03 520.19h3.34v3.56h-3.34zM209.03 517.35h3.34v3.56h-3.34zM209.03 514.50h3.34v3.55h-3.34zM212.07 673.77h3.34v3.55h-3.34zM212.07 525.88h3.34v3.55h-3.34zM212.07 520.19h3.34v3.56h-3.34zM215.12 642.48h3.34v3.55h-3.34zM215.12 639.64h3.34v3.56h-3.34zM215.12 517.35h3.34v3.56h-3.34zM218.16 670.92h3.34v3.56h-3.34zM218.16 665.23h3.34v3.56h-3.34zM218.16 656.70h3.34v3.56h-3.34zM218.16 651.01h3.34v3.56h-3.34zM218.16 639.64h3.34v3.56h-3.34zM218.16 574.23h3.34v3.56h-3.34zM218.16 568.54h3.34v3.56h-3.34zM218.16 562.85h3.34v3.56h-3.34zM218.16 557.16h3.34v3.56h-3.34zM218.16 551.47h3.34v3.55h-3.34zM218.16 523.03h3.34v3.55h-3.34zM218.16 520.19h3.34v3.56h-3.34zM218.16 514.50h3.34v3.55h-3.34zM221.20 676.61h3.34v3.56h-3.34zM221.20 670.92h3.34v3.56h-3.34zM221.20 648.17h3.34v3.55h-3.34zM221.20 645.33h3.34v3.56h-3.34zM221.20 551.47h3.34v3.55h-3.34zM221.20 545.79h3.34v3.55h-3.34zM221.20 540.10h3.34v3.55h-3.34zM221.20 534.41h3.34v3.55h-3.34zM221.20 517.35h3.34v3.56h-3.34zM224.24 651.01h3.34v3.56h-3.34zM224.24 648.17h3.34v3.55h-3.34zM224.24 625.42h3.34v3.56h-3.34zM224.24 577.07h3.34v3.55h-3.34zM224.24 571.38h3.34v3.55h-3.34zM224.24 554.32h3.34v3.56h-3.34zM227.29 676.61h3.34v3.56h-3.34zM227.29 639.64h3.34v3.56h-3.34zM227.29 633.95h3.34v3.56h-3.34zM227.29 540.10h3.34v3.55h-3.34zM227.29 528.72h3.34v3.56h-3.34zM227.29 511.66h3.34v3.56h-3.34zM227.29 505.97h3.34v3.56h-3.34zM230.33 679.45h3.34v3.55h-3.34zM230.33 665.23h3.34v3.56h-3.34zM230.33 636.79h3.34v3.55h-3.34zM230.33 631.11h3.34v3.56h-3.34zM230.33 582.76h3.34v3.56h-3.34zM230.33 560.01h3.34v3.55h-3.34zM230.33 548.63h3.34v3.55h-3.34zM230.33 531.57h3.34v3.56h-3.34zM230.33 525.88h3.34v3.55h-3.34zM230.33 503.13h3.34v3.55h-3.34zM233.37 653.86h3.34v3.55h-3.34zM233.37 645.33h3.34v3.56h-3.34zM233.37 639.64h3.34v3.56h-3.34zM233.37 571.38h3.34v3.55h-3.34zM233.37 568.54h3.34v3.56h-3.34zM233.37 557.16h3.34v3.56h-3.34zM233.37 534.41h3.34v3.55h-3.34zM233.37 528.72h3.34v3.56h-3.34zM233.37 497.44h3.34v3.56h-3.34zM233.37 494.59h3.34v3.56h-3.34zM233.37 491.75h3.34v3.56h-3.34zM236.42 676.61h3.34v3.56h-3.34zM236.42 673.77h3.34v3.55h-3.34zM236.42 670.92h3.34v3.56h-3.34zM236.42 668.08h3.34v3.55h-3.34zM236.42 656.70h3.34v3.56h-3.34zM236.42 591.29h3.34v3.55h-3.34zM236.42 560.01h3.34v3.55h-3.34zM236.42 531.57h3.34v3.56h-3.34zM236.42 520.19h3.34v3.56h-3.34zM236.42 505.97h3.34v3.56h-3.34zM239.46 687.99h3.34v0.01h-3.34zM239.46 685.14h3.34v2.86h-3.34zM239.46 682.30h3.34v3.56h-3.34zM239.46 670.92h3.34v3.56h-3.34zM239.46 628.26h3.34v3.55h-3.34zM239.46 579.91h3.34v3.56h-3.34zM239.46 577.07h3.34v3.55h-3.34zM239.46 565.69h3.34v3.55h-3.34zM239.46 557.16h3.34v3.56h-3.34zM239.46 551.47h3.34v3.55h-3.34zM239.46 534.41h3.34v3.55h-3.34zM242.50 668.08h3.34v3.55h-3.34zM242.50 645.33h3.34v3.56h-3.34zM242.50 585.60h3.34v3.55h-3.34zM242.50 577.07h3.34v3.55h-3.34zM242.50 554.32h3.34v3.56h-3.34zM242.50 548.63h3.34v3.55h-3.34zM242.50 537.25h3.34v3.56h-3.34zM242.50 531.57h3.34v3.56h-3.34zM242.50 514.50h3.34v3.55h-3.34zM242.50 491.75h3.34v3.56h-3.34zM242.50 488.91h3.34v3.55h-3.34zM242.50 486.06h3.34v3.56h-3.34zM242.50 483.22h3.34v3.55h-3.34zM245.55 687.99h3.34v0.01h-3.34zM245.55 685.14h3.34v2.86h-3.34zM245.55 682.30h3.34v3.56h-3.34zM245.55 670.92h3.34v3.56h-3.34zM245.55 668.08h3.34v3.55h-3.34zM245.55 665.23h3.34v3.56h-3.34zM245.55 648.17h3.34v3.55h-3.34zM245.55 577.07h3.34v3.55h-3.34zM245.55 571.38h3.34v3.55h-3.34zM245.55 497.44h3.34v3.56h-3.34zM248.59 679.45h3.34v3.55h-3.34zM248.59 659.55h3.34v3.55h-3.34zM248.59 645.33h3.34v3.56h-3.34zM248.59 636.79h3.34v3.55h-3.34zM248.59 571.38h3.34v3.55h-3.34zM248.59 557.16h3.34v3.56h-3.34zM251.63 679.45h3.34v3.55h-3.34zM251.63 648.17h3.34v3.55h-3.34zM251.63 571.38h3.34v3.55h-3.34zM251.63 568.54h3.34v3.56h-3.34zM251.63 565.69h3.34v3.55h-3.34zM251.63 562.85h3.34v3.56h-3.34zM251.63 528.72h3.34v3.56h-3.34zM251.63 505.97h3.34v3.56h-3.34zM251.63 480.37h3.34v3.56h-3.34zM251.63 477.53h3.34v3.55h-3.34zM251.63 474.69h3.34v3.56h-3.34zM254.67 673.77h3.34v3.55h-3.34zM254.67 656.70h3.34v3.56h-3.34zM254.67 645.33h3.34v3.56h-3.34zM254.67 631.11h3.34v3.56h-3.34zM254.67 574.23h3.34v3.56h-3.34zM254.67 571.38h3.34v3.55h-3.34zM254.67 568.54h3.34v3.56h-3.34zM254.67 562.85h3.34v3.56h-3.34zM254.67 560.01h3.34v3.55h-3.34zM254.67 520.19h3.34v3.56h-3.34zM254.67 486.06h3.34v3.56h-3.34zM257.72 676.61h3.34v3.56h-3.34zM257.72 665.23h3.34v3.56h-3.34zM257.72 659.55h3.34v3.55h-3.34zM257.72 656.70h3.34v3.56h-3.34zM257.72 639.64h3.34v3.56h-3.34zM257.72 636.79h3.34v3.55h-3.34zM257.72 628.26h3.34v3.55h-3.34zM257.72 588.45h3.34v3.56h-3.34zM257.72 557.16h3.34v3.56h-3.34zM257.72 517.35h3.34v3.56h-3.34zM257.72 511.66h3.34v3.56h-3.34zM257.72 505.97h3.34v3.56h-3.34zM257.72 500.28h3.34v3.56h-3.34zM260.76 670.92h3.34v3.56h-3.34zM260.76 648.17h3.34v3.55h-3.34zM260.76 574.23h3.34v3.56h-3.34zM260.76 554.32h3.34v3.56h-3.34zM260.76 542.94h3.34v3.56h-3.34zM260.76 537.25h3.34v3.56h-3.34zM263.80 670.92h3.34v3.56h-3.34zM263.80 659.55h3.34v3.55h-3.34zM263.80 648.17h3.34v3.55h-3.34zM263.80 628.26h3.34v3.55h-3.34zM263.80 571.38h3.34v3.55h-3.34zM263.80 545.79h3.34v3.55h-3.34zM263.80 528.72h3.34v3.56h-3.34zM263.80 494.59h3.34v3.56h-3.34zM263.80 469.00h3.34v3.56h-3.34zM263.80 466.15h3.34v3.56h-3.34zM263.80 463.31h3.34v3.56h-3.34zM266.85 676.61h3.34v3.56h-3.34zM266.85 673.77h3.34v3.55h-3.34zM266.85 670.92h3.34v3.56h-3.34zM266.85 656.70h3.34v3.56h-3.34zM266.85 503.13h3.34v3.55h-3.34zM266.85 497.44h3.34v3.56h-3.34zM266.85 466.15h3.34v3.56h-3.34zM266.85 463.31h3.34v3.56h-3.34zM266.85 460.47h3.34v3.56h-3.34zM269.89 648.17h3.34v3.55h-3.34zM269.89 574.23h3.34v3.56h-3.34zM269.89 568.54h3.34v3.56h-3.34zM269.89 557.16h3.34v3.56h-3.34zM269.89 551.47h3.34v3.55h-3.34zM269.89 548.63h3.34v3.55h-3.34zM269.89 545.79h3.34v3.55h-3.34zM269.89 528.72h3.34v3.56h-3.34zM269.89 523.03h3.34v3.55h-3.34zM269.89 500.28h3.34v3.56h-3.34zM272.93 645.33h3.34v3.56h-3.34zM272.93 525.88h3.34v3.55h-3.34zM272.93 503.13h3.34v3.55h-3.34zM272.93 497.44h3.34v3.56h-3.34zM272.93 469.00h3.34v3.56h-3.34zM275.98 656.70h3.34v3.56h-3.34zM275.98 648.17h3.34v3.55h-3.34zM275.98 639.64h3.34v3.56h-3.34zM275.98 585.60h3.34v3.55h-3.34zM275.98 579.91h3.34v3.56h-3.34zM275.98 574.23h3.34v3.56h-3.34zM275.98 562.85h3.34v3.56h-3.34zM275.98 545.79h3.34v3.55h-3.34zM275.98 534.41h3.34v3.55h-3.34zM275.98 505.97h3.34v3.56h-3.34zM275.98 494.59h3.34v3.56h-3.34zM275.98 488.91h3.34v3.55h-3.34zM275.98 483.22h3.34v3.55h-3.34zM279.02 636.79h3.34v3.55h-3.34zM279.02 585.60h3.34v3.55h-3.34zM279.02 545.79h3.34v3.55h-3.34zM279.02 542.94h3.34v3.56h-3.34zM279.02 525.88h3.34v3.55h-3.34zM279.02 520.19h3.34v3.56h-3.34zM279.02 514.50h3.34v3.55h-3.34zM279.02 503.13h3.34v3.55h-3.34zM279.02 463.31h3.34v3.56h-3.34zM282.06 653.86h3.34v3.55h-3.34zM282.06 582.76h3.34v3.56h-3.34zM282.06 577.07h3.34v3.55h-3.34zM282.06 560.01h3.34v3.55h-3.34zM282.06 542.94h3.34v3.56h-3.34zM282.06 523.03h3.34v3.55h-3.34zM282.06 494.59h3.34v3.56h-3.34zM282.06 488.91h3.34v3.55h-3.34zM282.06 477.53h3.34v3.55h-3.34zM285.10 636.79h3.34v3.55h-3.34zM285.10 577.07h3.34v3.55h-3.34zM285.10 574.23h3.34v3.56h-3.34zM285.10 557.16h3.34v3.56h-3.34zM285.10 554.32h3.34v3.56h-3.34zM285.10 525.88h3.34v3.55h-3.34zM285.10 520.19h3.34v3.56h-3.34zM285.10 514.50h3.34v3.55h-3.34zM285.10 508.81h3.34v3.55h-3.34zM285.10 497.44h3.34v3.56h-3.34zM285.10 480.37h3.34v3.56h-3.34zM288.15 645.33h3.34v3.56h-3.34zM288.15 639.64h3.34v3.56h-3.34zM288.15 633.95h3.34v3.56h-3.34zM288.15 582.76h3.34v3.56h-3.34zM288.15 562.85h3.34v3.56h-3.34zM288.15 557.16h3.34v3.56h-3.34zM288.15 531.57h3.34v3.56h-3.34zM288.15 471.84h3.34v3.56h-3.34zM291.19 565.69h3.34v3.55h-3.34zM291.19 525.88h3.34v3.55h-3.34zM291.19 474.69h3.34v3.56h-3.34zM294.23 628.26h3.34v3.55h-3.34zM294.23 588.45h3.34v3.56h-3.34zM294.23 574.23h3.34v3.56h-3.34zM294.23 545.79h3.34v3.55h-3.34zM294.23 477.53h3.34v3.55h-3.34zM297.28 625.42h3.34v3.56h-3.34zM297.28 582.76h3.34v3.56h-3.34zM297.28 577.07h3.34v3.55h-3.34zM297.28 491.75h3.34v3.56h-3.34zM297.28 480.37h3.34v3.56h-3.34zM297.28 469.00h3.34v3.56h-3.34zM297.28 457.62h3.34v3.55h-3.34zM300.32 568.54h3.34v3.56h-3.34zM300.32 545.79h3.34v3.55h-3.34zM300.32 540.10h3.34v3.55h-3.34zM300.32 528.72h3.34v3.56h-3.34zM300.32 505.97h3.34v3.56h-3.34zM303.36 582.76h3.34v3.56h-3.34zM303.36 446.25h3.34v3.55h-3.34zM306.41 622.57h3.34v3.55h-3.34zM306.41 616.89h3.34v3.55h-3.34z"/>
<path fill="#977ea2" d="M44.71 676.61h3.34v3.56h-3.34zM44.71 673.77h3.34v3.55h-3.34zM44.71 670.92h3.34v3.56h-3.34zM44.71 668.08h3.34v3.55h-3.34zM47.75 673.77h3.34v3.55h-3.34zM47.75 670.92h3.34v3.56h-3.34zM47.75 668.08h3.34v3.55h-3.34zM47.75 665.23h3.34v3.56h-3.34zM50.79 687.99h3.34v0.01h-3.34zM50.79 685.14h3.34v2.86h-3.34zM50.79 682.30h3.34v3.56h-3.34zM50.79 668.08h3.34v3.55h-3.34zM50.79 665.23h3.34v3.56h-3.34zM50.79 662.39h3.34v3.55h-3.34zM59.92 668.08h3.34v3.55h-3.34zM62.97 656.70h3.34v3.56h-3.34zM62.97 653.86h3.34v3.55h-3.34zM62.97 651.01h3.34v3.56h-3.34zM66.01 670.92h3.34v3.56h-3.34zM69.05 651.01h3.34v3.56h-3.34zM69.05 648.17h3.34v3.55h-3.34zM69.05 645.33h3.34v3.56h-3.34zM72.09 673.77h3.34v3.55h-3.34zM75.14 687.99h3.34v0.01h-3.34zM75.14 685.14h3.34v2.86h-3.34zM75.14 682.30h3.34v3.56h-3.34zM81.22 679.45h3.34v3.55h-3.34zM81.22 670.92h3.34v3.56h-3.34zM81.22 648.17h3.34v3.55h-3.34zM84.27 687.99h3.34v0.01h-3.34zM84.27 685.14h3.34v2.86h-3.34zM84.27 682.30h3.34v3.56h-3.34zM84.27 679.45h3.34v3.55h-3.34zM84.27 639.64h3.34v3.56h-3.34zM87.31 687.99h3.34v0.01h-3.34zM87.31 685.14h3.34v2.86h-3.34zM87.31 682.30h3.34v3.56h-3.34zM87.31 679.45h3.34v3.55h-3.34zM87.31 670.92h3.34v3.56h-3.34zM90.35 668.08h3.34v3.55h-3.34zM90.35 645.33h3.34v3.56h-3.34zM90.35 639.64h3.34v3.56h-3.34zM90.35 633.95h3.34v3.56h-3.34zM96.44 687.99h3.34v0.01h-3.34zM96.44 685.14h3.34v2.86h-3.34zM96.44 682.30h3.34v3.56h-3.34zM96.44 642.48h3.34v3.55h-3.34zM99.48 670.92h3.34v3.56h-3.34zM99.48 659.55h3.34v3.55h-3.34zM99.48 653.86h3.34v3.55h-3.34zM99.48 628.26h3.34v3.55h-3.34zM102.52 628.26h3.34v3.55h-3.34zM105.57 642.48h3.34v3.55h-3.34zM108.61 662.39h3.34v3.55h-3.34zM108.61 659.55h3.34v3.55h-3.34zM108.61 619.73h3.34v3.56h-3.34zM111.65 659.55h3.34v3.55h-3.34zM111.65 648.17h3.34v3.55h-3.34zM111.65 619.73h3.34v3.56h-3.34zM114.70 687.99h3.34v0.01h-3.34zM114.70 685.14h3.34v2.86h-3.34zM114.70 682.30h3.34v3.56h-3.34zM114.70 631.11h3.34v3.56h-3.34zM114.70 619.73h3.34v3.56h-3.34zM117.74 687.99h3.34v0.01h-3.34zM117.74 685.14h3.34v2.86h-3.34zM117.74 682.30h3.34v3.56h-3.34zM117.74 653.86h3.34v3.55h-3.34zM117.74 648.17h3.34v3.55h-3.34zM117.74 616.89h3.34v3.55h-3.34zM120.78 679.45h3.34v3.55h-3.34zM120.78 676.61h3.34v3.56h-3.34zM120.78 673.77h3.34v3.55h-3.34zM120.78 653.86h3.34v3.55h-3.34zM120.78 642.48h3.34v3.55h-3.34zM120.78 614.04h3.34v3.56h-3.34zM120.78 608.35h3.34v3.56h-3.34zM123.83 679.45h3.34v3.55h-3.34zM123.83 676.61h3.34v3.56h-3.34zM123.83 670.92h3.34v3.56h-3.34zM123.83 645.33h3.34v3.56h-3.34zM123.83 616.89h3.34v3.55h-3.34zM123.83 611.20h3.34v3.55h-3.34zM129.91 653.86h3.34v3.55h-3.34zM129.91 639.64h3.34v3.56h-3.34zM129.91 611.20h3.34v3.55h-3.34zM132.95 679.45h3.34v3.55h-3.34zM132.95 668.08h3.34v3.55h-3.34zM132.95 662.39h3.34v3.55h-3.34zM132.95 636.79h3.34v3.55h-3.34zM136.00 679.45h3.34v3.55h-3.34zM136.00 668.08h3.34v3.55h-3.34zM136.00 636.79h3.34v3.55h-3.34zM136.00 605.51h3.34v3.55h-3.34zM139.04 676.61h3.34v3.56h-3.34zM139.04 665.23h3.34v3.56h-3.34zM139.04 662.39h3.34v3.55h-3.34zM139.04 656.70h3.34v3.56h-3.34zM139.04 651.01h3.34v3.56h-3.34zM139.04 619.73h3.34v3.56h-3.34zM139.04 614.04h3.34v3.56h-3.34zM142.08 676.61h3.34v3.56h-3.34zM142.08 673.77h3.34v3.55h-3.34zM142.08 665.23h3.34v3.56h-3.34zM142.08 659.55h3.34v3.55h-3.34zM142.08 648.17h3.34v3.55h-3.34zM142.08 588.45h3.34v3.56h-3.34zM145.13 687.99h3.34v0.01h-3.34zM145.13 685.14h3.34v2.86h-3.34zM145.13 682.30h3.34v3.56h-3.34zM145.13 673.77h3.34v3.55h-3.34zM145.13 662.39h3.34v3.55h-3.34zM145.13 659.55h3.34v3.55h-3.34zM145.13 639.64h3.34v3.56h-3.34zM145.13 619.73h3.34v3.56h-3.34zM145.13 614.04h3.34v3.56h-3.34zM145.13 596.98h3.34v3.55h-3.34zM148.17 679.45h3.34v3.55h-3.34zM148.17 665.23h3.34v3.56h-3.34zM148.17 651.01h3.34v3.56h-3.34zM148.17 594.13h3.34v3.56h-3.34zM151.21 687.99h3.34v0.01h-3.34zM151.21 685.14h3.34v2.86h-3.34zM151.21 682.30h3.34v3.56h-3.34zM151.21 653.86h3.34v3.55h-3.34zM151.21 645.33h3.34v3.56h-3.34zM151.21 631.11h3.34v3.56h-3.34zM151.21 579.91h3.34v3.56h-3.34zM151.21 574.23h3.34v3.56h-3.34zM151.21 571.38h3.34v3.55h-3.34zM151.21 568.54h3.34v3.56h-3.34zM154.26 687.99h3.34v0.01h-3.34zM154.26 685.14h3.34v2.86h-3.34zM154.26 682.30h3.34v3.56h-3.34zM154.26 665.23h3.34v3.56h-3.34zM154.26 656.70h3.34v3.56h-3.34zM154.26 653.86h3.34v3.55h-3.34zM154.26 648.17h3.34v3.55h-3.34zM154.26 636.79h3.34v3.55h-3.34zM154.26 594.13h3.34v3.56h-3.34zM160.34 656.70h3.34v3.56h-3.34zM160.34 653.86h3.34v3.55h-3.34zM160.34 639.64h3.34v3.56h-3.34zM160.34 622.57h3.34v3.55h-3.34zM160.34 568.54h3.34v3.56h-3.34zM163.38 679.45h3.34v3.55h-3.34zM163.38 648.17h3.34v3.55h-3.34zM163.38 619.73h3.34v3.56h-3.34zM166.43 687.99h3.34v0.01h-3.34zM166.43 685.14h3.34v2.86h-3.34zM166.43 682.30h3.34v3.56h-3.34zM166.43 668.08h3.34v3.55h-3.34zM166.43 662.39h3.34v3.55h-3.34zM166.43 636.79h3.34v3.55h-3.34zM166.43 622.57h3.34v3.55h-3.34zM169.47 668.08h3.34v3.55h-3.34zM169.47 648.17h3.34v3.55h-3.34zM169.47 591.29h3.34v3.55h-3.34zM169.47 565.69h3.34v3.55h-3.34zM172.51 645.33h3.34v3.56h-3.34zM172.51 562.85h3.34v3.56h-3.34zM175.56 653.86h3.34v3.55h-3.34zM175.56 636.79h3.34v3.55h-3.34zM175.56 591.29h3.34v3.55h-3.34zM175.56 560.01h3.34v3.55h-3.34zM178.60 679.45h3.34v3.55h-3.34zM178.60 676.61h3.34v3.56h-3.34zM178.60 642.48h3.34v3.55h-3.34zM178.60 628.26h3.34v3.55h-3.34zM178.60 560.01h3.34v3.55h-3.34zM178.60 551.47h3.34v3.55h-3.34zM181.64 633.95h3.34v3.56h-3.34zM181.64 596.98h3.34v3.55h-3.34zM181.64 591.29h3.34v3.55h-3.34zM181.64 577.07h3.34v3.55h-3.34zM181.64 571.38h3.34v3.55h-3.34zM184.69 687.99h3.34v0.01h-3.34zM184.69 685.14h3.34v2.86h-3.34zM184.69 682.30h3.34v3.56h-3.34zM184.69 679.45h3.34v3.55h-3.34zM184.69 579.91h3.34v3.56h-3.34zM184.69 574.23h3.34v3.56h-3.34zM184.69 568.54h3.34v3.56h-3.34zM184.69 545.79h3.34v3.55h-3.34zM187.73 562.85h3.34v3.56h-3.34zM187.73 540.10h3.34v3.55h-3.34zM187.73 537.25h3.34v3.56h-3.34zM187.73 534.41h3.34v3.55h-3.34zM190.77 687.99h3.34v0.01h-3.34zM190.77 685.14h3.34v2.86h-3.34zM190.77 682.30h3.34v3.56h-3.34zM190.77 668.08h3.34v3.55h-3.34zM190.77 648.17h3.34v3.55h-3.34zM190.77 582.76h3.34v3.56h-3.34zM190.77 560.01h3.34v3.55h-3.34zM193.81 676.61h3.34v3.56h-3.34zM193.81 673.77h3.34v3.55h-3.34zM193.81 665.23h3.34v3.56h-3.34zM193.81 651.01h3.34v3.56h-3.34zM193.81 631.11h3.34v3.56h-3.34zM193.81 596.98h3.34v3.55h-3.34zM193.81 585.60h3.34v3.55h-3.34zM193.81 537.25h3.34v3.56h-3.34zM196.86 679.45h3.34v3.55h-3.34zM196.86 633.95h3.34v3.56h-3.34zM196.86 588.45h3.34v3.56h-3.34zM196.86 582.76h3.34v3.56h-3.34zM199.90 670.92h3.34v3.56h-3.34zM199.90 651.01h3.34v3.56h-3.34zM199.90 531.57h3.34v3.56h-3.34zM202.94 665.23h3.34v3.56h-3.34zM202.94 588.45h3.34v3.56h-3.34zM205.99 668.08h3.34v3.55h-3.34zM205.99 653.86h3.34v3.55h-3.34zM205.99 645.33h3.34v3.56h-3.34zM205.99 631.11h3.34v3.56h-3.34zM205.99 582.76h3.34v3.56h-3.34zM209.03 679.45h3.34v3.55h-3.34zM209.03 665.23h3.34v3.56h-3.34zM209.03 659.55h3.34v3.55h-3.34zM209.03 651.01h3.34v3.56h-3.34zM209.03 642.48h3.34v3.55h-3.34zM209.03 594.13h3.34v3.56h-3.34zM209.03 551.47h3.34v3.55h-3.34zM209.03 545.79h3.34v3.55h-3.34zM209.03 540.10h3.34v3.55h-3.34zM212.07 662.39h3.34v3.55h-3.34zM212.07 659.55h3.34v3.55h-3.34zM212.07 591.29h3.34v3.55h-3.34zM212.07 577.07h3.34v3.55h-3.34zM212.07 565.69h3.34v3.55h-3.34zM215.12 676.61h3.34v3.56h-3.34zM215.12 670.92h3.34v3.56h-3.34zM215.12 665.23h3.34v3.56h-3.34zM215.12 659.55h3.34v3.55h-3.34zM215.12 645.33h3.34v3.56h-3.34zM215.12 579.91h3.34v3.56h-3.34zM215.12 540.10h3.34v3.55h-3.34zM218.16 679.45h3.34v3.55h-3.34zM218.16 579.91h3.34v3.56h-3.34zM218.16 542.94h3.34v3.56h-3.34zM221.20 687.99h3.34v0.01h-3.34zM221.20 685.14h3.34v2.86h-3.34zM221.20 682.30h3.34v3.56h-3.34zM221.20 665.23h3.34v3.56h-3.34zM221.20 622.57h3.34v3.55h-3.34zM224.24 662.39h3.34v3.55h-3.34zM224.24 585.60h3.34v3.55h-3.34zM224.24 531.57h3.34v3.56h-3.34zM224.24 528.72h3.34v3.56h-3.34zM227.29 645.33h3.34v3.56h-3.34zM227.29 628.26h3.34v3.55h-3.34zM227.29 616.89h3.34v3.55h-3.34zM227.29 562.85h3.34v3.56h-3.34zM230.33 656.70h3.34v3.56h-3.34zM230.33 639.64h3.34v3.56h-3.34zM233.37 687.99h3.34v0.01h-3.34zM233.37 685.14h3.34v2.86h-3.34zM233.37 682.30h3.34v3.56h-3.34zM233.37 670.92h3.34v3.56h-3.34zM233.37 642.48h3.34v3.55h-3.34zM233.37 633.95h3.34v3.56h-3.34zM233.37 574.23h3.34v3.56h-3.34zM233.37 540.10h3.34v3.55h-3.34zM233.37 505.97h3.34v3.56h-3.34zM236.42 679.45h3.34v3.55h-3.34zM236.42 631.11h3.34v3.56h-3.34zM236.42 571.38h3.34v3.55h-3.34zM236.42 548.63h3.34v3.55h-3.34zM236.42 537.25h3.34v3.56h-3.34zM236.42 525.88h3.34v3.55h-3.34zM239.46 676.61h3.34v3.56h-3.34zM239.46 665.23h3.34v3.56h-3.34zM239.46 639.64h3.34v3.56h-3.34zM239.46 633.95h3.34v3.56h-3.34zM239.46 568.54h3.34v3.56h-3.34zM239.46 562.85h3.34v3.56h-3.34zM239.46 523.03h3.34v3.55h-3.34zM239.46 517.35h3.34v3.56h-3.34zM239.46 494.59h3.34v3.56h-3.34zM242.50 651.01h3.34v3.56h-3.34zM242.50 633.95h3.34v3.56h-3.34zM242.50 574.23h3.34v3.56h-3.34zM242.50 571.38h3.34v3.55h-3.34zM242.50 508.81h3.34v3.55h-3.34zM245.55 579.91h3.34v3.56h-3.34zM245.55 557.16h3.34v3.56h-3.34zM245.55 523.03h3.34v3.55h-3.34zM245.55 517.35h3.34v3.56h-3.34zM245.55 494.59h3.34v3.56h-3.34zM248.59 687.99h3.34v0.01h-3.34zM248.59 685.14h3.34v2.86h-3.34zM248.59 682.30h3.34v3.56h-3.34zM248.59 656.70h3.34v3.56h-3.34zM248.59 568.54h3.34v3.56h-3.34zM248.59 542.94h3.34v3.56h-3.34zM248.59 531.57h3.34v3.56h-3.34zM248.59 525.88h3.34v3.55h-3.34zM248.59 520.19h3.34v3.56h-3.34zM248.59 514.50h3.34v3.55h-3.34zM251.63 665.23h3.34v3.56h-3.34zM251.63 653.86h3.34v3.55h-3.34zM251.63 574.23h3.34v3.56h-3.34zM251.63 545.79h3.34v3.55h-3.34zM251.63 540.10h3.34v3.55h-3.34zM251.63 534.41h3.34v3.55h-3.34zM251.63 525.88h3.34v3.55h-3.34zM251.63 514.50h3.34v3.55h-3.34zM251.63 511.66h3.34v3.56h-3.34zM251.63 508.81h3.34v3.55h-3.34zM251.63 483.22h3.34v3.55h-3.34zM254.67 662.39h3.34v3.55h-3.34zM254.67 639.64h3.34v3.56h-3.34zM257.72 648.17h3.34v3.55h-3.34zM257.72 577.07h3.34v3.55h-3.34zM257.72 574.23h3.34v3.56h-3.34zM257.72 528.72h3.34v3.56h-3.34zM260.76 656.70h3.34v3.56h-3.34zM260.76 625.42h3.34v3.56h-3.34zM260.76 591.29h3.34v3.55h-3.34zM260.76 531.57h3.34v3.56h-3.34zM263.80 665.23h3.34v3.56h-3.34zM263.80 653.86h3.34v3.55h-3.34zM263.80 636.79h3.34v3.55h-3.34zM263.80 633.95h3.34v3.56h-3.34zM263.80 577.07h3.34v3.55h-3.34zM263.80 562.85h3.34v3.56h-3.34zM263.80 557.16h3.34v3.56h-3.34zM263.80 534.41h3.34v3.55h-3.34zM263.80 500.28h3.34v3.56h-3.34zM266.85 651.01h3.34v3.56h-3.34zM266.85 639.64h3.34v3.56h-3.34zM266.85 631.11h3.34v3.56h-3.34zM266.85 625.42h3.34v3.56h-3.34zM266.85 585.60h3.34v3.55h-3.34zM266.85 520.19h3.34v3.56h-3.34zM266.85 508.81h3.34v3.55h-3.34zM266.85 469.00h3.34v3.56h-3.34zM269.89 642.48h3.34v3.55h-3.34zM269.89 628.26h3.34v3.55h-3.34zM269.89 579.91h3.34v3.56h-3.34zM269.89 562.85h3.34v3.56h-3.34zM269.89 494.59h3.34v3.56h-3.34zM269.89 488.91h3.34v3.55h-3.34zM269.89 471.84h3.34v3.56h-3.34zM269.89 466.15h3.34v3.56h-3.34zM272.93 656.70h3.34v3.56h-3.34zM272.93 651.01h3.34v3.56h-3.34zM272.93 636.79h3.34v3.55h-3.34zM272.93 633.95h3.34v3.56h-3.34zM272.93 588.45h3.34v3.56h-3.34zM272.93 571.38h3.34v3.55h-3.34zM272.93 486.06h3.34v3.56h-3.34zM275.98 631.11h3.34v3.56h-3.34zM275.98 628.26h3.34v3.55h-3.34zM275.98 568.54h3.34v3.56h-3.34zM275.98 557.16h3.34v3.56h-3.34zM275.98 500.28h3.34v3.56h-3.34zM279.02 651.01h3.34v3.56h-3.34zM279.02 648.17h3.34v3.55h-3.34zM279.02 577.07h3.34v3.55h-3.34zM279.02 560.01h3.34v3.55h-3.34zM279.02 548.63h3.34v3.55h-3.34zM279.02 508.81h3.34v3.55h-3.34zM282.06 648.17h3.34v3.55h-3.34zM282.06 588.45h3.34v3.56h-3.34zM282.06 579.91h3.34v3.56h-3.34zM282.06 551.47h3.34v3.55h-3.34zM282.06 511.66h3.34v3.56h-3.34zM282.06 505.97h3.34v3.56h-3.34zM282.06 483.22h3.34v3.55h-3.34zM282.06 454.78h3.34v3.56h-3.34zM285.10 633.95h3.34v3.56h-3.34zM285.10 571.38h3.34v3.55h-3.34zM285.10 565.69h3.34v3.55h-3.34zM285.10 560.01h3.34v3.55h-3.34zM285.10 548.63h3.34v3.55h-3.34zM285.10 491.75h3.34v3.56h-3.34zM288.15 642.48h3.34v3.55h-3.34zM288.15 588.45h3.34v3.56h-3.34zM288.15 511.66h3.34v3.56h-3.34zM288.15 483.22h3.34v3.55h-3.34zM288.15 477.53h3.34v3.55h-3.34zM291.19 639.64h3.34v3.56h-3.34zM291.19 585.60h3.34v3.55h-3.34zM291.19 582.76h3.34v3.56h-3.34zM291.19 503.13h3.34v3.55h-3.34zM291.19 497.44h3.34v3.56h-3.34zM291.19 491.75h3.34v3.56h-3.34zM291.19 463.31h3.34v3.56h-3.34zM294.23 639.64h3.34v3.56h-3.34zM294.23 636.79h3.34v3.55h-3.34zM294.23 540.10h3.34v3.55h-3.34zM294.23 494.59h3.34v3.56h-3.34zM294.23 471.84h3.34v3.56h-3.34zM294.23 446.25h3.34v3.55h-3.34zM297.28 639.64h3.34v3.56h-3.34zM297.28 636.79h3.34v3.55h-3.34zM300.32 636.79h3.34v3.55h-3.34zM300.32 628.26h3.34v3.55h-3.34zM300.32 622.57h3.34v3.55h-3.34zM300.32 585.60h3.34v3.55h-3.34zM300.32 525.88h3.34v3.55h-3.34zM300.32 488.91h3.34v3.55h-3.34zM303.36 628.26h3.34v3.55h-3.34zM303.36 625.42h3.34v3.56h-3.34zM303.36 591.29h3.34v3.55h-3.34z"/>
<path fill="#91789d" d="M44.71 687.99h3.34v0.01h-3.34zM44.71 685.14h3.34v2.86h-3.34zM44.71 682.30h3.34v3.56h-3.34zM53.84 679.45h3.34v3.55h-3.34zM53.84 668.08h3.34v3.55h-3.34zM53.84 665.23h3.34v3.56h-3.34zM53.84 662.39h3.34v3.55h-3.34zM53.84 659.55h3.34v3.55h-3.34zM56.88 676.61h3.34v3.56h-3.34zM59.92 659.55h3.34v3.55h-3.34zM59.92 656.70h3.34v3.56h-3.34zM59.92 653.86h3.34v3.55h-3.34zM62.97 687.99h3.34v0.01h-3.34zM62.97 685.14h3.34v2.86h-3.34zM62.97 682.30h3.34v3.56h-3.34zM62.97 659.55h3.34v3.55h-3.34zM66.01 665.23h3.34v3.56h-3.34zM69.05 673.77h3.34v3.55h-3.34zM69.05 662.39h3.34v3.55h-3.34zM69.05 659.55h3.34v3.55h-3.34zM72.09 648.17h3.34v3.55h-3.34zM72.09 645.33h3.34v3.56h-3.34zM72.09 642.48h3.34v3.55h-3.34zM75.14 676.61h3.34v3.56h-3.34zM75.14 670.92h3.34v3.56h-3.34zM75.14 648.17h3.34v3.55h-3.34zM78.18 673.77h3.34v3.55h-3.34zM78.18 651.01h3.34v3.56h-3.34zM81.22 687.99h3.34v0.01h-3.34zM81.22 685.14h3.34v2.86h-3.34zM81.22 682.30h3.34v3.56h-3.34zM81.22 665.23h3.34v3.56h-3.34zM81.22 653.86h3.34v3.55h-3.34zM81.22 639.64h3.34v3.56h-3.34zM81.22 636.79h3.34v3.55h-3.34zM81.22 633.95h3.34v3.56h-3.34zM84.27 662.39h3.34v3.55h-3.34zM84.27 636.79h3.34v3.55h-3.34zM84.27 633.95h3.34v3.56h-3.34zM84.27 631.11h3.34v3.56h-3.34zM87.31 676.61h3.34v3.56h-3.34zM87.31 659.55h3.34v3.55h-3.34zM87.31 636.79h3.34v3.55h-3.34zM87.31 633.95h3.34v3.56h-3.34zM87.31 631.11h3.34v3.56h-3.34zM87.31 628.26h3.34v3.55h-3.34zM93.40 659.55h3.34v3.55h-3.34zM93.40 631.11h3.34v3.56h-3.34zM96.44 665.23h3.34v3.56h-3.34zM99.48 687.99h3.34v0.01h-3.34zM99.48 685.14h3.34v2.86h-3.34zM99.48 682.30h3.34v3.56h-3.34zM99.48 636.79h3.34v3.55h-3.34zM102.52 668.08h3.34v3.55h-3.34zM102.52 656.70h3.34v3.56h-3.34zM102.52 645.33h3.34v3.56h-3.34zM102.52 622.57h3.34v3.55h-3.34zM105.57 676.61h3.34v3.56h-3.34zM105.57 665.23h3.34v3.56h-3.34zM105.57 625.42h3.34v3.56h-3.34zM108.61 651.01h3.34v3.56h-3.34zM108.61 614.04h3.34v3.56h-3.34zM108.61 611.20h3.34v3.55h-3.34zM108.61 608.35h3.34v3.56h-3.34zM111.65 687.99h3.34v0.01h-3.34zM111.65 685.14h3.34v2.86h-3.34zM111.65 682.30h3.34v3.56h-3.34zM111.65 676.61h3.34v3.56h-3.34zM114.70 656.70h3.34v3.56h-3.34zM114.70 645.33h3.34v3.56h-3.34zM117.74 665.23h3.34v3.56h-3.34zM117.74 631.11h3.34v3.56h-3.34zM117.74 611.20h3.34v3.55h-3.34zM120.78 668.08h3.34v3.55h-3.34zM120.78 651.01h3.34v3.56h-3.34zM120.78 639.64h3.34v3.56h-3.34zM120.78 633.95h3.34v3.56h-3.34zM123.83 687.99h3.34v0.01h-3.34zM123.83 685.14h3.34v2.86h-3.34zM123.83 682.30h3.34v3.56h-3.34zM123.83 665.23h3.34v3.56h-3.34zM129.91 665.23h3.34v3.56h-3.34zM129.91 659.55h3.34v3.55h-3.34zM129.91 636.79h3.34v3.55h-3.34zM132.95 676.61h3.34v3.56h-3.34zM132.95 673.77h3.34v3.55h-3.34zM132.95 651.01h3.34v3.56h-3.34zM132.95 642.48h3.34v3.55h-3.34zM132.95 639.64h3.34v3.56h-3.34zM132.95 633.95h3.34v3.56h-3.34zM132.95 631.11h3.34v3.56h-3.34zM132.95 614.04h3.34v3.56h-3.34zM132.95 608.35h3.34v3.56h-3.34zM132.95 596.98h3.34v3.55h-3.34zM136.00 670.92h3.34v3.56h-3.34zM136.00 659.55h3.34v3.55h-3.34zM136.00 648.17h3.34v3.55h-3.34zM136.00 628.26h3.34v3.55h-3.34zM136.00 616.89h3.34v3.55h-3.34zM139.04 679.45h3.34v3.55h-3.34zM139.04 633.95h3.34v3.56h-3.34zM142.08 628.26h3.34v3.55h-3.34zM142.08 599.82h3.34v3.55h-3.34zM142.08 594.13h3.34v3.56h-3.34zM145.13 665.23h3.34v3.56h-3.34zM145.13 591.29h3.34v3.55h-3.34zM145.13 582.76h3.34v3.56h-3.34zM148.17 676.61h3.34v3.56h-3.34zM148.17 668.08h3.34v3.55h-3.34zM148.17 662.39h3.34v3.55h-3.34zM148.17 653.86h3.34v3.55h-3.34zM148.17 648.17h3.34v3.55h-3.34zM148.17 622.57h3.34v3.55h-3.34zM148.17 616.89h3.34v3.55h-3.34zM148.17 579.91h3.34v3.56h-3.34zM151.21 676.61h3.34v3.56h-3.34zM151.21 619.73h3.34v3.56h-3.34zM151.21 596.98h3.34v3.55h-3.34zM151.21 591.29h3.34v3.55h-3.34zM151.21 585.60h3.34v3.55h-3.34zM151.21 582.76h3.34v3.56h-3.34zM154.26 622.57h3.34v3.55h-3.34zM160.34 676.61h3.34v3.56h-3.34zM160.34 670.92h3.34v3.56h-3.34zM160.34 668.08h3.34v3.55h-3.34zM160.34 648.17h3.34v3.55h-3.34zM160.34 636.79h3.34v3.55h-3.34zM160.34 631.11h3.34v3.56h-3.34zM160.34 577.07h3.34v3.55h-3.34zM163.38 653.86h3.34v3.55h-3.34zM163.38 651.01h3.34v3.56h-3.34zM163.38 645.33h3.34v3.56h-3.34zM163.38 633.95h3.34v3.56h-3.34zM163.38 628.26h3.34v3.55h-3.34zM163.38 574.23h3.34v3.56h-3.34zM163.38 562.85h3.34v3.56h-3.34zM163.38 560.01h3.34v3.55h-3.34zM163.38 557.16h3.34v3.56h-3.34zM166.43 665.23h3.34v3.56h-3.34zM166.43 639.64h3.34v3.56h-3.34zM166.43 594.13h3.34v3.56h-3.34zM166.43 571.38h3.34v3.55h-3.34zM166.43 568.54h3.34v3.56h-3.34zM169.47 665.23h3.34v3.56h-3.34zM169.47 642.48h3.34v3.55h-3.34zM169.47 639.64h3.34v3.56h-3.34zM169.47 631.11h3.34v3.56h-3.34zM169.47 568.54h3.34v3.56h-3.34zM172.51 679.45h3.34v3.55h-3.34zM172.51 670.92h3.34v3.56h-3.34zM172.51 656.70h3.34v3.56h-3.34zM172.51 642.48h3.34v3.55h-3.34zM172.51 616.89h3.34v3.55h-3.34zM172.51 565.69h3.34v3.55h-3.34zM172.51 557.16h3.34v3.56h-3.34zM175.56 687.99h3.34v0.01h-3.34zM175.56 685.14h3.34v2.86h-3.34zM175.56 682.30h3.34v3.56h-3.34zM175.56 662.39h3.34v3.55h-3.34zM175.56 645.33h3.34v3.56h-3.34zM175.56 633.95h3.34v3.56h-3.34zM175.56 619.73h3.34v3.56h-3.34zM175.56 577.07h3.34v3.55h-3.34zM175.56 554.32h3.34v3.56h-3.34zM178.60 673.77h3.34v3.55h-3.34zM178.60 659.55h3.34v3.55h-3.34zM178.60 633.95h3.34v3.56h-3.34zM178.60 605.51h3.34v3.55h-3.34zM178.60 599.82h3.34v3.55h-3.34zM178.60 548.63h3.34v3.55h-3.34zM178.60 545.79h3.34v3.55h-3.34zM178.60 542.94h3.34v3.56h-3.34zM181.64 668.08h3.34v3.55h-3.34zM181.64 636.79h3.34v3.55h-3.34zM181.64 582.76h3.34v3.56h-3.34zM181.64 554.32h3.34v3.56h-3.34zM184.69 631.11h3.34v3.56h-3.34zM184.69 628.26h3.34v3.55h-3.34zM184.69 599.82h3.34v3.55h-3.34zM184.69 585.60h3.34v3.55h-3.34zM187.73 668.08h3.34v3.55h-3.34zM187.73 579.91h3.34v3.56h-3.34zM187.73 548.63h3.34v3.55h-3.34zM190.77 659.55h3.34v3.55h-3.34zM190.77 645.33h3.34v3.56h-3.34zM190.77 639.64h3.34v3.56h-3.34zM190.77 616.89h3.34v3.55h-3.34zM190.77 605.51h3.34v3.55h-3.34zM190.77 594.13h3.34v3.56h-3.34zM190.77 568.54h3.34v3.56h-3.34zM193.81 679.45h3.34v3.55h-3.34zM193.81 656.70h3.34v3.56h-3.34zM193.81 645.33h3.34v3.56h-3.34zM193.81 642.48h3.34v3.55h-3.34zM193.81 625.42h3.34v3.56h-3.34zM193.81 602.67h3.34v3.55h-3.34zM193.81 577.07h3.34v3.55h-3.34zM193.81 571.38h3.34v3.55h-3.34zM193.81 554.32h3.34v3.56h-3.34zM196.86 676.61h3.34v3.56h-3.34zM196.86 659.55h3.34v3.55h-3.34zM196.86 653.86h3.34v3.55h-3.34zM196.86 642.48h3.34v3.55h-3.34zM196.86 599.82h3.34v3.55h-3.34zM196.86 594.13h3.34v3.56h-3.34zM196.86 579.91h3.34v3.56h-3.34zM196.86 574.23h3.34v3.56h-3.34zM196.86 562.85h3.34v3.56h-3.34zM196.86 557.16h3.34v3.56h-3.34zM199.90 668.08h3.34v3.55h-3.34zM199.90 645.33h3.34v3.56h-3.34zM199.90 596.98h3.34v3.55h-3.34zM199.90 577.07h3.34v3.55h-3.34zM199.90 571.38h3.34v3.55h-3.34zM199.90 565.69h3.34v3.55h-3.34zM199.90 560.01h3.34v3.55h-3.34zM202.94 648.17h3.34v3.55h-3.34zM202.94 628.26h3.34v3.55h-3.34zM202.94 622.57h3.34v3.55h-3.34zM202.94 594.13h3.34v3.56h-3.34zM202.94 574.23h3.34v3.56h-3.34zM202.94 562.85h3.34v3.56h-3.34zM205.99 679.45h3.34v3.55h-3.34zM205.99 673.77h3.34v3.55h-3.34zM205.99 633.95h3.34v3.56h-3.34zM205.99 591.29h3.34v3.55h-3.34zM205.99 571.38h3.34v3.55h-3.34zM205.99 565.69h3.34v3.55h-3.34zM205.99 560.01h3.34v3.55h-3.34zM205.99 548.63h3.34v3.55h-3.34zM209.03 676.61h3.34v3.56h-3.34zM209.03 636.79h3.34v3.55h-3.34zM209.03 631.11h3.34v3.56h-3.34zM209.03 622.57h3.34v3.55h-3.34zM212.07 668.08h3.34v3.55h-3.34zM212.07 642.48h3.34v3.55h-3.34zM212.07 639.64h3.34v3.56h-3.34zM212.07 588.45h3.34v3.56h-3.34zM212.07 582.76h3.34v3.56h-3.34zM212.07 560.01h3.34v3.55h-3.34zM212.07 554.32h3.34v3.56h-3.34zM212.07 548.63h3.34v3.55h-3.34zM212.07 542.94h3.34v3.56h-3.34zM212.07 537.25h3.34v3.56h-3.34zM215.12 636.79h3.34v3.55h-3.34zM215.12 594.13h3.34v3.56h-3.34zM215.12 588.45h3.34v3.56h-3.34zM215.12 585.60h3.34v3.55h-3.34zM215.12 574.23h3.34v3.56h-3.34zM215.12 545.79h3.34v3.55h-3.34zM218.16 571.38h3.34v3.55h-3.34zM218.16 560.01h3.34v3.55h-3.34zM218.16 537.25h3.34v3.56h-3.34zM218.16 511.66h3.34v3.56h-3.34zM218.16 508.81h3.34v3.55h-3.34zM218.16 505.97h3.34v3.56h-3.34zM221.20 639.64h3.34v3.56h-3.34zM221.20 636.79h3.34v3.55h-3.34zM221.20 633.95h3.34v3.56h-3.34zM221.20 594.13h3.34v3.56h-3.34zM221.20 588.45h3.34v3.56h-3.34zM221.20 574.23h3.34v3.56h-3.34zM221.20 568.54h3.34v3.56h-3.34zM221.20 562.85h3.34v3.56h-3.34zM221.20 557.16h3.34v3.56h-3.34zM224.24 619.73h3.34v3.56h-3.34zM224.24 588.45h3.34v3.56h-3.34zM224.24 574.23h3.34v3.56h-3.34zM224.24 565.69h3.34v3.55h-3.34zM224.24 548.63h3.34v3.55h-3.34zM227.29 687.99h3.34v0.01h-3.34zM227.29 685.14h3.34v2.86h-3.34zM227.29 682.30h3.34v3.56h-3.34zM227.29 659.55h3.34v3.55h-3.34zM227.29 653.86h3.34v3.55h-3.34zM227.29 642.48h3.34v3.55h-3.34zM227.29 631.11h3.34v3.56h-3.34zM227.29 588.45h3.34v3.56h-3.34zM227.29 585.60h3.34v3.55h-3.34zM227.29 579.91h3.34v3.56h-3.34zM227.29 545.79h3.34v3.55h-3.34zM230.33 651.01h3.34v3.56h-3.34zM230.33 645.33h3.34v3.56h-3.34zM230.33 628.26h3.34v3.55h-3.34zM230.33 625.42h3.34v3.56h-3.34zM230.33 571.38h3.34v3.55h-3.34zM230.33 565.69h3.34v3.55h-3.34zM230.33 554.32h3.34v3.56h-3.34zM230.33 537.25h3.34v3.56h-3.34zM233.37 676.61h3.34v3.56h-3.34zM233.37 628.26h3.34v3.55h-3.34zM233.37 585.60h3.34v3.55h-3.34zM233.37 582.76h3.34v3.56h-3.34zM233.37 562.85h3.34v3.56h-3.34zM233.37 545.79h3.34v3.55h-3.34zM233.37 517.35h3.34v3.56h-3.34zM236.42 636.79h3.34v3.55h-3.34zM236.42 625.42h3.34v3.56h-3.34zM236.42 622.57h3.34v3.55h-3.34zM236.42 608.35h3.34v3.56h-3.34zM239.46 648.17h3.34v3.55h-3.34zM239.46 636.79h3.34v3.55h-3.34zM239.46 582.76h3.34v3.56h-3.34zM239.46 574.23h3.34v3.56h-3.34zM239.46 545.79h3.34v3.55h-3.34zM239.46 540.10h3.34v3.55h-3.34zM239.46 511.66h3.34v3.56h-3.34zM242.50 636.79h3.34v3.55h-3.34zM242.50 591.29h3.34v3.55h-3.34zM242.50 520.19h3.34v3.56h-3.34zM245.55 642.48h3.34v3.55h-3.34zM245.55 574.23h3.34v3.56h-3.34zM245.55 511.66h3.34v3.56h-3.34zM248.59 662.39h3.34v3.55h-3.34zM248.59 651.01h3.34v3.56h-3.34zM248.59 639.64h3.34v3.56h-3.34zM248.59 577.07h3.34v3.55h-3.34zM248.59 574.23h3.34v3.56h-3.34zM248.59 565.69h3.34v3.55h-3.34zM248.59 560.01h3.34v3.55h-3.34zM248.59 508.81h3.34v3.55h-3.34zM248.59 503.13h3.34v3.55h-3.34zM248.59 486.06h3.34v3.56h-3.34zM251.63 628.26h3.34v3.55h-3.34zM251.63 582.76h3.34v3.56h-3.34zM251.63 579.91h3.34v3.56h-3.34zM251.63 554.32h3.34v3.56h-3.34zM251.63 523.03h3.34v3.55h-3.34zM254.67 668.08h3.34v3.55h-3.34zM254.67 633.95h3.34v3.56h-3.34zM254.67 591.29h3.34v3.55h-3.34zM254.67 585.60h3.34v3.55h-3.34zM254.67 531.57h3.34v3.56h-3.34zM254.67 525.88h3.34v3.55h-3.34zM254.67 508.81h3.34v3.55h-3.34zM254.67 497.44h3.34v3.56h-3.34zM257.72 653.86h3.34v3.55h-3.34zM257.72 594.13h3.34v3.56h-3.34zM260.76 662.39h3.34v3.55h-3.34zM260.76 651.01h3.34v3.56h-3.34zM260.76 645.33h3.34v3.56h-3.34zM260.76 639.64h3.34v3.56h-3.34zM260.76 633.95h3.34v3.56h-3.34zM260.76 577.07h3.34v3.55h-3.34zM260.76 503.13h3.34v3.55h-3.34zM260.76 497.44h3.34v3.56h-3.34zM263.80 642.48h3.34v3.55h-3.34zM263.80 631.11h3.34v3.56h-3.34zM263.80 588.45h3.34v3.56h-3.34zM263.80 574.23h3.34v3.56h-3.34zM263.80 568.54h3.34v3.56h-3.34zM263.80 523.03h3.34v3.55h-3.34zM266.85 633.95h3.34v3.56h-3.34zM266.85 628.26h3.34v3.55h-3.34zM266.85 619.73h3.34v3.56h-3.34zM266.85 582.76h3.34v3.56h-3.34zM266.85 577.07h3.34v3.55h-3.34zM266.85 488.91h3.34v3.55h-3.34zM266.85 486.06h3.34v3.56h-3.34zM269.89 656.70h3.34v3.56h-3.34zM269.89 636.79h3.34v3.55h-3.34zM269.89 622.57h3.34v3.55h-3.34zM269.89 588.45h3.34v3.56h-3.34zM269.89 585.60h3.34v3.55h-3.34zM269.89 505.97h3.34v3.56h-3.34zM269.89 483.22h3.34v3.55h-3.34zM272.93 565.69h3.34v3.55h-3.34zM272.93 560.01h3.34v3.55h-3.34zM272.93 480.37h3.34v3.56h-3.34zM272.93 471.84h3.34v3.56h-3.34zM275.98 642.48h3.34v3.55h-3.34zM275.98 625.42h3.34v3.56h-3.34zM279.02 565.69h3.34v3.55h-3.34zM279.02 497.44h3.34v3.56h-3.34zM279.02 480.37h3.34v3.56h-3.34zM282.06 636.79h3.34v3.55h-3.34zM282.06 633.95h3.34v3.56h-3.34zM282.06 622.57h3.34v3.55h-3.34zM282.06 574.23h3.34v3.56h-3.34zM282.06 568.54h3.34v3.56h-3.34zM282.06 562.85h3.34v3.56h-3.34zM282.06 557.16h3.34v3.56h-3.34zM282.06 517.35h3.34v3.56h-3.34zM282.06 500.28h3.34v3.56h-3.34zM285.10 631.11h3.34v3.56h-3.34zM285.10 585.60h3.34v3.55h-3.34zM285.10 503.13h3.34v3.55h-3.34zM285.10 486.06h3.34v3.56h-3.34zM288.15 636.79h3.34v3.55h-3.34zM288.15 631.11h3.34v3.56h-3.34zM288.15 599.82h3.34v3.55h-3.34zM288.15 585.60h3.34v3.55h-3.34zM288.15 551.47h3.34v3.55h-3.34zM288.15 488.91h3.34v3.55h-3.34zM288.15 466.15h3.34v3.56h-3.34zM291.19 628.26h3.34v3.55h-3.34zM291.19 591.29h3.34v3.55h-3.34zM291.19 588.45h3.34v3.56h-3.34zM291.19 577.07h3.34v3.55h-3.34zM291.19 531.57h3.34v3.56h-3.34zM291.19 457.62h3.34v3.55h-3.34zM294.23 585.60h3.34v3.55h-3.34zM294.23 454.78h3.34v3.56h-3.34zM300.32 633.95h3.34v3.56h-3.34zM303.36 631.11h3.34v3.56h-3.34zM303.36 588.45h3.34v3.56h-3.34zM306.41 625.42h3.34v3.56h-3.34zM306.41 596.98h3.34v3.55h-3.34z"/>
<path fill="#8b7198" d="M50.79 670.92h3.34v3.56h-3.34zM56.88 662.39h3.34v3.55h-3.34zM56.88 659.55h3.34v3.55h-3.34zM56.88 656.70h3.34v3.56h-3.34zM59.92 673.77h3.34v3.55h-3.34zM62.97 670.92h3.34v3.56h-3.34zM62.97 665.23h3.34v3.56h-3.34zM72.09 687.99h3.34v0.01h-3.34zM72.09 685.14h3.34v2.86h-3.34zM72.09 682.30h3.34v3.56h-3.34zM72.09 679.45h3.34v3.55h-3.34zM72.09 662.39h3.34v3.55h-3.34zM72.09 656.70h3.34v3.56h-3.34zM78.18 679.45h3.34v3.55h-3.34zM78.18 668.08h3.34v3.55h-3.34zM78.18 642.48h3.34v3.55h-3.34zM78.18 639.64h3.34v3.56h-3.34zM78.18 636.79h3.34v3.55h-3.34zM84.27 673.77h3.34v3.55h-3.34zM84.27 668.08h3.34v3.55h-3.34zM87.31 665.23h3.34v3.56h-3.34zM87.31 642.48h3.34v3.55h-3.34zM90.35 631.11h3.34v3.56h-3.34zM90.35 628.26h3.34v3.55h-3.34zM90.35 625.42h3.34v3.56h-3.34zM93.40 670.92h3.34v3.56h-3.34zM93.40 665.23h3.34v3.56h-3.34zM93.40 653.86h3.34v3.55h-3.34zM93.40 642.48h3.34v3.55h-3.34zM93.40 628.26h3.34v3.55h-3.34zM93.40 625.42h3.34v3.56h-3.34zM93.40 622.57h3.34v3.55h-3.34zM96.44 651.01h3.34v3.56h-3.34zM96.44 625.42h3.34v3.56h-3.34zM96.44 622.57h3.34v3.55h-3.34zM96.44 619.73h3.34v3.56h-3.34zM99.48 631.11h3.34v3.56h-3.34zM102.52 679.45h3.34v3.55h-3.34zM102.52 662.39h3.34v3.55h-3.34zM102.52 651.01h3.34v3.56h-3.34zM102.52 633.95h3.34v3.56h-3.34zM102.52 619.73h3.34v3.56h-3.34zM102.52 616.89h3.34v3.55h-3.34zM102.52 614.04h3.34v3.56h-3.34zM105.57 653.86h3.34v3.55h-3.34zM105.57 648.17h3.34v3.55h-3.34zM105.57 631.11h3.34v3.56h-3.34zM105.57 616.89h3.34v3.55h-3.34zM105.57 614.04h3.34v3.56h-3.34zM105.57 611.20h3.34v3.55h-3.34zM108.61 673.77h3.34v3.55h-3.34zM108.61 668.08h3.34v3.55h-3.34zM108.61 645.33h3.34v3.56h-3.34zM108.61 628.26h3.34v3.55h-3.34zM108.61 622.57h3.34v3.55h-3.34zM111.65 670.92h3.34v3.56h-3.34zM111.65 642.48h3.34v3.55h-3.34zM111.65 636.79h3.34v3.55h-3.34zM111.65 614.04h3.34v3.56h-3.34zM114.70 673.77h3.34v3.55h-3.34zM114.70 668.08h3.34v3.55h-3.34zM117.74 676.61h3.34v3.56h-3.34zM117.74 642.48h3.34v3.55h-3.34zM120.78 662.39h3.34v3.55h-3.34zM120.78 656.70h3.34v3.56h-3.34zM120.78 645.33h3.34v3.56h-3.34zM120.78 611.20h3.34v3.55h-3.34zM120.78 602.67h3.34v3.55h-3.34zM120.78 599.82h3.34v3.55h-3.34zM120.78 596.98h3.34v3.55h-3.34zM123.83 659.55h3.34v3.55h-3.34zM123.83 653.86h3.34v3.55h-3.34zM123.83 642.48h3.34v3.55h-3.34zM123.83 636.79h3.34v3.55h-3.34zM123.83 605.51h3.34v3.55h-3.34zM129.91 687.99h3.34v0.01h-3.34zM129.91 685.14h3.34v2.86h-3.34zM129.91 682.30h3.34v3.56h-3.34zM129.91 656.70h3.34v3.56h-3.34zM129.91 648.17h3.34v3.55h-3.34zM129.91 642.48h3.34v3.55h-3.34zM132.95 656.70h3.34v3.56h-3.34zM136.00 676.61h3.34v3.56h-3.34zM136.00 665.23h3.34v3.56h-3.34zM136.00 653.86h3.34v3.55h-3.34zM136.00 599.82h3.34v3.55h-3.34zM139.04 668.08h3.34v3.55h-3.34zM139.04 645.33h3.34v3.56h-3.34zM139.04 596.98h3.34v3.55h-3.34zM139.04 588.45h3.34v3.56h-3.34zM139.04 585.60h3.34v3.55h-3.34zM139.04 582.76h3.34v3.56h-3.34zM139.04 579.91h3.34v3.56h-3.34zM142.08 687.99h3.34v0.01h-3.34zM142.08 685.14h3.34v2.86h-3.34zM142.08 682.30h3.34v3.56h-3.34zM142.08 670.92h3.34v3.56h-3.34zM142.08 668.08h3.34v3.55h-3.34zM142.08 642.48h3.34v3.55h-3.34zM142.08 611.20h3.34v3.55h-3.34zM145.13 670.92h3.34v3.56h-3.34zM145.13 668.08h3.34v3.55h-3.34zM145.13 656.70h3.34v3.56h-3.34zM145.13 625.42h3.34v3.56h-3.34zM145.13 608.35h3.34v3.56h-3.34zM145.13 602.67h3.34v3.55h-3.34zM145.13 588.45h3.34v3.56h-3.34zM148.17 687.99h3.34v0.01h-3.34zM148.17 685.14h3.34v2.86h-3.34zM148.17 682.30h3.34v3.56h-3.34zM148.17 636.79h3.34v3.55h-3.34zM148.17 577.07h3.34v3.55h-3.34zM148.17 574.23h3.34v3.56h-3.34zM148.17 571.38h3.34v3.55h-3.34zM151.21 673.77h3.34v3.55h-3.34zM151.21 668.08h3.34v3.55h-3.34zM151.21 662.39h3.34v3.55h-3.34zM151.21 633.95h3.34v3.56h-3.34zM151.21 608.35h3.34v3.56h-3.34zM151.21 577.07h3.34v3.55h-3.34zM154.26 676.61h3.34v3.56h-3.34zM154.26 668.08h3.34v3.55h-3.34zM154.26 633.95h3.34v3.56h-3.34zM154.26 579.91h3.34v3.56h-3.34zM157.30 574.23h3.34v3.56h-3.34zM160.34 687.99h3.34v0.01h-3.34zM160.34 685.14h3.34v2.86h-3.34zM160.34 682.30h3.34v3.56h-3.34zM160.34 625.42h3.34v3.56h-3.34zM160.34 599.82h3.34v3.55h-3.34zM160.34 565.69h3.34v3.55h-3.34zM160.34 562.85h3.34v3.56h-3.34zM160.34 560.01h3.34v3.55h-3.34zM163.38 656.70h3.34v3.56h-3.34zM163.38 614.04h3.34v3.56h-3.34zM163.38 588.45h3.34v3.56h-3.34zM163.38 571.38h3.34v3.55h-3.34zM163.38 565.69h3.34v3.55h-3.34zM166.43 670.92h3.34v3.56h-3.34zM166.43 653.86h3.34v3.55h-3.34zM166.43 651.01h3.34v3.56h-3.34zM166.43 648.17h3.34v3.55h-3.34zM166.43 645.33h3.34v3.56h-3.34zM166.43 616.89h3.34v3.55h-3.34zM166.43 611.20h3.34v3.55h-3.34zM166.43 562.85h3.34v3.56h-3.34zM166.43 560.01h3.34v3.55h-3.34zM166.43 557.16h3.34v3.56h-3.34zM166.43 554.32h3.34v3.56h-3.34zM169.47 679.45h3.34v3.55h-3.34zM169.47 656.70h3.34v3.56h-3.34zM169.47 651.01h3.34v3.56h-3.34zM169.47 645.33h3.34v3.56h-3.34zM169.47 633.95h3.34v3.56h-3.34zM169.47 628.26h3.34v3.55h-3.34zM169.47 619.73h3.34v3.56h-3.34zM169.47 614.04h3.34v3.56h-3.34zM169.47 588.45h3.34v3.56h-3.34zM169.47 560.01h3.34v3.55h-3.34zM172.51 665.23h3.34v3.56h-3.34zM172.51 639.64h3.34v3.56h-3.34zM172.51 594.13h3.34v3.56h-3.34zM172.51 579.91h3.34v3.56h-3.34zM172.51 571.38h3.34v3.55h-3.34zM172.51 554.32h3.34v3.56h-3.34zM172.51 551.47h3.34v3.55h-3.34zM172.51 548.63h3.34v3.55h-3.34zM175.56 673.77h3.34v3.55h-3.34zM175.56 668.08h3.34v3.55h-3.34zM175.56 651.01h3.34v3.56h-3.34zM175.56 642.48h3.34v3.55h-3.34zM175.56 639.64h3.34v3.56h-3.34zM175.56 628.26h3.34v3.55h-3.34zM175.56 625.42h3.34v3.56h-3.34zM178.60 670.92h3.34v3.56h-3.34zM178.60 665.23h3.34v3.56h-3.34zM178.60 631.11h3.34v3.56h-3.34zM178.60 625.42h3.34v3.56h-3.34zM178.60 622.57h3.34v3.55h-3.34zM178.60 616.89h3.34v3.55h-3.34zM178.60 611.20h3.34v3.55h-3.34zM178.60 594.13h3.34v3.56h-3.34zM178.60 585.60h3.34v3.55h-3.34zM178.60 579.91h3.34v3.56h-3.34zM178.60 557.16h3.34v3.56h-3.34zM181.64 676.61h3.34v3.56h-3.34zM181.64 656.70h3.34v3.56h-3.34zM181.64 651.01h3.34v3.56h-3.34zM181.64 631.11h3.34v3.56h-3.34zM181.64 625.42h3.34v3.56h-3.34zM181.64 614.04h3.34v3.56h-3.34zM181.64 602.67h3.34v3.55h-3.34zM184.69 676.61h3.34v3.56h-3.34zM184.69 665.23h3.34v3.56h-3.34zM184.69 642.48h3.34v3.55h-3.34zM184.69 636.79h3.34v3.55h-3.34zM187.73 679.45h3.34v3.55h-3.34zM190.77 636.79h3.34v3.55h-3.34zM190.77 625.42h3.34v3.56h-3.34zM190.77 562.85h3.34v3.56h-3.34zM190.77 557.16h3.34v3.56h-3.34zM193.81 668.08h3.34v3.55h-3.34zM193.81 628.26h3.34v3.55h-3.34zM193.81 582.76h3.34v3.56h-3.34zM193.81 565.69h3.34v3.55h-3.34zM193.81 560.01h3.34v3.55h-3.34zM196.86 687.99h3.34v0.01h-3.34zM196.86 685.14h3.34v2.86h-3.34zM196.86 682.30h3.34v3.56h-3.34zM196.86 665.23h3.34v3.56h-3.34zM196.86 648.17h3.34v3.55h-3.34zM196.86 639.64h3.34v3.56h-3.34zM196.86 636.79h3.34v3.55h-3.34zM196.86 551.47h3.34v3.55h-3.34zM196.86 545.79h3.34v3.55h-3.34zM199.90 676.61h3.34v3.56h-3.34zM199.90 673.77h3.34v3.55h-3.34zM199.90 636.79h3.34v3.55h-3.34zM199.90 631.11h3.34v3.56h-3.34zM202.94 659.55h3.34v3.55h-3.34zM202.94 642.48h3.34v3.55h-3.34zM202.94 633.95h3.34v3.56h-3.34zM202.94 591.29h3.34v3.55h-3.34zM202.94 568.54h3.34v3.56h-3.34zM202.94 557.16h3.34v3.56h-3.34zM205.99 596.98h3.34v3.55h-3.34zM205.99 537.25h3.34v3.56h-3.34zM209.03 628.26h3.34v3.55h-3.34zM209.03 579.91h3.34v3.56h-3.34zM209.03 574.23h3.34v3.56h-3.34zM209.03 568.54h3.34v3.56h-3.34zM209.03 562.85h3.34v3.56h-3.34zM209.03 534.41h3.34v3.55h-3.34zM212.07 656.70h3.34v3.56h-3.34zM212.07 651.01h3.34v3.56h-3.34zM212.07 571.38h3.34v3.55h-3.34zM215.12 611.20h3.34v3.55h-3.34zM215.12 568.54h3.34v3.56h-3.34zM215.12 557.16h3.34v3.56h-3.34zM218.16 676.61h3.34v3.56h-3.34zM218.16 585.60h3.34v3.55h-3.34zM218.16 582.76h3.34v3.56h-3.34zM218.16 554.32h3.34v3.56h-3.34zM221.20 659.55h3.34v3.55h-3.34zM221.20 631.11h3.34v3.56h-3.34zM221.20 585.60h3.34v3.55h-3.34zM224.24 656.70h3.34v3.56h-3.34zM224.24 636.79h3.34v3.55h-3.34zM224.24 633.95h3.34v3.56h-3.34zM224.24 631.11h3.34v3.56h-3.34zM224.24 602.67h3.34v3.55h-3.34zM224.24 594.13h3.34v3.56h-3.34zM224.24 591.29h3.34v3.55h-3.34zM224.24 582.76h3.34v3.56h-3.34zM224.24 560.01h3.34v3.55h-3.34zM224.24 545.79h3.34v3.55h-3.34zM224.24 537.25h3.34v3.56h-3.34zM224.24 520.19h3.34v3.56h-3.34zM227.29 622.57h3.34v3.55h-3.34zM227.29 591.29h3.34v3.55h-3.34zM230.33 596.98h3.34v3.55h-3.34zM230.33 588.45h3.34v3.56h-3.34zM230.33 542.94h3.34v3.56h-3.34zM230.33 514.50h3.34v3.55h-3.34zM233.37 636.79h3.34v3.55h-3.34zM233.37 625.42h3.34v3.56h-3.34zM233.37 622.57h3.34v3.55h-3.34zM233.37 594.13h3.34v3.56h-3.34zM233.37 588.45h3.34v3.56h-3.34zM233.37 579.91h3.34v3.56h-3.34zM233.37 523.03h3.34v3.55h-3.34zM236.42 639.64h3.34v3.56h-3.34zM236.42 633.95h3.34v3.56h-3.34zM236.42 614.04h3.34v3.56h-3.34zM236.42 588.45h3.34v3.56h-3.34zM236.42 585.60h3.34v3.55h-3.34zM236.42 582.76h3.34v3.56h-3.34zM236.42 579.91h3.34v3.56h-3.34zM236.42 514.50h3.34v3.55h-3.34zM239.46 605.51h3.34v3.55h-3.34zM239.46 585.60h3.34v3.55h-3.34zM242.50 679.45h3.34v3.55h-3.34zM242.50 639.64h3.34v3.56h-3.34zM242.50 631.11h3.34v3.56h-3.34zM242.50 625.42h3.34v3.56h-3.34zM242.50 579.91h3.34v3.56h-3.34zM242.50 503.13h3.34v3.55h-3.34zM245.55 633.95h3.34v3.56h-3.34zM245.55 631.11h3.34v3.56h-3.34zM245.55 628.26h3.34v3.55h-3.34zM245.55 599.82h3.34v3.55h-3.34zM245.55 588.45h3.34v3.56h-3.34zM245.55 500.28h3.34v3.56h-3.34zM248.59 648.17h3.34v3.55h-3.34zM248.59 537.25h3.34v3.56h-3.34zM251.63 625.42h3.34v3.56h-3.34zM251.63 588.45h3.34v3.56h-3.34zM254.67 582.76h3.34v3.56h-3.34zM254.67 577.07h3.34v3.55h-3.34zM257.72 622.57h3.34v3.55h-3.34zM257.72 582.76h3.34v3.56h-3.34zM257.72 579.91h3.34v3.56h-3.34zM257.72 494.59h3.34v3.56h-3.34zM260.76 582.76h3.34v3.56h-3.34zM260.76 571.38h3.34v3.55h-3.34zM260.76 514.50h3.34v3.55h-3.34zM260.76 491.75h3.34v3.56h-3.34zM263.80 645.33h3.34v3.56h-3.34zM263.80 622.57h3.34v3.55h-3.34zM263.80 511.66h3.34v3.56h-3.34zM266.85 645.33h3.34v3.56h-3.34zM266.85 591.29h3.34v3.55h-3.34zM266.85 571.38h3.34v3.55h-3.34zM266.85 480.37h3.34v3.56h-3.34zM269.89 653.86h3.34v3.55h-3.34zM269.89 631.11h3.34v3.56h-3.34zM269.89 534.41h3.34v3.55h-3.34zM269.89 517.35h3.34v3.56h-3.34zM272.93 639.64h3.34v3.56h-3.34zM272.93 628.26h3.34v3.55h-3.34zM272.93 625.42h3.34v3.56h-3.34zM272.93 619.73h3.34v3.56h-3.34zM272.93 614.04h3.34v3.56h-3.34zM272.93 585.60h3.34v3.55h-3.34zM272.93 577.07h3.34v3.55h-3.34zM275.98 636.79h3.34v3.55h-3.34zM275.98 622.57h3.34v3.55h-3.34zM275.98 577.07h3.34v3.55h-3.34zM279.02 639.64h3.34v3.56h-3.34zM279.02 628.26h3.34v3.55h-3.34zM279.02 582.76h3.34v3.56h-3.34zM279.02 579.91h3.34v3.56h-3.34zM279.02 486.06h3.34v3.56h-3.34zM279.02 474.69h3.34v3.56h-3.34zM282.06 651.01h3.34v3.56h-3.34zM282.06 642.48h3.34v3.55h-3.34zM282.06 631.11h3.34v3.56h-3.34zM282.06 628.26h3.34v3.55h-3.34zM285.10 639.64h3.34v3.56h-3.34zM285.10 625.42h3.34v3.56h-3.34zM285.10 591.29h3.34v3.55h-3.34zM285.10 469.00h3.34v3.56h-3.34zM285.10 463.31h3.34v3.56h-3.34zM288.15 628.26h3.34v3.55h-3.34zM288.15 568.54h3.34v3.56h-3.34zM288.15 460.47h3.34v3.56h-3.34zM291.19 633.95h3.34v3.56h-3.34zM291.19 625.42h3.34v3.56h-3.34zM291.19 596.98h3.34v3.55h-3.34zM294.23 599.82h3.34v3.55h-3.34zM294.23 460.47h3.34v3.56h-3.34zM297.28 633.95h3.34v3.56h-3.34zM297.28 628.26h3.34v3.55h-3.34zM297.28 571.38h3.34v3.55h-3.34zM297.28 451.93h3.34v3.55h-3.34zM300.32 631.11h3.34v3.56h-3.34zM300.32 591.29h3.34v3.55h-3.34zM300.32 449.09h3.34v3.56h-3.34zM306.41 628.26h3.34v3.55h-3.34zM306.41 611.20h3.34v3.55h-3.34zM306.41 599.82h3.34v3.55h-3.34zM306.41 594.13h3.34v3.56h-3.34z"/>
<path fill="#866a93" d="M66.01 679.45h3.34v3.55h-3.34zM69.05 687.99h3.34v0.01h-3.34zM69.05 685.14h3.34v2.86h-3.34zM69.05 682.30h3.34v3.56h-3.34zM69.05 676.61h3.34v3.56h-3.34zM75.14 659.55h3.34v3.55h-3.34zM78.18 656.70h3.34v3.56h-3.34zM81.22 676.61h3.34v3.56h-3.34zM90.35 679.45h3.34v3.55h-3.34zM90.35 673.77h3.34v3.55h-3.34zM90.35 662.39h3.34v3.55h-3.34zM90.35 656.70h3.34v3.56h-3.34zM93.40 676.61h3.34v3.56h-3.34zM93.40 648.17h3.34v3.55h-3.34zM96.44 676.61h3.34v3.56h-3.34zM96.44 633.95h3.34v3.56h-3.34zM96.44 628.26h3.34v3.55h-3.34zM99.48 676.61h3.34v3.56h-3.34zM99.48 648.17h3.34v3.55h-3.34zM99.48 642.48h3.34v3.55h-3.34zM99.48 625.42h3.34v3.56h-3.34zM99.48 622.57h3.34v3.55h-3.34zM99.48 619.73h3.34v3.56h-3.34zM99.48 616.89h3.34v3.55h-3.34zM105.57 659.55h3.34v3.55h-3.34zM105.57 619.73h3.34v3.56h-3.34zM108.61 639.64h3.34v3.56h-3.34zM108.61 616.89h3.34v3.55h-3.34zM111.65 653.86h3.34v3.55h-3.34zM111.65 631.11h3.34v3.56h-3.34zM111.65 611.20h3.34v3.55h-3.34zM111.65 608.35h3.34v3.56h-3.34zM111.65 605.51h3.34v3.55h-3.34zM114.70 651.01h3.34v3.56h-3.34zM114.70 628.26h3.34v3.55h-3.34zM114.70 611.20h3.34v3.55h-3.34zM117.74 614.04h3.34v3.56h-3.34zM120.78 628.26h3.34v3.55h-3.34zM120.78 616.89h3.34v3.55h-3.34zM120.78 605.51h3.34v3.55h-3.34zM123.83 648.17h3.34v3.55h-3.34zM123.83 602.67h3.34v3.55h-3.34zM123.83 599.82h3.34v3.55h-3.34zM123.83 596.98h3.34v3.55h-3.34zM123.83 594.13h3.34v3.56h-3.34zM126.87 679.45h3.34v3.55h-3.34zM129.91 631.11h3.34v3.56h-3.34zM129.91 599.82h3.34v3.55h-3.34zM132.95 628.26h3.34v3.55h-3.34zM132.95 622.57h3.34v3.55h-3.34zM132.95 602.67h3.34v3.55h-3.34zM136.00 625.42h3.34v3.56h-3.34zM136.00 594.13h3.34v3.56h-3.34zM136.00 591.29h3.34v3.55h-3.34zM142.08 636.79h3.34v3.55h-3.34zM142.08 625.42h3.34v3.56h-3.34zM142.08 605.51h3.34v3.55h-3.34zM142.08 585.60h3.34v3.55h-3.34zM145.13 679.45h3.34v3.55h-3.34zM145.13 628.26h3.34v3.55h-3.34zM145.13 579.91h3.34v3.56h-3.34zM145.13 577.07h3.34v3.55h-3.34zM145.13 574.23h3.34v3.56h-3.34zM148.17 670.92h3.34v3.56h-3.34zM148.17 642.48h3.34v3.55h-3.34zM148.17 611.20h3.34v3.55h-3.34zM148.17 591.29h3.34v3.55h-3.34zM148.17 588.45h3.34v3.56h-3.34zM148.17 585.60h3.34v3.55h-3.34zM151.21 679.45h3.34v3.55h-3.34zM151.21 639.64h3.34v3.56h-3.34zM151.21 622.57h3.34v3.55h-3.34zM151.21 602.67h3.34v3.55h-3.34zM154.26 631.11h3.34v3.56h-3.34zM154.26 585.60h3.34v3.55h-3.34zM154.26 574.23h3.34v3.56h-3.34zM154.26 571.38h3.34v3.55h-3.34zM154.26 568.54h3.34v3.56h-3.34zM154.26 565.69h3.34v3.55h-3.34zM157.30 687.99h3.34v0.01h-3.34zM157.30 685.14h3.34v2.86h-3.34zM157.30 682.30h3.34v3.56h-3.34zM157.30 651.01h3.34v3.56h-3.34zM157.30 645.33h3.34v3.56h-3.34zM157.30 636.79h3.34v3.55h-3.34zM157.30 633.95h3.34v3.56h-3.34zM157.30 591.29h3.34v3.55h-3.34zM157.30 577.07h3.34v3.55h-3.34zM157.30 571.38h3.34v3.55h-3.34zM160.34 665.23h3.34v3.56h-3.34zM160.34 659.55h3.34v3.55h-3.34zM160.34 616.89h3.34v3.55h-3.34zM163.38 662.39h3.34v3.55h-3.34zM163.38 608.35h3.34v3.56h-3.34zM163.38 602.67h3.34v3.55h-3.34zM166.43 676.61h3.34v3.56h-3.34zM166.43 625.42h3.34v3.56h-3.34zM166.43 585.60h3.34v3.55h-3.34zM166.43 579.91h3.34v3.56h-3.34zM169.47 622.57h3.34v3.55h-3.34zM169.47 596.98h3.34v3.55h-3.34zM169.47 582.76h3.34v3.56h-3.34zM172.51 676.61h3.34v3.56h-3.34zM172.51 648.17h3.34v3.55h-3.34zM172.51 631.11h3.34v3.56h-3.34zM172.51 611.20h3.34v3.55h-3.34zM175.56 670.92h3.34v3.56h-3.34zM175.56 656.70h3.34v3.56h-3.34zM175.56 614.04h3.34v3.56h-3.34zM175.56 596.98h3.34v3.55h-3.34zM175.56 588.45h3.34v3.56h-3.34zM175.56 582.76h3.34v3.56h-3.34zM178.60 687.99h3.34v0.01h-3.34zM178.60 685.14h3.34v2.86h-3.34zM178.60 682.30h3.34v3.56h-3.34zM178.60 653.86h3.34v3.55h-3.34zM178.60 648.17h3.34v3.55h-3.34zM178.60 636.79h3.34v3.55h-3.34zM178.60 574.23h3.34v3.56h-3.34zM181.64 662.39h3.34v3.55h-3.34zM181.64 645.33h3.34v3.56h-3.34zM181.64 639.64h3.34v3.56h-3.34zM181.64 628.26h3.34v3.55h-3.34zM181.64 594.13h3.34v3.56h-3.34zM181.64 565.69h3.34v3.55h-3.34zM184.69 659.55h3.34v3.55h-3.34zM184.69 648.17h3.34v3.55h-3.34zM184.69 633.95h3.34v3.56h-3.34zM184.69 622.57h3.34v3.55h-3.34zM184.69 619.73h3.34v3.56h-3.34zM184.69 616.89h3.34v3.55h-3.34zM184.69 562.85h3.34v3.56h-3.34zM187.73 653.86h3.34v3.55h-3.34zM187.73 577.07h3.34v3.55h-3.34zM187.73 565.69h3.34v3.55h-3.34zM190.77 653.86h3.34v3.55h-3.34zM190.77 642.48h3.34v3.55h-3.34zM190.77 631.11h3.34v3.56h-3.34zM190.77 628.26h3.34v3.55h-3.34zM190.77 619.73h3.34v3.56h-3.34zM190.77 614.04h3.34v3.56h-3.34zM190.77 599.82h3.34v3.55h-3.34zM190.77 579.91h3.34v3.56h-3.34zM193.81 633.95h3.34v3.56h-3.34zM193.81 619.73h3.34v3.56h-3.34zM193.81 614.04h3.34v3.56h-3.34zM193.81 594.13h3.34v3.56h-3.34zM196.86 631.11h3.34v3.56h-3.34zM196.86 622.57h3.34v3.55h-3.34zM196.86 619.73h3.34v3.56h-3.34zM196.86 585.60h3.34v3.55h-3.34zM199.90 679.45h3.34v3.55h-3.34zM199.90 648.17h3.34v3.55h-3.34zM199.90 639.64h3.34v3.56h-3.34zM199.90 628.26h3.34v3.55h-3.34zM199.90 622.57h3.34v3.55h-3.34zM202.94 676.61h3.34v3.56h-3.34zM202.94 599.82h3.34v3.55h-3.34zM202.94 585.60h3.34v3.55h-3.34zM202.94 545.79h3.34v3.55h-3.34zM202.94 540.10h3.34v3.55h-3.34zM205.99 625.42h3.34v3.56h-3.34zM205.99 619.73h3.34v3.56h-3.34zM205.99 602.67h3.34v3.55h-3.34zM205.99 588.45h3.34v3.56h-3.34zM205.99 577.07h3.34v3.55h-3.34zM205.99 542.94h3.34v3.56h-3.34zM205.99 525.88h3.34v3.55h-3.34zM209.03 670.92h3.34v3.56h-3.34zM209.03 625.42h3.34v3.56h-3.34zM209.03 616.89h3.34v3.55h-3.34zM209.03 599.82h3.34v3.55h-3.34zM209.03 591.29h3.34v3.55h-3.34zM209.03 585.60h3.34v3.55h-3.34zM212.07 619.73h3.34v3.56h-3.34zM215.12 625.42h3.34v3.56h-3.34zM215.12 622.57h3.34v3.55h-3.34zM215.12 599.82h3.34v3.55h-3.34zM215.12 591.29h3.34v3.55h-3.34zM215.12 534.41h3.34v3.55h-3.34zM215.12 528.72h3.34v3.56h-3.34zM218.16 687.99h3.34v0.01h-3.34zM218.16 685.14h3.34v2.86h-3.34zM218.16 682.30h3.34v3.56h-3.34zM218.16 668.08h3.34v3.55h-3.34zM218.16 648.17h3.34v3.55h-3.34zM218.16 625.42h3.34v3.56h-3.34zM218.16 594.13h3.34v3.56h-3.34zM218.16 577.07h3.34v3.55h-3.34zM218.16 531.57h3.34v3.56h-3.34zM221.20 605.51h3.34v3.55h-3.34zM221.20 528.72h3.34v3.56h-3.34zM224.24 628.26h3.34v3.55h-3.34zM224.24 525.88h3.34v3.55h-3.34zM227.29 648.17h3.34v3.55h-3.34zM227.29 557.16h3.34v3.56h-3.34zM227.29 523.03h3.34v3.55h-3.34zM230.33 619.73h3.34v3.56h-3.34zM230.33 614.04h3.34v3.56h-3.34zM230.33 585.60h3.34v3.55h-3.34zM230.33 520.19h3.34v3.56h-3.34zM233.37 648.17h3.34v3.55h-3.34zM239.46 642.48h3.34v3.55h-3.34zM239.46 631.11h3.34v3.56h-3.34zM242.50 628.26h3.34v3.55h-3.34zM245.55 636.79h3.34v3.55h-3.34zM245.55 540.10h3.34v3.55h-3.34zM245.55 505.97h3.34v3.56h-3.34zM248.59 673.77h3.34v3.55h-3.34zM248.59 628.26h3.34v3.55h-3.34zM248.59 596.98h3.34v3.55h-3.34zM248.59 585.60h3.34v3.55h-3.34zM248.59 582.76h3.34v3.56h-3.34zM251.63 636.79h3.34v3.55h-3.34zM251.63 594.13h3.34v3.56h-3.34zM251.63 500.28h3.34v3.56h-3.34zM254.67 596.98h3.34v3.55h-3.34zM254.67 491.75h3.34v3.56h-3.34zM257.72 488.91h3.34v3.55h-3.34zM260.76 668.08h3.34v3.55h-3.34zM260.76 525.88h3.34v3.55h-3.34zM263.80 585.60h3.34v3.55h-3.34zM263.80 579.91h3.34v3.56h-3.34zM263.80 505.97h3.34v3.56h-3.34zM263.80 488.91h3.34v3.55h-3.34zM266.85 588.45h3.34v3.56h-3.34zM269.89 508.81h3.34v3.55h-3.34zM269.89 477.53h3.34v3.55h-3.34zM272.93 631.11h3.34v3.56h-3.34zM272.93 582.76h3.34v3.56h-3.34zM272.93 514.50h3.34v3.55h-3.34zM275.98 477.53h3.34v3.55h-3.34zM279.02 645.33h3.34v3.56h-3.34zM279.02 633.95h3.34v3.56h-3.34zM279.02 622.57h3.34v3.55h-3.34zM279.02 614.04h3.34v3.56h-3.34zM279.02 469.00h3.34v3.56h-3.34zM282.06 611.20h3.34v3.55h-3.34zM282.06 591.29h3.34v3.55h-3.34zM282.06 471.84h3.34v3.56h-3.34zM285.10 619.73h3.34v3.56h-3.34zM285.10 588.45h3.34v3.56h-3.34zM288.15 625.42h3.34v3.56h-3.34zM288.15 500.28h3.34v3.56h-3.34zM297.28 622.57h3.34v3.55h-3.34zM297.28 596.98h3.34v3.55h-3.34zM297.28 588.45h3.34v3.56h-3.34zM303.36 619.73h3.34v3.56h-3.34zM306.41 619.73h3.34v3.56h-3.34zM306.41 614.04h3.34v3.56h-3.34zM306.41 605.51h3.34v3.55h-3.34z"/>
<path fill="#80648d" d="M56.88 687.99h3.34v0.01h-3.34zM56.88 685.14h3.34v2.86h-3.34zM56.88 682.30h3.34v3.56h-3.34zM56.88 670.92h3.34v3.56h-3.34zM66.01 659.55h3.34v3.55h-3.34zM66.01 656.70h3.34v3.56h-3.34zM69.05 665.23h3.34v3.56h-3.34zM87.31 648.17h3.34v3.55h-3.34zM90.35 651.01h3.34v3.56h-3.34zM93.40 687.99h3.34v0.01h-3.34zM93.40 685.14h3.34v2.86h-3.34zM93.40 682.30h3.34v3.56h-3.34zM96.44 656.70h3.34v3.56h-3.34zM96.44 645.33h3.34v3.56h-3.34zM99.48 665.23h3.34v3.56h-3.34zM105.57 670.92h3.34v3.56h-3.34zM105.57 636.79h3.34v3.55h-3.34zM108.61 656.70h3.34v3.56h-3.34zM108.61 633.95h3.34v3.56h-3.34zM114.70 639.64h3.34v3.56h-3.34zM114.70 633.95h3.34v3.56h-3.34zM114.70 616.89h3.34v3.55h-3.34zM114.70 608.35h3.34v3.56h-3.34zM114.70 605.51h3.34v3.55h-3.34zM114.70 602.67h3.34v3.55h-3.34zM117.74 636.79h3.34v3.55h-3.34zM123.83 631.11h3.34v3.56h-3.34zM123.83 608.35h3.34v3.56h-3.34zM126.87 673.77h3.34v3.55h-3.34zM126.87 668.08h3.34v3.55h-3.34zM126.87 656.70h3.34v3.56h-3.34zM129.91 625.42h3.34v3.56h-3.34zM129.91 605.51h3.34v3.55h-3.34zM129.91 594.13h3.34v3.56h-3.34zM129.91 591.29h3.34v3.55h-3.34zM129.91 588.45h3.34v3.56h-3.34zM132.95 645.33h3.34v3.56h-3.34zM136.00 631.11h3.34v3.56h-3.34zM136.00 596.98h3.34v3.55h-3.34zM136.00 588.45h3.34v3.56h-3.34zM136.00 585.60h3.34v3.55h-3.34zM136.00 582.76h3.34v3.56h-3.34zM139.04 628.26h3.34v3.55h-3.34zM139.04 622.57h3.34v3.55h-3.34zM142.08 631.11h3.34v3.56h-3.34zM142.08 591.29h3.34v3.55h-3.34zM142.08 582.76h3.34v3.56h-3.34zM142.08 579.91h3.34v3.56h-3.34zM142.08 577.07h3.34v3.55h-3.34zM145.13 633.95h3.34v3.56h-3.34zM148.17 625.42h3.34v3.56h-3.34zM148.17 619.73h3.34v3.56h-3.34zM148.17 582.76h3.34v3.56h-3.34zM151.21 588.45h3.34v3.56h-3.34zM154.26 670.92h3.34v3.56h-3.34zM154.26 616.89h3.34v3.55h-3.34zM154.26 611.20h3.34v3.55h-3.34zM154.26 605.51h3.34v3.55h-3.34zM157.30 662.39h3.34v3.55h-3.34zM157.30 656.70h3.34v3.56h-3.34zM157.30 639.64h3.34v3.56h-3.34zM157.30 568.54h3.34v3.56h-3.34zM157.30 565.69h3.34v3.55h-3.34zM157.30 562.85h3.34v3.56h-3.34zM160.34 579.91h3.34v3.56h-3.34zM163.38 673.77h3.34v3.55h-3.34zM163.38 670.92h3.34v3.56h-3.34zM163.38 668.08h3.34v3.55h-3.34zM163.38 622.57h3.34v3.55h-3.34zM163.38 577.07h3.34v3.55h-3.34zM166.43 659.55h3.34v3.55h-3.34zM166.43 605.51h3.34v3.55h-3.34zM166.43 599.82h3.34v3.55h-3.34zM166.43 596.98h3.34v3.55h-3.34zM169.47 662.39h3.34v3.55h-3.34zM169.47 608.35h3.34v3.56h-3.34zM169.47 571.38h3.34v3.55h-3.34zM172.51 659.55h3.34v3.55h-3.34zM172.51 653.86h3.34v3.55h-3.34zM172.51 625.42h3.34v3.56h-3.34zM172.51 619.73h3.34v3.56h-3.34zM172.51 591.29h3.34v3.55h-3.34zM172.51 574.23h3.34v3.56h-3.34zM172.51 568.54h3.34v3.56h-3.34zM178.60 596.98h3.34v3.55h-3.34zM178.60 591.29h3.34v3.55h-3.34zM181.64 679.45h3.34v3.55h-3.34zM181.64 616.89h3.34v3.55h-3.34zM181.64 608.35h3.34v3.56h-3.34zM184.69 653.86h3.34v3.55h-3.34zM184.69 639.64h3.34v3.56h-3.34zM184.69 625.42h3.34v3.56h-3.34zM184.69 557.16h3.34v3.56h-3.34zM187.73 662.39h3.34v3.55h-3.34zM187.73 651.01h3.34v3.56h-3.34zM187.73 639.64h3.34v3.56h-3.34zM187.73 636.79h3.34v3.55h-3.34zM187.73 633.95h3.34v3.56h-3.34zM187.73 585.60h3.34v3.55h-3.34zM187.73 571.38h3.34v3.55h-3.34zM190.77 670.92h3.34v3.56h-3.34zM190.77 611.20h3.34v3.55h-3.34zM190.77 585.60h3.34v3.55h-3.34zM193.81 639.64h3.34v3.56h-3.34zM193.81 605.51h3.34v3.55h-3.34zM193.81 588.45h3.34v3.56h-3.34zM193.81 548.63h3.34v3.55h-3.34zM196.86 625.42h3.34v3.56h-3.34zM199.90 633.95h3.34v3.56h-3.34zM199.90 608.35h3.34v3.56h-3.34zM199.90 588.45h3.34v3.56h-3.34zM199.90 548.63h3.34v3.55h-3.34zM202.94 636.79h3.34v3.55h-3.34zM202.94 616.89h3.34v3.55h-3.34zM202.94 605.51h3.34v3.55h-3.34zM202.94 602.67h3.34v3.55h-3.34zM202.94 596.98h3.34v3.55h-3.34zM202.94 579.91h3.34v3.56h-3.34zM205.99 656.70h3.34v3.56h-3.34zM205.99 639.64h3.34v3.56h-3.34zM205.99 622.57h3.34v3.55h-3.34zM209.03 653.86h3.34v3.55h-3.34zM209.03 602.67h3.34v3.55h-3.34zM209.03 596.98h3.34v3.55h-3.34zM212.07 633.95h3.34v3.56h-3.34zM212.07 628.26h3.34v3.55h-3.34zM212.07 625.42h3.34v3.56h-3.34zM212.07 614.04h3.34v3.56h-3.34zM212.07 596.98h3.34v3.55h-3.34zM212.07 594.13h3.34v3.56h-3.34zM218.16 662.39h3.34v3.55h-3.34zM218.16 659.55h3.34v3.55h-3.34zM218.16 653.86h3.34v3.55h-3.34zM218.16 645.33h3.34v3.56h-3.34zM218.16 642.48h3.34v3.55h-3.34zM218.16 636.79h3.34v3.55h-3.34zM218.16 631.11h3.34v3.56h-3.34zM218.16 588.45h3.34v3.56h-3.34zM218.16 565.69h3.34v3.55h-3.34zM218.16 525.88h3.34v3.55h-3.34zM221.20 625.42h3.34v3.56h-3.34zM221.20 616.89h3.34v3.55h-3.34zM221.20 611.20h3.34v3.55h-3.34zM221.20 591.29h3.34v3.55h-3.34zM221.20 523.03h3.34v3.55h-3.34zM224.24 608.35h3.34v3.56h-3.34zM227.29 625.42h3.34v3.56h-3.34zM227.29 599.82h3.34v3.55h-3.34zM227.29 594.13h3.34v3.56h-3.34zM227.29 517.35h3.34v3.56h-3.34zM230.33 602.67h3.34v3.55h-3.34zM233.37 619.73h3.34v3.56h-3.34zM233.37 611.20h3.34v3.55h-3.34zM233.37 511.66h3.34v3.56h-3.34zM236.42 645.33h3.34v3.56h-3.34zM239.46 622.57h3.34v3.55h-3.34zM239.46 619.73h3.34v3.56h-3.34zM239.46 616.89h3.34v3.55h-3.34zM242.50 616.89h3.34v3.55h-3.34zM242.50 608.35h3.34v3.56h-3.34zM242.50 596.98h3.34v3.55h-3.34zM242.50 588.45h3.34v3.56h-3.34zM242.50 582.76h3.34v3.56h-3.34zM245.55 625.42h3.34v3.56h-3.34zM245.55 622.57h3.34v3.55h-3.34zM245.55 585.60h3.34v3.55h-3.34zM248.59 631.11h3.34v3.56h-3.34zM248.59 622.57h3.34v3.55h-3.34zM248.59 588.45h3.34v3.56h-3.34zM248.59 554.32h3.34v3.56h-3.34zM251.63 631.11h3.34v3.56h-3.34zM251.63 622.57h3.34v3.55h-3.34zM251.63 616.89h3.34v3.55h-3.34zM251.63 591.29h3.34v3.55h-3.34zM251.63 585.60h3.34v3.55h-3.34zM251.63 494.59h3.34v3.56h-3.34zM254.67 628.26h3.34v3.55h-3.34zM254.67 625.42h3.34v3.56h-3.34zM257.72 631.11h3.34v3.56h-3.34zM257.72 625.42h3.34v3.56h-3.34zM257.72 585.60h3.34v3.55h-3.34zM260.76 486.06h3.34v3.56h-3.34zM263.80 594.13h3.34v3.56h-3.34zM266.85 622.57h3.34v3.55h-3.34zM269.89 625.42h3.34v3.56h-3.34zM269.89 616.89h3.34v3.55h-3.34zM269.89 591.29h3.34v3.55h-3.34zM275.98 616.89h3.34v3.55h-3.34zM275.98 611.20h3.34v3.55h-3.34zM275.98 594.13h3.34v3.56h-3.34zM275.98 588.45h3.34v3.56h-3.34zM279.02 625.42h3.34v3.56h-3.34zM279.02 594.13h3.34v3.56h-3.34zM282.06 625.42h3.34v3.56h-3.34zM285.10 622.57h3.34v3.55h-3.34zM285.10 582.76h3.34v3.56h-3.34zM288.15 622.57h3.34v3.55h-3.34zM288.15 616.89h3.34v3.55h-3.34zM288.15 579.91h3.34v3.56h-3.34zM291.19 619.73h3.34v3.56h-3.34zM294.23 631.11h3.34v3.56h-3.34zM294.23 622.57h3.34v3.55h-3.34zM294.23 616.89h3.34v3.55h-3.34zM294.23 579.91h3.34v3.56h-3.34zM294.23 466.15h3.34v3.56h-3.34zM297.28 619.73h3.34v3.56h-3.34zM297.28 594.13h3.34v3.56h-3.34zM300.32 599.82h3.34v3.55h-3.34zM303.36 614.04h3.34v3.56h-3.34zM303.36 599.82h3.34v3.55h-3.34z"/>
<path fill="#7b5e88" d="M66.01 653.86h3.34v3.55h-3.34zM66.01 651.01h3.34v3.56h-3.34zM66.01 648.17h3.34v3.55h-3.34zM75.14 665.23h3.34v3.56h-3.34zM81.22 659.55h3.34v3.55h-3.34zM84.27 656.70h3.34v3.56h-3.34zM96.44 670.92h3.34v3.56h-3.34zM96.44 662.39h3.34v3.55h-3.34zM96.44 639.64h3.34v3.56h-3.34zM102.52 673.77h3.34v3.55h-3.34zM102.52 639.64h3.34v3.56h-3.34zM105.57 687.99h3.34v0.01h-3.34zM105.57 685.14h3.34v2.86h-3.34zM105.57 682.30h3.34v3.56h-3.34zM111.65 665.23h3.34v3.56h-3.34zM114.70 662.39h3.34v3.55h-3.34zM114.70 622.57h3.34v3.55h-3.34zM117.74 659.55h3.34v3.55h-3.34zM117.74 619.73h3.34v3.56h-3.34zM117.74 608.35h3.34v3.56h-3.34zM117.74 605.51h3.34v3.55h-3.34zM117.74 602.67h3.34v3.55h-3.34zM117.74 599.82h3.34v3.55h-3.34zM123.83 625.42h3.34v3.56h-3.34zM126.87 662.39h3.34v3.55h-3.34zM126.87 645.33h3.34v3.56h-3.34zM126.87 636.79h3.34v3.55h-3.34zM126.87 631.11h3.34v3.56h-3.34zM126.87 625.42h3.34v3.56h-3.34zM129.91 619.73h3.34v3.56h-3.34zM132.95 591.29h3.34v3.55h-3.34zM132.95 588.45h3.34v3.56h-3.34zM132.95 585.60h3.34v3.55h-3.34zM136.00 642.48h3.34v3.55h-3.34zM136.00 614.04h3.34v3.56h-3.34zM139.04 673.77h3.34v3.55h-3.34zM148.17 631.11h3.34v3.56h-3.34zM148.17 614.04h3.34v3.56h-3.34zM151.21 628.26h3.34v3.55h-3.34zM151.21 616.89h3.34v3.55h-3.34zM154.26 625.42h3.34v3.56h-3.34zM154.26 596.98h3.34v3.55h-3.34zM157.30 679.45h3.34v3.55h-3.34zM157.30 665.23h3.34v3.56h-3.34zM157.30 579.91h3.34v3.56h-3.34zM160.34 611.20h3.34v3.55h-3.34zM160.34 605.51h3.34v3.55h-3.34zM160.34 602.67h3.34v3.55h-3.34zM160.34 596.98h3.34v3.55h-3.34zM160.34 591.29h3.34v3.55h-3.34zM160.34 585.60h3.34v3.55h-3.34zM163.38 611.20h3.34v3.55h-3.34zM166.43 631.11h3.34v3.56h-3.34zM166.43 619.73h3.34v3.56h-3.34zM166.43 591.29h3.34v3.55h-3.34zM169.47 602.67h3.34v3.55h-3.34zM169.47 599.82h3.34v3.55h-3.34zM169.47 594.13h3.34v3.56h-3.34zM172.51 605.51h3.34v3.55h-3.34zM172.51 599.82h3.34v3.55h-3.34zM172.51 585.60h3.34v3.55h-3.34zM175.56 622.57h3.34v3.55h-3.34zM175.56 608.35h3.34v3.56h-3.34zM175.56 562.85h3.34v3.56h-3.34zM178.60 639.64h3.34v3.56h-3.34zM178.60 619.73h3.34v3.56h-3.34zM178.60 568.54h3.34v3.56h-3.34zM181.64 560.01h3.34v3.55h-3.34zM184.69 605.51h3.34v3.55h-3.34zM184.69 594.13h3.34v3.56h-3.34zM184.69 591.29h3.34v3.55h-3.34zM187.73 665.23h3.34v3.56h-3.34zM187.73 582.76h3.34v3.56h-3.34zM187.73 560.01h3.34v3.55h-3.34zM187.73 554.32h3.34v3.56h-3.34zM190.77 608.35h3.34v3.56h-3.34zM190.77 596.98h3.34v3.55h-3.34zM193.81 622.57h3.34v3.55h-3.34zM193.81 608.35h3.34v3.56h-3.34zM199.90 662.39h3.34v3.55h-3.34zM199.90 619.73h3.34v3.56h-3.34zM199.90 614.04h3.34v3.56h-3.34zM199.90 582.76h3.34v3.56h-3.34zM199.90 542.94h3.34v3.56h-3.34zM202.94 631.11h3.34v3.56h-3.34zM202.94 625.42h3.34v3.56h-3.34zM202.94 608.35h3.34v3.56h-3.34zM205.99 628.26h3.34v3.55h-3.34zM205.99 616.89h3.34v3.55h-3.34zM205.99 614.04h3.34v3.56h-3.34zM205.99 605.51h3.34v3.55h-3.34zM205.99 599.82h3.34v3.55h-3.34zM205.99 594.13h3.34v3.56h-3.34zM212.07 608.35h3.34v3.56h-3.34zM212.07 605.51h3.34v3.55h-3.34zM212.07 599.82h3.34v3.55h-3.34zM212.07 531.57h3.34v3.56h-3.34zM215.12 648.17h3.34v3.55h-3.34zM215.12 619.73h3.34v3.56h-3.34zM215.12 616.89h3.34v3.55h-3.34zM215.12 596.98h3.34v3.55h-3.34zM218.16 633.95h3.34v3.56h-3.34zM218.16 628.26h3.34v3.55h-3.34zM218.16 591.29h3.34v3.55h-3.34zM221.20 642.48h3.34v3.55h-3.34zM221.20 619.73h3.34v3.56h-3.34zM224.24 616.89h3.34v3.55h-3.34zM224.24 614.04h3.34v3.56h-3.34zM227.29 636.79h3.34v3.55h-3.34zM227.29 619.73h3.34v3.56h-3.34zM227.29 614.04h3.34v3.56h-3.34zM230.33 633.95h3.34v3.56h-3.34zM230.33 622.57h3.34v3.55h-3.34zM233.37 551.47h3.34v3.55h-3.34zM236.42 616.89h3.34v3.55h-3.34zM236.42 596.98h3.34v3.55h-3.34zM236.42 508.81h3.34v3.55h-3.34zM239.46 594.13h3.34v3.56h-3.34zM239.46 591.29h3.34v3.55h-3.34zM239.46 505.97h3.34v3.56h-3.34zM242.50 602.67h3.34v3.55h-3.34zM242.50 542.94h3.34v3.56h-3.34zM248.59 619.73h3.34v3.56h-3.34zM248.59 497.44h3.34v3.56h-3.34zM254.67 622.57h3.34v3.55h-3.34zM257.72 619.73h3.34v3.56h-3.34zM260.76 628.26h3.34v3.55h-3.34zM260.76 588.45h3.34v3.56h-3.34zM260.76 565.69h3.34v3.55h-3.34zM263.80 596.98h3.34v3.55h-3.34zM263.80 591.29h3.34v3.55h-3.34zM263.80 483.22h3.34v3.55h-3.34zM266.85 491.75h3.34v3.56h-3.34zM272.93 622.57h3.34v3.55h-3.34zM272.93 591.29h3.34v3.55h-3.34zM272.93 463.31h3.34v3.56h-3.34zM275.98 511.66h3.34v3.56h-3.34zM275.98 471.84h3.34v3.56h-3.34zM279.02 608.35h3.34v3.56h-3.34zM279.02 596.98h3.34v3.55h-3.34zM279.02 588.45h3.34v3.56h-3.34zM279.02 491.75h3.34v3.56h-3.34zM282.06 616.89h3.34v3.55h-3.34zM282.06 605.51h3.34v3.55h-3.34zM282.06 594.13h3.34v3.56h-3.34zM282.06 466.15h3.34v3.56h-3.34zM285.10 628.26h3.34v3.55h-3.34zM285.10 602.67h3.34v3.55h-3.34zM285.10 594.13h3.34v3.56h-3.34zM285.10 579.91h3.34v3.56h-3.34zM288.15 605.51h3.34v3.55h-3.34zM288.15 540.10h3.34v3.55h-3.34zM291.19 614.04h3.34v3.56h-3.34zM291.19 602.67h3.34v3.55h-3.34zM294.23 625.42h3.34v3.56h-3.34zM297.28 608.35h3.34v3.56h-3.34zM300.32 619.73h3.34v3.56h-3.34zM300.32 596.98h3.34v3.55h-3.34zM303.36 622.57h3.34v3.55h-3.34zM303.36 616.89h3.34v3.55h-3.34zM303.36 608.35h3.34v3.56h-3.34zM303.36 602.67h3.34v3.55h-3.34zM303.36 596.98h3.34v3.55h-3.34zM303.36 594.13h3.34v3.56h-3.34zM306.41 608.35h3.34v3.56h-3.34z"/>
<path fill="#755882" d="M72.09 668.08h3.34v3.55h-3.34zM75.14 653.86h3.34v3.55h-3.34zM75.14 645.33h3.34v3.56h-3.34zM75.14 642.48h3.34v3.55h-3.34zM75.14 639.64h3.34v3.56h-3.34zM78.18 662.39h3.34v3.55h-3.34zM87.31 653.86h3.34v3.55h-3.34zM117.74 625.42h3.34v3.56h-3.34zM123.83 614.04h3.34v3.56h-3.34zM126.87 665.23h3.34v3.56h-3.34zM126.87 639.64h3.34v3.56h-3.34zM129.91 616.89h3.34v3.55h-3.34zM129.91 602.67h3.34v3.55h-3.34zM129.91 596.98h3.34v3.55h-3.34zM136.00 687.99h3.34v0.01h-3.34zM136.00 685.14h3.34v2.86h-3.34zM136.00 682.30h3.34v3.56h-3.34zM136.00 619.73h3.34v3.56h-3.34zM139.04 670.92h3.34v3.56h-3.34zM139.04 639.64h3.34v3.56h-3.34zM139.04 602.67h3.34v3.55h-3.34zM139.04 594.13h3.34v3.56h-3.34zM142.08 619.73h3.34v3.56h-3.34zM142.08 596.98h3.34v3.55h-3.34zM145.13 622.57h3.34v3.55h-3.34zM145.13 616.89h3.34v3.55h-3.34zM151.21 614.04h3.34v3.56h-3.34zM151.21 605.51h3.34v3.55h-3.34zM154.26 619.73h3.34v3.56h-3.34zM154.26 608.35h3.34v3.56h-3.34zM154.26 602.67h3.34v3.55h-3.34zM154.26 591.29h3.34v3.55h-3.34zM157.30 648.17h3.34v3.55h-3.34zM157.30 588.45h3.34v3.56h-3.34zM160.34 619.73h3.34v3.56h-3.34zM160.34 614.04h3.34v3.56h-3.34zM160.34 574.23h3.34v3.56h-3.34zM163.38 616.89h3.34v3.55h-3.34zM163.38 594.13h3.34v3.56h-3.34zM163.38 582.76h3.34v3.56h-3.34zM166.43 574.23h3.34v3.56h-3.34zM169.47 616.89h3.34v3.55h-3.34zM169.47 577.07h3.34v3.55h-3.34zM172.51 602.67h3.34v3.55h-3.34zM172.51 596.98h3.34v3.55h-3.34zM175.56 594.13h3.34v3.56h-3.34zM175.56 565.69h3.34v3.55h-3.34zM178.60 608.35h3.34v3.56h-3.34zM178.60 562.85h3.34v3.56h-3.34zM181.64 611.20h3.34v3.55h-3.34zM184.69 614.04h3.34v3.56h-3.34zM184.69 611.20h3.34v3.55h-3.34zM187.73 673.77h3.34v3.55h-3.34zM187.73 659.55h3.34v3.55h-3.34zM187.73 656.70h3.34v3.56h-3.34zM187.73 645.33h3.34v3.56h-3.34zM187.73 642.48h3.34v3.55h-3.34zM187.73 588.45h3.34v3.56h-3.34zM190.77 602.67h3.34v3.55h-3.34zM193.81 616.89h3.34v3.55h-3.34zM193.81 599.82h3.34v3.55h-3.34zM196.86 616.89h3.34v3.55h-3.34zM196.86 614.04h3.34v3.56h-3.34zM196.86 611.20h3.34v3.55h-3.34zM196.86 605.51h3.34v3.55h-3.34zM196.86 602.67h3.34v3.55h-3.34zM199.90 605.51h3.34v3.55h-3.34zM199.90 602.67h3.34v3.55h-3.34zM199.90 599.82h3.34v3.55h-3.34zM199.90 594.13h3.34v3.56h-3.34zM202.94 614.04h3.34v3.56h-3.34zM202.94 611.20h3.34v3.55h-3.34zM205.99 608.35h3.34v3.56h-3.34zM209.03 619.73h3.34v3.56h-3.34zM209.03 611.20h3.34v3.55h-3.34zM209.03 608.35h3.34v3.56h-3.34zM209.03 605.51h3.34v3.55h-3.34zM212.07 616.89h3.34v3.55h-3.34zM218.16 599.82h3.34v3.55h-3.34zM221.20 596.98h3.34v3.55h-3.34zM224.24 639.64h3.34v3.56h-3.34zM227.29 602.67h3.34v3.55h-3.34zM227.29 596.98h3.34v3.55h-3.34zM230.33 599.82h3.34v3.55h-3.34zM230.33 591.29h3.34v3.55h-3.34zM236.42 594.13h3.34v3.56h-3.34zM239.46 611.20h3.34v3.55h-3.34zM239.46 596.98h3.34v3.55h-3.34zM242.50 619.73h3.34v3.56h-3.34zM242.50 594.13h3.34v3.56h-3.34zM245.55 616.89h3.34v3.55h-3.34zM245.55 605.51h3.34v3.55h-3.34zM248.59 633.95h3.34v3.56h-3.34zM248.59 625.42h3.34v3.56h-3.34zM251.63 599.82h3.34v3.55h-3.34zM254.67 619.73h3.34v3.56h-3.34zM254.67 614.04h3.34v3.56h-3.34zM257.72 611.20h3.34v3.55h-3.34zM260.76 619.73h3.34v3.56h-3.34zM260.76 599.82h3.34v3.55h-3.34zM260.76 596.98h3.34v3.55h-3.34zM263.80 625.42h3.34v3.56h-3.34zM266.85 594.13h3.34v3.56h-3.34zM269.89 619.73h3.34v3.56h-3.34zM269.89 594.13h3.34v3.56h-3.34zM272.93 596.98h3.34v3.55h-3.34zM275.98 596.98h3.34v3.55h-3.34zM279.02 619.73h3.34v3.56h-3.34zM279.02 616.89h3.34v3.55h-3.34zM282.06 619.73h3.34v3.56h-3.34zM285.10 614.04h3.34v3.56h-3.34zM285.10 596.98h3.34v3.55h-3.34zM288.15 611.20h3.34v3.55h-3.34zM288.15 594.13h3.34v3.56h-3.34zM291.19 622.57h3.34v3.55h-3.34zM294.23 619.73h3.34v3.56h-3.34zM294.23 611.20h3.34v3.55h-3.34zM300.32 625.42h3.34v3.56h-3.34zM300.32 616.89h3.34v3.55h-3.34zM300.32 611.20h3.34v3.55h-3.34zM300.32 605.51h3.34v3.55h-3.34z"/>
<path fill="#70537d" d="M62.97 676.61h3.34v3.56h-3.34zM66.01 676.61h3.34v3.56h-3.34zM66.01 668.08h3.34v3.55h-3.34zM84.27 651.01h3.34v3.56h-3.34zM96.44 673.77h3.34v3.55h-3.34zM120.78 622.57h3.34v3.55h-3.34zM123.83 619.73h3.34v3.56h-3.34zM126.87 670.92h3.34v3.56h-3.34zM126.87 659.55h3.34v3.55h-3.34zM126.87 648.17h3.34v3.55h-3.34zM126.87 642.48h3.34v3.55h-3.34zM129.91 608.35h3.34v3.56h-3.34zM132.95 616.89h3.34v3.55h-3.34zM132.95 605.51h3.34v3.55h-3.34zM132.95 599.82h3.34v3.55h-3.34zM132.95 594.13h3.34v3.56h-3.34zM136.00 611.20h3.34v3.55h-3.34zM136.00 602.67h3.34v3.55h-3.34zM139.04 616.89h3.34v3.55h-3.34zM139.04 611.20h3.34v3.55h-3.34zM139.04 599.82h3.34v3.55h-3.34zM145.13 594.13h3.34v3.56h-3.34zM148.17 605.51h3.34v3.55h-3.34zM148.17 602.67h3.34v3.55h-3.34zM151.21 611.20h3.34v3.55h-3.34zM151.21 594.13h3.34v3.56h-3.34zM157.30 673.77h3.34v3.55h-3.34zM157.30 659.55h3.34v3.55h-3.34zM157.30 642.48h3.34v3.55h-3.34zM157.30 631.11h3.34v3.56h-3.34zM157.30 628.26h3.34v3.55h-3.34zM157.30 625.42h3.34v3.56h-3.34zM157.30 594.13h3.34v3.56h-3.34zM160.34 608.35h3.34v3.56h-3.34zM163.38 599.82h3.34v3.55h-3.34zM172.51 614.04h3.34v3.56h-3.34zM175.56 616.89h3.34v3.55h-3.34zM175.56 602.67h3.34v3.55h-3.34zM175.56 599.82h3.34v3.55h-3.34zM178.60 614.04h3.34v3.56h-3.34zM187.73 628.26h3.34v3.55h-3.34zM187.73 622.57h3.34v3.55h-3.34zM187.73 591.29h3.34v3.55h-3.34zM190.77 591.29h3.34v3.55h-3.34zM193.81 611.20h3.34v3.55h-3.34zM196.86 596.98h3.34v3.55h-3.34zM199.90 616.89h3.34v3.55h-3.34zM202.94 619.73h3.34v3.56h-3.34zM205.99 611.20h3.34v3.55h-3.34zM212.07 611.20h3.34v3.55h-3.34zM212.07 602.67h3.34v3.55h-3.34zM215.12 631.11h3.34v3.56h-3.34zM215.12 608.35h3.34v3.56h-3.34zM215.12 605.51h3.34v3.55h-3.34zM218.16 622.57h3.34v3.55h-3.34zM221.20 614.04h3.34v3.56h-3.34zM221.20 608.35h3.34v3.56h-3.34zM224.24 605.51h3.34v3.55h-3.34zM227.29 608.35h3.34v3.56h-3.34zM227.29 605.51h3.34v3.55h-3.34zM230.33 608.35h3.34v3.56h-3.34zM233.37 616.89h3.34v3.55h-3.34zM233.37 605.51h3.34v3.55h-3.34zM233.37 591.29h3.34v3.55h-3.34zM236.42 628.26h3.34v3.55h-3.34zM236.42 611.20h3.34v3.55h-3.34zM236.42 602.67h3.34v3.55h-3.34zM236.42 599.82h3.34v3.55h-3.34zM239.46 614.04h3.34v3.56h-3.34zM242.50 599.82h3.34v3.55h-3.34zM245.55 614.04h3.34v3.56h-3.34zM245.55 596.98h3.34v3.55h-3.34zM248.59 611.20h3.34v3.55h-3.34zM248.59 602.67h3.34v3.55h-3.34zM251.63 619.73h3.34v3.56h-3.34zM251.63 605.51h3.34v3.55h-3.34zM254.67 616.89h3.34v3.55h-3.34zM254.67 602.67h3.34v3.55h-3.34zM257.72 616.89h3.34v3.55h-3.34zM257.72 591.29h3.34v3.55h-3.34zM260.76 614.04h3.34v3.56h-3.34zM260.76 594.13h3.34v3.56h-3.34zM263.80 619.73h3.34v3.56h-3.34zM263.80 616.89h3.34v3.55h-3.34zM266.85 608.35h3.34v3.56h-3.34zM266.85 602.67h3.34v3.55h-3.34zM269.89 611.20h3.34v3.55h-3.34zM272.93 602.67h3.34v3.55h-3.34zM272.93 474.69h3.34v3.56h-3.34zM275.98 605.51h3.34v3.55h-3.34zM275.98 599.82h3.34v3.55h-3.34zM275.98 591.29h3.34v3.55h-3.34zM279.02 602.67h3.34v3.55h-3.34zM285.10 616.89h3.34v3.55h-3.34zM288.15 619.73h3.34v3.56h-3.34zM291.19 616.89h3.34v3.55h-3.34zM291.19 605.51h3.34v3.55h-3.34zM294.23 605.51h3.34v3.55h-3.34zM294.23 602.67h3.34v3.55h-3.34zM297.28 616.89h3.34v3.55h-3.34zM297.28 614.04h3.34v3.56h-3.34zM297.28 602.67h3.34v3.55h-3.34zM297.28 599.82h3.34v3.55h-3.34z"/>
<path fill="#6a4d78" d="M59.92 679.45h3.34v3.55h-3.34zM69.05 670.92h3.34v3.56h-3.34zM96.44 668.08h3.34v3.55h-3.34zM126.87 653.86h3.34v3.55h-3.34zM126.87 633.95h3.34v3.56h-3.34zM129.91 614.04h3.34v3.56h-3.34zM132.95 611.20h3.34v3.55h-3.34zM136.00 608.35h3.34v3.56h-3.34zM139.04 605.51h3.34v3.55h-3.34zM142.08 614.04h3.34v3.56h-3.34zM142.08 608.35h3.34v3.56h-3.34zM145.13 605.51h3.34v3.55h-3.34zM148.17 599.82h3.34v3.55h-3.34zM148.17 596.98h3.34v3.55h-3.34zM166.43 608.35h3.34v3.56h-3.34zM169.47 611.20h3.34v3.55h-3.34zM169.47 605.51h3.34v3.55h-3.34zM172.51 608.35h3.34v3.56h-3.34zM181.64 622.57h3.34v3.55h-3.34zM181.64 619.73h3.34v3.56h-3.34zM181.64 605.51h3.34v3.55h-3.34zM181.64 588.45h3.34v3.56h-3.34zM184.69 608.35h3.34v3.56h-3.34zM184.69 596.98h3.34v3.55h-3.34zM187.73 687.99h3.34v0.01h-3.34zM187.73 685.14h3.34v2.86h-3.34zM187.73 682.30h3.34v3.56h-3.34zM187.73 676.61h3.34v3.56h-3.34zM187.73 670.92h3.34v3.56h-3.34zM187.73 648.17h3.34v3.55h-3.34zM187.73 616.89h3.34v3.55h-3.34zM190.77 622.57h3.34v3.55h-3.34zM212.07 622.57h3.34v3.55h-3.34zM215.12 614.04h3.34v3.56h-3.34zM215.12 602.67h3.34v3.55h-3.34zM221.20 602.67h3.34v3.55h-3.34zM224.24 599.82h3.34v3.55h-3.34zM224.24 596.98h3.34v3.55h-3.34zM233.37 608.35h3.34v3.56h-3.34zM233.37 599.82h3.34v3.55h-3.34zM233.37 596.98h3.34v3.55h-3.34zM236.42 619.73h3.34v3.56h-3.34zM239.46 625.42h3.34v3.56h-3.34zM239.46 599.82h3.34v3.55h-3.34zM242.50 614.04h3.34v3.56h-3.34zM242.50 611.20h3.34v3.55h-3.34zM245.55 602.67h3.34v3.55h-3.34zM245.55 591.29h3.34v3.55h-3.34zM248.59 614.04h3.34v3.56h-3.34zM248.59 594.13h3.34v3.56h-3.34zM248.59 591.29h3.34v3.55h-3.34zM251.63 611.20h3.34v3.55h-3.34zM251.63 602.67h3.34v3.55h-3.34zM251.63 596.98h3.34v3.55h-3.34zM254.67 594.13h3.34v3.56h-3.34zM257.72 599.82h3.34v3.55h-3.34zM260.76 622.57h3.34v3.55h-3.34zM260.76 608.35h3.34v3.56h-3.34zM260.76 602.67h3.34v3.55h-3.34zM266.85 616.89h3.34v3.55h-3.34zM266.85 596.98h3.34v3.55h-3.34zM269.89 605.51h3.34v3.55h-3.34zM272.93 616.89h3.34v3.55h-3.34zM279.02 599.82h3.34v3.55h-3.34zM279.02 591.29h3.34v3.55h-3.34zM282.06 599.82h3.34v3.55h-3.34zM285.10 611.20h3.34v3.55h-3.34zM291.19 611.20h3.34v3.55h-3.34zM291.19 594.13h3.34v3.56h-3.34zM294.23 608.35h3.34v3.56h-3.34zM294.23 596.98h3.34v3.55h-3.34zM294.23 591.29h3.34v3.55h-3.34zM297.28 605.51h3.34v3.55h-3.34zM300.32 608.35h3.34v3.56h-3.34zM300.32 602.67h3.34v3.55h-3.34z"/>
<path fill="#644772" d="M111.65 625.42h3.34v3.56h-3.34zM126.87 676.61h3.34v3.56h-3.34zM126.87 651.01h3.34v3.56h-3.34zM126.87 628.26h3.34v3.55h-3.34zM139.04 608.35h3.34v3.56h-3.34zM142.08 602.67h3.34v3.55h-3.34zM145.13 611.20h3.34v3.55h-3.34zM148.17 608.35h3.34v3.56h-3.34zM151.21 599.82h3.34v3.55h-3.34zM154.26 614.04h3.34v3.56h-3.34zM157.30 676.61h3.34v3.56h-3.34zM157.30 670.92h3.34v3.56h-3.34zM157.30 668.08h3.34v3.55h-3.34zM157.30 653.86h3.34v3.55h-3.34zM157.30 622.57h3.34v3.55h-3.34zM157.30 619.73h3.34v3.56h-3.34zM157.30 596.98h3.34v3.55h-3.34zM157.30 582.76h3.34v3.56h-3.34zM163.38 605.51h3.34v3.55h-3.34zM166.43 614.04h3.34v3.56h-3.34zM169.47 673.77h3.34v3.55h-3.34zM178.60 602.67h3.34v3.55h-3.34zM181.64 599.82h3.34v3.55h-3.34zM187.73 599.82h3.34v3.55h-3.34zM196.86 608.35h3.34v3.56h-3.34zM218.16 596.98h3.34v3.55h-3.34zM221.20 599.82h3.34v3.55h-3.34zM230.33 611.20h3.34v3.55h-3.34zM230.33 605.51h3.34v3.55h-3.34zM230.33 594.13h3.34v3.56h-3.34zM233.37 614.04h3.34v3.56h-3.34zM233.37 602.67h3.34v3.55h-3.34zM236.42 605.51h3.34v3.55h-3.34zM239.46 602.67h3.34v3.55h-3.34zM242.50 622.57h3.34v3.55h-3.34zM242.50 605.51h3.34v3.55h-3.34zM245.55 611.20h3.34v3.55h-3.34zM248.59 608.35h3.34v3.56h-3.34zM251.63 608.35h3.34v3.56h-3.34zM254.67 608.35h3.34v3.56h-3.34zM254.67 599.82h3.34v3.55h-3.34zM254.67 588.45h3.34v3.56h-3.34zM257.72 602.67h3.34v3.55h-3.34zM257.72 596.98h3.34v3.55h-3.34zM260.76 611.20h3.34v3.55h-3.34zM263.80 614.04h3.34v3.56h-3.34zM263.80 605.51h3.34v3.55h-3.34zM263.80 599.82h3.34v3.55h-3.34zM266.85 614.04h3.34v3.56h-3.34zM272.93 608.35h3.34v3.56h-3.34zM272.93 599.82h3.34v3.55h-3.34zM282.06 614.04h3.34v3.56h-3.34zM282.06 596.98h3.34v3.55h-3.34zM285.10 608.35h3.34v3.56h-3.34zM285.10 599.82h3.34v3.55h-3.34zM288.15 614.04h3.34v3.56h-3.34zM288.15 608.35h3.34v3.56h-3.34zM288.15 602.67h3.34v3.55h-3.34zM288.15 591.29h3.34v3.55h-3.34zM297.28 611.20h3.34v3.55h-3.34zM303.36 611.20h3.34v3.55h-3.34zM303.36 605.51h3.34v3.55h-3.34z"/>
<path fill="#5f416d" d="M66.01 673.77h3.34v3.55h-3.34zM66.01 662.39h3.34v3.55h-3.34zM96.44 679.45h3.34v3.55h-3.34zM126.87 687.99h3.34v0.01h-3.34zM126.87 685.14h3.34v2.86h-3.34zM126.87 682.30h3.34v3.56h-3.34zM126.87 622.57h3.34v3.55h-3.34zM126.87 614.04h3.34v3.56h-3.34zM126.87 611.20h3.34v3.55h-3.34zM175.56 571.38h3.34v3.55h-3.34zM187.73 631.11h3.34v3.56h-3.34zM187.73 611.20h3.34v3.55h-3.34zM187.73 596.98h3.34v3.55h-3.34zM190.77 551.47h3.34v3.55h-3.34zM196.86 591.29h3.34v3.55h-3.34zM227.29 611.20h3.34v3.55h-3.34zM233.37 631.11h3.34v3.56h-3.34zM245.55 619.73h3.34v3.56h-3.34zM245.55 608.35h3.34v3.56h-3.34zM248.59 605.51h3.34v3.55h-3.34zM254.67 605.51h3.34v3.55h-3.34zM257.72 614.04h3.34v3.56h-3.34zM257.72 605.51h3.34v3.55h-3.34zM263.80 611.20h3.34v3.55h-3.34zM266.85 611.20h3.34v3.55h-3.34zM266.85 599.82h3.34v3.55h-3.34zM269.89 602.67h3.34v3.55h-3.34zM269.89 596.98h3.34v3.55h-3.34zM272.93 594.13h3.34v3.56h-3.34zM275.98 602.67h3.34v3.55h-3.34zM285.10 605.51h3.34v3.55h-3.34zM288.15 596.98h3.34v3.55h-3.34zM294.23 614.04h3.34v3.56h-3.34zM300.32 614.04h3.34v3.56h-3.34z"/>
<path fill="#593b67" d="M126.87 619.73h3.34v3.56h-3.34zM126.87 605.51h3.34v3.55h-3.34zM157.30 616.89h3.34v3.55h-3.34zM157.30 602.67h3.34v3.55h-3.34zM166.43 602.67h3.34v3.55h-3.34zM175.56 611.20h3.34v3.55h-3.34zM187.73 625.42h3.34v3.56h-3.34zM187.73 619.73h3.34v3.56h-3.34zM187.73 602.67h3.34v3.55h-3.34zM187.73 594.13h3.34v3.56h-3.34zM199.90 611.20h3.34v3.55h-3.34zM218.16 619.73h3.34v3.56h-3.34zM218.16 614.04h3.34v3.56h-3.34zM218.16 602.67h3.34v3.55h-3.34zM224.24 622.57h3.34v3.55h-3.34zM239.46 608.35h3.34v3.56h-3.34zM245.55 594.13h3.34v3.56h-3.34zM251.63 614.04h3.34v3.56h-3.34zM260.76 616.89h3.34v3.55h-3.34zM269.89 608.35h3.34v3.56h-3.34zM272.93 611.20h3.34v3.55h-3.34zM272.93 605.51h3.34v3.55h-3.34zM275.98 619.73h3.34v3.56h-3.34zM279.02 611.20h3.34v3.55h-3.34zM279.02 605.51h3.34v3.55h-3.34zM306.41 602.67h3.34v3.55h-3.34z"/>
<path fill="#533662" d="M126.87 599.82h3.34v3.55h-3.34zM157.30 605.51h3.34v3.55h-3.34zM157.30 599.82h3.34v3.55h-3.34zM184.69 602.67h3.34v3.55h-3.34zM209.03 614.04h3.34v3.56h-3.34zM218.16 616.89h3.34v3.55h-3.34zM218.16 608.35h3.34v3.56h-3.34zM263.80 602.67h3.34v3.55h-3.34zM269.89 614.04h3.34v3.56h-3.34zM275.98 608.35h3.34v3.56h-3.34zM282.06 602.67h3.34v3.55h-3.34zM282.06 585.60h3.34v3.55h-3.34zM291.19 608.35h3.34v3.56h-3.34z"/>
<path fill="#4d305d" d="M126.87 608.35h3.34v3.56h-3.34zM157.30 614.04h3.34v3.56h-3.34zM187.73 614.04h3.34v3.56h-3.34zM187.73 605.51h3.34v3.55h-3.34zM218.16 611.20h3.34v3.55h-3.34zM230.33 616.89h3.34v3.55h-3.34zM248.59 616.89h3.34v3.55h-3.34zM269.89 599.82h3.34v3.55h-3.34zM275.98 614.04h3.34v3.56h-3.34zM291.19 599.82h3.34v3.55h-3.34z"/>
<path fill="#472a57" d="M126.87 616.89h3.34v3.55h-3.34zM126.87 602.67h3.34v3.55h-3.34zM157.30 611.20h3.34v3.55h-3.34zM157.30 608.35h3.34v3.56h-3.34zM218.16 605.51h3.34v3.55h-3.34zM248.59 599.82h3.34v3.55h-3.34zM254.67 611.20h3.34v3.55h-3.34zM257.72 608.35h3.34v3.56h-3.34zM263.80 608.35h3.34v3.56h-3.34zM266.85 605.51h3.34v3.55h-3.34z"/>
<path fill="#412452" d="M175.56 605.51h3.34v3.55h-3.34zM224.24 611.20h3.34v3.55h-3.34zM282.06 608.35h3.34v3.56h-3.34z"/>
<path fill="#3b1e4c" d="M126.87 596.98h3.34v3.55h-3.34zM126.87 594.13h3.34v3.56h-3.34zM126.87 591.29h3.34v3.55h-3.34zM145.13 599.82h3.34v3.55h-3.34z"/>
<path fill="#341847" d="M260.76 605.51h3.34v3.55h-3.34z"/>
<path fill="#2e1241" d="M187.73 608.35h3.34v3.56h-3.34z"/></g><path fill="#b29fbb" fill-opacity="0.8" d="M218.53 534.41h2.30v3.55h-2.30z"/><path fill="#ad99b6" fill-opacity="0.8" d="M188.10 568.54h2.30v3.56h-2.30zM218.53 540.10h2.30v3.55h-2.30z"/><path fill="#a892b1" fill-opacity="0.8" d="M188.10 574.23h2.30v3.56h-2.30zM188.10 557.16h2.30v3.56h-2.30zM218.53 528.72h2.30v3.56h-2.30zM218.53 517.35h2.30v3.56h-2.30z"/><path fill="#a28bac" fill-opacity="0.8" d="M188.10 551.47h2.30v3.55h-2.30zM188.10 545.79h2.30v3.55h-2.30zM188.10 542.94h2.30v3.56h-2.30zM218.53 673.77h2.30v3.55h-2.30zM218.53 548.63h2.30v3.55h-2.30zM218.53 545.79h2.30v3.55h-2.30z"/><path fill="#9c85a7" fill-opacity="0.8" d="M157.67 585.60h2.30v3.55h-2.30zM218.53 670.92h2.30v3.56h-2.30zM218.53 665.23h2.30v3.56h-2.30zM218.53 656.70h2.30v3.56h-2.30zM218.53 651.01h2.30v3.56h-2.30zM218.53 639.64h2.30v3.56h-2.30zM218.53 574.23h2.30v3.56h-2.30zM218.53 568.54h2.30v3.56h-2.30zM218.53 562.85h2.30v3.56h-2.30zM218.53 557.16h2.30v3.56h-2.30zM218.53 551.47h2.30v3.55h-2.30zM218.53 523.03h2.30v3.55h-2.30zM218.53 520.19h2.30v3.56h-2.30zM218.53 514.50h2.30v3.55h-2.30z"/><path fill="#977ea2" fill-opacity="0.8" d="M188.10 562.85h2.30v3.56h-2.30zM188.10 540.10h2.30v3.55h-2.30zM218.53 679.45h2.30v3.55h-2.30zM218.53 579.91h2.30v3.56h-2.30zM218.53 542.94h2.30v3.56h-2.30z"/><path fill="#91789d" fill-opacity="0.8" d="M188.10 668.08h2.30v3.55h-2.30zM188.10 579.91h2.30v3.56h-2.30zM188.10 548.63h2.30v3.55h-2.30zM218.53 571.38h2.30v3.55h-2.30zM218.53 560.01h2.30v3.55h-2.30zM218.53 537.25h2.30v3.56h-2.30zM218.53 511.66h2.30v3.56h-2.30z"/><path fill="#8b7198" fill-opacity="0.8" d="M157.67 574.23h2.30v3.56h-2.30zM188.10 679.45h2.30v3.55h-2.30zM218.53 676.61h2.30v3.56h-2.30zM218.53 585.60h2.30v3.55h-2.30zM218.53 582.76h2.30v3.56h-2.30zM218.53 554.32h2.30v3.56h-2.30z"/><path fill="#866a93" fill-opacity="0.8" d="M127.24 679.45h2.30v3.55h-2.30zM157.67 682.30h2.30v2.70h-2.30zM157.67 651.01h2.30v3.56h-2.30zM157.67 645.33h2.30v3.56h-2.30zM157.67 636.79h2.30v3.55h-2.30zM157.67 633.95h2.30v3.56h-2.30zM157.67 591.29h2.30v3.55h-2.30zM157.67 577.07h2.30v3.55h-2.30zM157.67 571.38h2.30v3.55h-2.30zM188.10 653.86h2.30v3.55h-2.30zM188.10 577.07h2.30v3.55h-2.30zM188.10 565.69h2.30v3.55h-2.30zM218.53 682.30h2.30v2.70h-2.30zM218.53 668.08h2.30v3.55h-2.30zM218.53 648.17h2.30v3.55h-2.30zM218.53 625.42h2.30v3.56h-2.30zM218.53 594.13h2.30v3.56h-2.30zM218.53 577.07h2.30v3.55h-2.30zM218.53 531.57h2.30v3.56h-2.30z"/><path fill="#80648d" fill-opacity="0.8" d="M127.24 673.77h2.30v3.55h-2.30zM127.24 668.08h2.30v3.55h-2.30zM127.24 656.70h2.30v3.56h-2.30zM157.67 662.39h2.30v3.55h-2.30zM157.67 656.70h2.30v3.56h-2.30zM157.67 639.64h2.30v3.56h-2.30zM157.67 568.54h2.30v3.56h-2.30zM188.10 662.39h2.30v3.55h-2.30zM188.10 651.01h2.30v3.56h-2.30zM188.10 639.64h2.30v3.56h-2.30zM188.10 636.79h2.30v3.55h-2.30zM188.10 633.95h2.30v3.56h-2.30zM188.10 585.60h2.30v3.55h-2.30zM188.10 571.38h2.30v3.55h-2.30zM218.53 662.39h2.30v3.55h-2.30zM218.53 659.55h2.30v3.55h-2.30zM218.53 653.86h2.30v3.55h-2.30zM218.53 645.33h2.30v3.56h-2.30zM218.53 642.48h2.30v3.55h-2.30zM218.53 636.79h2.30v3.55h-2.30zM218.53 631.11h2.30v3.56h-2.30zM218.53 588.45h2.30v3.56h-2.30zM218.53 565.69h2.30v3.55h-2.30zM218.53 525.88h2.30v3.55h-2.30z"/><path fill="#7b5e88" fill-opacity="0.8" d="M127.24 662.39h2.30v3.55h-2.30zM127.24 645.33h2.30v3.56h-2.30zM127.24 636.79h2.30v3.55h-2.30zM127.24 631.11h2.30v3.56h-2.30zM127.24 625.42h2.30v3.56h-2.30zM157.67 679.45h2.30v3.55h-2.30zM157.67 665.23h2.30v3.56h-2.30zM157.67 579.91h2.30v3.56h-2.30zM188.10 665.23h2.30v3.56h-2.30zM188.10 582.76h2.30v3.56h-2.30zM188.10 560.01h2.30v3.55h-2.30zM188.10 554.32h2.30v3.56h-2.30zM218.53 633.95h2.30v3.56h-2.30zM218.53 628.26h2.30v3.55h-2.30zM218.53 591.29h2.30v3.55h-2.30z"/><path fill="#755882" fill-opacity="0.8" d="M127.24 665.23h2.30v3.56h-2.30zM127.24 639.64h2.30v3.56h-2.30zM157.67 648.17h2.30v3.55h-2.30zM157.67 588.45h2.30v3.56h-2.30zM188.10 673.77h2.30v3.55h-2.30zM188.10 659.55h2.30v3.55h-2.30zM188.10 656.70h2.30v3.56h-2.30zM188.10 645.33h2.30v3.56h-2.30zM188.10 642.48h2.30v3.55h-2.30zM188.10 588.45h2.30v3.56h-2.30zM218.53 599.82h2.30v3.55h-2.30z"/><path fill="#70537d" fill-opacity="0.8" d="M127.24 670.92h2.30v3.56h-2.30zM127.24 659.55h2.30v3.55h-2.30zM127.24 648.17h2.30v3.55h-2.30zM127.24 642.48h2.30v3.55h-2.30zM157.67 673.77h2.30v3.55h-2.30zM157.67 659.55h2.30v3.55h-2.30zM157.67 642.48h2.30v3.55h-2.30zM157.67 631.11h2.30v3.56h-2.30zM157.67 628.26h2.30v3.55h-2.30zM157.67 625.42h2.30v3.56h-2.30zM157.67 594.13h2.30v3.56h-2.30zM188.10 628.26h2.30v3.55h-2.30zM188.10 622.57h2.30v3.55h-2.30zM188.10 591.29h2.30v3.55h-2.30zM218.53 622.57h2.30v3.55h-2.30z"/><path fill="#6a4d78" fill-opacity="0.8" d="M127.24 653.86h2.30v3.55h-2.30zM127.24 633.95h2.30v3.56h-2.30zM188.10 682.30h2.30v2.70h-2.30zM188.10 676.61h2.30v3.56h-2.30zM188.10 670.92h2.30v3.56h-2.30zM188.10 648.17h2.30v3.55h-2.30zM188.10 616.89h2.30v3.55h-2.30z"/><path fill="#644772" fill-opacity="0.8" d="M127.24 676.61h2.30v3.56h-2.30zM127.24 651.01h2.30v3.56h-2.30zM127.24 628.26h2.30v3.55h-2.30zM157.67 676.61h2.30v3.56h-2.30zM157.67 670.92h2.30v3.56h-2.30zM157.67 668.08h2.30v3.55h-2.30zM157.67 653.86h2.30v3.55h-2.30zM157.67 622.57h2.30v3.55h-2.30zM157.67 619.73h2.30v3.56h-2.30zM157.67 596.98h2.30v3.55h-2.30zM157.67 582.76h2.30v3.56h-2.30zM188.10 599.82h2.30v3.55h-2.30zM218.53 596.98h2.30v3.55h-2.30z"/><path fill="#5f416d" fill-opacity="0.8" d="M127.24 682.30h2.30v2.70h-2.30zM127.24 622.57h2.30v3.55h-2.30zM127.24 614.04h2.30v3.56h-2.30zM127.24 611.20h2.30v3.55h-2.30zM188.10 631.11h2.30v3.56h-2.30zM188.10 611.20h2.30v3.55h-2.30zM188.10 596.98h2.30v3.55h-2.30z"/><path fill="#593b67" fill-opacity="0.8" d="M127.24 619.73h2.30v3.56h-2.30zM127.24 605.51h2.30v3.55h-2.30zM157.67 616.89h2.30v3.55h-2.30zM157.67 602.67h2.30v3.55h-2.30zM188.10 625.42h2.30v3.56h-2.30zM188.10 619.73h2.30v3.56h-2.30zM188.10 602.67h2.30v3.55h-2.30zM188.10 594.13h2.30v3.56h-2.30zM218.53 619.73h2.30v3.56h-2.30zM218.53 614.04h2.30v3.56h-2.30zM218.53 602.67h2.30v3.55h-2.30z"/><path fill="#533662" fill-opacity="0.8" d="M127.24 599.82h2.30v3.55h-2.30zM157.67 605.51h2.30v3.55h-2.30zM157.67 599.82h2.30v3.55h-2.30zM218.53 616.89h2.30v3.55h-2.30zM218.53 608.35h2.30v3.56h-2.30z"/><path fill="#4d305d" fill-opacity="0.8" d="M127.24 608.35h2.30v3.56h-2.30zM157.67 614.04h2.30v3.56h-2.30zM188.10 614.04h2.30v3.56h-2.30zM188.10 605.51h2.30v3.55h-2.30zM218.53 611.20h2.30v3.55h-2.30z"/><path fill="#472a57" fill-opacity="0.8" d="M127.24 616.89h2.30v3.55h-2.30zM127.24 602.67h2.30v3.55h-2.30zM157.67 611.20h2.30v3.55h-2.30zM157.67 608.35h2.30v3.56h-2.30zM218.53 605.51h2.30v3.55h-2.30z"/><path fill="#3b1e4c" fill-opacity="0.8" d="M127.24 596.98h2.30v3.55h-2.30z"/><path fill="#2e1241" fill-opacity="0.8" d="M188.10 608.35h2.30v3.56h-2.30z"/></g><g clip-path="url(#clip685)"><path fill="#c2b3c9" d="M312.49 491.75h3.04v3.56h-3.04zM312.49 488.91h3.04v3.55h-3.04zM312.49 486.06h3.04v3.56h-3.04zM312.49 511.66h3.04v3.56h-3.04zM312.49 508.81h3.04v3.55h-3.04zM312.49 525.88h3.04v3.55h-3.04zM312.49 523.03h3.04v3.55h-3.04zM312.49 520.19h3.04v3.56h-3.04zM312.49 517.35h3.04v3.56h-3.04zM312.49 542.94h3.04v3.56h-3.04zM312.49 540.10h3.04v3.55h-3.04zM312.49 537.25h3.04v3.56h-3.04zM312.49 534.41h3.04v3.55h-3.04zM312.49 531.57h3.04v3.56h-3.04zM312.49 528.72h3.04v3.56h-3.04zM312.49 562.85h3.04v3.56h-3.04zM312.49 560.01h3.04v3.55h-3.04zM312.49 557.16h3.04v3.56h-3.04zM312.49 554.32h3.04v3.56h-3.04zM312.49 551.47h3.04v3.55h-3.04zM312.49 548.63h3.04v3.55h-3.04zM312.49 545.79h3.04v3.55h-3.04zM312.49 574.23h3.04v3.56h-3.04zM312.49 571.38h3.04v3.55h-3.04zM312.49 588.45h3.04v3.56h-3.04zM312.49 585.60h3.04v3.55h-3.04zM312.49 594.13h3.04v3.56h-3.04zM312.49 608.35h3.04v3.56h-3.04zM312.49 605.51h3.04v3.55h-3.04zM312.49 602.67h3.04v3.55h-3.04zM312.49 619.73h3.04v3.56h-3.04zM312.49 616.89h3.04v3.55h-3.04zM312.49 614.04h3.04v3.56h-3.04zM312.49 611.20h3.04v3.55h-3.04z"/><path fill="#b7a6c0" d="M312.49 480.37h3.04v3.56h-3.04z"/><path fill="#9c85a7" d="M312.49 432.03h3.04v3.55h-3.04zM312.49 449.09h3.04v3.56h-3.04zM312.49 460.47h3.04v3.56h-3.04zM312.49 500.28h3.04v3.56h-3.04z"/><path fill="#977ea2" d="M312.49 628.26h3.04v3.55h-3.04z"/></g>
<g stroke="#000" stroke-opacity="0.125" stroke-width="1"><line x1="37.1" y1="400.6" x2="37.1" y2="685.0"/><line x1="67.5" y1="400.6" x2="67.5" y2="685.0"/><line x1="98.0" y1="400.6" x2="98.0" y2="685.0"/><line x1="128.4" y1="400.6" x2="128.4" y2="685.0"/><line x1="158.8" y1="400.6" x2="158.8" y2="685.0"/><line x1="189.2" y1="400.6" x2="189.2" y2="685.0"/><line x1="219.7" y1="400.6" x2="219.7" y2="685.0"/><line x1="250.1" y1="400.6" x2="250.1" y2="685.0"/><line x1="280.5" y1="400.6" x2="280.5" y2="685.0"/><line x1="311.0" y1="400.6" x2="311.0" y2="685.0"/><line x1="341.4" y1="400.6" x2="341.4" y2="685.0"/><line x1="36.0" y1="628.1" x2="350.0" y2="628.1"/><line x1="36.0" y1="571.2" x2="350.0" y2="571.2"/><line x1="36.0" y1="514.4" x2="350.0" y2="514.4"/><line x1="36.0" y1="457.5" x2="350.0" y2="457.5"/></g>
<g stroke="#6a6a6a" stroke-width="1"><line x1="35.6" y1="400.6" x2="35.6" y2="685.5"/><line x1="31.0" y1="685.0" x2="35.6" y2="685.0"/><line x1="31.0" y1="628.1" x2="35.6" y2="628.1"/><line x1="31.0" y1="571.2" x2="35.6" y2="571.2"/><line x1="31.0" y1="514.4" x2="35.6" y2="514.4"/><line x1="31.0" y1="457.5" x2="35.6" y2="457.5"/><line x1="31.0" y1="400.6" x2="35.6" y2="400.6"/></g><g stroke="#5c5c5c" stroke-width="1"><line x1="37.1" y1="685.5" x2="341.4" y2="685.5"/><line x1="37.1" y1="685.5" x2="37.1" y2="690.1"/><line x1="67.5" y1="685.5" x2="67.5" y2="690.1"/><line x1="98.0" y1="685.5" x2="98.0" y2="690.1"/><line x1="128.4" y1="685.5" x2="128.4" y2="690.1"/><line x1="158.8" y1="685.5" x2="158.8" y2="690.1"/><line x1="189.2" y1="685.5" x2="189.2" y2="690.1"/><line x1="219.7" y1="685.5" x2="219.7" y2="690.1"/><line x1="250.1" y1="685.5" x2="250.1" y2="690.1"/><line x1="280.5" y1="685.5" x2="280.5" y2="690.1"/><line x1="311.0" y1="685.5" x2="311.0" y2="690.1"/><line x1="341.4" y1="685.5" x2="341.4" y2="690.1"/></g><g font-size="8.1" fill="#000"><text class="tk" transform="translate(37.1 702.5) scale(1 1.08)" text-anchor="middle">1850</text><text class="tk" transform="translate(67.5 702.5) scale(1 1.08)" text-anchor="middle">1860</text><text class="tk" transform="translate(98.0 702.5) scale(1 1.08)" text-anchor="middle">1870</text><text class="tk" transform="translate(128.4 702.5) scale(1 1.08)" text-anchor="middle">1880</text><text class="tk" transform="translate(158.8 702.5) scale(1 1.08)" text-anchor="middle">1890</text><text class="tk" transform="translate(189.2 702.5) scale(1 1.08)" text-anchor="middle">1900</text><text class="tk" transform="translate(219.7 702.5) scale(1 1.08)" text-anchor="middle">1910</text><text class="tk" transform="translate(250.1 702.5) scale(1 1.08)" text-anchor="middle">1920</text><text class="tk" transform="translate(280.5 702.5) scale(1 1.08)" text-anchor="middle">1930</text><text class="tk" transform="translate(311.0 702.5) scale(1 1.08)" text-anchor="middle">1940</text><text class="tk" transform="translate(341.4 702.5) scale(1 1.08)" text-anchor="middle">1950</text><text class="tk" transform="translate(24.6 685.0) rotate(-90) scale(1 1.08)" text-anchor="middle">0</text><text class="tk" transform="translate(24.6 628.1) rotate(-90) scale(1 1.08)" text-anchor="middle">20</text><text class="tk" transform="translate(24.6 571.2) rotate(-90) scale(1 1.08)" text-anchor="middle">40</text><text class="tk" transform="translate(24.6 514.4) rotate(-90) scale(1 1.08)" text-anchor="middle">60</text><text class="tk" transform="translate(24.6 457.5) rotate(-90) scale(1 1.08)" text-anchor="middle">80</text><text class="tk" transform="translate(24.6 400.6) rotate(-90) scale(1 1.08)" text-anchor="middle">100</text></g>
<defs><linearGradient id="lgb" x1="0" y1="0" x2="0" y2="1"><stop offset="0.00" stop-color="#280c3c"/><stop offset="0.10" stop-color="#2a0e3e"/><stop offset="0.20" stop-color="#301343"/><stop offset="0.30" stop-color="#391d4b"/><stop offset="0.40" stop-color="#472957"/><stop offset="0.50" stop-color="#583a66"/><stop offset="0.60" stop-color="#6b4e78"/><stop offset="0.70" stop-color="#81658e"/><stop offset="0.80" stop-color="#aa95b4"/><stop offset="0.90" stop-color="#c1b2cb"/><stop offset="1.00" stop-color="#c6b8d0"/></linearGradient></defs><rect x="41.5" y="412.6" width="4" height="32.3" rx="2" fill="url(#lgb)"/><text class="lt" transform="translate(43.6 407.7)" font-size="6.5" letter-spacing="-0.15">high mobility</text><text class="lt" transform="translate(43.6 453.1)" font-size="6.5" letter-spacing="-0.15">low mobility</text>
<text class="ax" transform="translate(6.3 542.7) rotate(-90) scale(1 1.08)" text-anchor="middle" font-size="7.8">Age</text>
<text class="ax" transform="translate(192.6 721.1) scale(1 1.08)" text-anchor="middle" font-size="7.8">Birth year</text>
<text class="tt" x="192.6" y="384.6" text-anchor="middle" font-size="9.3">Males</text>
<text x="342.9" y="392.9" text-anchor="end" font-size="11.6" font-weight="bold">Plot B</text>
</svg></body></html>
